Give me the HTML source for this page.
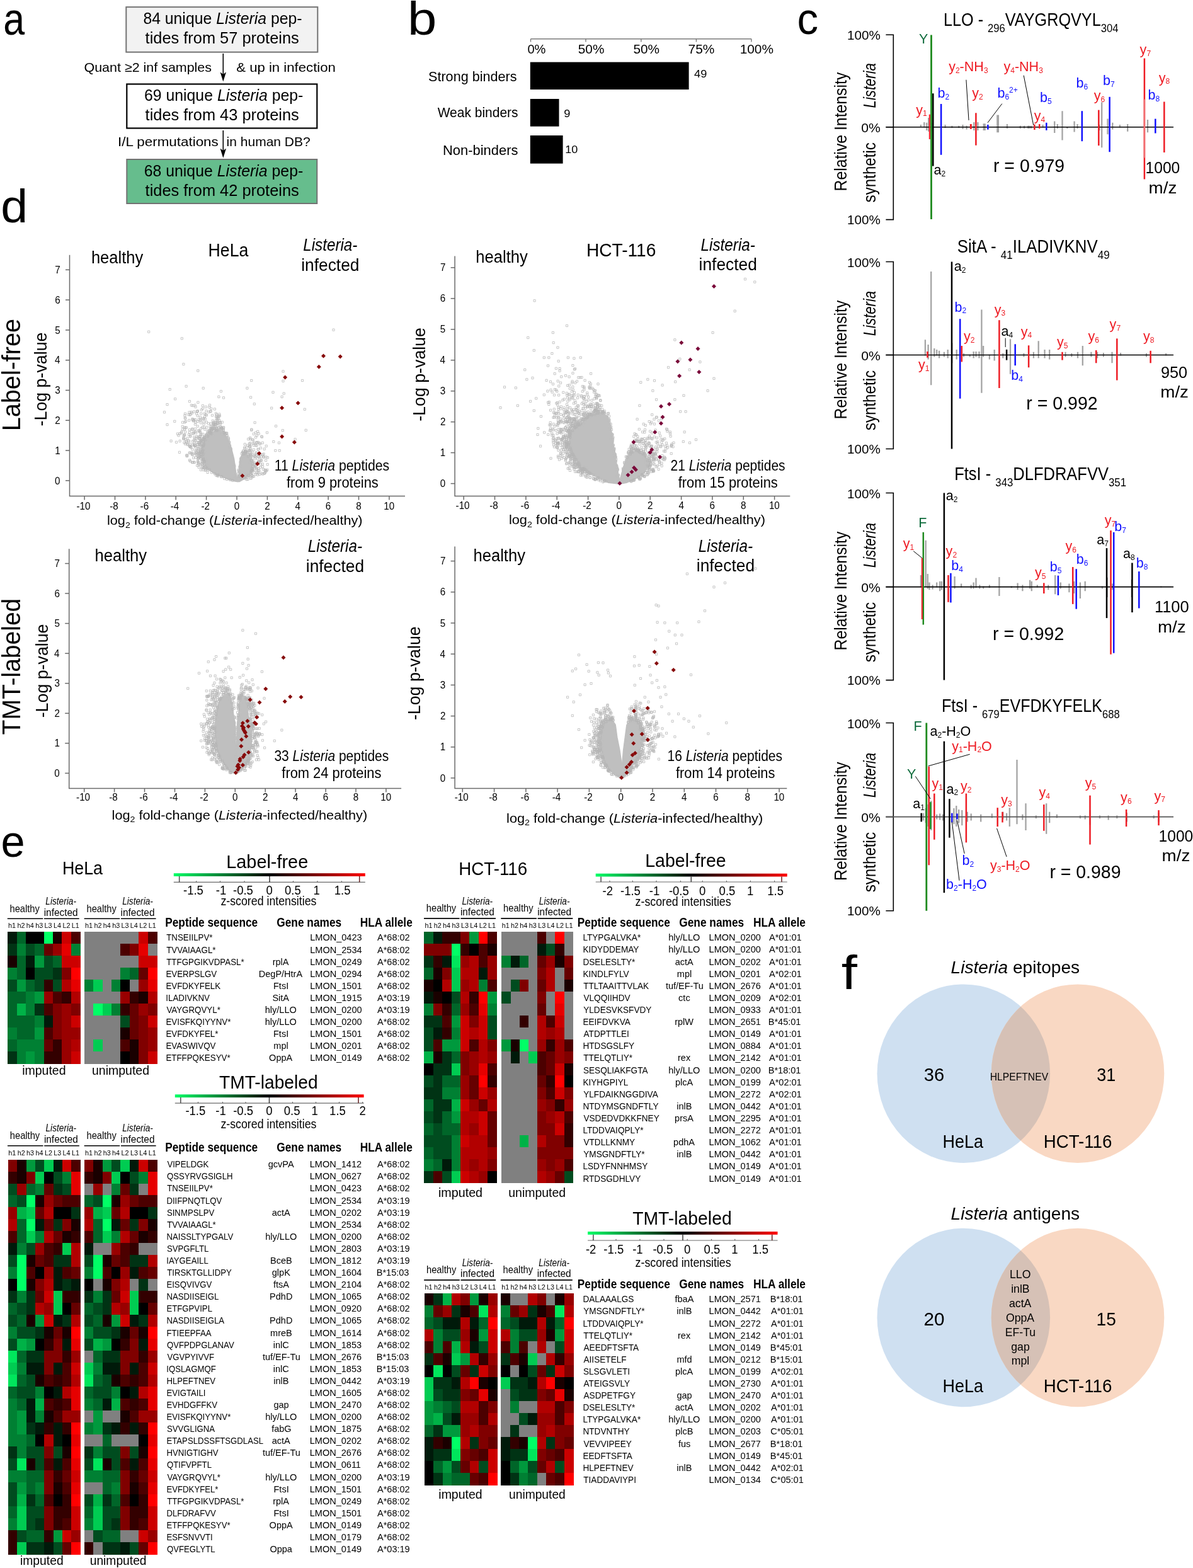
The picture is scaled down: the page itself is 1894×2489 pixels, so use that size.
<!DOCTYPE html>
<html><head><meta charset="utf-8"><title>Figure</title>
<style>
html,body{margin:0;padding:0;background:#fff;}
svg{display:block;}
text{font-family:"Liberation Sans",Arial,sans-serif;}
</style></head><body>
<svg width="1894" height="2489" viewBox="0 0 1894 2489">
<rect width="1894" height="2489" fill="#fff"/>
<text transform="translate(5.2,55) scale(0.847,1)" font-size="72">a</text>
<text transform="translate(647.1,54.6) scale(1.126,1)" font-size="74">b</text>
<text transform="translate(1265.6,54) scale(0.945,1)" font-size="71">c</text>
<text transform="translate(1.2,352.8) scale(1.028,1)" font-size="75">d</text>
<text transform="translate(1.5,1360.3) scale(0.980,1)" font-size="70">e</text>
<text transform="translate(1335.7,1569.8) scale(1.184,1)" font-size="76.5">f</text>
<rect x="200.3" y="11.2" width="304" height="71.5" fill="#f2f2f2" stroke="#727272" stroke-width="2"/>
<rect x="201.3" y="133.5" width="302" height="70" fill="#fff" stroke="#000" stroke-width="2.2"/>
<rect x="201.3" y="253" width="302" height="70" fill="#66bd8d" stroke="#727272" stroke-width="2"/>
<text transform="translate(227.4,38) scale(0.972,1)" font-size="25.5"><tspan x="0" y="0">84 unique </tspan><tspan x="119.1" y="0" font-style="italic">Listeria</tspan><tspan x="201.3" y="0"> pep-</tspan></text>
<text transform="translate(230.6,69.3) scale(0.996,1)" font-size="25.5">tides from 57 proteins</text>
<text transform="translate(229,160) scale(0.973,1)" font-size="25.5"><tspan x="0" y="0">69 unique </tspan><tspan x="119.1" y="0" font-style="italic">Listeria</tspan><tspan x="201.3" y="0"> pep-</tspan></text>
<text transform="translate(230.6,191.3) scale(0.996,1)" font-size="25.5">tides from 43 proteins</text>
<text transform="translate(228.8,280) scale(0.973,1)" font-size="25.5"><tspan x="0" y="0">68 unique </tspan><tspan x="119.1" y="0" font-style="italic">Listeria</tspan><tspan x="201.3" y="0"> pep-</tspan></text>
<text transform="translate(230.6,311.3) scale(0.996,1)" font-size="25.5">tides from 42 proteins</text>
<line x1="354.3" y1="85" x2="354.3" y2="120" stroke="#000" stroke-width="1.6"/><path d="M349.6 114.6 L354.3 129.6 L359 114.6 L354.3 118 Z"/>
<line x1="354.3" y1="207" x2="354.3" y2="242" stroke="#000" stroke-width="1.6"/><path d="M349.6 235.7 L354.3 250.7 L359 235.7 L354.3 239.1 Z"/>
<text transform="translate(133.5,114) scale(1.022,1)" font-size="21">Quant ≥2 inf samples</text>
<text transform="translate(375.2,114) scale(1.056,1)" font-size="21">&amp; up in infection</text>
<text transform="translate(187,232) scale(1.067,1)" font-size="21">I/L permutations</text>
<text transform="translate(359.6,232) scale(1.000,1)" font-size="21">in human DB?</text>
<g stroke="#7a7a7a" stroke-width="1.4"><line x1="842.5" y1="61.8" x2="1193" y2="61.8"/>
<line x1="842.5" y1="61.8" x2="842.5" y2="66.5"/>
<line x1="930" y1="61.8" x2="930" y2="66.5"/>
<line x1="1017.8" y1="61.8" x2="1017.8" y2="66.5"/>
<line x1="1105.4" y1="61.8" x2="1105.4" y2="66.5"/>
<line x1="1192.9" y1="61.8" x2="1192.9" y2="66.5"/>
</g>
<text transform="translate(837.4,84.6) scale(1.004,1)" font-size="20">0%</text>
<text transform="translate(917.8,84.6) scale(1.039,1)" font-size="20">50%</text>
<text transform="translate(1005.5,84.6) scale(1.039,1)" font-size="20">50%</text>
<text transform="translate(1092.6,84.6) scale(1.044,1)" font-size="20">75%</text>
<text transform="translate(1174.7,84.6) scale(1.041,1)" font-size="20">100%</text>
<rect x="841.8" y="98.6" width="251.8" height="43.5"/>
<rect x="841.8" y="157" width="45.7" height="43.7"/>
<rect x="841.8" y="215" width="51.8" height="44.6"/>
<text transform="translate(680,128.6) scale(1.006,1)" font-size="21.5">Strong binders</text>
<text transform="translate(694.7,185.7) scale(0.976,1)" font-size="21.5">Weak binders</text>
<text transform="translate(703,246.4) scale(1.020,1)" font-size="21.5">Non-binders</text>
<text transform="translate(1102.1,123) scale(1.095,1)" font-size="16.6">49</text>
<text transform="translate(895.2,185.7) scale(1.101,1)" font-size="16.6">9</text>
<text transform="translate(897.2,242.9) scale(1.084,1)" font-size="16.6">10</text>
<g stroke="#000" stroke-width="1.6" fill="none"><path d="M1406.4 55.3 H1418.3 V348.6 H1406.4"/><line x1="1406.4" y1="201.7" x2="1418.3" y2="201.7"/></g>
<text transform="translate(1345,63.3) scale(1.031,1)" font-size="20">100%</text>
<text transform="translate(1367.2,210.2) scale(1.058,1)" font-size="20">0%</text>
<text transform="translate(1345,355.6) scale(1.031,1)" font-size="20">100%</text>
<text transform="translate(1344,208) rotate(-90) translate(-95.5,0) scale(0.919,1)" font-size="27">Relative Intensity</text>
<text transform="translate(1390,135.7) rotate(-90) translate(-35.7,0) scale(0.820,1)" font-size="27"><tspan x="0" y="0" font-style="italic">Listeria</tspan></text>
<text transform="translate(1390,273.7) rotate(-90) translate(-47.7,0) scale(0.895,1)" font-size="27">synthetic</text>
<path d="M1461.9 197.9V201.7M1467.3 194V202.5M1471.2 194.8V207.1M1474.3 187V208.7M1478.9 194.8V208.7M1500.6 197.9V203.3M1511.4 199.4V203.3M1522.3 199.4V203.3M1528.5 197.9V204.8M1534.6 199.4V205.6M1546.3 194V207.1M1552.4 194V207.1M1561.7 196.3V207.1M1563.7 196.3V207.1M1583.4 182.4V210.2M1584.9 182.4V210.2M1598.9 197.1V204M1619.8 199.4V204M1626 199.4V204M1632.1 199.4V204M1636.8 199.4V204M1633.9 199.4V204M1655.6 197.9V202.5M1674.2 192.4V211M1678.8 197.1V204M1686.5 176.2V222.6M1694.3 201V204M1705.6 192.4V209.5M1710.5 197.1V204M1745.4 197.9V207.1M1749.2 162.3V234.2M1758.5 188.6V213.3M1766.3 194.8V205.6M1777.9 197.9V202.5M1790.2 197.1V208.7M1822 190.1V210.2" stroke="#a4a4a4" stroke-width="2.3" fill="none"/>
<line x1="1406.4" y1="201.7" x2="1863" y2="201.7" stroke="#000" stroke-width="1.6"/>
<line x1="1478.5" y1="55.5" x2="1478.5" y2="348" stroke="#1e8a1e" stroke-width="2.8"/>
<line x1="1481.3" y1="148.3" x2="1481.3" y2="263.6" stroke="#000" stroke-width="2.5"/>
<line x1="1475.8" y1="181.6" x2="1475.8" y2="221" stroke="#ee1c24" stroke-width="2"/>
<line x1="1494.1" y1="165" x2="1494.1" y2="245.8" stroke="#1010ff" stroke-width="2.5"/>
<line x1="1541.3" y1="197" x2="1541.3" y2="204.8" stroke="#ee1c24" stroke-width="3"/>
<line x1="1549.4" y1="179.3" x2="1549.4" y2="230.7" stroke="#ee1c24" stroke-width="2.5"/>
<line x1="1568.4" y1="197.9" x2="1568.4" y2="205.6" stroke="#1010ff" stroke-width="2.5"/>
<line x1="1642.4" y1="197.5" x2="1642.4" y2="206" stroke="#ee1c24" stroke-width="2.5"/>
<line x1="1650.2" y1="197" x2="1650.2" y2="204" stroke="#ee1c24" stroke-width="2.5"/>
<line x1="1661.3" y1="194.8" x2="1661.3" y2="206.8" stroke="#1010ff" stroke-width="2.5"/>
<line x1="1717.8" y1="176.2" x2="1717.8" y2="224.2" stroke="#1010ff" stroke-width="2.5"/>
<line x1="1744.3" y1="174.6" x2="1744.3" y2="231.1" stroke="#ee1c24" stroke-width="2.5"/>
<line x1="1761.6" y1="153.8" x2="1761.6" y2="241.2" stroke="#1010ff" stroke-width="2.5"/>
<line x1="1816.9" y1="92.6" x2="1816.9" y2="284.5" stroke="#ee1c24" stroke-width="2.5"/>
<line x1="1834.3" y1="188.6" x2="1834.3" y2="211.5" stroke="#1010ff" stroke-width="2.5"/>
<line x1="1848.3" y1="161.5" x2="1848.3" y2="242" stroke="#ee1c24" stroke-width="2.5"/>
<line x1="1533.9" y1="126.7" x2="1538" y2="190.9" stroke="#000" stroke-width="1"/>
<line x1="1568" y1="194.8" x2="1590.8" y2="164.6" stroke="#000" stroke-width="1"/>
<line x1="1625.2" y1="119.7" x2="1640.7" y2="198.6" stroke="#000" stroke-width="1"/>
<text transform="translate(1459.1,69.4) scale(1.000,1)" font-size="21.5" fill="#0d6b3b">Y</text>
<text transform="translate(1482.4,276.8) scale(1.000,1)" font-size="21.5" fill="#000"><tspan x="0" y="0">a</tspan><tspan x="12" y="2.8" font-size="12">2</tspan></text>
<text transform="translate(1454.2,181.6) scale(1.000,1)" font-size="21.5" fill="#ee1c24"><tspan x="0" y="0">y</tspan><tspan x="10.8" y="2.8" font-size="12">1</tspan></text>
<text transform="translate(1488.6,154.8) scale(1.000,1)" font-size="21.5" fill="#1010ff"><tspan x="0" y="0">b</tspan><tspan x="12" y="2.8" font-size="12">2</tspan></text>
<text transform="translate(1543.3,154.8) scale(1.000,1)" font-size="21.5" fill="#ee1c24"><tspan x="0" y="0">y</tspan><tspan x="10.8" y="2.8" font-size="12">2</tspan></text>
<text transform="translate(1506.2,112.9) scale(1.000,1)" font-size="21.5" fill="#ee1c24"><tspan x="0" y="0">y</tspan><tspan x="10.8" y="2.8" font-size="12">2</tspan><tspan x="17.4" y="0">-NH</tspan><tspan x="55.7" y="2.8" font-size="12">3</tspan></text>
<text transform="translate(1583.4,154.8) scale(1.000,1)" font-size="21.5" fill="#1010ff"><tspan x="0" y="0">b</tspan><tspan x="12" y="2.8" font-size="12">6</tspan><tspan x="18.7" y="-7.7" font-size="12">2+</tspan></text>
<text transform="translate(1593.5,112.9) scale(1.000,1)" font-size="21.5" fill="#ee1c24"><tspan x="0" y="0">y</tspan><tspan x="10.8" y="2.8" font-size="12">4</tspan><tspan x="17.4" y="0">-NH</tspan><tspan x="55.7" y="2.8" font-size="12">3</tspan></text>
<text transform="translate(1641.7,190.9) scale(1.000,1)" font-size="21.5" fill="#ee1c24"><tspan x="0" y="0">y</tspan><tspan x="10.8" y="2.8" font-size="12">4</tspan></text>
<text transform="translate(1651.1,162.3) scale(1.000,1)" font-size="21.5" fill="#1010ff"><tspan x="0" y="0">b</tspan><tspan x="12" y="2.8" font-size="12">5</tspan></text>
<text transform="translate(1708.4,139) scale(1.000,1)" font-size="21.5" fill="#1010ff"><tspan x="0" y="0">b</tspan><tspan x="12" y="2.8" font-size="12">6</tspan></text>
<text transform="translate(1736.8,159.2) scale(1.000,1)" font-size="21.5" fill="#ee1c24"><tspan x="0" y="0">y</tspan><tspan x="10.8" y="2.8" font-size="12">6</tspan></text>
<text transform="translate(1750.9,135.2) scale(1.000,1)" font-size="21.5" fill="#1010ff"><tspan x="0" y="0">b</tspan><tspan x="12" y="2.8" font-size="12">7</tspan></text>
<text transform="translate(1809.6,86.4) scale(1.000,1)" font-size="21.5" fill="#ee1c24"><tspan x="0" y="0">y</tspan><tspan x="10.8" y="2.8" font-size="12">7</tspan></text>
<text transform="translate(1822.6,158.4) scale(1.000,1)" font-size="21.5" fill="#1010ff"><tspan x="0" y="0">b</tspan><tspan x="12" y="2.8" font-size="12">8</tspan></text>
<text transform="translate(1839.8,130.5) scale(1.000,1)" font-size="21.5" fill="#ee1c24"><tspan x="0" y="0">y</tspan><tspan x="10.8" y="2.8" font-size="12">8</tspan></text>
<text transform="translate(1577,273) scale(0.981,1)" font-size="29">r = 0.979</text>
<text transform="translate(1818.6,275.2) scale(0.946,1)" font-size="26">1000</text>
<text transform="translate(1823.6,306.7) scale(1.068,1)" font-size="26">m/z</text>
<text transform="translate(1498,40.7) scale(0.870,1)" font-size="29"><tspan x="0" y="0">LLO - </tspan><tspan x="80.6" y="9.9" font-size="19.1">296</tspan><tspan x="112.5" y="0">VAYGRQVYL</tspan><tspan x="287.1" y="9.9" font-size="19.1">304</tspan></text>
<line x1="1816.9" y1="157.6" x2="1816.9" y2="250.5" stroke="#f26d70" stroke-width="2.5"/>
<g stroke="#000" stroke-width="1.6" fill="none"><path d="M1406.4 415.5 H1418.3 V712.5 H1406.4"/><line x1="1406.4" y1="563.5" x2="1418.3" y2="563.5"/></g>
<text transform="translate(1345,423.5) scale(1.031,1)" font-size="20">100%</text>
<text transform="translate(1367.2,572) scale(1.058,1)" font-size="20">0%</text>
<text transform="translate(1345,719.5) scale(1.031,1)" font-size="20">100%</text>
<text transform="translate(1344,570) rotate(-90) translate(-95.5,0) scale(0.919,1)" font-size="27">Relative Intensity</text>
<text transform="translate(1390,497.5) rotate(-90) translate(-35.7,0) scale(0.820,1)" font-size="27"><tspan x="0" y="0" font-style="italic">Listeria</tspan></text>
<text transform="translate(1390,635.5) rotate(-90) translate(-47.7,0) scale(0.895,1)" font-size="27">synthetic</text>
<path d="M1468.9 539.3V564.6M1473.6 547.1V570.5M1478.2 431.1V611.3M1483.3 553V566.6M1487.2 554.9V564.6M1491.1 556.8V568.5M1498.9 558.8V566.6M1504.7 554.9V568.5M1511.3 544.4V576.3M1518.7 554.9V570.5M1530 560.7V566.6M1539.7 562.7V566.6M1545.6 558V568.5M1549.5 558V566.6M1554.5 558V568.5M1558.4 491.4V623.8M1561.1 549.1V566.6M1570.9 562.7V570.5M1578.7 554.9V572.4M1592.3 560.7V568.5M1604 538.2V593.8M1625.4 560.7V566.6M1640.9 558.8V568.5M1648.7 541.3V568.5M1658.5 554.9V568.5M1666.2 554.9V570.5M1691.5 558.8V566.6M1701.3 560.7V566.6M1711 558.8V568.5M1718.8 549.1V580.2M1732.4 558.8V566.6M1742.1 558.8V568.5M1751.9 560V566.6M1765.5 558.8V576.3M1779.1 560V564.6M1820 560.7V566.6M1851.1 560.7V564.6" stroke="#a4a4a4" stroke-width="2.3" fill="none"/>
<line x1="1406.4" y1="563.5" x2="1863" y2="563.5" stroke="#000" stroke-width="1.6"/>
<line x1="1511" y1="415.5" x2="1511" y2="712.5" stroke="#000" stroke-width="2.5"/>
<line x1="1524.2" y1="506.2" x2="1524.2" y2="632.7" stroke="#1010ff" stroke-width="2.5"/>
<line x1="1526.8" y1="549" x2="1526.8" y2="574.4" stroke="#ee1c24" stroke-width="2.5"/>
<line x1="1472.4" y1="558" x2="1472.4" y2="567.7" stroke="#ee1c24" stroke-width="2.5"/>
<line x1="1586.4" y1="508.2" x2="1586.4" y2="616" stroke="#ee1c24" stroke-width="2.5"/>
<line x1="1598.1" y1="554.9" x2="1598.1" y2="571.6" stroke="#000" stroke-width="2.5"/>
<line x1="1611.7" y1="546.3" x2="1611.7" y2="580.2" stroke="#1010ff" stroke-width="2.5"/>
<line x1="1633.1" y1="548.3" x2="1633.1" y2="583.3" stroke="#ee1c24" stroke-width="2.5"/>
<line x1="1686.5" y1="558.8" x2="1686.5" y2="571.6" stroke="#ee1c24" stroke-width="2.5"/>
<line x1="1740.2" y1="556" x2="1740.2" y2="576.3" stroke="#ee1c24" stroke-width="2.5"/>
<line x1="1773.3" y1="537.4" x2="1773.3" y2="603.6" stroke="#ee1c24" stroke-width="2.5"/>
<line x1="1826.6" y1="556.8" x2="1826.6" y2="576.3" stroke="#ee1c24" stroke-width="2.5"/>
<line x1="1596.2" y1="536.6" x2="1596.2" y2="551" stroke="#000" stroke-width="1"/>
<text transform="translate(1514.7,430.3) scale(1.000,1)" font-size="21.5" fill="#000"><tspan x="0" y="0">a</tspan><tspan x="12" y="2.8" font-size="12">2</tspan></text>
<text transform="translate(1515.6,494.6) scale(1.000,1)" font-size="21.5" fill="#1010ff"><tspan x="0" y="0">b</tspan><tspan x="12" y="2.8" font-size="12">2</tspan></text>
<text transform="translate(1530,541.3) scale(1.000,1)" font-size="21.5" fill="#ee1c24"><tspan x="0" y="0">y</tspan><tspan x="10.8" y="2.8" font-size="12">2</tspan></text>
<text transform="translate(1458,586) scale(1.000,1)" font-size="21.5" fill="#ee1c24"><tspan x="0" y="0">y</tspan><tspan x="10.8" y="2.8" font-size="12">1</tspan></text>
<text transform="translate(1578.7,498.5) scale(1.000,1)" font-size="21.5" fill="#ee1c24"><tspan x="0" y="0">y</tspan><tspan x="10.8" y="2.8" font-size="12">3</tspan></text>
<text transform="translate(1589.4,532.7) scale(1.000,1)" font-size="21.5" fill="#000"><tspan x="0" y="0">a</tspan><tspan x="12" y="2.8" font-size="12">4</tspan></text>
<text transform="translate(1605.3,602.8) scale(1.000,1)" font-size="21.5" fill="#1010ff"><tspan x="0" y="0">b</tspan><tspan x="12" y="2.8" font-size="12">4</tspan></text>
<text transform="translate(1620.7,533.5) scale(1.000,1)" font-size="21.5" fill="#ee1c24"><tspan x="0" y="0">y</tspan><tspan x="10.8" y="2.8" font-size="12">4</tspan></text>
<text transform="translate(1677.9,549.8) scale(1.000,1)" font-size="21.5" fill="#ee1c24"><tspan x="0" y="0">y</tspan><tspan x="10.8" y="2.8" font-size="12">5</tspan></text>
<text transform="translate(1727.4,541.3) scale(1.000,1)" font-size="21.5" fill="#ee1c24"><tspan x="0" y="0">y</tspan><tspan x="10.8" y="2.8" font-size="12">6</tspan></text>
<text transform="translate(1761.6,521.8) scale(1.000,1)" font-size="21.5" fill="#ee1c24"><tspan x="0" y="0">y</tspan><tspan x="10.8" y="2.8" font-size="12">7</tspan></text>
<text transform="translate(1815,541.3) scale(1.000,1)" font-size="21.5" fill="#ee1c24"><tspan x="0" y="0">y</tspan><tspan x="10.8" y="2.8" font-size="12">8</tspan></text>
<text transform="translate(1629.3,650.3) scale(0.983,1)" font-size="29">r = 0.992</text>
<text transform="translate(1843,599.7) scale(0.971,1)" font-size="26">950</text>
<text transform="translate(1842.3,631.2) scale(1.068,1)" font-size="26">m/z</text>
<text transform="translate(1519.8,401.1) scale(0.891,1)" font-size="29"><tspan x="0" y="0">SitA - </tspan><tspan x="77.4" y="9.9" font-size="19.1">41</tspan><tspan x="98.7" y="0">ILADIVKNV</tspan><tspan x="250.2" y="9.9" font-size="19.1">49</tspan></text>
<g stroke="#000" stroke-width="1.6" fill="none"><path d="M1406.4 782.5 H1418.3 V1079.6 H1406.4"/><line x1="1406.4" y1="931.6" x2="1418.3" y2="931.6"/></g>
<text transform="translate(1345,790.5) scale(1.031,1)" font-size="20">100%</text>
<text transform="translate(1367.2,940.1) scale(1.058,1)" font-size="20">0%</text>
<text transform="translate(1345,1086.6) scale(1.031,1)" font-size="20">100%</text>
<text transform="translate(1344,937) rotate(-90) translate(-95.5,0) scale(0.919,1)" font-size="27">Relative Intensity</text>
<text transform="translate(1390,865.6) rotate(-90) translate(-35.7,0) scale(0.820,1)" font-size="27"><tspan x="0" y="0" font-style="italic">Listeria</tspan></text>
<text transform="translate(1390,1003.6) rotate(-90) translate(-47.7,0) scale(0.895,1)" font-size="27">synthetic</text>
<path d="M1461.9 913V932.4M1469.7 857.7V931.6M1472.8 911V934.4M1475.5 924.6V936.3M1480.6 928.5V935.5M1487.2 924.6V932.4M1492.2 922.7V938.3M1495 922.7V936.3M1515.6 914.9V934.4M1526.1 926.6V932.4M1541.7 928.5V934.4M1545.6 924.6V934.4M1549.5 917.6V933.2M1555.3 928.5V934.4M1561.1 930.5V934.4M1570.9 928.5V933.2M1586.4 916.1V946M1605.9 930.5V933.2M1615.6 925.4V936.3M1623.4 928.5V938.3M1635.1 920.7V934.4M1637.8 922.7V938.3M1646.8 928.5V932.4M1664.3 928.5V936.3M1675.2 913V943.3M1683.8 924.6V934.4M1697.4 926.6V940.2M1705.2 922.7V942.1M1714.9 924.6V949.9M1722.7 922.7V938.3M1749.9 930.5V934.4M1757.7 916.8V948M1766.3 926.6V936.3M1796.6 920V948M1843.3 930.5V932.4" stroke="#a4a4a4" stroke-width="2.3" fill="none"/>
<line x1="1406.4" y1="931.6" x2="1863" y2="931.6" stroke="#000" stroke-width="1.6"/>
<line x1="1498.9" y1="782.5" x2="1498.9" y2="1079.6" stroke="#000" stroke-width="2.5"/>
<line x1="1465.8" y1="844.8" x2="1465.8" y2="991.6" stroke="#1e8a1e" stroke-width="2.5"/>
<line x1="1463.8" y1="885.7" x2="1463.8" y2="983" stroke="#ee1c24" stroke-width="2"/>
<line x1="1505.5" y1="913" x2="1505.5" y2="955.8" stroke="#ee1c24" stroke-width="2.5"/>
<line x1="1509.4" y1="909.8" x2="1509.4" y2="956.5" stroke="#1010ff" stroke-width="2.5"/>
<line x1="1657.3" y1="925.4" x2="1657.3" y2="942.1" stroke="#ee1c24" stroke-width="2.5"/>
<line x1="1679.9" y1="913.7" x2="1679.9" y2="944.9" stroke="#1010ff" stroke-width="2.5"/>
<line x1="1703.2" y1="900.1" x2="1703.2" y2="958.9" stroke="#ee1c24" stroke-width="2.5"/>
<line x1="1708.7" y1="903.2" x2="1708.7" y2="966.7" stroke="#1010ff" stroke-width="2.5"/>
<line x1="1757" y1="870.1" x2="1757" y2="981.1" stroke="#000" stroke-width="2.5"/>
<line x1="1763.5" y1="842.1" x2="1763.5" y2="1038.7" stroke="#ee1c24" stroke-width="2.5"/>
<line x1="1768.2" y1="844.8" x2="1768.2" y2="1036.7" stroke="#1010ff" stroke-width="2.5"/>
<line x1="1797.4" y1="893.5" x2="1797.4" y2="972.1" stroke="#000" stroke-width="2.5"/>
<line x1="1808.3" y1="907.1" x2="1808.3" y2="965.5" stroke="#1010ff" stroke-width="2.5"/>
<line x1="1450.2" y1="874.8" x2="1463.8" y2="885.7" stroke="#000" stroke-width="1"/>
<text transform="translate(1501.8,794.2) scale(1.000,1)" font-size="21.5" fill="#000"><tspan x="0" y="0">a</tspan><tspan x="12" y="2.8" font-size="12">2</tspan></text>
<text transform="translate(1458.3,837) scale(1.000,1)" font-size="21.5" fill="#0d6b3b">F</text>
<text transform="translate(1433.8,870.1) scale(1.000,1)" font-size="21.5" fill="#ee1c24"><tspan x="0" y="0">y</tspan><tspan x="10.8" y="2.8" font-size="12">1</tspan></text>
<text transform="translate(1501.6,881.8) scale(1.000,1)" font-size="21.5" fill="#ee1c24"><tspan x="0" y="0">y</tspan><tspan x="10.8" y="2.8" font-size="12">2</tspan></text>
<text transform="translate(1510.3,905.2) scale(1.000,1)" font-size="21.5" fill="#1010ff"><tspan x="0" y="0">b</tspan><tspan x="12" y="2.8" font-size="12">4</tspan></text>
<text transform="translate(1642.9,916.1) scale(1.000,1)" font-size="21.5" fill="#ee1c24"><tspan x="0" y="0">y</tspan><tspan x="10.8" y="2.8" font-size="12">5</tspan></text>
<text transform="translate(1666.8,907.1) scale(1.000,1)" font-size="21.5" fill="#1010ff"><tspan x="0" y="0">b</tspan><tspan x="12" y="2.8" font-size="12">5</tspan></text>
<text transform="translate(1691.5,874) scale(1.000,1)" font-size="21.5" fill="#ee1c24"><tspan x="0" y="0">y</tspan><tspan x="10.8" y="2.8" font-size="12">6</tspan></text>
<text transform="translate(1708.8,895.4) scale(1.000,1)" font-size="21.5" fill="#1010ff"><tspan x="0" y="0">b</tspan><tspan x="12" y="2.8" font-size="12">6</tspan></text>
<text transform="translate(1741.2,864.3) scale(1.000,1)" font-size="21.5" fill="#000"><tspan x="0" y="0">a</tspan><tspan x="12" y="2.8" font-size="12">7</tspan></text>
<text transform="translate(1753.8,833.2) scale(1.000,1)" font-size="21.5" fill="#ee1c24"><tspan x="0" y="0">y</tspan><tspan x="10.8" y="2.8" font-size="12">7</tspan></text>
<text transform="translate(1769.2,842.9) scale(1.000,1)" font-size="21.5" fill="#1010ff"><tspan x="0" y="0">b</tspan><tspan x="12" y="2.8" font-size="12">7</tspan></text>
<text transform="translate(1782.9,885.7) scale(1.000,1)" font-size="21.5" fill="#000"><tspan x="0" y="0">a</tspan><tspan x="12" y="2.8" font-size="12">8</tspan></text>
<text transform="translate(1803.8,901.3) scale(1.000,1)" font-size="21.5" fill="#1010ff"><tspan x="0" y="0">b</tspan><tspan x="12" y="2.8" font-size="12">8</tspan></text>
<text transform="translate(1576,1016.1) scale(0.983,1)" font-size="29">r = 0.992</text>
<text transform="translate(1832.9,972.1) scale(0.980,1)" font-size="26">1100</text>
<text transform="translate(1838,1003.6) scale(1.068,1)" font-size="26">m/z</text>
<text transform="translate(1515.2,761.9) scale(0.879,1)" font-size="29"><tspan x="0" y="0">FtsI - </tspan><tspan x="74.1" y="9.9" font-size="19.1">343</tspan><tspan x="106" y="0">DLFDRAFVV</tspan><tspan x="278.5" y="9.9" font-size="19.1">351</tspan></text>
<g stroke="#000" stroke-width="1.6" fill="none"><path d="M1406.4 1147.5 H1418.3 V1445.7 H1406.4"/><line x1="1406.4" y1="1296.6" x2="1418.3" y2="1296.6"/></g>
<text transform="translate(1345,1155.5) scale(1.031,1)" font-size="20">100%</text>
<text transform="translate(1367.2,1305.1) scale(1.058,1)" font-size="20">0%</text>
<text transform="translate(1345,1452.7) scale(1.031,1)" font-size="20">100%</text>
<text transform="translate(1344,1302.6) rotate(-90) translate(-95.5,0) scale(0.919,1)" font-size="27">Relative Intensity</text>
<text transform="translate(1390,1230.6) rotate(-90) translate(-35.7,0) scale(0.820,1)" font-size="27"><tspan x="0" y="0" font-style="italic">Listeria</tspan></text>
<text transform="translate(1390,1368.6) rotate(-90) translate(-47.7,0) scale(0.895,1)" font-size="27">synthetic</text>
<path d="M1465.8 1290.7V1302.4M1469.7 1283V1306.3M1473.6 1277.1V1312.1M1478.2 1271.3V1318M1487.2 1292.7V1300.5M1492.2 1291.5V1301.6M1496.9 1292.7V1302.4M1514.4 1283V1308.3M1518.3 1279.1V1312.1M1522.2 1284.9V1306.3M1527.3 1286.1V1310.2M1535.8 1288.8V1304.4M1541.7 1291.5V1302.4M1557.2 1292.7V1304.4M1574.8 1291.5V1298.5M1592.3 1288.8V1300.5M1598.1 1290.7V1302.4M1602.8 1282.2V1312.1M1614.5 1205.9V1308.3M1623.4 1292.7V1301.6M1628.5 1275.2V1318M1644.8 1294.6V1299.3M1661.2 1275.2V1323.8M1666.2 1288.8V1306.3M1677.9 1292.7V1298.5M1714.9 1294.6V1299.3M1722.7 1294.6V1300.5M1730.5 1286.1V1309.4M1746 1294.6V1299.3M1759.7 1294.6V1301.6M1773.3 1294.6V1299.3M1788.9 1290V1304.4M1831.7 1294.6V1299.3M1839.5 1290V1304.4" stroke="#a4a4a4" stroke-width="2.3" fill="none"/>
<line x1="1406.4" y1="1296.6" x2="1863" y2="1296.6" stroke="#555" stroke-width="1.6"/>
<line x1="1470.8" y1="1147.5" x2="1470.8" y2="1445.7" stroke="#1e8a1e" stroke-width="2.8"/>
<line x1="1498.9" y1="1176.7" x2="1498.9" y2="1417.2" stroke="#000" stroke-width="2.5"/>
<line x1="1474.7" y1="1216.8" x2="1474.7" y2="1373.3" stroke="#ee1c24" stroke-width="2.5"/>
<line x1="1477.4" y1="1273.2" x2="1477.4" y2="1316" stroke="#1e8a1e" stroke-width="2.5"/>
<line x1="1483.3" y1="1259.6" x2="1483.3" y2="1332.8" stroke="#ee1c24" stroke-width="2.5"/>
<line x1="1462.7" y1="1290.7" x2="1462.7" y2="1304.4" stroke="#000" stroke-width="2.5"/>
<line x1="1507.4" y1="1268.2" x2="1507.4" y2="1329.7" stroke="#000" stroke-width="2.5"/>
<line x1="1533.9" y1="1259.6" x2="1533.9" y2="1337.4" stroke="#ee1c24" stroke-width="2.5"/>
<line x1="1511.3" y1="1290.7" x2="1511.3" y2="1305.5" stroke="#1010ff" stroke-width="2.5"/>
<line x1="1519.5" y1="1291.5" x2="1519.5" y2="1300.5" stroke="#1010ff" stroke-width="2.5"/>
<line x1="1583.7" y1="1282.2" x2="1583.7" y2="1312.1" stroke="#ee1c24" stroke-width="2.5"/>
<line x1="1591.5" y1="1288.8" x2="1591.5" y2="1305.5" stroke="#ee1c24" stroke-width="2.5"/>
<line x1="1657.3" y1="1277.1" x2="1657.3" y2="1318.8" stroke="#ee1c24" stroke-width="2.5"/>
<line x1="1730.5" y1="1262.7" x2="1730.5" y2="1340.6" stroke="#ee1c24" stroke-width="2.5"/>
<line x1="1788.1" y1="1284.9" x2="1788.1" y2="1312.1" stroke="#ee1c24" stroke-width="2.5"/>
<line x1="1839.5" y1="1286.1" x2="1839.5" y2="1310.2" stroke="#ee1c24" stroke-width="2.5"/>
<line x1="1473.6" y1="1216" x2="1539.7" y2="1197.3" stroke="#000" stroke-width="1"/>
<line x1="1453.3" y1="1232.3" x2="1477.4" y2="1268.2" stroke="#000" stroke-width="1"/>
<line x1="1519.5" y1="1302.4" x2="1531.2" y2="1355" stroke="#000" stroke-width="1"/>
<line x1="1511.3" y1="1304.4" x2="1523" y2="1397.8" stroke="#000" stroke-width="1"/>
<line x1="1582.5" y1="1314.9" x2="1598.1" y2="1360" stroke="#000" stroke-width="1"/>
<text transform="translate(1450.4,1160.3) scale(1.000,1)" font-size="21.5" fill="#0d6b3b">F</text>
<text transform="translate(1476.5,1168.1) scale(1.000,1)" font-size="21.5" fill="#000"><tspan x="0" y="0">a</tspan><tspan x="12" y="2.8" font-size="12">2</tspan><tspan x="18.7" y="0">-H</tspan><tspan x="41.3" y="2.8" font-size="12">2</tspan><tspan x="48" y="0">O</tspan></text>
<text transform="translate(1511.3,1191.5) scale(1.000,1)" font-size="21.5" fill="#ee1c24"><tspan x="0" y="0">y</tspan><tspan x="10.8" y="2.8" font-size="12">1</tspan><tspan x="17.4" y="0">-H</tspan><tspan x="40.1" y="2.8" font-size="12">2</tspan><tspan x="46.8" y="0">O</tspan></text>
<text transform="translate(1440,1236.2) scale(1.000,1)" font-size="21.5" fill="#0d6b3b">Y</text>
<text transform="translate(1479.4,1251) scale(1.000,1)" font-size="21.5" fill="#ee1c24"><tspan x="0" y="0">y</tspan><tspan x="10.8" y="2.8" font-size="12">1</tspan></text>
<text transform="translate(1449.3,1283) scale(1.000,1)" font-size="21.5" fill="#000"><tspan x="0" y="0">a</tspan><tspan x="12" y="2.8" font-size="12">1</tspan></text>
<text transform="translate(1502.6,1259.6) scale(1.000,1)" font-size="21.5" fill="#000"><tspan x="0" y="0">a</tspan><tspan x="12" y="2.8" font-size="12">2</tspan></text>
<text transform="translate(1525,1254.9) scale(1.000,1)" font-size="21.5" fill="#ee1c24"><tspan x="0" y="0">y</tspan><tspan x="10.8" y="2.8" font-size="12">2</tspan></text>
<text transform="translate(1527.4,1373.3) scale(1.000,1)" font-size="21.5" fill="#1010ff"><tspan x="0" y="0">b</tspan><tspan x="12" y="2.8" font-size="12">2</tspan></text>
<text transform="translate(1502.1,1411.4) scale(1.000,1)" font-size="21.5" fill="#1010ff"><tspan x="0" y="0">b</tspan><tspan x="12" y="2.8" font-size="12">2</tspan><tspan x="18.7" y="0">-H</tspan><tspan x="41.3" y="2.8" font-size="12">2</tspan><tspan x="48" y="0">O</tspan></text>
<text transform="translate(1572,1381) scale(1.000,1)" font-size="21.5" fill="#ee1c24"><tspan x="0" y="0">y</tspan><tspan x="10.8" y="2.8" font-size="12">3</tspan><tspan x="17.4" y="0">-H</tspan><tspan x="40.1" y="2.8" font-size="12">2</tspan><tspan x="46.8" y="0">O</tspan></text>
<text transform="translate(1589.2,1277.1) scale(1.000,1)" font-size="21.5" fill="#ee1c24"><tspan x="0" y="0">y</tspan><tspan x="10.8" y="2.8" font-size="12">3</tspan></text>
<text transform="translate(1649.5,1265.4) scale(1.000,1)" font-size="21.5" fill="#ee1c24"><tspan x="0" y="0">y</tspan><tspan x="10.8" y="2.8" font-size="12">4</tspan></text>
<text transform="translate(1722.7,1249.9) scale(1.000,1)" font-size="21.5" fill="#ee1c24"><tspan x="0" y="0">y</tspan><tspan x="10.8" y="2.8" font-size="12">5</tspan></text>
<text transform="translate(1779.1,1273.2) scale(1.000,1)" font-size="21.5" fill="#ee1c24"><tspan x="0" y="0">y</tspan><tspan x="10.8" y="2.8" font-size="12">6</tspan></text>
<text transform="translate(1832.4,1270.5) scale(1.000,1)" font-size="21.5" fill="#ee1c24"><tspan x="0" y="0">y</tspan><tspan x="10.8" y="2.8" font-size="12">7</tspan></text>
<text transform="translate(1666.4,1393.9) scale(0.981,1)" font-size="29">r = 0.989</text>
<text transform="translate(1839.6,1335.5) scale(0.946,1)" font-size="26">1000</text>
<text transform="translate(1844.6,1367) scale(1.068,1)" font-size="26">m/z</text>
<text transform="translate(1494.9,1130.4) scale(0.866,1)" font-size="29"><tspan x="0" y="0">FtsI - </tspan><tspan x="74.1" y="9.9" font-size="19.1">679</tspan><tspan x="106" y="0">EVFDKYFELK</tspan><tspan x="294.6" y="9.9" font-size="19.1">688</tspan></text>
<g stroke="#6a6a6a" stroke-width="1.5" fill="none"><path d="M110.5 404.8 V787.6 H643"/><line x1="104" y1="762.9" x2="110.5" y2="762.9"/><line x1="104" y1="715.1" x2="110.5" y2="715.1"/><line x1="104" y1="667.3" x2="110.5" y2="667.3"/><line x1="104" y1="619.5" x2="110.5" y2="619.5"/><line x1="104" y1="571.7" x2="110.5" y2="571.7"/><line x1="104" y1="523.9" x2="110.5" y2="523.9"/><line x1="104" y1="476.1" x2="110.5" y2="476.1"/><line x1="104" y1="428.3" x2="110.5" y2="428.3"/><line x1="134.1" y1="787.6" x2="134.1" y2="793.6"/><line x1="182.5" y1="787.6" x2="182.5" y2="793.6"/><line x1="230.9" y1="787.6" x2="230.9" y2="793.6"/><line x1="279.2" y1="787.6" x2="279.2" y2="793.6"/><line x1="327.6" y1="787.6" x2="327.6" y2="793.6"/><line x1="376" y1="787.6" x2="376" y2="793.6"/><line x1="424.4" y1="787.6" x2="424.4" y2="793.6"/><line x1="472.8" y1="787.6" x2="472.8" y2="793.6"/><line x1="521.1" y1="787.6" x2="521.1" y2="793.6"/><line x1="569.5" y1="787.6" x2="569.5" y2="793.6"/><line x1="617.9" y1="787.6" x2="617.9" y2="793.6"/></g>
<text transform="translate(87.1,768.5) scale(0.950,1)" font-size="16">0</text>
<text transform="translate(87.2,720.7) scale(0.950,1)" font-size="16">1</text>
<text transform="translate(87.3,672.9) scale(0.950,1)" font-size="16">2</text>
<text transform="translate(87.2,625.1) scale(0.950,1)" font-size="16">3</text>
<text transform="translate(86.9,577.3) scale(0.950,1)" font-size="16">4</text>
<text transform="translate(87.2,529.5) scale(0.950,1)" font-size="16">5</text>
<text transform="translate(87.2,481.7) scale(0.950,1)" font-size="16">6</text>
<text transform="translate(87.3,433.9) scale(0.950,1)" font-size="16">7</text>
<text transform="translate(121.5,808.6) scale(0.950,1)" font-size="16">-10</text>
<text transform="translate(174.2,808.6) scale(0.950,1)" font-size="16">-8</text>
<text transform="translate(222.6,808.6) scale(0.950,1)" font-size="16">-6</text>
<text transform="translate(270.8,808.6) scale(0.950,1)" font-size="16">-4</text>
<text transform="translate(319.4,808.6) scale(0.950,1)" font-size="16">-2</text>
<text transform="translate(371.7,808.6) scale(0.950,1)" font-size="16">0</text>
<text transform="translate(420.2,808.6) scale(0.950,1)" font-size="16">2</text>
<text transform="translate(468.6,808.6) scale(0.950,1)" font-size="16">4</text>
<text transform="translate(516.8,808.6) scale(0.950,1)" font-size="16">6</text>
<text transform="translate(565.3,808.6) scale(0.950,1)" font-size="16">8</text>
<text transform="translate(609.2,808.6) scale(0.950,1)" font-size="16">10</text>
<path d="M376.4 764.3 L374.3 750 L371.4 728.6 L367.1 711.4 L362.9 700 L357.1 691.4 L350 684.3 L345.7 682.9 L340 685.7 L331.4 691.4 L324.3 700 L322.9 714.3 L324.3 728.6 L328.6 742.9 L340 751.4 L354.3 757.1 L364.3 761.4 Z" fill="#bfbfbf" stroke="#bfbfbf" stroke-width="2" stroke-linejoin="round"/>
<path d="M376.4 764.3 L379.3 755.7 L381.4 728.6 L384.3 721.4 L390 721.4 L397.1 728.6 L400 740 L397.1 751.4 L390 758.6 L380 764.3 Z" fill="#bfbfbf" stroke="#bfbfbf" stroke-width="2" stroke-linejoin="round"/>
<path d="M319.7 697.1h3.2v3.2h-3.2zM378.3 754.2h3.2v3.2h-3.2zM345.1 677.5h3.2v3.2h-3.2zM322.7 691.5h3.2v3.2h-3.2zM336.4 688.3h3.2v3.2h-3.2zM377.2 745.9h3.2v3.2h-3.2zM351.3 687.5h3.2v3.2h-3.2zM325.8 688.4h3.2v3.2h-3.2zM350.8 684.9h3.2v3.2h-3.2zM364.7 710.2h3.2v3.2h-3.2zM384.5 722.3h3.2v3.2h-3.2zM324.2 696.6h3.2v3.2h-3.2zM379 746h3.2v3.2h-3.2zM388.7 721.6h3.2v3.2h-3.2zM397.2 741.6h3.2v3.2h-3.2zM320.4 725.4h3.2v3.2h-3.2zM397.9 749.9h3.2v3.2h-3.2zM365.3 713.9h3.2v3.2h-3.2zM402.3 739.7h3.2v3.2h-3.2zM338.8 678.5h3.2v3.2h-3.2zM362.5 700.8h3.2v3.2h-3.2zM317 715.9h3.2v3.2h-3.2zM393.4 753.6h3.2v3.2h-3.2zM358.8 689.4h3.2v3.2h-3.2zM319.2 722.9h3.2v3.2h-3.2zM367.1 758.7h3.2v3.2h-3.2zM381.3 734.5h3.2v3.2h-3.2zM393.5 753.9h3.2v3.2h-3.2zM322.8 730.6h3.2v3.2h-3.2zM325.2 729.2h3.2v3.2h-3.2zM383.9 716.5h3.2v3.2h-3.2zM399.9 734.5h3.2v3.2h-3.2zM316.7 712.8h3.2v3.2h-3.2zM397.4 747.8h3.2v3.2h-3.2zM323.7 739.6h3.2v3.2h-3.2zM361.4 694.7h3.2v3.2h-3.2zM353.8 685h3.2v3.2h-3.2zM378.7 754.4h3.2v3.2h-3.2zM381.9 725.7h3.2v3.2h-3.2zM342.3 684.6h3.2v3.2h-3.2zM381.4 729.6h3.2v3.2h-3.2zM372.2 758.5h3.2v3.2h-3.2zM382 718.4h3.2v3.2h-3.2zM324.2 702.5h3.2v3.2h-3.2zM348.5 679.6h3.2v3.2h-3.2zM348.8 682.5h3.2v3.2h-3.2zM335.8 686.7h3.2v3.2h-3.2zM320.5 705.3h3.2v3.2h-3.2zM395.8 733.3h3.2v3.2h-3.2zM321.5 693.3h3.2v3.2h-3.2zM362.6 704.4h3.2v3.2h-3.2zM380 731.6h3.2v3.2h-3.2zM334.8 744.7h3.2v3.2h-3.2zM379.1 739.5h3.2v3.2h-3.2zM342 682.9h3.2v3.2h-3.2zM362.7 708.8h3.2v3.2h-3.2zM320.3 711.2h3.2v3.2h-3.2zM389.1 716.4h3.2v3.2h-3.2zM337.3 687.1h3.2v3.2h-3.2zM357.1 686.2h3.2v3.2h-3.2zM323 715h3.2v3.2h-3.2zM320.4 708.8h3.2v3.2h-3.2zM322.4 726.3h3.2v3.2h-3.2zM318.2 697.4h3.2v3.2h-3.2zM384.3 716.5h3.2v3.2h-3.2zM324.3 693h3.2v3.2h-3.2zM325.4 729.1h3.2v3.2h-3.2zM371.4 751.7h3.2v3.2h-3.2zM396.8 724.7h3.2v3.2h-3.2zM385.1 720.6h3.2v3.2h-3.2zM323.9 693.6h3.2v3.2h-3.2zM323.2 696.2h3.2v3.2h-3.2zM389.7 716h3.2v3.2h-3.2zM384.5 719h3.2v3.2h-3.2zM319.9 731h3.2v3.2h-3.2zM399.6 743h3.2v3.2h-3.2zM316.6 714.6h3.2v3.2h-3.2zM397.5 723.1h3.2v3.2h-3.2zM321.5 715.7h3.2v3.2h-3.2zM319.2 724.2h3.2v3.2h-3.2zM397.5 743.5h3.2v3.2h-3.2zM341.8 681.1h3.2v3.2h-3.2zM366.2 720h3.2v3.2h-3.2zM397.8 733.1h3.2v3.2h-3.2zM391 722.9h3.2v3.2h-3.2zM347 680.3h3.2v3.2h-3.2zM346.7 680.1h3.2v3.2h-3.2zM401.8 732.4h3.2v3.2h-3.2zM328 742.7h3.2v3.2h-3.2zM319 703.3h3.2v3.2h-3.2zM392.9 722h3.2v3.2h-3.2zM357.9 686.2h3.2v3.2h-3.2zM326.9 697.1h3.2v3.2h-3.2zM331 685.4h3.2v3.2h-3.2zM380.2 732.9h3.2v3.2h-3.2zM353.2 681.2h3.2v3.2h-3.2zM330.4 690.1h3.2v3.2h-3.2zM326.7 735.6h3.2v3.2h-3.2zM321.8 706.6h3.2v3.2h-3.2zM361.1 696.4h3.2v3.2h-3.2zM332.8 685.1h3.2v3.2h-3.2zM394.6 729.6h3.2v3.2h-3.2zM352.8 686.6h3.2v3.2h-3.2zM320.7 717.8h3.2v3.2h-3.2zM332.2 690.2h3.2v3.2h-3.2zM323.8 716.5h3.2v3.2h-3.2zM365.2 711.7h3.2v3.2h-3.2zM395.5 726.3h3.2v3.2h-3.2zM391.1 716.8h3.2v3.2h-3.2zM320.3 726.4h3.2v3.2h-3.2zM370.8 738.4h3.2v3.2h-3.2zM396.5 748.7h3.2v3.2h-3.2zM376.5 750.1h3.2v3.2h-3.2zM388 714.8h3.2v3.2h-3.2zM334.2 685.5h3.2v3.2h-3.2zM377.8 758.2h3.2v3.2h-3.2zM346.2 682.2h3.2v3.2h-3.2zM321.9 722.6h3.2v3.2h-3.2zM395.2 752.5h3.2v3.2h-3.2zM330.4 741.8h3.2v3.2h-3.2zM388.4 717.2h3.2v3.2h-3.2zM323.8 720.8h3.2v3.2h-3.2zM398 728.8h3.2v3.2h-3.2zM330.3 690.3h3.2v3.2h-3.2zM378.8 747.4h3.2v3.2h-3.2zM319.1 711.4h3.2v3.2h-3.2zM394.5 724.5h3.2v3.2h-3.2zM321.2 716.4h3.2v3.2h-3.2zM365.9 721.5h3.2v3.2h-3.2zM392.2 719.7h3.2v3.2h-3.2zM380.5 726.7h3.2v3.2h-3.2zM360.8 697h3.2v3.2h-3.2zM398 730.2h3.2v3.2h-3.2zM379.5 751.9h3.2v3.2h-3.2zM360.6 693h3.2v3.2h-3.2zM355.2 685.5h3.2v3.2h-3.2zM395.5 736.3h3.2v3.2h-3.2zM319.1 717h3.2v3.2h-3.2zM319.5 696.1h3.2v3.2h-3.2zM322.1 732.4h3.2v3.2h-3.2zM326.9 734.2h3.2v3.2h-3.2zM357.7 692.7h3.2v3.2h-3.2zM394.4 730.9h3.2v3.2h-3.2zM385.9 720.4h3.2v3.2h-3.2zM383.6 722h3.2v3.2h-3.2zM395.3 720.4h3.2v3.2h-3.2zM324.4 697h3.2v3.2h-3.2zM371.9 760.9h3.2v3.2h-3.2zM325.6 733h3.2v3.2h-3.2zM317 723.7h3.2v3.2h-3.2zM327.7 739.6h3.2v3.2h-3.2zM316.9 715.9h3.2v3.2h-3.2zM380.2 735.8h3.2v3.2h-3.2zM399.5 732.7h3.2v3.2h-3.2zM364.3 711.1h3.2v3.2h-3.2zM323.8 725.4h3.2v3.2h-3.2zM379 739.7h3.2v3.2h-3.2zM372.9 756.4h3.2v3.2h-3.2zM332.7 686.6h3.2v3.2h-3.2zM323.6 735.1h3.2v3.2h-3.2zM351 681.7h3.2v3.2h-3.2zM363.5 706h3.2v3.2h-3.2zM321.7 711.7h3.2v3.2h-3.2zM370.5 750.1h3.2v3.2h-3.2zM321.1 721.1h3.2v3.2h-3.2zM369.8 736.1h3.2v3.2h-3.2zM394.8 724.8h3.2v3.2h-3.2zM342.3 749h3.2v3.2h-3.2zM399.1 730.3h3.2v3.2h-3.2zM318.9 728.8h3.2v3.2h-3.2zM372.6 757.9h3.2v3.2h-3.2zM322.8 734.9h3.2v3.2h-3.2zM358.3 693.2h3.2v3.2h-3.2zM324.7 695.5h3.2v3.2h-3.2zM381.7 725.9h3.2v3.2h-3.2zM383.5 716.5h3.2v3.2h-3.2zM385.4 721.7h3.2v3.2h-3.2zM358.6 686.1h3.2v3.2h-3.2zM400.2 733.8h3.2v3.2h-3.2zM334 680.5h3.2v3.2h-3.2zM324.9 724.4h3.2v3.2h-3.2zM394.9 729.8h3.2v3.2h-3.2zM377.1 744.3h3.2v3.2h-3.2zM362.4 700.2h3.2v3.2h-3.2zM318.9 731h3.2v3.2h-3.2zM380.1 736.8h3.2v3.2h-3.2zM373 759.3h3.2v3.2h-3.2zM376.8 756.9h3.2v3.2h-3.2zM318.7 722.6h3.2v3.2h-3.2zM376.8 755.9h3.2v3.2h-3.2zM321.1 733.3h3.2v3.2h-3.2zM318.4 698h3.2v3.2h-3.2zM334.2 688.9h3.2v3.2h-3.2zM376.1 754.2h3.2v3.2h-3.2zM323.7 701.6h3.2v3.2h-3.2zM325.6 729.1h3.2v3.2h-3.2zM326.3 688.5h3.2v3.2h-3.2zM397.3 737h3.2v3.2h-3.2zM378.9 748.9h3.2v3.2h-3.2zM362.8 708.7h3.2v3.2h-3.2zM388.1 718.5h3.2v3.2h-3.2zM400.8 744.4h3.2v3.2h-3.2zM396.3 725.6h3.2v3.2h-3.2zM380.2 742.1h3.2v3.2h-3.2zM352.5 684.1h3.2v3.2h-3.2zM392.9 753.5h3.2v3.2h-3.2zM386.1 718.4h3.2v3.2h-3.2zM396.7 721.3h3.2v3.2h-3.2zM391.8 723.7h3.2v3.2h-3.2zM317.4 726.3h3.2v3.2h-3.2zM351.4 678.4h3.2v3.2h-3.2zM321.5 705.5h3.2v3.2h-3.2zM376.5 761.4h3.2v3.2h-3.2zM358.6 690.4h3.2v3.2h-3.2zM355.9 691.7h3.2v3.2h-3.2zM321.8 709.3h3.2v3.2h-3.2zM380.5 741.3h3.2v3.2h-3.2zM400.5 739.2h3.2v3.2h-3.2zM320.5 724h3.2v3.2h-3.2zM322.5 736h3.2v3.2h-3.2z" fill="none" stroke="#bfbfbf" stroke-width="0.9"/>
<path d="M234.6 525.1h3.2v3.2h-3.2zM287.2 535.7h3.2v3.2h-3.2zM289.8 576.5h3.2v3.2h-3.2zM312.7 586.8h3.2v3.2h-3.2zM268.1 616.5h3.2v3.2h-3.2zM294 611.5h3.2v3.2h-3.2zM321.1 614.6h3.2v3.2h-3.2zM276.5 631.7h3.2v3.2h-3.2zM263.9 640.5h3.2v3.2h-3.2zM259.4 652.7h3.2v3.2h-3.2zM263.9 672.5h3.2v3.2h-3.2zM275.7 667.2h3.2v3.2h-3.2zM283.4 716.3h3.2v3.2h-3.2zM270 698.4h3.2v3.2h-3.2zM527.9 522h3.2v3.2h-3.2zM447.9 587.9h3.2v3.2h-3.2zM397.6 602.4h3.2v3.2h-3.2zM390.8 614.6h3.2v3.2h-3.2zM478.4 602.4h3.2v3.2h-3.2zM447.9 603.2h3.2v3.2h-3.2zM431.9 621.1h3.2v3.2h-3.2zM449.1 623h3.2v3.2h-3.2zM446 628.3h3.2v3.2h-3.2zM396.5 629.1h3.2v3.2h-3.2zM402.2 639.7h3.2v3.2h-3.2zM429.6 646.2h3.2v3.2h-3.2zM482.2 648.1h3.2v3.2h-3.2zM436.5 674.8h3.2v3.2h-3.2zM447.2 681.6h3.2v3.2h-3.2zM484.1 681.3h3.2v3.2h-3.2zM422.4 685.1h3.2v3.2h-3.2zM432.7 699.5h3.2v3.2h-3.2zM441.4 701.4h3.2v3.2h-3.2zM467 695.7h3.2v3.2h-3.2zM442.2 713.6h3.2v3.2h-3.2zM435.7 713.6h3.2v3.2h-3.2zM349.3 619.5h3.2v3.2h-3.2zM345.8 628.3h3.2v3.2h-3.2zM353.4 629.8h3.2v3.2h-3.2zM299.4 635.5h3.2v3.2h-3.2zM308.9 644.3h3.2v3.2h-3.2zM300.5 656.5h3.2v3.2h-3.2zM280.3 687h3.2v3.2h-3.2zM278.4 700.3h3.2v3.2h-3.2zM291.7 688.9h3.2v3.2h-3.2zM299.4 728.9h3.2v3.2h-3.2zM303.2 719.4h3.2v3.2h-3.2zM333.6 647h3.2v3.2h-3.2zM341.3 654.6h3.2v3.2h-3.2zM326 650.8h3.2v3.2h-3.2zM320.3 647h3.2v3.2h-3.2zM284 698.5h3.2v3.2h-3.2zM320.3 642.4h3.2v3.2h-3.2zM319.5 739.5h3.2v3.2h-3.2zM306.4 651.9h3.2v3.2h-3.2zM314.4 703.7h3.2v3.2h-3.2zM308.8 708.5h3.2v3.2h-3.2zM293.1 696.1h3.2v3.2h-3.2zM315.7 719.2h3.2v3.2h-3.2zM323 655h3.2v3.2h-3.2zM321.8 703.9h3.2v3.2h-3.2zM305.3 686.7h3.2v3.2h-3.2zM316.3 684.6h3.2v3.2h-3.2zM294.1 677h3.2v3.2h-3.2zM288.2 680.1h3.2v3.2h-3.2zM325.2 644.4h3.2v3.2h-3.2zM292.6 703.1h3.2v3.2h-3.2zM303.6 680.4h3.2v3.2h-3.2zM312.8 637.1h3.2v3.2h-3.2zM312.3 703.8h3.2v3.2h-3.2zM301.7 708.6h3.2v3.2h-3.2zM312.6 692.2h3.2v3.2h-3.2zM332.2 675.2h3.2v3.2h-3.2zM322.1 701.8h3.2v3.2h-3.2zM290.2 690.1h3.2v3.2h-3.2zM320.1 699.6h3.2v3.2h-3.2zM310.5 713.4h3.2v3.2h-3.2zM354.6 758.1h3.2v3.2h-3.2zM290.9 701h3.2v3.2h-3.2zM306.4 697.6h3.2v3.2h-3.2zM326.3 740.5h3.2v3.2h-3.2zM303.1 654.3h3.2v3.2h-3.2zM343.2 669.6h3.2v3.2h-3.2zM306.7 692.3h3.2v3.2h-3.2zM308.3 679.1h3.2v3.2h-3.2zM315.3 694.3h3.2v3.2h-3.2zM297.8 698.2h3.2v3.2h-3.2zM345.4 662.9h3.2v3.2h-3.2zM291.3 679.7h3.2v3.2h-3.2zM315.4 694.9h3.2v3.2h-3.2zM307.8 706.2h3.2v3.2h-3.2zM343.7 670.7h3.2v3.2h-3.2zM323.3 693.2h3.2v3.2h-3.2zM321.9 667.9h3.2v3.2h-3.2zM322 672.1h3.2v3.2h-3.2zM335.4 679.7h3.2v3.2h-3.2zM304.1 699h3.2v3.2h-3.2zM339.4 750.6h3.2v3.2h-3.2zM322 730h3.2v3.2h-3.2zM303.6 717.6h3.2v3.2h-3.2zM332.3 684h3.2v3.2h-3.2zM291.9 658.1h3.2v3.2h-3.2zM318.4 700.7h3.2v3.2h-3.2zM340.8 672.4h3.2v3.2h-3.2zM324.4 663.5h3.2v3.2h-3.2zM326.3 657.4h3.2v3.2h-3.2zM292.6 683.9h3.2v3.2h-3.2zM342.7 682h3.2v3.2h-3.2zM310.5 655.1h3.2v3.2h-3.2zM309 668.8h3.2v3.2h-3.2zM337.1 675.5h3.2v3.2h-3.2zM313.4 733.8h3.2v3.2h-3.2zM302.3 641.7h3.2v3.2h-3.2zM363.8 760.1h3.2v3.2h-3.2zM333.2 681.3h3.2v3.2h-3.2zM334.3 675.3h3.2v3.2h-3.2zM299.4 680.7h3.2v3.2h-3.2zM341.4 659.5h3.2v3.2h-3.2zM310 720.4h3.2v3.2h-3.2zM331.4 641.5h3.2v3.2h-3.2zM316.6 704h3.2v3.2h-3.2zM308.6 706.1h3.2v3.2h-3.2zM338.6 681h3.2v3.2h-3.2zM339 672.7h3.2v3.2h-3.2zM295.8 694.1h3.2v3.2h-3.2zM290.8 688.6h3.2v3.2h-3.2zM321.1 698.9h3.2v3.2h-3.2zM312.3 730.4h3.2v3.2h-3.2zM316.5 735.7h3.2v3.2h-3.2zM313.2 731.5h3.2v3.2h-3.2zM328 748.3h3.2v3.2h-3.2zM300.4 717.2h3.2v3.2h-3.2zM302 652.6h3.2v3.2h-3.2zM354 685h3.2v3.2h-3.2zM332.8 678.3h3.2v3.2h-3.2zM317.7 663.9h3.2v3.2h-3.2zM308.3 671.9h3.2v3.2h-3.2zM322.2 662.4h3.2v3.2h-3.2zM304.1 704.5h3.2v3.2h-3.2zM323.8 741.1h3.2v3.2h-3.2zM311.7 651.6h3.2v3.2h-3.2zM339.5 670.3h3.2v3.2h-3.2zM305.7 725.2h3.2v3.2h-3.2zM327.1 742.6h3.2v3.2h-3.2zM353.2 677.9h3.2v3.2h-3.2zM339.1 679h3.2v3.2h-3.2zM340.9 678.1h3.2v3.2h-3.2zM320 707h3.2v3.2h-3.2zM343.7 752.7h3.2v3.2h-3.2zM312.5 667.4h3.2v3.2h-3.2zM316.3 660.6h3.2v3.2h-3.2zM306.9 703.7h3.2v3.2h-3.2zM348.2 669.5h3.2v3.2h-3.2zM307.6 694.9h3.2v3.2h-3.2zM304 663.4h3.2v3.2h-3.2zM330.6 744.1h3.2v3.2h-3.2zM313.8 694.3h3.2v3.2h-3.2zM320.5 687.6h3.2v3.2h-3.2zM322.7 731.3h3.2v3.2h-3.2zM341.8 680.7h3.2v3.2h-3.2zM298.9 652.9h3.2v3.2h-3.2zM313.5 716.1h3.2v3.2h-3.2zM333.2 670.9h3.2v3.2h-3.2zM314.8 721.3h3.2v3.2h-3.2zM323.4 659.9h3.2v3.2h-3.2zM334.4 748.5h3.2v3.2h-3.2zM335.4 657.7h3.2v3.2h-3.2zM333 685h3.2v3.2h-3.2zM336.2 677.7h3.2v3.2h-3.2zM297.8 656.6h3.2v3.2h-3.2zM316.4 690.9h3.2v3.2h-3.2zM290.4 695.2h3.2v3.2h-3.2zM292.2 661.8h3.2v3.2h-3.2zM304.2 686.2h3.2v3.2h-3.2zM306.1 666.5h3.2v3.2h-3.2zM311.4 651.4h3.2v3.2h-3.2zM299.5 706.7h3.2v3.2h-3.2zM347.2 658.6h3.2v3.2h-3.2zM326.3 668.5h3.2v3.2h-3.2zM328.7 690.6h3.2v3.2h-3.2zM309.4 724.6h3.2v3.2h-3.2zM300 656.8h3.2v3.2h-3.2zM346 658.4h3.2v3.2h-3.2zM319.1 741.1h3.2v3.2h-3.2zM353.5 676.8h3.2v3.2h-3.2zM319.2 714.6h3.2v3.2h-3.2zM304.1 720.4h3.2v3.2h-3.2zM330 652.4h3.2v3.2h-3.2zM306.3 664.6h3.2v3.2h-3.2zM308.4 664.5h3.2v3.2h-3.2zM328 682.6h3.2v3.2h-3.2zM307 732.5h3.2v3.2h-3.2zM320.9 727.8h3.2v3.2h-3.2zM333.7 687h3.2v3.2h-3.2zM315.1 691.4h3.2v3.2h-3.2zM348.3 671h3.2v3.2h-3.2zM332.1 682.7h3.2v3.2h-3.2zM326.7 690.4h3.2v3.2h-3.2zM313 709.7h3.2v3.2h-3.2zM317.2 705.4h3.2v3.2h-3.2zM325.5 689.9h3.2v3.2h-3.2zM318.2 734.5h3.2v3.2h-3.2zM318.2 649h3.2v3.2h-3.2zM334.7 678.2h3.2v3.2h-3.2zM320.9 713h3.2v3.2h-3.2zM306.5 705.4h3.2v3.2h-3.2zM330 682.9h3.2v3.2h-3.2zM342.6 677.2h3.2v3.2h-3.2zM312.5 726.1h3.2v3.2h-3.2zM300.4 691.5h3.2v3.2h-3.2zM335.2 680.6h3.2v3.2h-3.2zM304.5 732.4h3.2v3.2h-3.2zM308.5 683.4h3.2v3.2h-3.2zM309.4 718.4h3.2v3.2h-3.2zM332.7 679.8h3.2v3.2h-3.2zM342.6 678.5h3.2v3.2h-3.2zM312.4 714.1h3.2v3.2h-3.2zM343.2 663.9h3.2v3.2h-3.2zM328.2 690.5h3.2v3.2h-3.2zM323 731.7h3.2v3.2h-3.2zM323.7 680h3.2v3.2h-3.2zM296.8 703.1h3.2v3.2h-3.2zM341.5 665.7h3.2v3.2h-3.2zM314.1 740.1h3.2v3.2h-3.2zM328.2 687.4h3.2v3.2h-3.2zM320.8 718.9h3.2v3.2h-3.2zM312.1 658.5h3.2v3.2h-3.2zM337.3 671.5h3.2v3.2h-3.2zM341 671.8h3.2v3.2h-3.2zM314.4 707.9h3.2v3.2h-3.2zM300.3 706.9h3.2v3.2h-3.2zM286.2 685.7h3.2v3.2h-3.2zM320.9 744.2h3.2v3.2h-3.2zM350.5 677.2h3.2v3.2h-3.2zM343.7 666.1h3.2v3.2h-3.2zM321.6 740.9h3.2v3.2h-3.2zM296.3 704.5h3.2v3.2h-3.2zM334.2 683.2h3.2v3.2h-3.2zM339.8 680h3.2v3.2h-3.2zM312.3 704.1h3.2v3.2h-3.2zM313.9 664.6h3.2v3.2h-3.2zM312.2 650.8h3.2v3.2h-3.2zM321.5 706.4h3.2v3.2h-3.2zM312.9 732.8h3.2v3.2h-3.2zM305.1 666.4h3.2v3.2h-3.2zM299.5 684.7h3.2v3.2h-3.2zM317.6 720.5h3.2v3.2h-3.2zM284 686.6h3.2v3.2h-3.2zM339 676.3h3.2v3.2h-3.2zM336.2 666.4h3.2v3.2h-3.2zM348.4 675.6h3.2v3.2h-3.2zM300.5 730.5h3.2v3.2h-3.2zM317.3 744.3h3.2v3.2h-3.2zM333 686h3.2v3.2h-3.2zM320.3 663.1h3.2v3.2h-3.2zM299.3 706.5h3.2v3.2h-3.2zM294.7 721h3.2v3.2h-3.2zM295.7 721.3h3.2v3.2h-3.2zM327.6 685.8h3.2v3.2h-3.2zM315.8 682.8h3.2v3.2h-3.2zM337.5 681.8h3.2v3.2h-3.2zM309.8 716.3h3.2v3.2h-3.2zM315 724.8h3.2v3.2h-3.2zM343.9 674.7h3.2v3.2h-3.2zM321.8 694.8h3.2v3.2h-3.2zM344.2 680.5h3.2v3.2h-3.2zM347.8 668.6h3.2v3.2h-3.2zM319.3 735.1h3.2v3.2h-3.2zM313.9 724.8h3.2v3.2h-3.2zM317.8 716.6h3.2v3.2h-3.2zM314.4 718.8h3.2v3.2h-3.2zM315.1 700.9h3.2v3.2h-3.2zM323.1 692.7h3.2v3.2h-3.2zM320.9 696.4h3.2v3.2h-3.2zM330.3 681.4h3.2v3.2h-3.2zM313.8 736.2h3.2v3.2h-3.2zM329.9 685.9h3.2v3.2h-3.2zM320.3 715.4h3.2v3.2h-3.2zM343.7 671.2h3.2v3.2h-3.2zM318.5 717.9h3.2v3.2h-3.2zM300.9 708.1h3.2v3.2h-3.2zM300 703.4h3.2v3.2h-3.2zM320 720.5h3.2v3.2h-3.2zM367.7 761.2h3.2v3.2h-3.2zM329.3 670.7h3.2v3.2h-3.2zM325.3 744.3h3.2v3.2h-3.2zM330.7 644.7h3.2v3.2h-3.2zM310.6 691.1h3.2v3.2h-3.2zM314.6 718.5h3.2v3.2h-3.2zM289.8 693.4h3.2v3.2h-3.2zM293.3 667.3h3.2v3.2h-3.2zM316.4 699.9h3.2v3.2h-3.2zM311.5 737.4h3.2v3.2h-3.2zM293 677.6h3.2v3.2h-3.2zM344.4 754.2h3.2v3.2h-3.2zM318.9 711h3.2v3.2h-3.2zM294.1 701h3.2v3.2h-3.2zM322.4 737.2h3.2v3.2h-3.2zM313.4 718.2h3.2v3.2h-3.2zM314.7 700.4h3.2v3.2h-3.2zM321.7 729.8h3.2v3.2h-3.2zM306.6 703.2h3.2v3.2h-3.2zM321.9 740.8h3.2v3.2h-3.2zM303.5 732.4h3.2v3.2h-3.2zM304.1 664.6h3.2v3.2h-3.2zM350.2 677.2h3.2v3.2h-3.2zM291.3 676.9h3.2v3.2h-3.2zM317.4 707h3.2v3.2h-3.2zM337.6 668.7h3.2v3.2h-3.2zM313.2 723.1h3.2v3.2h-3.2zM291.8 668.7h3.2v3.2h-3.2zM321.5 704.6h3.2v3.2h-3.2zM317.1 699.1h3.2v3.2h-3.2zM322.4 677.2h3.2v3.2h-3.2zM317.4 669.7h3.2v3.2h-3.2zM350.7 755.1h3.2v3.2h-3.2zM303.9 679h3.2v3.2h-3.2zM324.5 738.9h3.2v3.2h-3.2zM298.6 665.7h3.2v3.2h-3.2zM320.6 727.4h3.2v3.2h-3.2zM343.4 752.8h3.2v3.2h-3.2zM294.1 699.1h3.2v3.2h-3.2zM306.5 684.3h3.2v3.2h-3.2zM298.4 688.4h3.2v3.2h-3.2zM317.8 711.8h3.2v3.2h-3.2zM346.7 665.8h3.2v3.2h-3.2zM312.1 675h3.2v3.2h-3.2zM341.6 753h3.2v3.2h-3.2zM351.2 668.6h3.2v3.2h-3.2zM308.7 713.8h3.2v3.2h-3.2zM345.2 660.2h3.2v3.2h-3.2zM307.8 641.6h3.2v3.2h-3.2zM321.4 726.8h3.2v3.2h-3.2zM343.3 669h3.2v3.2h-3.2zM342.3 656.6h3.2v3.2h-3.2zM315.4 717.1h3.2v3.2h-3.2zM313.6 726.1h3.2v3.2h-3.2zM313.8 700.5h3.2v3.2h-3.2zM324 745h3.2v3.2h-3.2zM289.8 694.9h3.2v3.2h-3.2zM300.7 689.9h3.2v3.2h-3.2zM325 656.5h3.2v3.2h-3.2zM281.9 689.7h3.2v3.2h-3.2zM317.3 720.5h3.2v3.2h-3.2zM309.5 685.6h3.2v3.2h-3.2zM349.5 679.5h3.2v3.2h-3.2zM317.7 687.4h3.2v3.2h-3.2zM334.2 679h3.2v3.2h-3.2zM304.7 642.4h3.2v3.2h-3.2zM295.2 722.7h3.2v3.2h-3.2zM310.8 700.4h3.2v3.2h-3.2zM318.8 694.8h3.2v3.2h-3.2zM348.9 677.2h3.2v3.2h-3.2zM333 651.1h3.2v3.2h-3.2zM308.5 718.4h3.2v3.2h-3.2zM315.8 695.4h3.2v3.2h-3.2zM343 661.9h3.2v3.2h-3.2zM352.9 681.1h3.2v3.2h-3.2zM340 669.1h3.2v3.2h-3.2zM286.7 683.9h3.2v3.2h-3.2zM306.3 731.9h3.2v3.2h-3.2zM319.6 676.8h3.2v3.2h-3.2zM336.8 670.4h3.2v3.2h-3.2zM313.8 681.5h3.2v3.2h-3.2zM302.9 717.6h3.2v3.2h-3.2zM288.1 675.4h3.2v3.2h-3.2zM342.8 660.1h3.2v3.2h-3.2zM356.1 687.8h3.2v3.2h-3.2zM338.2 672.3h3.2v3.2h-3.2zM308.9 698.1h3.2v3.2h-3.2zM292.4 655.1h3.2v3.2h-3.2zM317.4 678.8h3.2v3.2h-3.2zM312.4 722h3.2v3.2h-3.2zM317.2 688.9h3.2v3.2h-3.2zM349.5 755.2h3.2v3.2h-3.2zM331.5 685h3.2v3.2h-3.2zM309.7 694.9h3.2v3.2h-3.2zM314.2 683.1h3.2v3.2h-3.2zM292.6 662.7h3.2v3.2h-3.2zM339.3 647.8h3.2v3.2h-3.2zM316.2 665.9h3.2v3.2h-3.2zM346.7 655.9h3.2v3.2h-3.2zM332.6 651.7h3.2v3.2h-3.2zM315.5 722h3.2v3.2h-3.2zM355.6 686.5h3.2v3.2h-3.2zM337.9 674h3.2v3.2h-3.2zM303.8 711.8h3.2v3.2h-3.2zM288.4 668.9h3.2v3.2h-3.2zM299.1 717.3h3.2v3.2h-3.2zM319.7 706.8h3.2v3.2h-3.2zM323.3 693.6h3.2v3.2h-3.2zM326.8 676.6h3.2v3.2h-3.2zM317.6 654.9h3.2v3.2h-3.2zM323.9 696.7h3.2v3.2h-3.2zM315.6 703.6h3.2v3.2h-3.2zM313.2 711h3.2v3.2h-3.2zM298.3 698.5h3.2v3.2h-3.2zM344.6 752.3h3.2v3.2h-3.2zM308.7 706.3h3.2v3.2h-3.2zM317.6 722.9h3.2v3.2h-3.2zM358.7 759.3h3.2v3.2h-3.2zM413.8 691.2h3.2v3.2h-3.2zM405.8 742.5h3.2v3.2h-3.2zM401.4 720.6h3.2v3.2h-3.2zM396.9 717.6h3.2v3.2h-3.2zM400.2 702.5h3.2v3.2h-3.2zM409.9 745.7h3.2v3.2h-3.2zM401.5 754.3h3.2v3.2h-3.2zM392.4 753h3.2v3.2h-3.2zM397.7 681.1h3.2v3.2h-3.2zM397.9 729h3.2v3.2h-3.2zM387.2 703.6h3.2v3.2h-3.2zM397.8 680.1h3.2v3.2h-3.2zM401.4 712.3h3.2v3.2h-3.2zM390.7 755.3h3.2v3.2h-3.2zM405.5 734.9h3.2v3.2h-3.2zM390 759.6h3.2v3.2h-3.2zM401.8 721.9h3.2v3.2h-3.2zM390 713.7h3.2v3.2h-3.2zM397.2 729.3h3.2v3.2h-3.2zM411.6 740.5h3.2v3.2h-3.2zM401.9 701.3h3.2v3.2h-3.2zM386.7 708.8h3.2v3.2h-3.2zM408.2 732.1h3.2v3.2h-3.2zM391.9 759.2h3.2v3.2h-3.2zM421.1 706.4h3.2v3.2h-3.2zM415.2 701.3h3.2v3.2h-3.2zM406.1 689.8h3.2v3.2h-3.2zM395.7 701.7h3.2v3.2h-3.2zM407.6 683.3h3.2v3.2h-3.2zM410.2 724.1h3.2v3.2h-3.2zM405.7 720.6h3.2v3.2h-3.2zM408.6 723.2h3.2v3.2h-3.2zM391.7 705.3h3.2v3.2h-3.2zM405.7 701.5h3.2v3.2h-3.2zM416.4 743.4h3.2v3.2h-3.2zM394.6 706.9h3.2v3.2h-3.2zM384.5 714.4h3.2v3.2h-3.2zM404.5 692.5h3.2v3.2h-3.2zM397.1 757.5h3.2v3.2h-3.2zM399.1 745.5h3.2v3.2h-3.2zM387.1 757.9h3.2v3.2h-3.2zM408.7 732.1h3.2v3.2h-3.2zM384.6 714.3h3.2v3.2h-3.2zM415.5 720.3h3.2v3.2h-3.2zM398.4 745.3h3.2v3.2h-3.2zM398.3 745.3h3.2v3.2h-3.2zM403 748.4h3.2v3.2h-3.2zM398.3 742h3.2v3.2h-3.2zM411.2 703.4h3.2v3.2h-3.2zM394.6 714.4h3.2v3.2h-3.2zM413.8 749.7h3.2v3.2h-3.2zM413.1 728.7h3.2v3.2h-3.2zM408.2 711.7h3.2v3.2h-3.2zM403.9 723.2h3.2v3.2h-3.2zM396.8 714.3h3.2v3.2h-3.2zM404.9 717.1h3.2v3.2h-3.2zM403.9 735.9h3.2v3.2h-3.2zM418.5 749.2h3.2v3.2h-3.2zM395.8 695.3h3.2v3.2h-3.2zM418.1 711.1h3.2v3.2h-3.2zM396.5 751.2h3.2v3.2h-3.2zM409.5 719.2h3.2v3.2h-3.2zM412.1 735.5h3.2v3.2h-3.2zM392.4 722.8h3.2v3.2h-3.2zM391.4 717.8h3.2v3.2h-3.2zM401.4 705.2h3.2v3.2h-3.2zM395.4 707.2h3.2v3.2h-3.2zM408.7 745.5h3.2v3.2h-3.2zM414.3 692h3.2v3.2h-3.2zM404.4 705.3h3.2v3.2h-3.2zM398.5 753.5h3.2v3.2h-3.2zM405.7 733.7h3.2v3.2h-3.2zM406.3 748.5h3.2v3.2h-3.2zM405.8 734.8h3.2v3.2h-3.2zM401.1 687.2h3.2v3.2h-3.2zM417.3 724.2h3.2v3.2h-3.2zM417 719h3.2v3.2h-3.2zM408.9 731.5h3.2v3.2h-3.2zM395.8 706.1h3.2v3.2h-3.2zM396.3 720.1h3.2v3.2h-3.2zM418.2 750h3.2v3.2h-3.2zM405 740.4h3.2v3.2h-3.2zM399.4 738.5h3.2v3.2h-3.2zM410.6 751.3h3.2v3.2h-3.2zM398.5 741.7h3.2v3.2h-3.2zM396.9 747.2h3.2v3.2h-3.2zM397.4 745.9h3.2v3.2h-3.2zM405.7 721.2h3.2v3.2h-3.2zM395 712.6h3.2v3.2h-3.2zM416.6 722.9h3.2v3.2h-3.2zM420.5 729.3h3.2v3.2h-3.2zM408.8 742.4h3.2v3.2h-3.2zM402.8 723.6h3.2v3.2h-3.2zM388.5 714.9h3.2v3.2h-3.2zM384.8 719.1h3.2v3.2h-3.2zM420 744.9h3.2v3.2h-3.2zM411.3 730.1h3.2v3.2h-3.2zM415.4 739.1h3.2v3.2h-3.2zM395.5 693.4h3.2v3.2h-3.2zM408.3 711.5h3.2v3.2h-3.2zM390.5 708.2h3.2v3.2h-3.2zM408.4 749.4h3.2v3.2h-3.2zM419 744.3h3.2v3.2h-3.2zM408.1 700.4h3.2v3.2h-3.2zM405.9 717.5h3.2v3.2h-3.2zM404.5 685.1h3.2v3.2h-3.2zM415.6 751h3.2v3.2h-3.2zM403 669.2h3.2v3.2h-3.2zM409.8 731.7h3.2v3.2h-3.2zM422.6 744.3h3.2v3.2h-3.2zM409.1 686.8h3.2v3.2h-3.2zM398.9 734.2h3.2v3.2h-3.2zM395.9 719.4h3.2v3.2h-3.2zM402.9 726.8h3.2v3.2h-3.2zM403.9 738.1h3.2v3.2h-3.2zM387 710.7h3.2v3.2h-3.2zM413.1 729.7h3.2v3.2h-3.2zM388.7 714.8h3.2v3.2h-3.2zM411.2 719.3h3.2v3.2h-3.2zM415.2 735h3.2v3.2h-3.2zM400.1 696.9h3.2v3.2h-3.2zM420.9 723.9h3.2v3.2h-3.2zM388 716.8h3.2v3.2h-3.2zM393.7 713.2h3.2v3.2h-3.2zM399.8 755.1h3.2v3.2h-3.2zM396.1 757.6h3.2v3.2h-3.2zM399.9 743.6h3.2v3.2h-3.2zM412.9 723.6h3.2v3.2h-3.2zM406.1 743.8h3.2v3.2h-3.2zM377.4 754.3h3.2v3.2h-3.2zM404.8 751.1h3.2v3.2h-3.2zM392.6 695.4h3.2v3.2h-3.2zM386.4 718.7h3.2v3.2h-3.2zM401 738.2h3.2v3.2h-3.2zM394.3 702.9h3.2v3.2h-3.2zM406 700.6h3.2v3.2h-3.2zM399.5 696.4h3.2v3.2h-3.2zM421.2 745.9h3.2v3.2h-3.2zM419.8 748h3.2v3.2h-3.2zM412.2 709.5h3.2v3.2h-3.2zM423.3 724.7h3.2v3.2h-3.2zM405.8 705.8h3.2v3.2h-3.2zM423.1 735.6h3.2v3.2h-3.2zM407.6 726.7h3.2v3.2h-3.2zM407.3 752.1h3.2v3.2h-3.2zM398.2 752.8h3.2v3.2h-3.2zM396.4 711h3.2v3.2h-3.2zM410.5 701.9h3.2v3.2h-3.2zM399.3 716h3.2v3.2h-3.2zM410.5 717.6h3.2v3.2h-3.2z" fill="none" stroke="#b5b5b5" stroke-width="0.75"/>
<path d="M381.3 755.2l3.5 -3.5l3.5 3.5l-3.5 3.5zM405.3 736.2l3.5 -3.5l3.5 3.5l-3.5 3.5zM407.9 719.8l3.5 -3.5l3.5 3.5l-3.5 3.5zM444.1 693.1l3.5 -3.5l3.5 3.5l-3.5 3.5zM463.9 701.9l3.5 -3.5l3.5 3.5l-3.5 3.5zM444.1 647.4l3.5 -3.5l3.5 3.5l-3.5 3.5zM469.6 639.8l3.5 -3.5l3.5 3.5l-3.5 3.5zM449.1 599l3.5 -3.5l3.5 3.5l-3.5 3.5zM502.8 582.3l3.5 -3.5l3.5 3.5l-3.5 3.5zM510 565.1l3.5 -3.5l3.5 3.5l-3.5 3.5zM536.7 565.9l3.5 -3.5l3.5 3.5l-3.5 3.5z" fill="#870a0a"/>
<g stroke="#6a6a6a" stroke-width="1.5" fill="none"><path d="M722.1 406.5 V787.4 H1254.3"/><line x1="715.6" y1="767.6" x2="722.1" y2="767.6"/><line x1="715.6" y1="718.6" x2="722.1" y2="718.6"/><line x1="715.6" y1="669.7" x2="722.1" y2="669.7"/><line x1="715.6" y1="620.7" x2="722.1" y2="620.7"/><line x1="715.6" y1="571.7" x2="722.1" y2="571.7"/><line x1="715.6" y1="522.8" x2="722.1" y2="522.8"/><line x1="715.6" y1="473.8" x2="722.1" y2="473.8"/><line x1="715.6" y1="424.8" x2="722.1" y2="424.8"/><line x1="736.2" y1="787.4" x2="736.2" y2="793.4"/><line x1="785.5" y1="787.4" x2="785.5" y2="793.4"/><line x1="834.9" y1="787.4" x2="834.9" y2="793.4"/><line x1="884.2" y1="787.4" x2="884.2" y2="793.4"/><line x1="933.6" y1="787.4" x2="933.6" y2="793.4"/><line x1="982.9" y1="787.4" x2="982.9" y2="793.4"/><line x1="1032.2" y1="787.4" x2="1032.2" y2="793.4"/><line x1="1081.6" y1="787.4" x2="1081.6" y2="793.4"/><line x1="1130.9" y1="787.4" x2="1130.9" y2="793.4"/><line x1="1180.3" y1="787.4" x2="1180.3" y2="793.4"/><line x1="1229.6" y1="787.4" x2="1229.6" y2="793.4"/></g>
<text transform="translate(698.7,773.2) scale(0.950,1)" font-size="16">0</text>
<text transform="translate(698.8,724.2) scale(0.950,1)" font-size="16">1</text>
<text transform="translate(698.9,675.3) scale(0.950,1)" font-size="16">2</text>
<text transform="translate(698.8,626.3) scale(0.950,1)" font-size="16">3</text>
<text transform="translate(698.5,577.3) scale(0.950,1)" font-size="16">4</text>
<text transform="translate(698.8,528.4) scale(0.950,1)" font-size="16">5</text>
<text transform="translate(698.8,479.4) scale(0.950,1)" font-size="16">6</text>
<text transform="translate(698.9,430.4) scale(0.950,1)" font-size="16">7</text>
<text transform="translate(723.6,807.6) scale(0.950,1)" font-size="16">-10</text>
<text transform="translate(777.2,807.6) scale(0.950,1)" font-size="16">-8</text>
<text transform="translate(826.6,807.6) scale(0.950,1)" font-size="16">-6</text>
<text transform="translate(875.8,807.6) scale(0.950,1)" font-size="16">-4</text>
<text transform="translate(925.3,807.6) scale(0.950,1)" font-size="16">-2</text>
<text transform="translate(978.6,807.6) scale(0.950,1)" font-size="16">0</text>
<text transform="translate(1028,807.6) scale(0.950,1)" font-size="16">2</text>
<text transform="translate(1077.4,807.6) scale(0.950,1)" font-size="16">4</text>
<text transform="translate(1126.6,807.6) scale(0.950,1)" font-size="16">6</text>
<text transform="translate(1176,807.6) scale(0.950,1)" font-size="16">8</text>
<text transform="translate(1220.9,807.6) scale(0.950,1)" font-size="16">10</text>
<path d="M983.9 767.9 L980.4 746.4 L975 714.3 L969.6 678.6 L964.3 660.7 L957.1 657.1 L946.4 657.1 L935.7 660.7 L925 671.4 L914.3 678.6 L907.1 687.5 L903.6 705.4 L910.7 723.2 L921.4 737.5 L935.7 750 L951.8 758.9 L966.1 766 Z" fill="#bfbfbf" stroke="#bfbfbf" stroke-width="2" stroke-linejoin="round"/>
<path d="M983.9 767.9 L985.7 757.1 L991.1 737.5 L996.4 725 L1003.6 717.9 L1014.3 717.9 L1025 725 L1028.6 737.5 L1023.2 750 L1010.7 758.9 L994.6 766 Z" fill="#bfbfbf" stroke="#bfbfbf" stroke-width="2" stroke-linejoin="round"/>
<path d="M1025.6 728.9h3.2v3.2h-3.2zM972.4 705h3.2v3.2h-3.2zM970 688.1h3.2v3.2h-3.2zM909.6 678.5h3.2v3.2h-3.2zM970.2 688.4h3.2v3.2h-3.2zM979.3 743.9h3.2v3.2h-3.2zM902.8 699.8h3.2v3.2h-3.2zM946.3 650.5h3.2v3.2h-3.2zM1017.9 721.5h3.2v3.2h-3.2zM936.5 660.5h3.2v3.2h-3.2zM947.4 650.7h3.2v3.2h-3.2zM944 658.2h3.2v3.2h-3.2zM925.7 740.7h3.2v3.2h-3.2zM986.3 764.2h3.2v3.2h-3.2zM965.5 664.7h3.2v3.2h-3.2zM985.9 758.7h3.2v3.2h-3.2zM1005.9 711.2h3.2v3.2h-3.2zM904.8 720.3h3.2v3.2h-3.2zM974.9 721.6h3.2v3.2h-3.2zM927.2 664.5h3.2v3.2h-3.2zM987.6 745h3.2v3.2h-3.2zM970.7 699.7h3.2v3.2h-3.2zM923.3 743.4h3.2v3.2h-3.2zM916.2 673.1h3.2v3.2h-3.2zM1006.6 711.3h3.2v3.2h-3.2zM1012.8 716.2h3.2v3.2h-3.2zM951.7 655.4h3.2v3.2h-3.2zM901.1 685.4h3.2v3.2h-3.2zM929.4 743.3h3.2v3.2h-3.2zM957.5 654.5h3.2v3.2h-3.2zM1029.6 742.5h3.2v3.2h-3.2zM978.2 747.4h3.2v3.2h-3.2zM928.3 658.8h3.2v3.2h-3.2zM1001.6 718.3h3.2v3.2h-3.2zM970.9 688.3h3.2v3.2h-3.2zM911.6 724.1h3.2v3.2h-3.2zM1021.2 724.3h3.2v3.2h-3.2zM905.7 679h3.2v3.2h-3.2zM902 705.7h3.2v3.2h-3.2zM976.1 723.9h3.2v3.2h-3.2zM913.9 726.7h3.2v3.2h-3.2zM911.5 726.3h3.2v3.2h-3.2zM954.7 652.2h3.2v3.2h-3.2zM905.5 706.9h3.2v3.2h-3.2zM899.2 711.3h3.2v3.2h-3.2zM1005.4 713.7h3.2v3.2h-3.2zM903.6 706.2h3.2v3.2h-3.2zM1020.4 717.3h3.2v3.2h-3.2zM907.1 683.9h3.2v3.2h-3.2zM1001.9 716.4h3.2v3.2h-3.2zM1028.8 736.8h3.2v3.2h-3.2zM1026.7 735.8h3.2v3.2h-3.2zM923.1 744h3.2v3.2h-3.2zM1025.8 737.8h3.2v3.2h-3.2zM943.8 652.1h3.2v3.2h-3.2zM1023.8 732.8h3.2v3.2h-3.2zM973.3 714.7h3.2v3.2h-3.2zM1000.7 717.4h3.2v3.2h-3.2zM903.5 718.5h3.2v3.2h-3.2zM968.4 694.9h3.2v3.2h-3.2zM926.8 668.5h3.2v3.2h-3.2zM909.3 682.7h3.2v3.2h-3.2zM902.2 691.1h3.2v3.2h-3.2zM981 765h3.2v3.2h-3.2zM996.1 716.1h3.2v3.2h-3.2zM903.2 702.5h3.2v3.2h-3.2zM901.8 708.3h3.2v3.2h-3.2zM969.3 680.4h3.2v3.2h-3.2zM964.3 654.4h3.2v3.2h-3.2zM1026.9 732.3h3.2v3.2h-3.2zM899.1 705.9h3.2v3.2h-3.2zM918.6 739.6h3.2v3.2h-3.2zM978.1 748h3.2v3.2h-3.2zM1009.5 712.3h3.2v3.2h-3.2zM968.5 687.1h3.2v3.2h-3.2zM1006.8 716.1h3.2v3.2h-3.2zM914.4 678.1h3.2v3.2h-3.2zM941.7 751.3h3.2v3.2h-3.2zM911.8 679.6h3.2v3.2h-3.2zM900.5 700.8h3.2v3.2h-3.2zM898.7 709.5h3.2v3.2h-3.2zM965.8 677.3h3.2v3.2h-3.2zM969.1 697.3h3.2v3.2h-3.2zM992.7 728.3h3.2v3.2h-3.2zM977 748.4h3.2v3.2h-3.2zM978.3 741.5h3.2v3.2h-3.2zM964.2 663.2h3.2v3.2h-3.2zM915 737.9h3.2v3.2h-3.2zM967 682.9h3.2v3.2h-3.2zM899.4 702.5h3.2v3.2h-3.2zM1022.3 718.9h3.2v3.2h-3.2zM940.3 655.7h3.2v3.2h-3.2zM982.9 759.6h3.2v3.2h-3.2zM965.5 659.1h3.2v3.2h-3.2zM973.7 710.5h3.2v3.2h-3.2zM977.7 740.8h3.2v3.2h-3.2zM997 719.1h3.2v3.2h-3.2zM975.1 720h3.2v3.2h-3.2zM957.5 655.3h3.2v3.2h-3.2zM977.4 748.4h3.2v3.2h-3.2zM956 651.6h3.2v3.2h-3.2zM997.8 723.3h3.2v3.2h-3.2zM934.3 656.8h3.2v3.2h-3.2zM903.4 707.1h3.2v3.2h-3.2zM1025.9 739.6h3.2v3.2h-3.2zM897.4 699.1h3.2v3.2h-3.2zM977.8 738.6h3.2v3.2h-3.2zM966.3 677.2h3.2v3.2h-3.2zM1031.1 737.5h3.2v3.2h-3.2zM995.3 723h3.2v3.2h-3.2zM981.2 762.1h3.2v3.2h-3.2zM966 668.7h3.2v3.2h-3.2zM931.8 662.8h3.2v3.2h-3.2zM901.5 682.4h3.2v3.2h-3.2zM914.7 728.4h3.2v3.2h-3.2zM974.7 725.3h3.2v3.2h-3.2zM1000.5 712.9h3.2v3.2h-3.2zM992.2 723.4h3.2v3.2h-3.2zM902.8 708.7h3.2v3.2h-3.2zM918.9 734h3.2v3.2h-3.2zM976.6 727.5h3.2v3.2h-3.2zM972.1 711.8h3.2v3.2h-3.2zM901.7 706.1h3.2v3.2h-3.2zM927.8 663.9h3.2v3.2h-3.2zM924.1 742.3h3.2v3.2h-3.2zM1027.4 735.2h3.2v3.2h-3.2zM1013.5 713.3h3.2v3.2h-3.2zM994 723.2h3.2v3.2h-3.2zM937.7 750.1h3.2v3.2h-3.2zM1025.9 745.8h3.2v3.2h-3.2zM928.1 665.4h3.2v3.2h-3.2zM966.9 680h3.2v3.2h-3.2zM1019.8 715.4h3.2v3.2h-3.2zM945.3 656.6h3.2v3.2h-3.2zM1019.5 748.5h3.2v3.2h-3.2zM978.9 753.8h3.2v3.2h-3.2zM919.7 739.4h3.2v3.2h-3.2zM1029.6 727.5h3.2v3.2h-3.2zM997.5 721.4h3.2v3.2h-3.2zM1031.3 731.7h3.2v3.2h-3.2zM926.6 738.8h3.2v3.2h-3.2zM1028.6 736.3h3.2v3.2h-3.2zM908.8 682.7h3.2v3.2h-3.2zM1015.8 750.5h3.2v3.2h-3.2zM910.2 727.1h3.2v3.2h-3.2zM911 671.9h3.2v3.2h-3.2zM972.1 718.1h3.2v3.2h-3.2zM914.5 726.4h3.2v3.2h-3.2zM939.2 658.9h3.2v3.2h-3.2zM976.3 730.3h3.2v3.2h-3.2zM905.7 717.1h3.2v3.2h-3.2zM994.3 727.6h3.2v3.2h-3.2zM918.3 735.3h3.2v3.2h-3.2zM905.2 717h3.2v3.2h-3.2zM973.3 713h3.2v3.2h-3.2zM900.7 692h3.2v3.2h-3.2zM906.4 722.5h3.2v3.2h-3.2zM992.9 731.6h3.2v3.2h-3.2zM909.4 726.7h3.2v3.2h-3.2zM939.4 658.7h3.2v3.2h-3.2zM1028.4 733.2h3.2v3.2h-3.2zM971.1 693.7h3.2v3.2h-3.2zM968.6 676.2h3.2v3.2h-3.2zM971.4 695.8h3.2v3.2h-3.2zM958.2 650.9h3.2v3.2h-3.2zM909.4 729.7h3.2v3.2h-3.2zM925.5 744.1h3.2v3.2h-3.2zM978.3 753.4h3.2v3.2h-3.2zM926.9 661h3.2v3.2h-3.2zM936.1 749.4h3.2v3.2h-3.2zM1024.6 745.3h3.2v3.2h-3.2zM989.7 733.3h3.2v3.2h-3.2zM947.1 654.6h3.2v3.2h-3.2zM1030 729.9h3.2v3.2h-3.2zM971.2 709.9h3.2v3.2h-3.2zM923.5 670.9h3.2v3.2h-3.2zM947.6 655h3.2v3.2h-3.2zM966.6 679.5h3.2v3.2h-3.2zM975.3 723.9h3.2v3.2h-3.2zM941.2 652h3.2v3.2h-3.2zM923.6 744.3h3.2v3.2h-3.2zM897.7 701.8h3.2v3.2h-3.2zM931.7 659h3.2v3.2h-3.2zM1026.7 740.6h3.2v3.2h-3.2zM925 739.7h3.2v3.2h-3.2zM1028.4 737.7h3.2v3.2h-3.2zM967.4 677.5h3.2v3.2h-3.2zM958.3 653.8h3.2v3.2h-3.2zM977.2 737.1h3.2v3.2h-3.2zM980.4 752.6h3.2v3.2h-3.2zM980 752.7h3.2v3.2h-3.2zM946.9 657.1h3.2v3.2h-3.2zM982.7 762h3.2v3.2h-3.2zM1025.3 740.6h3.2v3.2h-3.2zM917 732.2h3.2v3.2h-3.2zM925.6 737.9h3.2v3.2h-3.2zM906.6 676.3h3.2v3.2h-3.2zM909.2 682.8h3.2v3.2h-3.2zM916.3 734h3.2v3.2h-3.2zM988.4 747.9h3.2v3.2h-3.2zM970.9 698.9h3.2v3.2h-3.2zM1027.5 741.5h3.2v3.2h-3.2zM944.7 657h3.2v3.2h-3.2zM978.2 752h3.2v3.2h-3.2zM975.3 723.8h3.2v3.2h-3.2zM977.2 738.4h3.2v3.2h-3.2zM1016.3 713.1h3.2v3.2h-3.2zM911 676.3h3.2v3.2h-3.2zM901.6 702.4h3.2v3.2h-3.2zM911.4 726.6h3.2v3.2h-3.2zM928.3 660h3.2v3.2h-3.2zM915.4 674.9h3.2v3.2h-3.2zM1020.2 715.9h3.2v3.2h-3.2zM963.1 655.2h3.2v3.2h-3.2zM965 667h3.2v3.2h-3.2zM906.4 722.8h3.2v3.2h-3.2zM1000.1 714.2h3.2v3.2h-3.2zM906.8 714.5h3.2v3.2h-3.2zM978.6 742.6h3.2v3.2h-3.2zM957.6 654.2h3.2v3.2h-3.2zM902.3 703.5h3.2v3.2h-3.2zM975.4 722.3h3.2v3.2h-3.2zM926.8 746.5h3.2v3.2h-3.2zM919.7 668.9h3.2v3.2h-3.2zM969.9 693.1h3.2v3.2h-3.2zM930.4 742.1h3.2v3.2h-3.2zM913.3 675.1h3.2v3.2h-3.2zM902.6 712h3.2v3.2h-3.2zM956.3 656.6h3.2v3.2h-3.2zM923.6 672.6h3.2v3.2h-3.2zM917.4 671.3h3.2v3.2h-3.2zM897.2 704.7h3.2v3.2h-3.2zM987.2 750.3h3.2v3.2h-3.2zM924.9 744.4h3.2v3.2h-3.2zM917.5 670h3.2v3.2h-3.2zM905.9 718.8h3.2v3.2h-3.2zM904.4 687.7h3.2v3.2h-3.2zM921.3 744.4h3.2v3.2h-3.2zM987.4 742.2h3.2v3.2h-3.2zM938.2 660.3h3.2v3.2h-3.2zM899.7 706.8h3.2v3.2h-3.2zM903.7 708.3h3.2v3.2h-3.2zM933.5 657.6h3.2v3.2h-3.2zM954.2 652.2h3.2v3.2h-3.2zM1023.1 727.4h3.2v3.2h-3.2zM955.4 653.6h3.2v3.2h-3.2zM975 719.7h3.2v3.2h-3.2zM1000.1 715.2h3.2v3.2h-3.2zM968 671.6h3.2v3.2h-3.2zM902.9 701.1h3.2v3.2h-3.2zM908.5 684.6h3.2v3.2h-3.2zM907.7 722.8h3.2v3.2h-3.2zM924.3 663.6h3.2v3.2h-3.2zM909.6 731.3h3.2v3.2h-3.2zM966.4 672.7h3.2v3.2h-3.2zM947 651.2h3.2v3.2h-3.2zM1022.8 723.5h3.2v3.2h-3.2zM929.1 741.1h3.2v3.2h-3.2zM902.9 718.3h3.2v3.2h-3.2zM946.8 657.3h3.2v3.2h-3.2zM901.2 700.1h3.2v3.2h-3.2zM974.4 731.7h3.2v3.2h-3.2zM970.6 696h3.2v3.2h-3.2zM930.4 656.2h3.2v3.2h-3.2zM929.3 663.7h3.2v3.2h-3.2zM983.3 757.9h3.2v3.2h-3.2zM965.6 676.8h3.2v3.2h-3.2zM966.5 674.8h3.2v3.2h-3.2zM988.7 763.4h3.2v3.2h-3.2zM980.7 763.2h3.2v3.2h-3.2zM932.7 660.9h3.2v3.2h-3.2zM945.6 650.5h3.2v3.2h-3.2zM922.3 664h3.2v3.2h-3.2zM903.1 702.5h3.2v3.2h-3.2zM971.8 716.1h3.2v3.2h-3.2zM973.7 722.1h3.2v3.2h-3.2zM960.9 659.7h3.2v3.2h-3.2zM909.4 679.3h3.2v3.2h-3.2zM919.7 738.9h3.2v3.2h-3.2zM910.3 732h3.2v3.2h-3.2zM920.9 668.7h3.2v3.2h-3.2zM920.3 736.7h3.2v3.2h-3.2zM902.9 685.6h3.2v3.2h-3.2zM970.7 705.8h3.2v3.2h-3.2zM969.4 687.1h3.2v3.2h-3.2zM902.8 711.7h3.2v3.2h-3.2zM900 689.8h3.2v3.2h-3.2zM930.1 746.1h3.2v3.2h-3.2zM908.9 722.9h3.2v3.2h-3.2zM965.6 664.9h3.2v3.2h-3.2zM1027.3 734.4h3.2v3.2h-3.2zM904.4 691.3h3.2v3.2h-3.2zM989.7 740.5h3.2v3.2h-3.2zM929.1 744.8h3.2v3.2h-3.2zM902 682.4h3.2v3.2h-3.2zM978 743.8h3.2v3.2h-3.2zM1002 717.1h3.2v3.2h-3.2zM904.7 682.3h3.2v3.2h-3.2zM931.5 661.4h3.2v3.2h-3.2zM1023.4 720.3h3.2v3.2h-3.2zM912.2 730h3.2v3.2h-3.2zM1025.6 730.1h3.2v3.2h-3.2zM974.2 718.5h3.2v3.2h-3.2zM899.5 707.2h3.2v3.2h-3.2zM906.2 693.5h3.2v3.2h-3.2zM971.7 692.8h3.2v3.2h-3.2zM980.3 763.4h3.2v3.2h-3.2zM973.5 711.5h3.2v3.2h-3.2zM1000.1 720.9h3.2v3.2h-3.2zM941.4 751h3.2v3.2h-3.2zM908.7 721.1h3.2v3.2h-3.2zM989.9 732.2h3.2v3.2h-3.2zM1025.3 727.3h3.2v3.2h-3.2zM899.3 690.7h3.2v3.2h-3.2zM903 681.7h3.2v3.2h-3.2zM923.9 667.6h3.2v3.2h-3.2zM908.6 674.2h3.2v3.2h-3.2zM987.9 743.3h3.2v3.2h-3.2zM902.7 705.3h3.2v3.2h-3.2zM1028.7 732.6h3.2v3.2h-3.2z" fill="none" stroke="#bfbfbf" stroke-width="0.9"/>
<path d="M847 475.7h3.2v3.2h-3.2zM898.4 515.4h3.2v3.2h-3.2zM836.7 534.4h3.2v3.2h-3.2zM876.3 526.4h3.2v3.2h-3.2zM877.1 542.4h3.2v3.2h-3.2zM846.2 554.6h3.2v3.2h-3.2zM883.9 550h3.2v3.2h-3.2zM874.8 559.5h3.2v3.2h-3.2zM831.7 585.4h3.2v3.2h-3.2zM834.8 600.7h3.2v3.2h-3.2zM843.9 598.4h3.2v3.2h-3.2zM799.4 612.9h3.2v3.2h-3.2zM817.3 614h3.2v3.2h-3.2zM792.9 645.6h3.2v3.2h-3.2zM820.3 642.2h3.2v3.2h-3.2zM840.5 635.4h3.2v3.2h-3.2zM849.6 630.8h3.2v3.2h-3.2zM846.2 650.2h3.2v3.2h-3.2zM857.3 659.4h3.2v3.2h-3.2zM852.7 678.4h3.2v3.2h-3.2zM851.9 688.3h3.2v3.2h-3.2zM856.5 706.6h3.2v3.2h-3.2zM862.6 684.9h3.2v3.2h-3.2zM868.7 688.3h3.2v3.2h-3.2zM872.9 726h3.2v3.2h-3.2zM1181.4 441.4h3.2v3.2h-3.2zM1196.7 446h3.2v3.2h-3.2zM1165.1 492.1h3.2v3.2h-3.2zM1130 526.4h3.2v3.2h-3.2zM1069.8 537.8h3.2v3.2h-3.2zM1077.8 568.3h3.2v3.2h-3.2zM1109.8 572.9h3.2v3.2h-3.2zM1093.1 585.4h3.2v3.2h-3.2zM1131.9 599.2h3.2v3.2h-3.2zM1122 618.6h3.2v3.2h-3.2zM1059.5 581.6h3.2v3.2h-3.2zM1070.6 604.5h3.2v3.2h-3.2zM1083.9 626.2h3.2v3.2h-3.2zM1087 651.7h3.2v3.2h-3.2zM1078.6 651.7h3.2v3.2h-3.2zM1085.1 684.1h3.2v3.2h-3.2zM1083.2 699.4h3.2v3.2h-3.2zM1103.4 696.3h3.2v3.2h-3.2zM1093.4 701.3h3.2v3.2h-3.2zM1069.8 632.7h3.2v3.2h-3.2zM1050 609.8h3.2v3.2h-3.2zM1037.4 602.6h3.2v3.2h-3.2zM1026.8 600.7h3.2v3.2h-3.2zM1015.7 605.3h3.2v3.2h-3.2zM1013.8 642.2h3.2v3.2h-3.2zM1010 663.9h3.2v3.2h-3.2zM1034.8 618.6h3.2v3.2h-3.2zM1040.5 632.7h3.2v3.2h-3.2zM1033.6 656.7h3.2v3.2h-3.2zM1048.9 663.2h3.2v3.2h-3.2zM1056.5 679.2h3.2v3.2h-3.2zM1062.2 684.1h3.2v3.2h-3.2zM1064.1 718.4h3.2v3.2h-3.2zM1067.9 701.3h3.2v3.2h-3.2zM1058.4 708.9h3.2v3.2h-3.2zM1050.8 697.4h3.2v3.2h-3.2zM1041.3 693.6h3.2v3.2h-3.2zM862.2 566h3.2v3.2h-3.2zM869.8 566h3.2v3.2h-3.2zM885.1 571.7h3.2v3.2h-3.2zM900.3 566h3.2v3.2h-3.2zM909.8 567.2h3.2v3.2h-3.2zM920.1 566h3.2v3.2h-3.2zM881.3 583.2h3.2v3.2h-3.2zM887 587h3.2v3.2h-3.2zM889.6 596.5h3.2v3.2h-3.2zM896.5 594.6h3.2v3.2h-3.2zM907.9 590.8h3.2v3.2h-3.2zM919.4 597.6h3.2v3.2h-3.2zM927 602.2h3.2v3.2h-3.2zM936.5 591.5h3.2v3.2h-3.2zM866 602.2h3.2v3.2h-3.2zM872.9 617.4h3.2v3.2h-3.2zM881.3 617.4h3.2v3.2h-3.2zM892.7 621.3h3.2v3.2h-3.2zM902.2 609.8h3.2v3.2h-3.2zM911.7 606h3.2v3.2h-3.2zM923.2 611.7h3.2v3.2h-3.2zM930.8 625.1h3.2v3.2h-3.2zM942.2 618.6h3.2v3.2h-3.2zM947.9 607.9h3.2v3.2h-3.2zM887 636.5h3.2v3.2h-3.2zM898.4 640.3h3.2v3.2h-3.2zM907.9 630.8h3.2v3.2h-3.2zM915.5 642.2h3.2v3.2h-3.2zM927 632.7h3.2v3.2h-3.2zM862.2 625.1h3.2v3.2h-3.2zM869.8 640.3h3.2v3.2h-3.2zM885.1 647.9h3.2v3.2h-3.2zM900.3 655.5h3.2v3.2h-3.2zM885.1 670.8h3.2v3.2h-3.2zM877.4 693.6h3.2v3.2h-3.2zM885.1 701.3h3.2v3.2h-3.2zM892.7 712.7h3.2v3.2h-3.2zM925.5 612.1h3.2v3.2h-3.2zM882.3 654.9h3.2v3.2h-3.2zM907.8 612.5h3.2v3.2h-3.2zM945 648.8h3.2v3.2h-3.2zM950.2 647.7h3.2v3.2h-3.2zM951.8 651.4h3.2v3.2h-3.2zM876.3 694.7h3.2v3.2h-3.2zM879.2 657.1h3.2v3.2h-3.2zM919.5 665h3.2v3.2h-3.2zM897.2 652.4h3.2v3.2h-3.2zM911 673.5h3.2v3.2h-3.2zM917.5 746.9h3.2v3.2h-3.2zM882.7 619.7h3.2v3.2h-3.2zM909.7 722.9h3.2v3.2h-3.2zM933.3 643.4h3.2v3.2h-3.2zM904.1 676.6h3.2v3.2h-3.2zM908.7 674.4h3.2v3.2h-3.2zM930.3 746.4h3.2v3.2h-3.2zM893 706.7h3.2v3.2h-3.2zM889.5 712.8h3.2v3.2h-3.2zM905.1 726.8h3.2v3.2h-3.2zM912.2 734.8h3.2v3.2h-3.2zM914.3 662.4h3.2v3.2h-3.2zM933.5 655.4h3.2v3.2h-3.2zM892.3 684.3h3.2v3.2h-3.2zM911.5 583.9h3.2v3.2h-3.2zM913.2 728h3.2v3.2h-3.2zM926.2 627.8h3.2v3.2h-3.2zM902.1 741.2h3.2v3.2h-3.2zM877.1 680.7h3.2v3.2h-3.2zM923.1 619.7h3.2v3.2h-3.2zM916.8 747.6h3.2v3.2h-3.2zM908.7 720.6h3.2v3.2h-3.2zM896.3 729.4h3.2v3.2h-3.2zM911.3 656.1h3.2v3.2h-3.2zM915.4 739.2h3.2v3.2h-3.2zM902.4 688.6h3.2v3.2h-3.2zM945.8 639.9h3.2v3.2h-3.2zM905.8 626.8h3.2v3.2h-3.2zM930 749.7h3.2v3.2h-3.2zM890.6 696.2h3.2v3.2h-3.2zM893.3 657.9h3.2v3.2h-3.2zM906.6 670.7h3.2v3.2h-3.2zM888.6 684.3h3.2v3.2h-3.2zM914.6 652.8h3.2v3.2h-3.2zM929.7 635.4h3.2v3.2h-3.2zM912.8 649.4h3.2v3.2h-3.2zM899.6 610.3h3.2v3.2h-3.2zM904.4 679.7h3.2v3.2h-3.2zM898.8 683.7h3.2v3.2h-3.2zM931 747.4h3.2v3.2h-3.2zM930.6 622h3.2v3.2h-3.2zM906.3 671.2h3.2v3.2h-3.2zM924.9 664.8h3.2v3.2h-3.2zM952.8 652.5h3.2v3.2h-3.2zM906.7 606.1h3.2v3.2h-3.2zM872.4 604.4h3.2v3.2h-3.2zM932.6 641.8h3.2v3.2h-3.2zM943.5 648.9h3.2v3.2h-3.2zM913.3 648.5h3.2v3.2h-3.2zM885.7 611.2h3.2v3.2h-3.2zM946.8 651.2h3.2v3.2h-3.2zM910.2 741.1h3.2v3.2h-3.2zM925.9 614.2h3.2v3.2h-3.2zM930.7 750.4h3.2v3.2h-3.2zM899.5 679h3.2v3.2h-3.2zM908.1 663.8h3.2v3.2h-3.2zM944.5 650.4h3.2v3.2h-3.2zM942.1 651.5h3.2v3.2h-3.2zM925.5 630.9h3.2v3.2h-3.2zM898 711.4h3.2v3.2h-3.2zM940 752.5h3.2v3.2h-3.2zM908.2 617.2h3.2v3.2h-3.2zM921.6 743.4h3.2v3.2h-3.2zM892.2 697.8h3.2v3.2h-3.2zM903.2 692.8h3.2v3.2h-3.2zM909.4 638.8h3.2v3.2h-3.2zM887.5 701.1h3.2v3.2h-3.2zM948.6 653.9h3.2v3.2h-3.2zM925.2 662.1h3.2v3.2h-3.2zM945.5 638.4h3.2v3.2h-3.2zM929.9 654.1h3.2v3.2h-3.2zM883.3 704.1h3.2v3.2h-3.2zM946.8 639h3.2v3.2h-3.2zM903.4 745.3h3.2v3.2h-3.2zM922.1 650.3h3.2v3.2h-3.2zM902.1 678.6h3.2v3.2h-3.2zM916.8 672.4h3.2v3.2h-3.2zM900.9 682.2h3.2v3.2h-3.2zM899.4 651.7h3.2v3.2h-3.2zM911.3 664.2h3.2v3.2h-3.2zM948.6 647.9h3.2v3.2h-3.2zM891.9 700.5h3.2v3.2h-3.2zM923.7 665.4h3.2v3.2h-3.2zM926.3 744.6h3.2v3.2h-3.2zM904.1 662.5h3.2v3.2h-3.2zM904.8 663.4h3.2v3.2h-3.2zM950.1 626.7h3.2v3.2h-3.2zM916.2 746.7h3.2v3.2h-3.2zM882.8 694.4h3.2v3.2h-3.2zM885.4 645.1h3.2v3.2h-3.2zM912.2 637.6h3.2v3.2h-3.2zM915.3 733.2h3.2v3.2h-3.2zM941.8 631.6h3.2v3.2h-3.2zM895.9 667.5h3.2v3.2h-3.2zM887.9 721.8h3.2v3.2h-3.2zM902.5 688.1h3.2v3.2h-3.2zM904.5 682.8h3.2v3.2h-3.2zM888.8 695.6h3.2v3.2h-3.2zM925.8 627.6h3.2v3.2h-3.2zM889 667.4h3.2v3.2h-3.2zM920.9 662.7h3.2v3.2h-3.2zM955.8 763.5h3.2v3.2h-3.2zM923.9 741.9h3.2v3.2h-3.2zM916.7 666.6h3.2v3.2h-3.2zM904.1 687.8h3.2v3.2h-3.2zM931.1 660.5h3.2v3.2h-3.2zM926.1 653.8h3.2v3.2h-3.2zM910.9 724.2h3.2v3.2h-3.2zM911.1 735.8h3.2v3.2h-3.2zM903.2 664h3.2v3.2h-3.2zM919.9 744.8h3.2v3.2h-3.2zM926.8 655.8h3.2v3.2h-3.2zM907.9 652.3h3.2v3.2h-3.2zM941.6 621h3.2v3.2h-3.2zM890.8 695.5h3.2v3.2h-3.2zM894.2 645.8h3.2v3.2h-3.2zM868.4 578.9h3.2v3.2h-3.2zM919.7 741.5h3.2v3.2h-3.2zM874.6 685.9h3.2v3.2h-3.2zM955.7 651.6h3.2v3.2h-3.2zM906.3 619.7h3.2v3.2h-3.2zM923 747.2h3.2v3.2h-3.2zM945.1 650h3.2v3.2h-3.2zM890.1 726h3.2v3.2h-3.2zM895.8 677.5h3.2v3.2h-3.2zM904.5 728.1h3.2v3.2h-3.2zM915.8 733.8h3.2v3.2h-3.2zM906.9 629.6h3.2v3.2h-3.2zM884.7 694.6h3.2v3.2h-3.2zM920.3 671h3.2v3.2h-3.2zM870.9 673h3.2v3.2h-3.2zM944.3 758h3.2v3.2h-3.2zM931.5 644.1h3.2v3.2h-3.2zM944.4 650.3h3.2v3.2h-3.2zM896.8 653.2h3.2v3.2h-3.2zM917.5 654.1h3.2v3.2h-3.2zM920.6 748.9h3.2v3.2h-3.2zM882.3 661.5h3.2v3.2h-3.2zM888.6 647.4h3.2v3.2h-3.2zM900.1 742.1h3.2v3.2h-3.2zM944.6 624.5h3.2v3.2h-3.2zM903.1 712.2h3.2v3.2h-3.2zM896.2 654.2h3.2v3.2h-3.2zM918.1 651.7h3.2v3.2h-3.2zM924.3 630.6h3.2v3.2h-3.2zM904.3 710.2h3.2v3.2h-3.2zM909.8 668.2h3.2v3.2h-3.2zM958.4 761.4h3.2v3.2h-3.2zM894.1 703.8h3.2v3.2h-3.2zM903.6 692.7h3.2v3.2h-3.2zM944.8 623.7h3.2v3.2h-3.2zM884.8 668.5h3.2v3.2h-3.2zM898.4 696.7h3.2v3.2h-3.2zM927.5 639.8h3.2v3.2h-3.2zM919.3 743.1h3.2v3.2h-3.2zM938.7 654.1h3.2v3.2h-3.2zM898.1 667.7h3.2v3.2h-3.2zM930.2 756.3h3.2v3.2h-3.2zM901.1 658.8h3.2v3.2h-3.2zM913.2 676.5h3.2v3.2h-3.2zM906.9 673.5h3.2v3.2h-3.2zM915.7 650.3h3.2v3.2h-3.2zM922.4 663.9h3.2v3.2h-3.2zM951.3 759.5h3.2v3.2h-3.2zM947.5 654.5h3.2v3.2h-3.2zM871.5 682h3.2v3.2h-3.2zM883.7 641.2h3.2v3.2h-3.2zM947 758.2h3.2v3.2h-3.2zM910.1 665.2h3.2v3.2h-3.2zM933.7 748.9h3.2v3.2h-3.2zM936.2 750.5h3.2v3.2h-3.2zM907.9 719.8h3.2v3.2h-3.2zM897.5 695.9h3.2v3.2h-3.2zM872.1 669.3h3.2v3.2h-3.2zM942.9 655.7h3.2v3.2h-3.2zM943.3 642.1h3.2v3.2h-3.2zM905.1 716.6h3.2v3.2h-3.2zM935.3 611h3.2v3.2h-3.2zM874.8 689.2h3.2v3.2h-3.2zM927.4 747.4h3.2v3.2h-3.2zM879.1 591.6h3.2v3.2h-3.2zM894.3 708.2h3.2v3.2h-3.2zM917.9 673.2h3.2v3.2h-3.2zM887.5 679.6h3.2v3.2h-3.2zM922.1 746.7h3.2v3.2h-3.2zM898.3 622.5h3.2v3.2h-3.2zM906.5 720.1h3.2v3.2h-3.2zM912.1 727.8h3.2v3.2h-3.2zM889.4 696.6h3.2v3.2h-3.2zM904.6 724h3.2v3.2h-3.2zM941.1 755.5h3.2v3.2h-3.2zM916.7 671.1h3.2v3.2h-3.2zM956.3 652.7h3.2v3.2h-3.2zM942.1 650.3h3.2v3.2h-3.2zM943.8 627.4h3.2v3.2h-3.2zM938.7 614.7h3.2v3.2h-3.2zM878.4 625.5h3.2v3.2h-3.2zM897.6 734.7h3.2v3.2h-3.2zM930.3 754.6h3.2v3.2h-3.2zM892.5 679.6h3.2v3.2h-3.2zM912.4 672h3.2v3.2h-3.2zM910.6 667h3.2v3.2h-3.2zM919 740.1h3.2v3.2h-3.2zM899.3 630h3.2v3.2h-3.2zM900.5 723.8h3.2v3.2h-3.2zM902.7 722.4h3.2v3.2h-3.2zM932.9 747.6h3.2v3.2h-3.2zM899.2 703.5h3.2v3.2h-3.2zM921.7 741.8h3.2v3.2h-3.2zM914.6 670.7h3.2v3.2h-3.2zM886.4 684.8h3.2v3.2h-3.2zM930.9 644.2h3.2v3.2h-3.2zM892.4 692.9h3.2v3.2h-3.2zM900.4 697.1h3.2v3.2h-3.2zM883.5 701.6h3.2v3.2h-3.2zM879.1 653.7h3.2v3.2h-3.2zM888.9 656.3h3.2v3.2h-3.2zM948.7 760.1h3.2v3.2h-3.2zM911.2 634.5h3.2v3.2h-3.2zM893.4 657.3h3.2v3.2h-3.2zM911.1 664h3.2v3.2h-3.2zM901.9 732.9h3.2v3.2h-3.2zM881.8 638.5h3.2v3.2h-3.2zM902.5 624.2h3.2v3.2h-3.2zM900.5 667.1h3.2v3.2h-3.2zM906.8 735.9h3.2v3.2h-3.2zM877.4 653.2h3.2v3.2h-3.2zM937.1 643.2h3.2v3.2h-3.2zM947 645h3.2v3.2h-3.2zM927.6 752.7h3.2v3.2h-3.2zM907.4 718.5h3.2v3.2h-3.2zM908.9 738.2h3.2v3.2h-3.2zM903.5 685.3h3.2v3.2h-3.2zM918.6 738h3.2v3.2h-3.2zM950.7 641.6h3.2v3.2h-3.2zM893.7 662.4h3.2v3.2h-3.2zM903.5 645.7h3.2v3.2h-3.2zM872.5 649.6h3.2v3.2h-3.2zM887 583.4h3.2v3.2h-3.2zM902.2 722.9h3.2v3.2h-3.2zM885.1 654.4h3.2v3.2h-3.2zM934.9 749.7h3.2v3.2h-3.2zM935.2 756.7h3.2v3.2h-3.2zM953.6 642.3h3.2v3.2h-3.2zM955.3 654.3h3.2v3.2h-3.2zM898.7 625.8h3.2v3.2h-3.2zM934.4 655.4h3.2v3.2h-3.2zM898 661.8h3.2v3.2h-3.2zM879.6 696.8h3.2v3.2h-3.2zM894.3 680.8h3.2v3.2h-3.2zM935.8 656.3h3.2v3.2h-3.2zM879.2 616.5h3.2v3.2h-3.2zM911.1 732.1h3.2v3.2h-3.2zM901.4 653.1h3.2v3.2h-3.2zM900.2 682.4h3.2v3.2h-3.2zM880.5 702.5h3.2v3.2h-3.2zM936.6 647.3h3.2v3.2h-3.2zM903.9 730.3h3.2v3.2h-3.2zM933.9 613h3.2v3.2h-3.2zM902.4 630.6h3.2v3.2h-3.2zM882.2 708.7h3.2v3.2h-3.2zM927.1 651.9h3.2v3.2h-3.2zM912.5 668.9h3.2v3.2h-3.2zM884.5 680.3h3.2v3.2h-3.2zM908.2 674.2h3.2v3.2h-3.2zM935.3 756.3h3.2v3.2h-3.2zM917.8 673.1h3.2v3.2h-3.2zM889 717.3h3.2v3.2h-3.2zM890.5 722.8h3.2v3.2h-3.2zM906.3 682.1h3.2v3.2h-3.2zM951.6 761.7h3.2v3.2h-3.2zM903.2 615h3.2v3.2h-3.2zM937.5 644h3.2v3.2h-3.2zM901.8 722.8h3.2v3.2h-3.2zM928.6 744.7h3.2v3.2h-3.2zM897.9 650.4h3.2v3.2h-3.2zM891.8 633.5h3.2v3.2h-3.2zM932.6 659.1h3.2v3.2h-3.2zM925.2 660.5h3.2v3.2h-3.2zM934.5 614.7h3.2v3.2h-3.2zM876.4 608h3.2v3.2h-3.2zM942.2 649.5h3.2v3.2h-3.2zM897.8 674.9h3.2v3.2h-3.2zM886.4 728h3.2v3.2h-3.2zM905 712.6h3.2v3.2h-3.2zM903.3 682.7h3.2v3.2h-3.2zM901.1 694.6h3.2v3.2h-3.2zM912.2 673.8h3.2v3.2h-3.2zM884.3 659.9h3.2v3.2h-3.2zM895.8 690.4h3.2v3.2h-3.2zM906.2 668.5h3.2v3.2h-3.2zM916.7 642.7h3.2v3.2h-3.2zM936.9 640.9h3.2v3.2h-3.2zM901.1 703.9h3.2v3.2h-3.2zM936.1 607.7h3.2v3.2h-3.2zM927.8 754.7h3.2v3.2h-3.2zM884.4 722.4h3.2v3.2h-3.2zM925.6 657.7h3.2v3.2h-3.2zM915.5 671.9h3.2v3.2h-3.2zM916.3 654h3.2v3.2h-3.2zM902.4 678.2h3.2v3.2h-3.2zM895.7 711.4h3.2v3.2h-3.2zM894.4 693.7h3.2v3.2h-3.2zM904 727.3h3.2v3.2h-3.2zM876.9 700.9h3.2v3.2h-3.2zM922.9 741.8h3.2v3.2h-3.2zM912.1 735.6h3.2v3.2h-3.2zM907 603.7h3.2v3.2h-3.2zM922.5 748.3h3.2v3.2h-3.2zM924.6 743.5h3.2v3.2h-3.2zM940.4 616.5h3.2v3.2h-3.2zM943.1 759.3h3.2v3.2h-3.2zM899.7 644h3.2v3.2h-3.2zM916.7 671.7h3.2v3.2h-3.2zM882.7 699h3.2v3.2h-3.2zM898.3 706.8h3.2v3.2h-3.2zM913.9 739.8h3.2v3.2h-3.2zM889.6 680.4h3.2v3.2h-3.2zM896 664.4h3.2v3.2h-3.2zM931.8 657h3.2v3.2h-3.2zM899.1 647.9h3.2v3.2h-3.2zM925.3 640.3h3.2v3.2h-3.2zM945.6 629.4h3.2v3.2h-3.2zM897 700.2h3.2v3.2h-3.2zM921.4 655.9h3.2v3.2h-3.2zM893.5 648.5h3.2v3.2h-3.2zM946.7 654.1h3.2v3.2h-3.2zM911.8 661.9h3.2v3.2h-3.2zM876.7 698.4h3.2v3.2h-3.2zM902.9 736.6h3.2v3.2h-3.2zM929.9 661.2h3.2v3.2h-3.2zM916.8 732.1h3.2v3.2h-3.2zM923.8 656.3h3.2v3.2h-3.2zM885.5 625.6h3.2v3.2h-3.2zM906.8 726.3h3.2v3.2h-3.2zM902.5 673.9h3.2v3.2h-3.2zM882.8 704h3.2v3.2h-3.2zM877.2 671.7h3.2v3.2h-3.2zM927.6 646.5h3.2v3.2h-3.2zM898.6 733.6h3.2v3.2h-3.2zM937.9 633.9h3.2v3.2h-3.2zM895.2 692.1h3.2v3.2h-3.2zM903.6 733.4h3.2v3.2h-3.2zM900.8 692.6h3.2v3.2h-3.2zM915.3 668.2h3.2v3.2h-3.2zM911.3 677.2h3.2v3.2h-3.2zM897.8 682.3h3.2v3.2h-3.2zM893.1 668.2h3.2v3.2h-3.2zM908.2 734.1h3.2v3.2h-3.2zM912.2 676.1h3.2v3.2h-3.2zM927.3 643.1h3.2v3.2h-3.2zM889.3 643.9h3.2v3.2h-3.2zM905.9 648.8h3.2v3.2h-3.2zM884.9 702.3h3.2v3.2h-3.2zM904.2 675.7h3.2v3.2h-3.2zM893.6 669.6h3.2v3.2h-3.2zM901.7 713.6h3.2v3.2h-3.2zM901.6 660h3.2v3.2h-3.2zM900.6 703.2h3.2v3.2h-3.2zM917.8 742.7h3.2v3.2h-3.2zM917.6 658.4h3.2v3.2h-3.2zM897.1 702h3.2v3.2h-3.2zM896.7 708.6h3.2v3.2h-3.2zM917.1 735.2h3.2v3.2h-3.2zM932.7 633.4h3.2v3.2h-3.2zM893.3 690.4h3.2v3.2h-3.2zM946.4 757.1h3.2v3.2h-3.2zM938.4 656.3h3.2v3.2h-3.2zM885.4 661.2h3.2v3.2h-3.2zM944.5 653.3h3.2v3.2h-3.2zM902.6 666h3.2v3.2h-3.2zM888.2 718.1h3.2v3.2h-3.2zM934.3 605.4h3.2v3.2h-3.2zM908.5 662.7h3.2v3.2h-3.2zM902.4 664.3h3.2v3.2h-3.2zM913.6 667.4h3.2v3.2h-3.2zM889.3 666.3h3.2v3.2h-3.2zM899.1 660h3.2v3.2h-3.2zM902.8 662.1h3.2v3.2h-3.2zM926.2 747.7h3.2v3.2h-3.2zM954.7 648.1h3.2v3.2h-3.2zM943.1 650.9h3.2v3.2h-3.2zM892.7 712.3h3.2v3.2h-3.2zM901.7 690.6h3.2v3.2h-3.2zM875 620.8h3.2v3.2h-3.2zM914.2 660.7h3.2v3.2h-3.2zM884.1 603.3h3.2v3.2h-3.2zM904.8 669.7h3.2v3.2h-3.2zM897.2 707.5h3.2v3.2h-3.2zM944.2 646.1h3.2v3.2h-3.2zM884.5 724.4h3.2v3.2h-3.2zM867.8 619.2h3.2v3.2h-3.2zM894.5 700.2h3.2v3.2h-3.2zM898.4 661.4h3.2v3.2h-3.2zM910.3 728.1h3.2v3.2h-3.2zM933.4 751.8h3.2v3.2h-3.2zM937.2 652.5h3.2v3.2h-3.2zM920.2 671.2h3.2v3.2h-3.2zM897.6 708.4h3.2v3.2h-3.2zM880.4 697.7h3.2v3.2h-3.2zM905.4 667.2h3.2v3.2h-3.2zM887.2 684.4h3.2v3.2h-3.2zM924.7 655.5h3.2v3.2h-3.2zM947.7 639.8h3.2v3.2h-3.2zM948.2 625.7h3.2v3.2h-3.2zM916 647.1h3.2v3.2h-3.2zM898.8 718.1h3.2v3.2h-3.2zM909.4 677.2h3.2v3.2h-3.2zM924.1 646.5h3.2v3.2h-3.2zM897.9 724.6h3.2v3.2h-3.2zM894.3 652.7h3.2v3.2h-3.2zM924.1 636.8h3.2v3.2h-3.2zM899.1 668.5h3.2v3.2h-3.2zM910.4 621.6h3.2v3.2h-3.2zM914.4 603.6h3.2v3.2h-3.2zM898.7 720.1h3.2v3.2h-3.2zM883.2 702.3h3.2v3.2h-3.2zM916.9 735h3.2v3.2h-3.2zM889.3 686h3.2v3.2h-3.2zM898.3 720.7h3.2v3.2h-3.2zM946.9 644h3.2v3.2h-3.2zM940 644.3h3.2v3.2h-3.2zM922.1 639.2h3.2v3.2h-3.2zM948.4 756.4h3.2v3.2h-3.2zM883.1 637.7h3.2v3.2h-3.2zM884.7 670.1h3.2v3.2h-3.2zM891.6 694.6h3.2v3.2h-3.2zM901.1 680.6h3.2v3.2h-3.2zM911.1 672.4h3.2v3.2h-3.2zM948.8 642.1h3.2v3.2h-3.2zM888.2 669.4h3.2v3.2h-3.2zM894.9 702.3h3.2v3.2h-3.2zM947.5 643.7h3.2v3.2h-3.2zM927.3 663.9h3.2v3.2h-3.2zM889.9 681.7h3.2v3.2h-3.2zM921.9 597.4h3.2v3.2h-3.2zM935.9 639.7h3.2v3.2h-3.2zM945.3 647.4h3.2v3.2h-3.2zM925.9 742.1h3.2v3.2h-3.2zM924.3 742.9h3.2v3.2h-3.2zM911.3 656.4h3.2v3.2h-3.2zM951.8 634.5h3.2v3.2h-3.2zM888.6 663.5h3.2v3.2h-3.2zM943.4 618.4h3.2v3.2h-3.2zM910.3 728.7h3.2v3.2h-3.2zM902 596.6h3.2v3.2h-3.2zM892.3 691.3h3.2v3.2h-3.2zM898.9 665.2h3.2v3.2h-3.2zM898.7 702.8h3.2v3.2h-3.2zM931.1 747.8h3.2v3.2h-3.2zM896.4 677h3.2v3.2h-3.2zM925.7 617.2h3.2v3.2h-3.2zM878.4 660.5h3.2v3.2h-3.2zM884.4 666.1h3.2v3.2h-3.2zM911.5 747.1h3.2v3.2h-3.2zM883.6 709.2h3.2v3.2h-3.2zM911.1 677.9h3.2v3.2h-3.2zM907.2 674.5h3.2v3.2h-3.2zM908 655.6h3.2v3.2h-3.2zM878.2 647.9h3.2v3.2h-3.2zM929.6 662.1h3.2v3.2h-3.2zM897.1 681.3h3.2v3.2h-3.2zM930.8 657.1h3.2v3.2h-3.2zM908.8 667.9h3.2v3.2h-3.2zM945.9 628.6h3.2v3.2h-3.2zM934.5 643.7h3.2v3.2h-3.2zM897.6 716.3h3.2v3.2h-3.2zM922.1 744.8h3.2v3.2h-3.2zM931 660.3h3.2v3.2h-3.2zM898 668.8h3.2v3.2h-3.2zM878.4 707.8h3.2v3.2h-3.2zM909.7 739.4h3.2v3.2h-3.2zM922.7 668h3.2v3.2h-3.2zM917.5 738.2h3.2v3.2h-3.2zM932.1 652.1h3.2v3.2h-3.2zM876.9 689.4h3.2v3.2h-3.2zM903.9 733.4h3.2v3.2h-3.2zM877.5 704.7h3.2v3.2h-3.2zM940.5 758.2h3.2v3.2h-3.2zM907.8 578.5h3.2v3.2h-3.2zM909.3 648.6h3.2v3.2h-3.2zM951.6 633.6h3.2v3.2h-3.2zM949.1 650.6h3.2v3.2h-3.2zM884.5 652.1h3.2v3.2h-3.2zM922.6 752.5h3.2v3.2h-3.2zM883.3 707.8h3.2v3.2h-3.2zM921.3 626.4h3.2v3.2h-3.2zM942.9 759.8h3.2v3.2h-3.2zM894.2 632h3.2v3.2h-3.2zM894 724.4h3.2v3.2h-3.2zM898 705.4h3.2v3.2h-3.2zM903.2 708.9h3.2v3.2h-3.2zM885.3 693.7h3.2v3.2h-3.2zM910.3 734.1h3.2v3.2h-3.2zM944 759.6h3.2v3.2h-3.2zM896.2 688.7h3.2v3.2h-3.2zM891.6 703.3h3.2v3.2h-3.2zM915.5 629.9h3.2v3.2h-3.2zM896.1 698.7h3.2v3.2h-3.2zM912.4 740.7h3.2v3.2h-3.2zM903 632.9h3.2v3.2h-3.2zM904.5 670.8h3.2v3.2h-3.2zM906.9 650.6h3.2v3.2h-3.2zM897.9 699.5h3.2v3.2h-3.2zM903.1 721.1h3.2v3.2h-3.2zM916.1 625.3h3.2v3.2h-3.2zM942 655h3.2v3.2h-3.2zM948.4 626.1h3.2v3.2h-3.2zM902.8 686h3.2v3.2h-3.2zM960.7 762.6h3.2v3.2h-3.2zM903.3 692.3h3.2v3.2h-3.2zM942.9 645.9h3.2v3.2h-3.2zM932.7 750.7h3.2v3.2h-3.2zM927 743.7h3.2v3.2h-3.2zM889.3 680h3.2v3.2h-3.2zM882.7 672.3h3.2v3.2h-3.2zM907 738.8h3.2v3.2h-3.2zM902.7 654.3h3.2v3.2h-3.2zM951 645.4h3.2v3.2h-3.2zM922.4 747.7h3.2v3.2h-3.2zM872.8 681.2h3.2v3.2h-3.2zM910.2 625.8h3.2v3.2h-3.2zM908.1 625.5h3.2v3.2h-3.2zM914.2 667.9h3.2v3.2h-3.2zM948.6 652.1h3.2v3.2h-3.2zM883.8 674.2h3.2v3.2h-3.2zM884.9 713.1h3.2v3.2h-3.2zM924.3 646.3h3.2v3.2h-3.2zM876.9 661.1h3.2v3.2h-3.2zM911.1 735.7h3.2v3.2h-3.2zM940.2 639.3h3.2v3.2h-3.2zM916.7 597.6h3.2v3.2h-3.2zM937.8 657.6h3.2v3.2h-3.2zM914.1 747.1h3.2v3.2h-3.2zM916.7 736.8h3.2v3.2h-3.2zM932.6 628.6h3.2v3.2h-3.2zM895.9 715.8h3.2v3.2h-3.2zM902.5 722.1h3.2v3.2h-3.2zM909.8 664.7h3.2v3.2h-3.2zM900.8 703.4h3.2v3.2h-3.2zM902.4 701h3.2v3.2h-3.2zM957.4 762.2h3.2v3.2h-3.2zM899.8 635.2h3.2v3.2h-3.2zM901.1 671.1h3.2v3.2h-3.2zM872.5 673.4h3.2v3.2h-3.2zM887.3 667.5h3.2v3.2h-3.2zM935.7 614.7h3.2v3.2h-3.2zM891 708.7h3.2v3.2h-3.2zM912.8 740.4h3.2v3.2h-3.2zM944 649.8h3.2v3.2h-3.2zM870.2 636.6h3.2v3.2h-3.2zM872.3 678.7h3.2v3.2h-3.2zM941 758.2h3.2v3.2h-3.2zM875.6 679.2h3.2v3.2h-3.2zM901 624.9h3.2v3.2h-3.2zM918.1 735.6h3.2v3.2h-3.2zM901.6 684.2h3.2v3.2h-3.2zM898 667.7h3.2v3.2h-3.2zM892.5 718.3h3.2v3.2h-3.2zM914.3 675.3h3.2v3.2h-3.2zM900.4 715.7h3.2v3.2h-3.2zM900.4 668.3h3.2v3.2h-3.2zM880.8 654.9h3.2v3.2h-3.2zM909.8 743.3h3.2v3.2h-3.2zM914.7 735.1h3.2v3.2h-3.2zM903.1 686h3.2v3.2h-3.2zM888.4 606.1h3.2v3.2h-3.2zM907.4 681.7h3.2v3.2h-3.2zM868.6 637.2h3.2v3.2h-3.2zM879 675h3.2v3.2h-3.2zM895 692.8h3.2v3.2h-3.2zM921.3 628.1h3.2v3.2h-3.2zM897.2 703.9h3.2v3.2h-3.2zM916 735.3h3.2v3.2h-3.2zM936.1 656.2h3.2v3.2h-3.2zM905.6 715.2h3.2v3.2h-3.2zM918.5 666.8h3.2v3.2h-3.2zM883 686.7h3.2v3.2h-3.2zM909.3 662.9h3.2v3.2h-3.2zM920.4 752.9h3.2v3.2h-3.2zM897 726.5h3.2v3.2h-3.2zM910.3 584.7h3.2v3.2h-3.2zM881.2 681.6h3.2v3.2h-3.2zM945.4 631h3.2v3.2h-3.2zM896.9 693.4h3.2v3.2h-3.2zM923 749.8h3.2v3.2h-3.2zM888.2 705.2h3.2v3.2h-3.2zM913.1 644.9h3.2v3.2h-3.2zM896.3 727.5h3.2v3.2h-3.2zM1033.8 714.1h3.2v3.2h-3.2zM1022.4 680.6h3.2v3.2h-3.2zM1037.8 727.4h3.2v3.2h-3.2zM1047.5 706.1h3.2v3.2h-3.2zM1021.8 755h3.2v3.2h-3.2zM1008.6 698.6h3.2v3.2h-3.2zM1030.2 693.6h3.2v3.2h-3.2zM1026.3 729.8h3.2v3.2h-3.2zM1030.5 739.1h3.2v3.2h-3.2zM1053.7 694.9h3.2v3.2h-3.2zM1029.1 729.7h3.2v3.2h-3.2zM1008.9 712.6h3.2v3.2h-3.2zM1054.5 706.7h3.2v3.2h-3.2zM1012.6 757.2h3.2v3.2h-3.2zM1053.4 728.3h3.2v3.2h-3.2zM1008.2 688.2h3.2v3.2h-3.2zM1018.4 717.8h3.2v3.2h-3.2zM1002.4 716.2h3.2v3.2h-3.2zM1050.8 695.8h3.2v3.2h-3.2zM1057.4 705.8h3.2v3.2h-3.2zM1022.9 748.9h3.2v3.2h-3.2zM1047.9 695.7h3.2v3.2h-3.2zM1029.1 726.2h3.2v3.2h-3.2zM1011.3 713.1h3.2v3.2h-3.2zM1011.2 695.2h3.2v3.2h-3.2zM1049.9 725.9h3.2v3.2h-3.2zM1035.1 722.6h3.2v3.2h-3.2zM1027.7 748.1h3.2v3.2h-3.2zM1021.7 684.6h3.2v3.2h-3.2zM1014.8 716.6h3.2v3.2h-3.2zM1026.5 748.6h3.2v3.2h-3.2zM1013.4 714.3h3.2v3.2h-3.2zM1007.2 711.8h3.2v3.2h-3.2zM1028.3 717.6h3.2v3.2h-3.2zM1040.1 722.3h3.2v3.2h-3.2zM1014.2 699.4h3.2v3.2h-3.2zM1032.5 747h3.2v3.2h-3.2zM1008 698.8h3.2v3.2h-3.2zM1029.2 723.5h3.2v3.2h-3.2zM1049.1 738h3.2v3.2h-3.2zM1012.7 755.2h3.2v3.2h-3.2zM1010.8 699.3h3.2v3.2h-3.2zM1000.5 704.8h3.2v3.2h-3.2zM1034.8 745h3.2v3.2h-3.2zM1033.2 724h3.2v3.2h-3.2zM1022.1 699.7h3.2v3.2h-3.2zM1035.4 720h3.2v3.2h-3.2zM1038.5 718.8h3.2v3.2h-3.2zM1044.2 706.8h3.2v3.2h-3.2zM1014.9 758.6h3.2v3.2h-3.2zM1041 660.8h3.2v3.2h-3.2zM1017.7 752.7h3.2v3.2h-3.2zM1018.4 753.7h3.2v3.2h-3.2zM1017.5 716.8h3.2v3.2h-3.2zM999.8 707.6h3.2v3.2h-3.2zM1023.1 711.2h3.2v3.2h-3.2zM1065.1 703.2h3.2v3.2h-3.2zM1039 681h3.2v3.2h-3.2zM1028.2 701h3.2v3.2h-3.2zM1045.2 723.3h3.2v3.2h-3.2zM1029.1 667.5h3.2v3.2h-3.2zM1044.4 666.1h3.2v3.2h-3.2zM1015.7 713.3h3.2v3.2h-3.2zM1044.2 728.7h3.2v3.2h-3.2zM1045.1 735.5h3.2v3.2h-3.2zM1007 713.3h3.2v3.2h-3.2zM1064.3 705.2h3.2v3.2h-3.2zM1005.2 759.7h3.2v3.2h-3.2zM1017.5 751.5h3.2v3.2h-3.2zM1022.6 722.3h3.2v3.2h-3.2zM1046.6 690.3h3.2v3.2h-3.2zM1000.7 716.4h3.2v3.2h-3.2zM1045.1 685.6h3.2v3.2h-3.2zM1024.7 724.1h3.2v3.2h-3.2zM1051.5 727.7h3.2v3.2h-3.2zM997.1 711.4h3.2v3.2h-3.2zM1028.2 716.7h3.2v3.2h-3.2zM1025.1 752h3.2v3.2h-3.2zM1041.9 710.9h3.2v3.2h-3.2zM999.7 761.9h3.2v3.2h-3.2zM1062.3 686.9h3.2v3.2h-3.2zM1010.9 709.5h3.2v3.2h-3.2zM1017.8 695.9h3.2v3.2h-3.2zM1018 695.6h3.2v3.2h-3.2zM1036.3 726.5h3.2v3.2h-3.2zM1023 701.4h3.2v3.2h-3.2zM1006 686.8h3.2v3.2h-3.2zM1000.2 716.6h3.2v3.2h-3.2zM1026.3 752h3.2v3.2h-3.2zM1031.6 707.3h3.2v3.2h-3.2zM1064.2 705.8h3.2v3.2h-3.2zM1055.6 710.8h3.2v3.2h-3.2zM1019.1 719.4h3.2v3.2h-3.2zM995.7 717.6h3.2v3.2h-3.2zM1021.4 754.7h3.2v3.2h-3.2zM1042.5 699.8h3.2v3.2h-3.2zM1024.3 708.9h3.2v3.2h-3.2zM1033.9 719.5h3.2v3.2h-3.2zM1010.5 711.8h3.2v3.2h-3.2zM1045.3 732.1h3.2v3.2h-3.2zM1026.7 693.8h3.2v3.2h-3.2zM1009.9 698.2h3.2v3.2h-3.2zM1001.3 715.1h3.2v3.2h-3.2zM1000.2 711.4h3.2v3.2h-3.2zM1063 690.9h3.2v3.2h-3.2zM1054 725.3h3.2v3.2h-3.2zM1035.2 745h3.2v3.2h-3.2zM1048.9 733.7h3.2v3.2h-3.2zM1054.3 715h3.2v3.2h-3.2zM1033.5 706.6h3.2v3.2h-3.2zM1039.6 707.9h3.2v3.2h-3.2zM1049.5 725.4h3.2v3.2h-3.2zM1021.6 718.7h3.2v3.2h-3.2zM1016.9 708.2h3.2v3.2h-3.2zM1014.7 716.7h3.2v3.2h-3.2zM996.3 715.7h3.2v3.2h-3.2zM1037.7 735.8h3.2v3.2h-3.2zM1002 711h3.2v3.2h-3.2zM1025.7 704.6h3.2v3.2h-3.2zM1027.1 738h3.2v3.2h-3.2zM1019.1 702.5h3.2v3.2h-3.2zM1036.9 663.8h3.2v3.2h-3.2zM1048.7 700.6h3.2v3.2h-3.2zM1005.5 760.5h3.2v3.2h-3.2zM1023.3 714.1h3.2v3.2h-3.2zM1010.6 713.8h3.2v3.2h-3.2zM1036.7 730.3h3.2v3.2h-3.2zM1013 756.4h3.2v3.2h-3.2zM1013.2 716.1h3.2v3.2h-3.2zM1036.5 746h3.2v3.2h-3.2zM1001.4 710.8h3.2v3.2h-3.2zM1038.8 718.2h3.2v3.2h-3.2zM1031.5 671.1h3.2v3.2h-3.2zM1035.3 728.6h3.2v3.2h-3.2zM1034.5 743.4h3.2v3.2h-3.2zM1004.7 691.3h3.2v3.2h-3.2zM1032.8 694.2h3.2v3.2h-3.2zM1006.6 705.2h3.2v3.2h-3.2zM1031.7 734.1h3.2v3.2h-3.2zM1029.2 701.9h3.2v3.2h-3.2zM1052.5 714.4h3.2v3.2h-3.2zM1029.3 690.7h3.2v3.2h-3.2zM994.2 724.4h3.2v3.2h-3.2zM1013.2 679.8h3.2v3.2h-3.2zM1007.5 710.7h3.2v3.2h-3.2zM1047.5 707.6h3.2v3.2h-3.2zM1027.8 726.6h3.2v3.2h-3.2zM1018.5 684.1h3.2v3.2h-3.2zM1015.5 756.8h3.2v3.2h-3.2zM1038 715.7h3.2v3.2h-3.2zM1001.2 761.6h3.2v3.2h-3.2zM1039.3 719.7h3.2v3.2h-3.2zM999.1 719.2h3.2v3.2h-3.2zM998.7 719.2h3.2v3.2h-3.2zM1044 743.3h3.2v3.2h-3.2zM1021.7 694.5h3.2v3.2h-3.2zM1035.7 746.4h3.2v3.2h-3.2zM1028.4 702.3h3.2v3.2h-3.2zM1045.2 730.9h3.2v3.2h-3.2zM1049.8 721.6h3.2v3.2h-3.2zM1013.1 698.7h3.2v3.2h-3.2zM1050 704.6h3.2v3.2h-3.2zM1034.2 718.6h3.2v3.2h-3.2zM1057.8 683h3.2v3.2h-3.2zM1005.6 705.7h3.2v3.2h-3.2zM1001.7 706.3h3.2v3.2h-3.2zM1064.1 706.9h3.2v3.2h-3.2zM1020.1 718.4h3.2v3.2h-3.2zM1014.5 758.6h3.2v3.2h-3.2zM1003.4 760.9h3.2v3.2h-3.2zM1029.5 728.7h3.2v3.2h-3.2zM1020.7 753.8h3.2v3.2h-3.2zM1029.4 744.6h3.2v3.2h-3.2zM1016.8 695.2h3.2v3.2h-3.2zM1031.9 729.6h3.2v3.2h-3.2zM1040.3 700.3h3.2v3.2h-3.2zM1037.2 691.9h3.2v3.2h-3.2zM1054.4 726.1h3.2v3.2h-3.2zM1004.1 761.2h3.2v3.2h-3.2zM1023.3 697.5h3.2v3.2h-3.2zM1032.3 706.2h3.2v3.2h-3.2zM1008.3 688.8h3.2v3.2h-3.2zM1020.2 671.6h3.2v3.2h-3.2zM1019.2 753.2h3.2v3.2h-3.2zM1013.7 759.1h3.2v3.2h-3.2zM1004 710.6h3.2v3.2h-3.2zM1028.4 722.1h3.2v3.2h-3.2zM1029.2 739.9h3.2v3.2h-3.2zM1042.6 702.7h3.2v3.2h-3.2zM1032.8 668.8h3.2v3.2h-3.2zM1037.4 671.5h3.2v3.2h-3.2zM1022 705.7h3.2v3.2h-3.2zM1035 723.8h3.2v3.2h-3.2zM1030.2 732.5h3.2v3.2h-3.2zM1032.8 722.7h3.2v3.2h-3.2zM1015 698.1h3.2v3.2h-3.2zM1033.6 685.7h3.2v3.2h-3.2zM1009 706.4h3.2v3.2h-3.2zM1030.6 683h3.2v3.2h-3.2zM1053.2 723.9h3.2v3.2h-3.2zM1035.5 734.8h3.2v3.2h-3.2zM1035 746.8h3.2v3.2h-3.2zM1027.5 694.9h3.2v3.2h-3.2zM1012.3 711.8h3.2v3.2h-3.2zM1028.3 749.8h3.2v3.2h-3.2zM1000.5 762.8h3.2v3.2h-3.2zM1030.3 720.5h3.2v3.2h-3.2zM1033.8 695.2h3.2v3.2h-3.2zM1018 751.3h3.2v3.2h-3.2zM1006.1 697h3.2v3.2h-3.2zM1011.7 714.4h3.2v3.2h-3.2zM1040.4 727.7h3.2v3.2h-3.2zM1020.1 718.9h3.2v3.2h-3.2zM1019.4 701.9h3.2v3.2h-3.2zM1041.5 715.8h3.2v3.2h-3.2zM1031.9 716.7h3.2v3.2h-3.2zM1012.2 713.8h3.2v3.2h-3.2zM1037 724.8h3.2v3.2h-3.2zM1066.9 707.6h3.2v3.2h-3.2zM1040.2 739.5h3.2v3.2h-3.2zM1040.3 726.9h3.2v3.2h-3.2zM1024.8 705h3.2v3.2h-3.2zM1029.5 706.2h3.2v3.2h-3.2zM1023.5 707.1h3.2v3.2h-3.2zM1057.7 680.4h3.2v3.2h-3.2zM1003.5 709.8h3.2v3.2h-3.2zM1000.1 708.4h3.2v3.2h-3.2zM1036.3 719.6h3.2v3.2h-3.2zM1056.3 701.7h3.2v3.2h-3.2zM1035.4 745.4h3.2v3.2h-3.2zM1032.6 711h3.2v3.2h-3.2zM1030.1 743.7h3.2v3.2h-3.2zM1036.5 711h3.2v3.2h-3.2zM1035.6 743.2h3.2v3.2h-3.2zM1016.5 699h3.2v3.2h-3.2zM1029.9 737.3h3.2v3.2h-3.2zM1013.9 703.4h3.2v3.2h-3.2zM1023.2 673.6h3.2v3.2h-3.2zM1041.6 712h3.2v3.2h-3.2zM1032.2 735.2h3.2v3.2h-3.2zM1035.6 728h3.2v3.2h-3.2zM1009.1 713.4h3.2v3.2h-3.2zM1022.6 720.7h3.2v3.2h-3.2zM1037 718.5h3.2v3.2h-3.2zM1010.7 691.1h3.2v3.2h-3.2zM1004.3 701.8h3.2v3.2h-3.2zM1008.8 696.7h3.2v3.2h-3.2zM1042.1 738h3.2v3.2h-3.2zM1020 712h3.2v3.2h-3.2zM1040.5 660.7h3.2v3.2h-3.2z" fill="none" stroke="#b5b5b5" stroke-width="0.75"/>
<path d="M980.4 767.3l3.5 -3.5l3.5 3.5l-3.5 3.5zM993.5 754.1l3.5 -3.5l3.5 3.5l-3.5 3.5zM999.5 749.1l3.5 -3.5l3.5 3.5l-3.5 3.5zM1003.1 742.5l3.5 -3.5l3.5 3.5l-3.5 3.5zM1005.8 745.5l3.5 -3.5l3.5 3.5l-3.5 3.5zM1002.4 701.8l3.5 -3.5l3.5 3.5l-3.5 3.5zM1028.6 718.2l3.5 -3.5l3.5 3.5l-3.5 3.5zM1031.3 713.8l3.5 -3.5l3.5 3.5l-3.5 3.5zM1044.2 725.4l3.5 -3.5l3.5 3.5l-3.5 3.5zM1036.3 686.1l3.5 -3.5l3.5 3.5l-3.5 3.5zM1046 672l3.5 -3.5l3.5 3.5l-3.5 3.5zM1048.5 662.1l3.5 -3.5l3.5 3.5l-3.5 3.5zM1046 645l3.5 -3.5l3.5 3.5l-3.5 3.5zM1059 641.4l3.5 -3.5l3.5 3.5l-3.5 3.5zM1075.1 596.8l3.5 -3.5l3.5 3.5l-3.5 3.5zM1072.4 573.8l3.5 -3.5l3.5 3.5l-3.5 3.5zM1092.4 571.1l3.5 -3.5l3.5 3.5l-3.5 3.5zM1078.3 544.1l3.5 -3.5l3.5 3.5l-3.5 3.5zM1104.5 553.5l3.5 -3.5l3.5 3.5l-3.5 3.5zM1106.4 590.5l3.5 -3.5l3.5 3.5l-3.5 3.5zM1130 454.5l3.5 -3.5l3.5 3.5l-3.5 3.5z" fill="#7a0a3a"/>
<g stroke="#6a6a6a" stroke-width="1.5" fill="none"><path d="M109.7 871.2 V1251.4 H637.1"/><line x1="103.2" y1="1227.4" x2="109.7" y2="1227.4"/><line x1="103.2" y1="1179.8" x2="109.7" y2="1179.8"/><line x1="103.2" y1="1132.3" x2="109.7" y2="1132.3"/><line x1="103.2" y1="1084.7" x2="109.7" y2="1084.7"/><line x1="103.2" y1="1037.2" x2="109.7" y2="1037.2"/><line x1="103.2" y1="989.6" x2="109.7" y2="989.6"/><line x1="103.2" y1="942" x2="109.7" y2="942"/><line x1="103.2" y1="894.5" x2="109.7" y2="894.5"/><line x1="133.7" y1="1251.4" x2="133.7" y2="1257.4"/><line x1="181.6" y1="1251.4" x2="181.6" y2="1257.4"/><line x1="229.5" y1="1251.4" x2="229.5" y2="1257.4"/><line x1="277.5" y1="1251.4" x2="277.5" y2="1257.4"/><line x1="325.4" y1="1251.4" x2="325.4" y2="1257.4"/><line x1="373.3" y1="1251.4" x2="373.3" y2="1257.4"/><line x1="421.2" y1="1251.4" x2="421.2" y2="1257.4"/><line x1="469.1" y1="1251.4" x2="469.1" y2="1257.4"/><line x1="517.1" y1="1251.4" x2="517.1" y2="1257.4"/><line x1="565" y1="1251.4" x2="565" y2="1257.4"/><line x1="612.9" y1="1251.4" x2="612.9" y2="1257.4"/></g>
<text transform="translate(86.3,1233) scale(0.950,1)" font-size="16">0</text>
<text transform="translate(86.4,1185.4) scale(0.950,1)" font-size="16">1</text>
<text transform="translate(86.5,1137.9) scale(0.950,1)" font-size="16">2</text>
<text transform="translate(86.4,1090.3) scale(0.950,1)" font-size="16">3</text>
<text transform="translate(86.1,1042.8) scale(0.950,1)" font-size="16">4</text>
<text transform="translate(86.4,995.2) scale(0.950,1)" font-size="16">5</text>
<text transform="translate(86.4,947.6) scale(0.950,1)" font-size="16">6</text>
<text transform="translate(86.5,900.1) scale(0.950,1)" font-size="16">7</text>
<text transform="translate(121.1,1271.2) scale(0.950,1)" font-size="16">-10</text>
<text transform="translate(173.3,1271.2) scale(0.950,1)" font-size="16">-8</text>
<text transform="translate(221.2,1271.2) scale(0.950,1)" font-size="16">-6</text>
<text transform="translate(269,1271.2) scale(0.950,1)" font-size="16">-4</text>
<text transform="translate(317.2,1271.2) scale(0.950,1)" font-size="16">-2</text>
<text transform="translate(369,1271.2) scale(0.950,1)" font-size="16">0</text>
<text transform="translate(417,1271.2) scale(0.950,1)" font-size="16">2</text>
<text transform="translate(465,1271.2) scale(0.950,1)" font-size="16">4</text>
<text transform="translate(512.8,1271.2) scale(0.950,1)" font-size="16">6</text>
<text transform="translate(560.7,1271.2) scale(0.950,1)" font-size="16">8</text>
<text transform="translate(604.2,1271.2) scale(0.950,1)" font-size="16">10</text>
<path d="M374.3 1228.3 L374.3 1191.7 L373 1147.2 L370.4 1134 L366.4 1107.9 L362.5 1100 L358.6 1103.9 L350.7 1107.9 L345.5 1121 L342.9 1140.6 L341.6 1160.2 L342.9 1179.9 L348.1 1199.5 L356 1212.6 L365.1 1224.4 Z" fill="#bfbfbf" stroke="#bfbfbf" stroke-width="2" stroke-linejoin="round"/>
<path d="M374.3 1228.3 L375.6 1191.7 L376.9 1147.2 L379.5 1131.4 L380.8 1114.4 L384.8 1106.6 L390 1107.9 L392.6 1121 L393.9 1134 L397.9 1160.2 L399.2 1179.9 L395.2 1199.5 L388.7 1215.2 L379.5 1225.7 Z" fill="#bfbfbf" stroke="#bfbfbf" stroke-width="2" stroke-linejoin="round"/>
<path d="M342.4 1143.6h3.2v3.2h-3.2zM376.6 1133.3h3.2v3.2h-3.2zM374.1 1138.1h3.2v3.2h-3.2zM341.5 1160.8h3.2v3.2h-3.2zM370.7 1145.8h3.2v3.2h-3.2zM376 1181.8h3.2v3.2h-3.2zM377.5 1117.1h3.2v3.2h-3.2zM377.1 1164.7h3.2v3.2h-3.2zM374.8 1171.1h3.2v3.2h-3.2zM358.5 1104.1h3.2v3.2h-3.2zM338.2 1140.4h3.2v3.2h-3.2zM379.1 1136.4h3.2v3.2h-3.2zM373.5 1169.5h3.2v3.2h-3.2zM359.9 1093.7h3.2v3.2h-3.2zM385.1 1213h3.2v3.2h-3.2zM394.1 1140.3h3.2v3.2h-3.2zM401 1182.1h3.2v3.2h-3.2zM398.7 1198h3.2v3.2h-3.2zM345.3 1124.2h3.2v3.2h-3.2zM370.3 1122.9h3.2v3.2h-3.2zM375.4 1168.3h3.2v3.2h-3.2zM365.8 1127.9h3.2v3.2h-3.2zM399.1 1146.5h3.2v3.2h-3.2zM343.3 1171.3h3.2v3.2h-3.2zM342.3 1164.2h3.2v3.2h-3.2zM400 1148.5h3.2v3.2h-3.2zM341.8 1190.7h3.2v3.2h-3.2zM395.8 1186.6h3.2v3.2h-3.2zM339.7 1118.9h3.2v3.2h-3.2zM337.4 1181.5h3.2v3.2h-3.2zM342.7 1114h3.2v3.2h-3.2zM336.5 1136.8h3.2v3.2h-3.2zM364.8 1113.8h3.2v3.2h-3.2zM394.6 1115.7h3.2v3.2h-3.2zM397.6 1162.1h3.2v3.2h-3.2zM370.1 1176.7h3.2v3.2h-3.2zM339.5 1125.3h3.2v3.2h-3.2zM339.7 1127.5h3.2v3.2h-3.2zM396.5 1197.8h3.2v3.2h-3.2zM341.3 1188.6h3.2v3.2h-3.2zM400.5 1151.6h3.2v3.2h-3.2zM347.1 1107.8h3.2v3.2h-3.2zM369.6 1106.9h3.2v3.2h-3.2zM399.5 1170.4h3.2v3.2h-3.2zM343 1121.2h3.2v3.2h-3.2zM371 1220h3.2v3.2h-3.2zM375.4 1184.4h3.2v3.2h-3.2zM396.4 1132.2h3.2v3.2h-3.2zM396.8 1131.7h3.2v3.2h-3.2zM396.7 1155h3.2v3.2h-3.2zM339.3 1155.1h3.2v3.2h-3.2zM371 1137.3h3.2v3.2h-3.2zM373.9 1153.5h3.2v3.2h-3.2zM341 1113.2h3.2v3.2h-3.2zM378.7 1136.5h3.2v3.2h-3.2zM356.1 1096.3h3.2v3.2h-3.2zM336.3 1162.7h3.2v3.2h-3.2zM343.4 1109.3h3.2v3.2h-3.2zM339.7 1164.1h3.2v3.2h-3.2zM377.4 1142.8h3.2v3.2h-3.2zM375.8 1120.7h3.2v3.2h-3.2zM340.3 1169.4h3.2v3.2h-3.2zM338.6 1146.7h3.2v3.2h-3.2zM389.2 1203.2h3.2v3.2h-3.2zM397.4 1151h3.2v3.2h-3.2zM369.1 1143h3.2v3.2h-3.2zM379.4 1103.3h3.2v3.2h-3.2zM395.1 1147.4h3.2v3.2h-3.2zM347.1 1193.5h3.2v3.2h-3.2zM337 1170.6h3.2v3.2h-3.2zM364.6 1102.6h3.2v3.2h-3.2zM380.4 1109h3.2v3.2h-3.2zM374.1 1158.9h3.2v3.2h-3.2zM371.8 1199.4h3.2v3.2h-3.2zM396.1 1182.5h3.2v3.2h-3.2zM391.2 1131.5h3.2v3.2h-3.2zM397.5 1181.3h3.2v3.2h-3.2zM348.4 1199.7h3.2v3.2h-3.2zM396.6 1168.3h3.2v3.2h-3.2zM339.2 1156.7h3.2v3.2h-3.2zM376.6 1177h3.2v3.2h-3.2zM340.2 1117.8h3.2v3.2h-3.2zM374.3 1204.1h3.2v3.2h-3.2zM395.1 1180h3.2v3.2h-3.2zM372.1 1181h3.2v3.2h-3.2zM369.8 1114.2h3.2v3.2h-3.2zM376.3 1191.3h3.2v3.2h-3.2zM377.6 1147.3h3.2v3.2h-3.2zM367.8 1100.9h3.2v3.2h-3.2zM372.9 1211.5h3.2v3.2h-3.2zM394.2 1158.1h3.2v3.2h-3.2zM397.3 1174.8h3.2v3.2h-3.2zM338.7 1151.3h3.2v3.2h-3.2zM376.9 1114.4h3.2v3.2h-3.2zM376.9 1139.4h3.2v3.2h-3.2zM374.7 1155.8h3.2v3.2h-3.2zM336.1 1172.8h3.2v3.2h-3.2zM338.6 1144.4h3.2v3.2h-3.2zM350.4 1204h3.2v3.2h-3.2zM391.6 1112.4h3.2v3.2h-3.2zM376.3 1114.2h3.2v3.2h-3.2zM399.4 1158.6h3.2v3.2h-3.2zM390.2 1119.8h3.2v3.2h-3.2zM357.2 1101.3h3.2v3.2h-3.2zM338.2 1137.5h3.2v3.2h-3.2zM341.2 1127.3h3.2v3.2h-3.2zM340.6 1174.8h3.2v3.2h-3.2zM339.7 1183h3.2v3.2h-3.2zM336.2 1151.3h3.2v3.2h-3.2zM394.6 1184.6h3.2v3.2h-3.2zM380.1 1127.3h3.2v3.2h-3.2zM370.2 1136h3.2v3.2h-3.2zM391.3 1142.1h3.2v3.2h-3.2zM335.6 1161.7h3.2v3.2h-3.2zM395.2 1121.5h3.2v3.2h-3.2zM337.6 1151.6h3.2v3.2h-3.2zM373.6 1182.6h3.2v3.2h-3.2zM353.4 1100.5h3.2v3.2h-3.2zM395.1 1193.1h3.2v3.2h-3.2zM367.9 1121.4h3.2v3.2h-3.2zM375.5 1129.4h3.2v3.2h-3.2zM379.4 1132.9h3.2v3.2h-3.2zM373.3 1210.6h3.2v3.2h-3.2zM379.2 1123.8h3.2v3.2h-3.2zM373.9 1196.4h3.2v3.2h-3.2zM367.4 1128.1h3.2v3.2h-3.2zM343.7 1139.3h3.2v3.2h-3.2zM393.6 1106.3h3.2v3.2h-3.2zM366.5 1116.6h3.2v3.2h-3.2zM370.7 1208.7h3.2v3.2h-3.2zM390.1 1108.8h3.2v3.2h-3.2zM367.5 1132.7h3.2v3.2h-3.2zM343 1177h3.2v3.2h-3.2zM370.6 1164.6h3.2v3.2h-3.2zM363.1 1110h3.2v3.2h-3.2zM376.2 1116.6h3.2v3.2h-3.2zM377.6 1136.2h3.2v3.2h-3.2zM394.5 1202.1h3.2v3.2h-3.2zM397.3 1156.5h3.2v3.2h-3.2zM342 1172.2h3.2v3.2h-3.2zM337.5 1185.2h3.2v3.2h-3.2zM355 1101.3h3.2v3.2h-3.2zM386.2 1212.8h3.2v3.2h-3.2zM372.9 1186.1h3.2v3.2h-3.2zM400.9 1155h3.2v3.2h-3.2zM352.6 1101.2h3.2v3.2h-3.2zM386.6 1105h3.2v3.2h-3.2zM368.2 1106.8h3.2v3.2h-3.2zM394.1 1185.7h3.2v3.2h-3.2zM367.4 1111.6h3.2v3.2h-3.2zM378.1 1103h3.2v3.2h-3.2zM392.3 1204.5h3.2v3.2h-3.2zM385.5 1105.2h3.2v3.2h-3.2zM370.9 1168.3h3.2v3.2h-3.2zM374.9 1153.2h3.2v3.2h-3.2zM338.9 1181.4h3.2v3.2h-3.2zM395.5 1124h3.2v3.2h-3.2zM391.8 1117.1h3.2v3.2h-3.2zM380.5 1113.8h3.2v3.2h-3.2zM368.8 1138.5h3.2v3.2h-3.2zM370.5 1150.6h3.2v3.2h-3.2zM363.2 1094.8h3.2v3.2h-3.2zM385.3 1213.9h3.2v3.2h-3.2zM389.8 1208.1h3.2v3.2h-3.2zM349.7 1106.9h3.2v3.2h-3.2zM399.6 1195.6h3.2v3.2h-3.2zM370.1 1105.5h3.2v3.2h-3.2zM372.4 1184.3h3.2v3.2h-3.2zM349.2 1106.8h3.2v3.2h-3.2zM383.4 1103.8h3.2v3.2h-3.2zM367.5 1108.1h3.2v3.2h-3.2zM341.3 1167.6h3.2v3.2h-3.2zM341.2 1131.5h3.2v3.2h-3.2zM376.3 1175.8h3.2v3.2h-3.2zM340.7 1150.5h3.2v3.2h-3.2zM386.9 1104.8h3.2v3.2h-3.2zM396.8 1164.7h3.2v3.2h-3.2zM398 1136.8h3.2v3.2h-3.2zM395.4 1184.9h3.2v3.2h-3.2zM399.1 1151.8h3.2v3.2h-3.2zM357.4 1101.8h3.2v3.2h-3.2zM335.5 1145h3.2v3.2h-3.2zM377.9 1118.3h3.2v3.2h-3.2zM382.1 1104h3.2v3.2h-3.2zM394.2 1195.2h3.2v3.2h-3.2zM336.8 1168.6h3.2v3.2h-3.2zM375.6 1215.6h3.2v3.2h-3.2zM370.9 1164.8h3.2v3.2h-3.2zM342.2 1175.4h3.2v3.2h-3.2zM396 1142.2h3.2v3.2h-3.2zM372.1 1163h3.2v3.2h-3.2zM337.6 1148h3.2v3.2h-3.2zM389.8 1114.7h3.2v3.2h-3.2zM394.9 1191.1h3.2v3.2h-3.2zM341.5 1154.6h3.2v3.2h-3.2zM369.8 1119.5h3.2v3.2h-3.2zM376.9 1136.8h3.2v3.2h-3.2zM371.7 1200.4h3.2v3.2h-3.2zM372.1 1170.5h3.2v3.2h-3.2zM349.4 1107.1h3.2v3.2h-3.2z" fill="none" stroke="#bfbfbf" stroke-width="0.9"/>
<path d="M383.8 998.9h3.2v3.2h-3.2zM404.4 1004.1h3.2v3.2h-3.2zM391.3 1026.4h3.2v3.2h-3.2zM362.2 1034.9h3.2v3.2h-3.2zM341.5 1040.5h3.2v3.2h-3.2zM338.9 1045.6h3.2v3.2h-3.2zM329.2 1048.9h3.2v3.2h-3.2zM355.7 1043.1h3.2v3.2h-3.2zM357.6 1043.1h3.2v3.2h-3.2zM392.1 1044.7h3.2v3.2h-3.2zM383.8 1051.3h3.2v3.2h-3.2zM393 1054.5h3.2v3.2h-3.2zM390.4 1059.8h3.2v3.2h-3.2zM361.6 1057.2h3.2v3.2h-3.2zM356.7 1061.1h3.2v3.2h-3.2zM364.6 1061.1h3.2v3.2h-3.2zM353 1064.1h3.2v3.2h-3.2zM327.5 1063.7h3.2v3.2h-3.2zM314.4 1067h3.2v3.2h-3.2zM414.3 1064.6h3.2v3.2h-3.2zM332.4 1071.2h3.2v3.2h-3.2zM340 1071.2h3.2v3.2h-3.2zM296.7 1091.2h3.2v3.2h-3.2zM445.8 1157.3h3.2v3.2h-3.2zM434.2 1174.4h3.2v3.2h-3.2zM418.5 1185.5h3.2v3.2h-3.2zM408 1090.5h3.2v3.2h-3.2zM398.2 1095.1h3.2v3.2h-3.2zM417.9 1106.9h3.2v3.2h-3.2zM414.6 1133.1h3.2v3.2h-3.2zM409.4 1131.1h3.2v3.2h-3.2zM407.4 1130.5h3.2v3.2h-3.2zM420.5 1144.2h3.2v3.2h-3.2zM417.2 1147.5h3.2v3.2h-3.2zM414.6 1164.5h3.2v3.2h-3.2zM415.3 1173.7h3.2v3.2h-3.2zM326.2 1095.1h3.2v3.2h-3.2zM327.1 1104.3h3.2v3.2h-3.2zM323.2 1135.7h3.2v3.2h-3.2zM317.7 1147.5h3.2v3.2h-3.2zM318.3 1151.4h3.2v3.2h-3.2zM321 1159.3h3.2v3.2h-3.2zM317.7 1174.4h3.2v3.2h-3.2zM320.3 1184.4h3.2v3.2h-3.2zM326.9 1192.7h3.2v3.2h-3.2zM342.6 1209.1h3.2v3.2h-3.2zM355.7 1213.6h3.2v3.2h-3.2zM393.6 1215h3.2v3.2h-3.2zM409.4 1204.5h3.2v3.2h-3.2zM405.4 1204.5h3.2v3.2h-3.2zM408 1200.6h3.2v3.2h-3.2zM400.2 1085.3h3.2v3.2h-3.2zM398.9 1077.5h3.2v3.2h-3.2zM389.7 1078.8h3.2v3.2h-3.2zM384.5 1070.2h3.2v3.2h-3.2zM379.2 1073.5h3.2v3.2h-3.2zM366.1 1074.2h3.2v3.2h-3.2zM355.7 1074.2h3.2v3.2h-3.2zM347.8 1076.4h3.2v3.2h-3.2zM329.2 1149.5h3.2v3.2h-3.2zM338.8 1094h3.2v3.2h-3.2zM355.8 1091.4h3.2v3.2h-3.2zM355.7 1218.1h3.2v3.2h-3.2zM358.9 1096.6h3.2v3.2h-3.2zM351.4 1090.5h3.2v3.2h-3.2zM344.4 1194.4h3.2v3.2h-3.2zM358.1 1094.7h3.2v3.2h-3.2zM330.7 1132.8h3.2v3.2h-3.2zM352.2 1209.1h3.2v3.2h-3.2zM338.8 1196.3h3.2v3.2h-3.2zM359.6 1091.6h3.2v3.2h-3.2zM337.9 1163.8h3.2v3.2h-3.2zM324.1 1165.5h3.2v3.2h-3.2zM323.2 1151h3.2v3.2h-3.2zM330.5 1169.2h3.2v3.2h-3.2zM340.8 1180.6h3.2v3.2h-3.2zM322.4 1147.9h3.2v3.2h-3.2zM328.9 1190.5h3.2v3.2h-3.2zM339.3 1104.7h3.2v3.2h-3.2zM335.4 1204.5h3.2v3.2h-3.2zM334.2 1156.4h3.2v3.2h-3.2zM335.3 1105.4h3.2v3.2h-3.2zM321.8 1155.8h3.2v3.2h-3.2zM333.6 1130.8h3.2v3.2h-3.2zM332 1116.9h3.2v3.2h-3.2zM335.4 1201.5h3.2v3.2h-3.2zM328.9 1129.7h3.2v3.2h-3.2zM339.8 1115.9h3.2v3.2h-3.2zM332.1 1125.2h3.2v3.2h-3.2zM352.1 1215.8h3.2v3.2h-3.2zM347.2 1207.4h3.2v3.2h-3.2zM346.8 1109.4h3.2v3.2h-3.2zM358 1082.5h3.2v3.2h-3.2zM336.3 1176.5h3.2v3.2h-3.2zM329 1173.8h3.2v3.2h-3.2zM343.5 1105.8h3.2v3.2h-3.2zM334.9 1166.5h3.2v3.2h-3.2zM360.9 1091.2h3.2v3.2h-3.2zM351.7 1218.3h3.2v3.2h-3.2zM328.7 1178.4h3.2v3.2h-3.2zM322.3 1132.3h3.2v3.2h-3.2zM335.9 1136.8h3.2v3.2h-3.2zM333.8 1139.5h3.2v3.2h-3.2zM330.1 1196.4h3.2v3.2h-3.2zM334.5 1173.8h3.2v3.2h-3.2zM335.7 1098.7h3.2v3.2h-3.2zM336.1 1097.5h3.2v3.2h-3.2zM335.7 1191.1h3.2v3.2h-3.2zM340.9 1134.1h3.2v3.2h-3.2zM349.5 1079.9h3.2v3.2h-3.2zM337.4 1180.5h3.2v3.2h-3.2zM350.4 1098.1h3.2v3.2h-3.2zM331.6 1160h3.2v3.2h-3.2zM341.4 1132.1h3.2v3.2h-3.2zM327.9 1144.5h3.2v3.2h-3.2zM335.9 1176.3h3.2v3.2h-3.2zM341.8 1191.3h3.2v3.2h-3.2zM363.8 1101.2h3.2v3.2h-3.2zM328.7 1103h3.2v3.2h-3.2zM326.2 1125.1h3.2v3.2h-3.2zM339.8 1200.9h3.2v3.2h-3.2zM333.7 1204.4h3.2v3.2h-3.2zM335.9 1108.1h3.2v3.2h-3.2zM335.5 1151.9h3.2v3.2h-3.2zM334 1153.2h3.2v3.2h-3.2zM338.8 1106.1h3.2v3.2h-3.2zM332.6 1166.8h3.2v3.2h-3.2zM339.6 1153.4h3.2v3.2h-3.2zM330.1 1178.5h3.2v3.2h-3.2zM335.8 1103.8h3.2v3.2h-3.2zM336 1131.1h3.2v3.2h-3.2zM337.8 1154.7h3.2v3.2h-3.2zM341.4 1186.7h3.2v3.2h-3.2zM360.5 1088.2h3.2v3.2h-3.2zM344.4 1103h3.2v3.2h-3.2zM343 1208.5h3.2v3.2h-3.2zM326.4 1179.6h3.2v3.2h-3.2zM345.7 1197.8h3.2v3.2h-3.2zM334.4 1179.6h3.2v3.2h-3.2zM328.8 1143.6h3.2v3.2h-3.2zM339.7 1168.1h3.2v3.2h-3.2zM345.6 1098.6h3.2v3.2h-3.2zM351.5 1217.2h3.2v3.2h-3.2zM344.5 1196.8h3.2v3.2h-3.2zM341.4 1098.6h3.2v3.2h-3.2zM337.1 1107.9h3.2v3.2h-3.2zM337.5 1184.4h3.2v3.2h-3.2zM357.9 1220.5h3.2v3.2h-3.2zM348.7 1206.9h3.2v3.2h-3.2zM332.2 1095h3.2v3.2h-3.2zM323.7 1170.6h3.2v3.2h-3.2zM357.9 1091.7h3.2v3.2h-3.2zM329.6 1166.5h3.2v3.2h-3.2zM330.3 1171.6h3.2v3.2h-3.2zM367 1114.1h3.2v3.2h-3.2zM339.4 1187.9h3.2v3.2h-3.2zM321.3 1165.5h3.2v3.2h-3.2zM339.8 1112.4h3.2v3.2h-3.2zM351.5 1206.7h3.2v3.2h-3.2zM340.5 1094.3h3.2v3.2h-3.2zM329.7 1103.4h3.2v3.2h-3.2zM341.1 1177.6h3.2v3.2h-3.2zM334.8 1154.1h3.2v3.2h-3.2zM325.5 1173.7h3.2v3.2h-3.2zM335.7 1180.7h3.2v3.2h-3.2zM338.9 1082.5h3.2v3.2h-3.2zM334.1 1187.5h3.2v3.2h-3.2zM330.8 1194.2h3.2v3.2h-3.2zM328.9 1168.8h3.2v3.2h-3.2zM339.8 1139.5h3.2v3.2h-3.2zM337.4 1194.1h3.2v3.2h-3.2zM346.5 1212.1h3.2v3.2h-3.2zM338.4 1203.2h3.2v3.2h-3.2zM338.6 1129.6h3.2v3.2h-3.2zM331.5 1139.3h3.2v3.2h-3.2zM357.9 1216.7h3.2v3.2h-3.2zM355.7 1093.7h3.2v3.2h-3.2zM340.4 1110.1h3.2v3.2h-3.2zM353.4 1211.1h3.2v3.2h-3.2zM363.3 1093.1h3.2v3.2h-3.2zM351 1217.9h3.2v3.2h-3.2zM343.5 1121.7h3.2v3.2h-3.2zM336.7 1100.5h3.2v3.2h-3.2zM334.6 1182.1h3.2v3.2h-3.2zM338.3 1155.3h3.2v3.2h-3.2zM336.1 1116.9h3.2v3.2h-3.2zM338.7 1177.7h3.2v3.2h-3.2zM359.2 1218.5h3.2v3.2h-3.2zM332.1 1141.3h3.2v3.2h-3.2zM345 1200.6h3.2v3.2h-3.2zM332.6 1175.7h3.2v3.2h-3.2zM353.1 1218.9h3.2v3.2h-3.2zM334.5 1184.1h3.2v3.2h-3.2zM336 1139h3.2v3.2h-3.2zM333 1191.2h3.2v3.2h-3.2zM353.3 1080.4h3.2v3.2h-3.2zM341.9 1103.1h3.2v3.2h-3.2zM339.7 1161h3.2v3.2h-3.2zM335.6 1188.9h3.2v3.2h-3.2zM341.2 1186.6h3.2v3.2h-3.2zM337 1172h3.2v3.2h-3.2zM342.1 1126.9h3.2v3.2h-3.2zM340.9 1179.8h3.2v3.2h-3.2zM363.3 1224.8h3.2v3.2h-3.2zM343.2 1190.4h3.2v3.2h-3.2zM331.8 1116.8h3.2v3.2h-3.2zM334.4 1116.5h3.2v3.2h-3.2zM337.4 1121.8h3.2v3.2h-3.2zM343.3 1095.4h3.2v3.2h-3.2zM363 1222.3h3.2v3.2h-3.2zM364.8 1224.9h3.2v3.2h-3.2zM341.8 1100.3h3.2v3.2h-3.2zM337 1086.3h3.2v3.2h-3.2zM327.4 1139.9h3.2v3.2h-3.2zM330.8 1157.9h3.2v3.2h-3.2zM330.8 1174.3h3.2v3.2h-3.2zM347.5 1088.2h3.2v3.2h-3.2zM348 1082.5h3.2v3.2h-3.2zM326.3 1174.3h3.2v3.2h-3.2zM345.9 1090.3h3.2v3.2h-3.2zM337 1094.4h3.2v3.2h-3.2zM326.2 1161.1h3.2v3.2h-3.2zM328.2 1186.4h3.2v3.2h-3.2zM330.1 1161.9h3.2v3.2h-3.2zM345.3 1111.6h3.2v3.2h-3.2zM329.4 1117.5h3.2v3.2h-3.2zM348.3 1107.8h3.2v3.2h-3.2zM342 1182.1h3.2v3.2h-3.2zM347.9 1204.3h3.2v3.2h-3.2zM344.3 1092.4h3.2v3.2h-3.2zM339.2 1157.5h3.2v3.2h-3.2zM329.5 1152.8h3.2v3.2h-3.2zM336.2 1187.7h3.2v3.2h-3.2zM338.6 1196.4h3.2v3.2h-3.2zM333.7 1109.2h3.2v3.2h-3.2zM326.2 1147.6h3.2v3.2h-3.2zM332.1 1154.4h3.2v3.2h-3.2zM347.3 1201.8h3.2v3.2h-3.2zM332.2 1129.8h3.2v3.2h-3.2zM329.3 1115.4h3.2v3.2h-3.2zM341.2 1206.3h3.2v3.2h-3.2zM334.3 1193.2h3.2v3.2h-3.2zM343.4 1097.2h3.2v3.2h-3.2zM365 1224.3h3.2v3.2h-3.2zM353.9 1089h3.2v3.2h-3.2zM332.2 1102.8h3.2v3.2h-3.2zM353 1084.9h3.2v3.2h-3.2zM353.4 1098h3.2v3.2h-3.2zM353.3 1219.1h3.2v3.2h-3.2zM334.6 1155.8h3.2v3.2h-3.2zM342.4 1076.3h3.2v3.2h-3.2zM326.6 1103.6h3.2v3.2h-3.2zM347.6 1204.8h3.2v3.2h-3.2zM339.3 1183.2h3.2v3.2h-3.2zM330.9 1162.6h3.2v3.2h-3.2zM325.9 1125.9h3.2v3.2h-3.2zM346.6 1198.7h3.2v3.2h-3.2zM349 1077.3h3.2v3.2h-3.2zM326.7 1167.1h3.2v3.2h-3.2zM349.7 1088.5h3.2v3.2h-3.2zM343 1203.3h3.2v3.2h-3.2zM357.3 1098h3.2v3.2h-3.2zM350.4 1104.7h3.2v3.2h-3.2zM362.4 1100.1h3.2v3.2h-3.2zM358.4 1218.5h3.2v3.2h-3.2zM335.1 1118.5h3.2v3.2h-3.2zM351.1 1094.3h3.2v3.2h-3.2zM326.8 1109.8h3.2v3.2h-3.2zM341.4 1132.3h3.2v3.2h-3.2zM343 1088.4h3.2v3.2h-3.2zM341.1 1185.1h3.2v3.2h-3.2zM328.9 1177.6h3.2v3.2h-3.2zM353.5 1097.5h3.2v3.2h-3.2zM335.1 1193h3.2v3.2h-3.2zM326.9 1178.1h3.2v3.2h-3.2zM336.5 1170.5h3.2v3.2h-3.2zM326.2 1170.2h3.2v3.2h-3.2zM323.4 1173.8h3.2v3.2h-3.2zM328.5 1104.3h3.2v3.2h-3.2zM328.9 1167.9h3.2v3.2h-3.2zM330 1175.4h3.2v3.2h-3.2zM326.8 1146.4h3.2v3.2h-3.2zM364.4 1099.3h3.2v3.2h-3.2zM338.7 1134.1h3.2v3.2h-3.2zM325.9 1185.2h3.2v3.2h-3.2zM340.1 1101.4h3.2v3.2h-3.2zM326.8 1118.8h3.2v3.2h-3.2zM345.2 1200.8h3.2v3.2h-3.2zM330.3 1146.3h3.2v3.2h-3.2zM351.8 1078.8h3.2v3.2h-3.2zM338 1112.9h3.2v3.2h-3.2zM342.4 1207.1h3.2v3.2h-3.2zM331.9 1100.5h3.2v3.2h-3.2zM354.3 1213.5h3.2v3.2h-3.2zM341.4 1196.9h3.2v3.2h-3.2zM342.6 1119h3.2v3.2h-3.2zM345.1 1100.4h3.2v3.2h-3.2zM350 1093.3h3.2v3.2h-3.2zM321 1152.9h3.2v3.2h-3.2zM331.3 1145.7h3.2v3.2h-3.2zM356.5 1089.9h3.2v3.2h-3.2zM329.9 1194.1h3.2v3.2h-3.2zM339.1 1195.7h3.2v3.2h-3.2zM365.1 1224.8h3.2v3.2h-3.2zM336.4 1176.9h3.2v3.2h-3.2zM339 1193.8h3.2v3.2h-3.2zM348.1 1107.5h3.2v3.2h-3.2zM333.7 1159.5h3.2v3.2h-3.2zM367.8 1124.5h3.2v3.2h-3.2zM395.1 1210.9h3.2v3.2h-3.2zM389.3 1106.8h3.2v3.2h-3.2zM391.8 1107.7h3.2v3.2h-3.2zM410.4 1163h3.2v3.2h-3.2zM380.1 1105.6h3.2v3.2h-3.2zM394.2 1201.6h3.2v3.2h-3.2zM404.7 1134.4h3.2v3.2h-3.2zM393.3 1120.2h3.2v3.2h-3.2zM398.4 1148h3.2v3.2h-3.2zM388 1212.1h3.2v3.2h-3.2zM381.6 1090h3.2v3.2h-3.2zM377.2 1118.2h3.2v3.2h-3.2zM405.1 1155.1h3.2v3.2h-3.2zM401.8 1169.3h3.2v3.2h-3.2zM401.5 1154.6h3.2v3.2h-3.2zM400.3 1181.3h3.2v3.2h-3.2zM395.6 1116.7h3.2v3.2h-3.2zM388.2 1221.1h3.2v3.2h-3.2zM396.9 1114.8h3.2v3.2h-3.2zM403 1177.4h3.2v3.2h-3.2zM402.6 1136.5h3.2v3.2h-3.2zM377.7 1102h3.2v3.2h-3.2zM385.8 1092.4h3.2v3.2h-3.2zM407.4 1163.4h3.2v3.2h-3.2zM404.5 1185.6h3.2v3.2h-3.2zM403 1125.7h3.2v3.2h-3.2zM402.7 1190.1h3.2v3.2h-3.2zM398 1109.2h3.2v3.2h-3.2zM377.5 1104.8h3.2v3.2h-3.2zM399.1 1207.8h3.2v3.2h-3.2zM407.1 1197.4h3.2v3.2h-3.2zM404.8 1174.7h3.2v3.2h-3.2zM391.7 1210.6h3.2v3.2h-3.2zM396.2 1151.9h3.2v3.2h-3.2zM403.3 1180.6h3.2v3.2h-3.2zM399.9 1140.8h3.2v3.2h-3.2zM404 1179.9h3.2v3.2h-3.2zM397.2 1209.6h3.2v3.2h-3.2zM385.6 1099h3.2v3.2h-3.2zM387.8 1092.4h3.2v3.2h-3.2zM381.8 1086h3.2v3.2h-3.2zM394.5 1123.7h3.2v3.2h-3.2zM395.1 1144.3h3.2v3.2h-3.2zM386.7 1221.5h3.2v3.2h-3.2zM411.1 1164.2h3.2v3.2h-3.2zM404.6 1131.3h3.2v3.2h-3.2zM401.2 1187.8h3.2v3.2h-3.2zM389 1209.2h3.2v3.2h-3.2zM392.5 1205.9h3.2v3.2h-3.2zM379.5 1106.8h3.2v3.2h-3.2zM381.5 1102.1h3.2v3.2h-3.2zM396 1092.7h3.2v3.2h-3.2zM399 1117.9h3.2v3.2h-3.2zM377.5 1107.7h3.2v3.2h-3.2zM400.2 1114.6h3.2v3.2h-3.2zM397.9 1112.6h3.2v3.2h-3.2zM394 1199.7h3.2v3.2h-3.2zM403.5 1163h3.2v3.2h-3.2zM380.8 1101.7h3.2v3.2h-3.2zM393.3 1118.4h3.2v3.2h-3.2zM376.2 1123h3.2v3.2h-3.2zM389.1 1087.8h3.2v3.2h-3.2zM395.9 1139.6h3.2v3.2h-3.2zM408.6 1165.6h3.2v3.2h-3.2zM406 1161.7h3.2v3.2h-3.2zM379.3 1105.5h3.2v3.2h-3.2zM405.5 1177h3.2v3.2h-3.2zM400.7 1116.1h3.2v3.2h-3.2zM401.5 1149h3.2v3.2h-3.2zM402.8 1132.3h3.2v3.2h-3.2zM393.2 1120.7h3.2v3.2h-3.2zM400.8 1119.9h3.2v3.2h-3.2zM381.2 1091.7h3.2v3.2h-3.2zM396.2 1090.3h3.2v3.2h-3.2zM399.6 1167.6h3.2v3.2h-3.2zM394.6 1203.7h3.2v3.2h-3.2zM395.2 1141.2h3.2v3.2h-3.2zM380.6 1099.6h3.2v3.2h-3.2zM397.2 1196.6h3.2v3.2h-3.2zM400.1 1149.8h3.2v3.2h-3.2zM394 1106.4h3.2v3.2h-3.2zM378.2 1107.4h3.2v3.2h-3.2zM396.8 1150.8h3.2v3.2h-3.2zM383.4 1097.9h3.2v3.2h-3.2zM398.1 1121.4h3.2v3.2h-3.2zM403.7 1167.9h3.2v3.2h-3.2zM398.5 1116.9h3.2v3.2h-3.2zM376.9 1109.6h3.2v3.2h-3.2zM402.6 1168.8h3.2v3.2h-3.2zM382.6 1100.6h3.2v3.2h-3.2zM389.4 1211h3.2v3.2h-3.2zM377.3 1119.5h3.2v3.2h-3.2zM392.5 1091.7h3.2v3.2h-3.2zM383.2 1084.5h3.2v3.2h-3.2zM399.3 1185.4h3.2v3.2h-3.2zM406.7 1177.2h3.2v3.2h-3.2zM377.3 1107h3.2v3.2h-3.2zM410.3 1162.8h3.2v3.2h-3.2zM377 1124.5h3.2v3.2h-3.2zM392.1 1102.1h3.2v3.2h-3.2zM381.2 1102.7h3.2v3.2h-3.2zM407 1155h3.2v3.2h-3.2zM402.3 1165.9h3.2v3.2h-3.2zM398.4 1184.8h3.2v3.2h-3.2zM385.8 1096.6h3.2v3.2h-3.2zM392.4 1209.6h3.2v3.2h-3.2zM392.1 1209.6h3.2v3.2h-3.2zM395.1 1126h3.2v3.2h-3.2zM397.1 1134h3.2v3.2h-3.2zM391.3 1205.3h3.2v3.2h-3.2zM399.3 1182.4h3.2v3.2h-3.2zM395.4 1138.1h3.2v3.2h-3.2zM407.4 1136.7h3.2v3.2h-3.2zM382.5 1219.7h3.2v3.2h-3.2zM399.6 1126h3.2v3.2h-3.2zM407.2 1181.1h3.2v3.2h-3.2zM391 1092.7h3.2v3.2h-3.2zM396.9 1165.8h3.2v3.2h-3.2zM380.1 1221.8h3.2v3.2h-3.2zM393.4 1111.6h3.2v3.2h-3.2zM396.4 1192.1h3.2v3.2h-3.2zM388.4 1105.9h3.2v3.2h-3.2zM381.2 1096.5h3.2v3.2h-3.2zM397 1147.8h3.2v3.2h-3.2zM392.2 1116h3.2v3.2h-3.2zM386.4 1217.1h3.2v3.2h-3.2zM402.9 1118.1h3.2v3.2h-3.2zM388.1 1213.9h3.2v3.2h-3.2zM393.8 1208h3.2v3.2h-3.2zM388 1215.4h3.2v3.2h-3.2zM399.3 1160.8h3.2v3.2h-3.2zM399.7 1146.1h3.2v3.2h-3.2zM394.6 1107.7h3.2v3.2h-3.2zM404.2 1130.5h3.2v3.2h-3.2zM394.4 1092.3h3.2v3.2h-3.2zM400.5 1198.5h3.2v3.2h-3.2zM399.9 1122.9h3.2v3.2h-3.2zM396 1090.3h3.2v3.2h-3.2zM408.4 1167.1h3.2v3.2h-3.2zM404.8 1128.6h3.2v3.2h-3.2zM399.3 1129h3.2v3.2h-3.2zM380 1107.4h3.2v3.2h-3.2zM404.2 1176.7h3.2v3.2h-3.2zM397.9 1150h3.2v3.2h-3.2zM402.6 1192.1h3.2v3.2h-3.2zM405.5 1190.9h3.2v3.2h-3.2zM377.2 1106.9h3.2v3.2h-3.2zM399.4 1150.6h3.2v3.2h-3.2zM395 1122.7h3.2v3.2h-3.2zM388.3 1089.6h3.2v3.2h-3.2zM378.4 1105.6h3.2v3.2h-3.2zM382.6 1102.1h3.2v3.2h-3.2zM404.1 1172.6h3.2v3.2h-3.2zM397.4 1120.2h3.2v3.2h-3.2zM393.6 1082.1h3.2v3.2h-3.2zM382.6 1219h3.2v3.2h-3.2zM395.5 1096h3.2v3.2h-3.2zM404.5 1131.2h3.2v3.2h-3.2zM406.9 1191.6h3.2v3.2h-3.2zM389.9 1107.8h3.2v3.2h-3.2zM410.2 1154.6h3.2v3.2h-3.2zM396 1216.1h3.2v3.2h-3.2zM392.3 1206.3h3.2v3.2h-3.2zM398.2 1146.3h3.2v3.2h-3.2zM396.7 1194.8h3.2v3.2h-3.2zM388.8 1090h3.2v3.2h-3.2zM399.3 1156.3h3.2v3.2h-3.2zM396.4 1202h3.2v3.2h-3.2zM396.6 1213.1h3.2v3.2h-3.2zM408 1182.8h3.2v3.2h-3.2zM393.4 1203h3.2v3.2h-3.2zM405.1 1161.8h3.2v3.2h-3.2zM396.6 1129.1h3.2v3.2h-3.2zM394.2 1089.6h3.2v3.2h-3.2zM401.4 1127.1h3.2v3.2h-3.2zM406.6 1164.4h3.2v3.2h-3.2zM376.5 1134.2h3.2v3.2h-3.2zM390.1 1108.7h3.2v3.2h-3.2zM398.9 1147.1h3.2v3.2h-3.2zM400.7 1185.7h3.2v3.2h-3.2zM388.8 1107.5h3.2v3.2h-3.2zM388.7 1210.5h3.2v3.2h-3.2zM393.4 1205.6h3.2v3.2h-3.2zM402.2 1164.3h3.2v3.2h-3.2zM393.3 1113.4h3.2v3.2h-3.2zM394 1115.1h3.2v3.2h-3.2zM398.6 1170.3h3.2v3.2h-3.2zM407.5 1180.3h3.2v3.2h-3.2zM387.5 1214.8h3.2v3.2h-3.2zM403.5 1164h3.2v3.2h-3.2zM391.7 1210.5h3.2v3.2h-3.2zM393.8 1118.1h3.2v3.2h-3.2zM405.6 1177.5h3.2v3.2h-3.2zM401.7 1114.5h3.2v3.2h-3.2zM395.4 1105.9h3.2v3.2h-3.2zM378.9 1109.6h3.2v3.2h-3.2zM399.7 1132.2h3.2v3.2h-3.2zM391.9 1108h3.2v3.2h-3.2zM399.8 1151.3h3.2v3.2h-3.2zM402.1 1126.9h3.2v3.2h-3.2z" fill="none" stroke="#b5b5b5" stroke-width="0.75"/>
<path d="M370.8 1226.4l3.5 -3.5l3.5 3.5l-3.5 3.5zM374.1 1221.8l3.5 -3.5l3.5 3.5l-3.5 3.5zM376 1218.5l3.5 -3.5l3.5 3.5l-3.5 3.5zM374.7 1213.9l3.5 -3.5l3.5 3.5l-3.5 3.5zM381.9 1214.6l3.5 -3.5l3.5 3.5l-3.5 3.5zM377.6 1204.8l3.5 -3.5l3.5 3.5l-3.5 3.5zM382.6 1201.5l3.5 -3.5l3.5 3.5l-3.5 3.5zM384.5 1198.2l3.5 -3.5l3.5 3.5l-3.5 3.5zM391.1 1194.3l3.5 -3.5l3.5 3.5l-3.5 3.5zM379.4 1184.5l3.5 -3.5l3.5 3.5l-3.5 3.5zM380 1174l3.5 -3.5l3.5 3.5l-3.5 3.5zM387.3 1168.8l3.5 -3.5l3.5 3.5l-3.5 3.5zM385.9 1162.9l3.5 -3.5l3.5 3.5l-3.5 3.5zM383.9 1159.6l3.5 -3.5l3.5 3.5l-3.5 3.5zM382.6 1157l3.5 -3.5l3.5 3.5l-3.5 3.5zM380.9 1152.4l3.5 -3.5l3.5 3.5l-3.5 3.5zM381.9 1147.8l3.5 -3.5l3.5 3.5l-3.5 3.5zM390.8 1153l3.5 -3.5l3.5 3.5l-3.5 3.5zM389.4 1144.5l3.5 -3.5l3.5 3.5l-3.5 3.5zM400.9 1147.2l3.5 -3.5l3.5 3.5l-3.5 3.5zM402.9 1149.1l3.5 -3.5l3.5 3.5l-3.5 3.5zM404.2 1138.6l3.5 -3.5l3.5 3.5l-3.5 3.5zM393.6 1110.7l3.5 -3.5l3.5 3.5l-3.5 3.5zM408.5 1115.1l3.5 -3.5l3.5 3.5l-3.5 3.5zM418.3 1093.5l3.5 -3.5l3.5 3.5l-3.5 3.5zM446.5 1043.7l3.5 -3.5l3.5 3.5l-3.5 3.5zM457.2 1105.9l3.5 -3.5l3.5 3.5l-3.5 3.5zM448.7 1113.4l3.5 -3.5l3.5 3.5l-3.5 3.5zM474.5 1106.6l3.5 -3.5l3.5 3.5l-3.5 3.5zM373.4 1216.6l3.5 -3.5l3.5 3.5l-3.5 3.5zM385.2 1161.6l3.5 -3.5l3.5 3.5l-3.5 3.5zM383.2 1155l3.5 -3.5l3.5 3.5l-3.5 3.5zM377.3 1207.4l3.5 -3.5l3.5 3.5l-3.5 3.5z" fill="#870a0a"/>
<g stroke="#6a6a6a" stroke-width="1.5" fill="none"><path d="M722.1 867.4 V1251.4 H1249.3"/><line x1="715.6" y1="1235" x2="722.1" y2="1235"/><line x1="715.6" y1="1185.8" x2="722.1" y2="1185.8"/><line x1="715.6" y1="1136.6" x2="722.1" y2="1136.6"/><line x1="715.6" y1="1087.4" x2="722.1" y2="1087.4"/><line x1="715.6" y1="1038.2" x2="722.1" y2="1038.2"/><line x1="715.6" y1="989" x2="722.1" y2="989"/><line x1="715.6" y1="939.8" x2="722.1" y2="939.8"/><line x1="715.6" y1="890.6" x2="722.1" y2="890.6"/><line x1="734.3" y1="1251.4" x2="734.3" y2="1257.4"/><line x1="784.6" y1="1251.4" x2="784.6" y2="1257.4"/><line x1="834.9" y1="1251.4" x2="834.9" y2="1257.4"/><line x1="885.1" y1="1251.4" x2="885.1" y2="1257.4"/><line x1="935.4" y1="1251.4" x2="935.4" y2="1257.4"/><line x1="985.7" y1="1251.4" x2="985.7" y2="1257.4"/><line x1="1036" y1="1251.4" x2="1036" y2="1257.4"/><line x1="1086.3" y1="1251.4" x2="1086.3" y2="1257.4"/><line x1="1136.5" y1="1251.4" x2="1136.5" y2="1257.4"/><line x1="1186.8" y1="1251.4" x2="1186.8" y2="1257.4"/><line x1="1237.1" y1="1251.4" x2="1237.1" y2="1257.4"/></g>
<text transform="translate(698.7,1240.6) scale(0.950,1)" font-size="16">0</text>
<text transform="translate(698.8,1191.4) scale(0.950,1)" font-size="16">1</text>
<text transform="translate(698.9,1142.2) scale(0.950,1)" font-size="16">2</text>
<text transform="translate(698.8,1093) scale(0.950,1)" font-size="16">3</text>
<text transform="translate(698.5,1043.8) scale(0.950,1)" font-size="16">4</text>
<text transform="translate(698.8,994.6) scale(0.950,1)" font-size="16">5</text>
<text transform="translate(698.8,945.4) scale(0.950,1)" font-size="16">6</text>
<text transform="translate(698.9,896.2) scale(0.950,1)" font-size="16">7</text>
<text transform="translate(721.7,1271.2) scale(0.950,1)" font-size="16">-10</text>
<text transform="translate(776.3,1271.2) scale(0.950,1)" font-size="16">-8</text>
<text transform="translate(826.6,1271.2) scale(0.950,1)" font-size="16">-6</text>
<text transform="translate(876.7,1271.2) scale(0.950,1)" font-size="16">-4</text>
<text transform="translate(927.2,1271.2) scale(0.950,1)" font-size="16">-2</text>
<text transform="translate(981.4,1271.2) scale(0.950,1)" font-size="16">0</text>
<text transform="translate(1031.8,1271.2) scale(0.950,1)" font-size="16">2</text>
<text transform="translate(1082.1,1271.2) scale(0.950,1)" font-size="16">4</text>
<text transform="translate(1132.2,1271.2) scale(0.950,1)" font-size="16">6</text>
<text transform="translate(1182.6,1271.2) scale(0.950,1)" font-size="16">8</text>
<text transform="translate(1228.4,1271.2) scale(0.950,1)" font-size="16">10</text>
<path d="M986.7 1234.4 L986.7 1212.2 L983.5 1189.9 L979.5 1170.2 L976.9 1150.6 L971.7 1142.7 L965.1 1144 L959.9 1148 L956 1157.2 L953.3 1170.2 L954.6 1189.9 L958.6 1206.9 L966.4 1220 L976.9 1230.5 Z" fill="#bfbfbf" stroke="#bfbfbf" stroke-width="2" stroke-linejoin="round"/>
<path d="M986.7 1234.4 L988 1212.2 L990 1189.9 L992.6 1170.2 L995.2 1150.6 L1001.8 1144 L1008.3 1142.7 L1014.9 1150.6 L1017.5 1163.7 L1018.8 1176.8 L1016.2 1189.9 L1011 1203 L1003.1 1216.1 L995.2 1226.6 Z" fill="#bfbfbf" stroke="#bfbfbf" stroke-width="2" stroke-linejoin="round"/>
<path d="M967.5 1142h3.2v3.2h-3.2zM950.7 1171.3h3.2v3.2h-3.2zM1001.8 1143.5h3.2v3.2h-3.2zM1011.5 1149.3h3.2v3.2h-3.2zM950.9 1163.6h3.2v3.2h-3.2zM951.9 1199.8h3.2v3.2h-3.2zM1020.4 1163.2h3.2v3.2h-3.2zM1006.9 1213h3.2v3.2h-3.2zM949.7 1162.6h3.2v3.2h-3.2zM1007.2 1144.9h3.2v3.2h-3.2zM985.5 1225.4h3.2v3.2h-3.2zM1007.7 1139h3.2v3.2h-3.2zM954.2 1144.1h3.2v3.2h-3.2zM953 1198.4h3.2v3.2h-3.2zM1009.1 1141.2h3.2v3.2h-3.2zM1012.7 1195.8h3.2v3.2h-3.2zM1020.7 1164h3.2v3.2h-3.2zM952 1183.1h3.2v3.2h-3.2zM955.7 1143h3.2v3.2h-3.2zM1006.3 1210.2h3.2v3.2h-3.2zM1014.9 1178.3h3.2v3.2h-3.2zM959.7 1210.6h3.2v3.2h-3.2zM1000.3 1139.3h3.2v3.2h-3.2zM1019.6 1174.2h3.2v3.2h-3.2zM1002.4 1217.4h3.2v3.2h-3.2zM996.1 1145.2h3.2v3.2h-3.2zM999.3 1146h3.2v3.2h-3.2zM1001.8 1213.5h3.2v3.2h-3.2zM984.2 1228.7h3.2v3.2h-3.2zM1016.5 1190.9h3.2v3.2h-3.2zM952.3 1174.1h3.2v3.2h-3.2zM981.5 1228.9h3.2v3.2h-3.2zM986.5 1214.9h3.2v3.2h-3.2zM1015.3 1143.6h3.2v3.2h-3.2zM1015.9 1169.1h3.2v3.2h-3.2zM1011.8 1198.1h3.2v3.2h-3.2zM993.9 1161.8h3.2v3.2h-3.2zM962.1 1214.6h3.2v3.2h-3.2zM987.8 1210.1h3.2v3.2h-3.2zM954.8 1158.1h3.2v3.2h-3.2zM999.8 1215.2h3.2v3.2h-3.2zM952.9 1198.1h3.2v3.2h-3.2zM1014.4 1155.2h3.2v3.2h-3.2zM993.9 1224.8h3.2v3.2h-3.2zM954.8 1177.7h3.2v3.2h-3.2zM1013.7 1151.9h3.2v3.2h-3.2zM951.6 1154.4h3.2v3.2h-3.2zM953.6 1162.3h3.2v3.2h-3.2zM962.7 1143.6h3.2v3.2h-3.2zM950.5 1190h3.2v3.2h-3.2zM989.7 1228.7h3.2v3.2h-3.2zM988.6 1204h3.2v3.2h-3.2zM991.9 1173.8h3.2v3.2h-3.2zM958.8 1141.5h3.2v3.2h-3.2zM965.8 1142.6h3.2v3.2h-3.2zM1020.9 1167.9h3.2v3.2h-3.2zM1018 1182.2h3.2v3.2h-3.2zM972.9 1223.6h3.2v3.2h-3.2zM963.2 1144.1h3.2v3.2h-3.2zM1012.9 1201.5h3.2v3.2h-3.2zM1007.3 1141.8h3.2v3.2h-3.2zM951.8 1180.8h3.2v3.2h-3.2zM1017.5 1173.9h3.2v3.2h-3.2zM1011.2 1150.4h3.2v3.2h-3.2zM971.7 1136.9h3.2v3.2h-3.2zM954.1 1159h3.2v3.2h-3.2zM954 1183.2h3.2v3.2h-3.2zM1006.8 1204.5h3.2v3.2h-3.2zM956.1 1197.6h3.2v3.2h-3.2zM1020.3 1186.7h3.2v3.2h-3.2zM1005.9 1142.8h3.2v3.2h-3.2zM1009.9 1204.4h3.2v3.2h-3.2zM969.5 1138.8h3.2v3.2h-3.2zM953.3 1173.4h3.2v3.2h-3.2zM954.7 1194.6h3.2v3.2h-3.2zM978.6 1227.9h3.2v3.2h-3.2zM1016.2 1188.2h3.2v3.2h-3.2zM1010.8 1199.4h3.2v3.2h-3.2zM990.8 1181.2h3.2v3.2h-3.2zM1020.5 1173.4h3.2v3.2h-3.2zM1013.8 1148.5h3.2v3.2h-3.2zM973.1 1151h3.2v3.2h-3.2zM966.3 1219.2h3.2v3.2h-3.2zM947.7 1166.1h3.2v3.2h-3.2zM951.1 1171.3h3.2v3.2h-3.2zM996 1145.8h3.2v3.2h-3.2zM1004.3 1217.4h3.2v3.2h-3.2zM1021.2 1174.7h3.2v3.2h-3.2zM986.3 1224.5h3.2v3.2h-3.2zM971.2 1221.5h3.2v3.2h-3.2zM1013.4 1185h3.2v3.2h-3.2zM986.1 1224.4h3.2v3.2h-3.2zM1015.1 1144.6h3.2v3.2h-3.2zM1009.5 1195.2h3.2v3.2h-3.2zM1016.9 1179.8h3.2v3.2h-3.2zM947.4 1175.7h3.2v3.2h-3.2zM997 1138.3h3.2v3.2h-3.2zM1015.2 1196.3h3.2v3.2h-3.2zM954.4 1182.1h3.2v3.2h-3.2zM990.3 1226h3.2v3.2h-3.2zM997.9 1140.3h3.2v3.2h-3.2zM956.2 1208.3h3.2v3.2h-3.2zM949.9 1187.8h3.2v3.2h-3.2zM1006.6 1205.6h3.2v3.2h-3.2zM1016.7 1165.3h3.2v3.2h-3.2zM979.9 1228.5h3.2v3.2h-3.2zM953.6 1144.2h3.2v3.2h-3.2zM994.8 1222h3.2v3.2h-3.2zM955.8 1207.1h3.2v3.2h-3.2zM959.9 1139.9h3.2v3.2h-3.2zM1017.2 1146.3h3.2v3.2h-3.2zM953.1 1150.6h3.2v3.2h-3.2zM954.7 1200.6h3.2v3.2h-3.2zM971.1 1146.4h3.2v3.2h-3.2zM973.1 1150.6h3.2v3.2h-3.2zM1016.2 1163.7h3.2v3.2h-3.2zM992.5 1169.5h3.2v3.2h-3.2zM971.1 1139.5h3.2v3.2h-3.2zM1001.5 1139.4h3.2v3.2h-3.2zM1012.5 1194.9h3.2v3.2h-3.2zM1007.6 1207.7h3.2v3.2h-3.2zM1012.8 1185.1h3.2v3.2h-3.2zM1008.2 1137.6h3.2v3.2h-3.2zM997.7 1220.6h3.2v3.2h-3.2zM987.1 1230.5h3.2v3.2h-3.2zM949.1 1176.8h3.2v3.2h-3.2zM1021.1 1180.6h3.2v3.2h-3.2zM955.5 1144.7h3.2v3.2h-3.2zM1003.5 1143.7h3.2v3.2h-3.2zM998.7 1221.8h3.2v3.2h-3.2zM955.9 1155.6h3.2v3.2h-3.2zM955.1 1203.9h3.2v3.2h-3.2zM950.4 1194.3h3.2v3.2h-3.2zM953.4 1145.3h3.2v3.2h-3.2zM957.9 1209.8h3.2v3.2h-3.2zM948.1 1175.3h3.2v3.2h-3.2zM1006.7 1201.7h3.2v3.2h-3.2zM950.6 1177.6h3.2v3.2h-3.2zM976.6 1174.4h3.2v3.2h-3.2zM1018.6 1175.7h3.2v3.2h-3.2zM948.7 1166.1h3.2v3.2h-3.2zM952 1149.8h3.2v3.2h-3.2zM1013.9 1184.5h3.2v3.2h-3.2zM974.4 1156.1h3.2v3.2h-3.2zM951 1190.3h3.2v3.2h-3.2zM953.5 1174.5h3.2v3.2h-3.2zM956.3 1148.1h3.2v3.2h-3.2zM1022.2 1173.5h3.2v3.2h-3.2zM950.6 1165.4h3.2v3.2h-3.2zM1013.8 1164.3h3.2v3.2h-3.2zM966.8 1138.1h3.2v3.2h-3.2zM1016.4 1148h3.2v3.2h-3.2zM1016.7 1162.1h3.2v3.2h-3.2zM995 1222h3.2v3.2h-3.2zM956.1 1204.1h3.2v3.2h-3.2zM962.6 1215.8h3.2v3.2h-3.2zM992.4 1174.1h3.2v3.2h-3.2zM1004 1137.7h3.2v3.2h-3.2zM1015.3 1196.5h3.2v3.2h-3.2zM954 1200h3.2v3.2h-3.2zM1016.7 1152.8h3.2v3.2h-3.2zM1002.6 1143h3.2v3.2h-3.2zM952.5 1159.7h3.2v3.2h-3.2zM948.2 1170.6h3.2v3.2h-3.2zM988.5 1214.4h3.2v3.2h-3.2zM1017.7 1185.1h3.2v3.2h-3.2zM956.5 1149.8h3.2v3.2h-3.2zM950.4 1168.5h3.2v3.2h-3.2zM963.3 1145.3h3.2v3.2h-3.2zM957 1152.2h3.2v3.2h-3.2zM951.5 1177.9h3.2v3.2h-3.2zM953.5 1184.8h3.2v3.2h-3.2zM953.7 1184.2h3.2v3.2h-3.2zM1007.7 1139.4h3.2v3.2h-3.2zM1012.4 1200h3.2v3.2h-3.2zM1012.7 1155.6h3.2v3.2h-3.2zM995.3 1223.7h3.2v3.2h-3.2zM953.9 1172h3.2v3.2h-3.2zM949.8 1192.8h3.2v3.2h-3.2zM957.9 1145.3h3.2v3.2h-3.2zM957.5 1148.2h3.2v3.2h-3.2zM948.6 1183.6h3.2v3.2h-3.2zM996 1221.2h3.2v3.2h-3.2zM947.7 1161h3.2v3.2h-3.2zM1009.2 1202.9h3.2v3.2h-3.2zM954.1 1200.7h3.2v3.2h-3.2zM1014.7 1162.9h3.2v3.2h-3.2zM955 1164.2h3.2v3.2h-3.2zM994.2 1220.6h3.2v3.2h-3.2zM1002.8 1141.1h3.2v3.2h-3.2zM1019.1 1158.4h3.2v3.2h-3.2zM1003.3 1141.9h3.2v3.2h-3.2zM1018.7 1155.7h3.2v3.2h-3.2zM1018.5 1168.7h3.2v3.2h-3.2zM1005.6 1139.9h3.2v3.2h-3.2zM956.6 1207.3h3.2v3.2h-3.2zM957.4 1142.3h3.2v3.2h-3.2zM1020.5 1172.2h3.2v3.2h-3.2zM1019 1162.8h3.2v3.2h-3.2zM968.5 1143.4h3.2v3.2h-3.2z" fill="none" stroke="#bfbfbf" stroke-width="0.9"/>
<path d="M917.4 1038h3.2v3.2h-3.2zM930 1053.3h3.2v3.2h-3.2zM948.3 1050.2h3.2v3.2h-3.2zM955.9 1050.6h3.2v3.2h-3.2zM907.2 1063.5h3.2v3.2h-3.2zM912.5 1060.1h3.2v3.2h-3.2zM933.1 1063.9h3.2v3.2h-3.2zM946.8 1065.8h3.2v3.2h-3.2zM949.1 1070h3.2v3.2h-3.2zM963.5 1062h3.2v3.2h-3.2zM964.3 1066.6h3.2v3.2h-3.2zM967.4 1071.5h3.2v3.2h-3.2zM899.5 1105.1h3.2v3.2h-3.2zM909.1 1112.7h3.2v3.2h-3.2zM919.4 1101.3h3.2v3.2h-3.2zM927 1085.3h3.2v3.2h-3.2zM936.9 1083.4h3.2v3.2h-3.2zM1005.8 1040.7h3.2v3.2h-3.2zM1040.1 958.8h3.2v3.2h-3.2zM1043.9 960.3h3.2v3.2h-3.2zM1042 986.2h3.2v3.2h-3.2zM1053.8 987h3.2v3.2h-3.2zM1073.6 987h3.2v3.2h-3.2zM1039.4 1014h3.2v3.2h-3.2zM1060.7 1000.3h3.2v3.2h-3.2zM1070.2 1006.4h3.2v3.2h-3.2zM1080.9 1006.4h3.2v3.2h-3.2zM1072.5 1020.1h3.2v3.2h-3.2zM1058.4 1027h3.2v3.2h-3.2zM1089.3 909.3h3.2v3.2h-3.2zM1131.9 930.2h3.2v3.2h-3.2zM1149.4 923.7h3.2v3.2h-3.2zM1117.4 967.9h3.2v3.2h-3.2zM1107.9 985.4h3.2v3.2h-3.2zM1197.8 900.9h3.2v3.2h-3.2zM1095.4 1069.6h3.2v3.2h-3.2zM1122.8 1163h3.2v3.2h-3.2zM1151.7 1145.8h3.2v3.2h-3.2zM1109.4 1134.8h3.2v3.2h-3.2zM1091.9 1143.2h3.2v3.2h-3.2zM1084.3 1139.4h3.2v3.2h-3.2zM1099.2 1152.7h3.2v3.2h-3.2zM1075.5 1131.7h3.2v3.2h-3.2zM1069.8 1167.9h3.2v3.2h-3.2zM1056.5 1162.2h3.2v3.2h-3.2zM1044.3 1203.4h3.2v3.2h-3.2zM1031 1070h3.2v3.2h-3.2zM1029.8 1056.3h3.2v3.2h-3.2zM1015.4 1075.4h3.2v3.2h-3.2zM1006.2 1086h3.2v3.2h-3.2zM1005.4 1055.5h3.2v3.2h-3.2zM1013.1 1054.4h3.2v3.2h-3.2zM1040.5 1036.9h3.2v3.2h-3.2zM1055.7 1100.9h3.2v3.2h-3.2zM1053.8 1088.7h3.2v3.2h-3.2zM1043.9 1089.8h3.2v3.2h-3.2zM1033.6 1082.2h3.2v3.2h-3.2zM1041.3 1078.4h3.2v3.2h-3.2zM907.2 1134.4h3.2v3.2h-3.2zM917.4 1156.5h3.2v3.2h-3.2zM921.6 1185.1h3.2v3.2h-3.2zM940.3 1207.9h3.2v3.2h-3.2zM934.6 1196.5h3.2v3.2h-3.2zM927 1173.6h3.2v3.2h-3.2zM1048.9 1120.3h3.2v3.2h-3.2zM1060.3 1131.7h3.2v3.2h-3.2zM1066 1143.2h3.2v3.2h-3.2zM1047 1105.1h3.2v3.2h-3.2zM1022.2 1105.1h3.2v3.2h-3.2zM1027.9 1112.7h3.2v3.2h-3.2zM1037.4 1127.9h3.2v3.2h-3.2zM950.8 1171.2h3.2v3.2h-3.2zM935.9 1176.8h3.2v3.2h-3.2zM955.3 1153h3.2v3.2h-3.2zM952.4 1212.5h3.2v3.2h-3.2zM958.6 1129h3.2v3.2h-3.2zM945.2 1145.7h3.2v3.2h-3.2zM948.2 1155.2h3.2v3.2h-3.2zM959.6 1137.9h3.2v3.2h-3.2zM941.3 1144.9h3.2v3.2h-3.2zM950.9 1152.9h3.2v3.2h-3.2zM955 1142.1h3.2v3.2h-3.2zM947.4 1192.2h3.2v3.2h-3.2zM964.8 1221.6h3.2v3.2h-3.2zM957.6 1207.2h3.2v3.2h-3.2zM942.8 1191h3.2v3.2h-3.2zM964.2 1136.2h3.2v3.2h-3.2zM969 1227.3h3.2v3.2h-3.2zM938.4 1180h3.2v3.2h-3.2zM942.7 1188.4h3.2v3.2h-3.2zM950.2 1155.3h3.2v3.2h-3.2zM937.5 1174.4h3.2v3.2h-3.2zM940.3 1133.2h3.2v3.2h-3.2zM948.6 1179.9h3.2v3.2h-3.2zM950.1 1190.9h3.2v3.2h-3.2zM945.3 1190h3.2v3.2h-3.2zM940.6 1169.2h3.2v3.2h-3.2zM946.6 1200.5h3.2v3.2h-3.2zM952.1 1186h3.2v3.2h-3.2zM949.8 1197h3.2v3.2h-3.2zM946.9 1193.6h3.2v3.2h-3.2zM937.4 1143.6h3.2v3.2h-3.2zM959.2 1141.1h3.2v3.2h-3.2zM951 1151.7h3.2v3.2h-3.2zM940.9 1184h3.2v3.2h-3.2zM950.9 1202.8h3.2v3.2h-3.2zM952.2 1213.2h3.2v3.2h-3.2zM954.2 1199.4h3.2v3.2h-3.2zM967.8 1139.8h3.2v3.2h-3.2zM945.3 1159.2h3.2v3.2h-3.2zM948.3 1154.5h3.2v3.2h-3.2zM933.8 1164.3h3.2v3.2h-3.2zM961.1 1214.7h3.2v3.2h-3.2zM946 1165h3.2v3.2h-3.2zM962 1127.2h3.2v3.2h-3.2zM946.5 1187.4h3.2v3.2h-3.2zM966.6 1222.4h3.2v3.2h-3.2zM949.1 1184.7h3.2v3.2h-3.2zM950.1 1130.6h3.2v3.2h-3.2zM963.4 1221.1h3.2v3.2h-3.2zM946.5 1184.5h3.2v3.2h-3.2zM982.3 1231.8h3.2v3.2h-3.2zM952.2 1132h3.2v3.2h-3.2zM953.2 1160.1h3.2v3.2h-3.2zM934.9 1172.6h3.2v3.2h-3.2zM949.2 1190.6h3.2v3.2h-3.2zM969.6 1227.6h3.2v3.2h-3.2zM958.8 1212.3h3.2v3.2h-3.2zM940 1194.6h3.2v3.2h-3.2zM958.5 1131.5h3.2v3.2h-3.2zM951.3 1196.8h3.2v3.2h-3.2zM940.1 1169.4h3.2v3.2h-3.2zM963.5 1122.7h3.2v3.2h-3.2zM942.9 1161.6h3.2v3.2h-3.2zM948.9 1143.1h3.2v3.2h-3.2zM941.9 1172.3h3.2v3.2h-3.2zM952.5 1162.5h3.2v3.2h-3.2zM949 1204.1h3.2v3.2h-3.2zM960.7 1144h3.2v3.2h-3.2zM966.4 1223.1h3.2v3.2h-3.2zM956.5 1145.7h3.2v3.2h-3.2zM941.7 1138.9h3.2v3.2h-3.2zM940.8 1159.2h3.2v3.2h-3.2zM968.9 1139.6h3.2v3.2h-3.2zM969.4 1139.9h3.2v3.2h-3.2zM951.6 1158.5h3.2v3.2h-3.2zM970.1 1138.4h3.2v3.2h-3.2zM977.7 1230.5h3.2v3.2h-3.2zM942 1177.1h3.2v3.2h-3.2zM955.5 1200.7h3.2v3.2h-3.2zM952 1180.3h3.2v3.2h-3.2zM956.6 1122.6h3.2v3.2h-3.2zM957.3 1128.9h3.2v3.2h-3.2zM965.1 1140.9h3.2v3.2h-3.2zM964.6 1222h3.2v3.2h-3.2zM953.7 1192.2h3.2v3.2h-3.2zM960.8 1213.9h3.2v3.2h-3.2zM943.5 1157h3.2v3.2h-3.2zM960.6 1134h3.2v3.2h-3.2zM946.8 1174.7h3.2v3.2h-3.2zM945.2 1140h3.2v3.2h-3.2zM945.8 1187.8h3.2v3.2h-3.2zM951.7 1168.3h3.2v3.2h-3.2zM941.9 1162.4h3.2v3.2h-3.2zM955.8 1149.5h3.2v3.2h-3.2zM951.2 1160.9h3.2v3.2h-3.2zM948.7 1164.9h3.2v3.2h-3.2zM969.8 1137.2h3.2v3.2h-3.2zM940.1 1184.8h3.2v3.2h-3.2zM946.5 1178.7h3.2v3.2h-3.2zM964.3 1140.8h3.2v3.2h-3.2zM948.1 1175.5h3.2v3.2h-3.2zM967 1126.9h3.2v3.2h-3.2zM951.1 1177.3h3.2v3.2h-3.2zM965.2 1124.8h3.2v3.2h-3.2zM963.5 1220.3h3.2v3.2h-3.2zM959.9 1124.9h3.2v3.2h-3.2zM948.1 1199.6h3.2v3.2h-3.2zM959.4 1138h3.2v3.2h-3.2zM942.7 1166.4h3.2v3.2h-3.2zM952.4 1208.2h3.2v3.2h-3.2zM967.8 1141.3h3.2v3.2h-3.2zM948 1191.6h3.2v3.2h-3.2zM946.4 1187.9h3.2v3.2h-3.2zM969 1130.5h3.2v3.2h-3.2zM964.1 1222.4h3.2v3.2h-3.2zM942.9 1188.3h3.2v3.2h-3.2zM968.4 1136.1h3.2v3.2h-3.2zM943.8 1203h3.2v3.2h-3.2zM956 1146h3.2v3.2h-3.2zM967.5 1129.5h3.2v3.2h-3.2zM948.4 1151.4h3.2v3.2h-3.2zM960.6 1140.4h3.2v3.2h-3.2zM945.9 1180.8h3.2v3.2h-3.2zM949.8 1139.3h3.2v3.2h-3.2zM936 1182.3h3.2v3.2h-3.2zM952.4 1155.1h3.2v3.2h-3.2zM942.1 1153.8h3.2v3.2h-3.2zM947.3 1187.8h3.2v3.2h-3.2zM948.1 1168.9h3.2v3.2h-3.2zM951.3 1143.3h3.2v3.2h-3.2zM949.2 1148.3h3.2v3.2h-3.2zM934 1181.4h3.2v3.2h-3.2zM944.5 1196.8h3.2v3.2h-3.2zM945 1124.5h3.2v3.2h-3.2zM949.9 1175.4h3.2v3.2h-3.2zM955.3 1198.9h3.2v3.2h-3.2zM953.8 1208.6h3.2v3.2h-3.2zM955.7 1216.7h3.2v3.2h-3.2zM962.8 1216.3h3.2v3.2h-3.2zM944.3 1192.7h3.2v3.2h-3.2zM956.3 1202.3h3.2v3.2h-3.2zM950.9 1181.8h3.2v3.2h-3.2zM958.8 1216.6h3.2v3.2h-3.2zM948.1 1129.2h3.2v3.2h-3.2zM946.4 1201.4h3.2v3.2h-3.2zM943.1 1167.9h3.2v3.2h-3.2zM967.3 1140.4h3.2v3.2h-3.2zM959.5 1212.7h3.2v3.2h-3.2zM966.8 1131.6h3.2v3.2h-3.2zM942.9 1187.6h3.2v3.2h-3.2zM949.1 1189.5h3.2v3.2h-3.2zM939.5 1196h3.2v3.2h-3.2zM939.1 1193.6h3.2v3.2h-3.2zM935.7 1137.9h3.2v3.2h-3.2zM960.2 1144h3.2v3.2h-3.2zM954.3 1152.1h3.2v3.2h-3.2zM971.7 1141.1h3.2v3.2h-3.2zM952.6 1157.9h3.2v3.2h-3.2zM959.1 1140h3.2v3.2h-3.2zM953.1 1147.2h3.2v3.2h-3.2zM945.3 1127.9h3.2v3.2h-3.2zM950.7 1153h3.2v3.2h-3.2zM950.8 1162.2h3.2v3.2h-3.2zM960.7 1212h3.2v3.2h-3.2zM941.2 1170.3h3.2v3.2h-3.2zM952.8 1151.2h3.2v3.2h-3.2zM963 1117.4h3.2v3.2h-3.2zM943.5 1192.7h3.2v3.2h-3.2zM956 1201.4h3.2v3.2h-3.2zM948.2 1183.1h3.2v3.2h-3.2zM945.9 1153.2h3.2v3.2h-3.2zM959 1122.2h3.2v3.2h-3.2zM952.2 1138.1h3.2v3.2h-3.2zM940.4 1149.4h3.2v3.2h-3.2zM951.9 1188.6h3.2v3.2h-3.2zM953.4 1147.7h3.2v3.2h-3.2zM953.5 1131.7h3.2v3.2h-3.2zM972 1141.9h3.2v3.2h-3.2zM952.6 1126.9h3.2v3.2h-3.2zM939.3 1192h3.2v3.2h-3.2zM948.4 1200.8h3.2v3.2h-3.2zM951.8 1130.1h3.2v3.2h-3.2zM963 1134.2h3.2v3.2h-3.2zM965.2 1124.1h3.2v3.2h-3.2zM949.3 1161.5h3.2v3.2h-3.2zM959.1 1216.8h3.2v3.2h-3.2zM947.2 1191h3.2v3.2h-3.2zM949.7 1155.2h3.2v3.2h-3.2zM958.1 1126.3h3.2v3.2h-3.2zM950.3 1189h3.2v3.2h-3.2zM948 1164.2h3.2v3.2h-3.2zM954.5 1152.7h3.2v3.2h-3.2zM951.2 1177.1h3.2v3.2h-3.2zM949.9 1170.9h3.2v3.2h-3.2zM971.6 1227.8h3.2v3.2h-3.2zM951.3 1136.2h3.2v3.2h-3.2zM967.7 1140.5h3.2v3.2h-3.2zM946.4 1124.7h3.2v3.2h-3.2zM946.1 1200h3.2v3.2h-3.2zM962.8 1118.6h3.2v3.2h-3.2zM953.9 1151h3.2v3.2h-3.2zM961.2 1213.3h3.2v3.2h-3.2zM938.7 1190.6h3.2v3.2h-3.2zM948 1200.3h3.2v3.2h-3.2zM942.8 1185.3h3.2v3.2h-3.2zM941.6 1187.4h3.2v3.2h-3.2zM951.7 1188.3h3.2v3.2h-3.2zM942.6 1176.5h3.2v3.2h-3.2zM963.6 1139.2h3.2v3.2h-3.2zM945.3 1173h3.2v3.2h-3.2zM946.2 1149.1h3.2v3.2h-3.2zM959.4 1134.4h3.2v3.2h-3.2zM958.3 1210.8h3.2v3.2h-3.2zM937.6 1176.2h3.2v3.2h-3.2zM965.2 1220.2h3.2v3.2h-3.2zM948 1180.3h3.2v3.2h-3.2zM947.3 1195.7h3.2v3.2h-3.2zM943.4 1165h3.2v3.2h-3.2zM949.5 1180.4h3.2v3.2h-3.2zM964.2 1135.4h3.2v3.2h-3.2zM1019.5 1155.3h3.2v3.2h-3.2zM1026.7 1181.9h3.2v3.2h-3.2zM1021 1169.7h3.2v3.2h-3.2zM1034.7 1184.5h3.2v3.2h-3.2zM1027 1151.3h3.2v3.2h-3.2zM1044.5 1166.1h3.2v3.2h-3.2zM1038 1185h3.2v3.2h-3.2zM1014.7 1147.8h3.2v3.2h-3.2zM1036.7 1191.5h3.2v3.2h-3.2zM1019.2 1180.7h3.2v3.2h-3.2zM1040.2 1147.2h3.2v3.2h-3.2zM1024.9 1144.7h3.2v3.2h-3.2zM1007.6 1135.2h3.2v3.2h-3.2zM1009.1 1216h3.2v3.2h-3.2zM1018.6 1151.2h3.2v3.2h-3.2zM1014.1 1139.6h3.2v3.2h-3.2zM1011.8 1142.3h3.2v3.2h-3.2zM996.4 1224.3h3.2v3.2h-3.2zM1028.6 1127.8h3.2v3.2h-3.2zM1035.1 1176.7h3.2v3.2h-3.2zM1015.8 1154.7h3.2v3.2h-3.2zM1019.8 1166.5h3.2v3.2h-3.2zM1028.8 1197.4h3.2v3.2h-3.2zM1026.4 1181.5h3.2v3.2h-3.2zM1050.8 1167.1h3.2v3.2h-3.2zM1009.6 1213.4h3.2v3.2h-3.2zM1012.7 1144.8h3.2v3.2h-3.2zM1013.2 1123.2h3.2v3.2h-3.2zM1009 1141.9h3.2v3.2h-3.2zM998.2 1123.8h3.2v3.2h-3.2zM1017 1206.7h3.2v3.2h-3.2zM1019.5 1170.9h3.2v3.2h-3.2zM1019.9 1138h3.2v3.2h-3.2zM1037.8 1165.3h3.2v3.2h-3.2zM1024.3 1129.9h3.2v3.2h-3.2zM1040.1 1157.5h3.2v3.2h-3.2zM1012.1 1211.6h3.2v3.2h-3.2zM1000.8 1135.2h3.2v3.2h-3.2zM1000.1 1129.1h3.2v3.2h-3.2zM1002.5 1137.5h3.2v3.2h-3.2zM1033.3 1170.5h3.2v3.2h-3.2zM1015.6 1152.4h3.2v3.2h-3.2zM1013.1 1194.3h3.2v3.2h-3.2zM1019.9 1131.4h3.2v3.2h-3.2zM1013.4 1138h3.2v3.2h-3.2zM1031 1148.9h3.2v3.2h-3.2zM996.7 1141.2h3.2v3.2h-3.2zM1018.8 1181.7h3.2v3.2h-3.2zM1008.3 1111.9h3.2v3.2h-3.2zM1024.1 1200.3h3.2v3.2h-3.2zM1023.5 1129.6h3.2v3.2h-3.2zM999.3 1225.3h3.2v3.2h-3.2zM1005.6 1208.5h3.2v3.2h-3.2zM1008.7 1214.2h3.2v3.2h-3.2zM1003.5 1220h3.2v3.2h-3.2zM1031.8 1148.4h3.2v3.2h-3.2zM986 1232h3.2v3.2h-3.2zM1012 1202.1h3.2v3.2h-3.2zM1028 1155.2h3.2v3.2h-3.2zM1019.4 1140.3h3.2v3.2h-3.2zM1000.6 1224.3h3.2v3.2h-3.2zM1014.4 1205.2h3.2v3.2h-3.2zM1033.2 1170.7h3.2v3.2h-3.2zM1025.2 1167.8h3.2v3.2h-3.2zM1034.6 1171.1h3.2v3.2h-3.2zM1019.1 1189.5h3.2v3.2h-3.2zM995.6 1144.7h3.2v3.2h-3.2zM1019.6 1158.3h3.2v3.2h-3.2zM1018.4 1159.3h3.2v3.2h-3.2zM1021.7 1195h3.2v3.2h-3.2zM1044.4 1163.7h3.2v3.2h-3.2zM1033 1177.7h3.2v3.2h-3.2zM1024.7 1144.9h3.2v3.2h-3.2zM996.5 1137.2h3.2v3.2h-3.2zM1043 1153.9h3.2v3.2h-3.2zM1017.1 1185.3h3.2v3.2h-3.2zM1022.6 1156.1h3.2v3.2h-3.2zM1028 1123.7h3.2v3.2h-3.2zM1034.9 1137.7h3.2v3.2h-3.2zM1016.5 1163.5h3.2v3.2h-3.2zM997.5 1134.2h3.2v3.2h-3.2zM1009.1 1208.3h3.2v3.2h-3.2zM1036 1136.9h3.2v3.2h-3.2zM1026 1172h3.2v3.2h-3.2zM1011.2 1142.9h3.2v3.2h-3.2zM1015.1 1124.5h3.2v3.2h-3.2zM1019 1132.3h3.2v3.2h-3.2zM1038.6 1169.9h3.2v3.2h-3.2zM1043.5 1164.2h3.2v3.2h-3.2zM1026 1147.3h3.2v3.2h-3.2zM1011.8 1144.5h3.2v3.2h-3.2zM1049.9 1154.9h3.2v3.2h-3.2zM998.2 1222.3h3.2v3.2h-3.2zM1025.2 1202.3h3.2v3.2h-3.2zM1026.7 1192.4h3.2v3.2h-3.2zM1035.8 1189.2h3.2v3.2h-3.2zM1017.4 1157.1h3.2v3.2h-3.2zM1042.3 1168h3.2v3.2h-3.2zM1005.7 1208.8h3.2v3.2h-3.2zM1030.2 1147.2h3.2v3.2h-3.2zM1011.5 1131.7h3.2v3.2h-3.2zM1017.3 1171.4h3.2v3.2h-3.2zM1028.5 1130h3.2v3.2h-3.2zM1008.7 1142.4h3.2v3.2h-3.2zM1008.2 1120.8h3.2v3.2h-3.2zM1031.8 1160.4h3.2v3.2h-3.2zM1008.5 1129.2h3.2v3.2h-3.2zM1008.4 1214.8h3.2v3.2h-3.2zM1022.8 1164.3h3.2v3.2h-3.2zM1006.9 1205.8h3.2v3.2h-3.2zM1001.2 1216.3h3.2v3.2h-3.2zM1017.6 1202.3h3.2v3.2h-3.2zM1013.3 1120.1h3.2v3.2h-3.2zM1033.6 1189.2h3.2v3.2h-3.2zM1032.8 1129.1h3.2v3.2h-3.2zM1019.5 1191.1h3.2v3.2h-3.2zM1006.2 1116.7h3.2v3.2h-3.2zM998.9 1222.5h3.2v3.2h-3.2zM1010.5 1213.3h3.2v3.2h-3.2zM1008.6 1122.6h3.2v3.2h-3.2zM1010.7 1207h3.2v3.2h-3.2zM1018.5 1170.8h3.2v3.2h-3.2zM1009.9 1200.8h3.2v3.2h-3.2zM1030.4 1152.6h3.2v3.2h-3.2zM988.2 1230.8h3.2v3.2h-3.2zM1026 1125.8h3.2v3.2h-3.2zM1023.4 1169.9h3.2v3.2h-3.2zM1020.1 1172.2h3.2v3.2h-3.2zM1023.7 1164.2h3.2v3.2h-3.2zM1018.9 1126.1h3.2v3.2h-3.2zM1014.2 1198.7h3.2v3.2h-3.2zM1007.8 1121.9h3.2v3.2h-3.2zM1008.3 1206.5h3.2v3.2h-3.2zM1001.4 1122.7h3.2v3.2h-3.2zM1037 1149.5h3.2v3.2h-3.2zM1018.1 1155.6h3.2v3.2h-3.2zM1014.1 1197.2h3.2v3.2h-3.2zM1038.8 1151.6h3.2v3.2h-3.2zM1022.9 1170.7h3.2v3.2h-3.2zM1007.2 1208.3h3.2v3.2h-3.2zM1000.2 1137.8h3.2v3.2h-3.2zM1018.9 1157.2h3.2v3.2h-3.2zM999.3 1142.6h3.2v3.2h-3.2zM1003.5 1217.1h3.2v3.2h-3.2zM1026.1 1148.5h3.2v3.2h-3.2zM1015.9 1192.7h3.2v3.2h-3.2zM1014.9 1156.7h3.2v3.2h-3.2zM1015.8 1133.4h3.2v3.2h-3.2zM1001.2 1216.2h3.2v3.2h-3.2zM1020.8 1197.9h3.2v3.2h-3.2zM1008.1 1135.2h3.2v3.2h-3.2zM1034.5 1138.3h3.2v3.2h-3.2zM1032.7 1129h3.2v3.2h-3.2zM1007.2 1119.1h3.2v3.2h-3.2zM1031.2 1179.2h3.2v3.2h-3.2zM1017.4 1158.9h3.2v3.2h-3.2zM993.1 1228.4h3.2v3.2h-3.2zM1000.4 1140.1h3.2v3.2h-3.2zM1043.4 1167.1h3.2v3.2h-3.2zM1011.9 1146.2h3.2v3.2h-3.2zM1029.3 1166.3h3.2v3.2h-3.2zM1035.9 1190.4h3.2v3.2h-3.2zM1009.9 1117.2h3.2v3.2h-3.2zM1007.5 1132.8h3.2v3.2h-3.2zM1001.3 1217.7h3.2v3.2h-3.2zM1031.5 1155.7h3.2v3.2h-3.2zM1014.1 1201.9h3.2v3.2h-3.2zM1029.5 1194.1h3.2v3.2h-3.2zM1040.5 1144.1h3.2v3.2h-3.2zM1002.2 1137.9h3.2v3.2h-3.2zM1014.1 1114.3h3.2v3.2h-3.2zM1031.3 1189.8h3.2v3.2h-3.2zM1030.8 1172.3h3.2v3.2h-3.2zM1017.9 1172.1h3.2v3.2h-3.2zM1013.1 1193.1h3.2v3.2h-3.2zM1008.2 1126.7h3.2v3.2h-3.2zM1033.2 1144.5h3.2v3.2h-3.2zM1008.2 1132.6h3.2v3.2h-3.2zM1017.8 1133.2h3.2v3.2h-3.2zM1020.9 1153.8h3.2v3.2h-3.2zM1019 1162h3.2v3.2h-3.2zM1037.4 1152h3.2v3.2h-3.2zM1047.7 1163.4h3.2v3.2h-3.2zM1007.6 1136.6h3.2v3.2h-3.2zM1017.4 1127.1h3.2v3.2h-3.2zM1018.7 1193.9h3.2v3.2h-3.2zM1024.8 1151.2h3.2v3.2h-3.2zM1020.7 1161.1h3.2v3.2h-3.2zM1006.9 1133.2h3.2v3.2h-3.2zM997.9 1136.1h3.2v3.2h-3.2zM993.4 1228.4h3.2v3.2h-3.2zM1020.6 1207.6h3.2v3.2h-3.2zM1018.1 1181.3h3.2v3.2h-3.2zM1017.7 1196.3h3.2v3.2h-3.2zM1008 1125h3.2v3.2h-3.2zM1037.7 1156.9h3.2v3.2h-3.2zM1015.1 1150.8h3.2v3.2h-3.2zM1032.3 1184.5h3.2v3.2h-3.2zM1009.7 1204.3h3.2v3.2h-3.2zM1017.1 1177.9h3.2v3.2h-3.2zM1015.8 1200.8h3.2v3.2h-3.2zM998.1 1223.2h3.2v3.2h-3.2zM1015.7 1114.8h3.2v3.2h-3.2zM1006.5 1123.3h3.2v3.2h-3.2zM1016.6 1195.5h3.2v3.2h-3.2zM1021.7 1200.8h3.2v3.2h-3.2zM1029 1180.5h3.2v3.2h-3.2zM1010.7 1141.7h3.2v3.2h-3.2zM1005.4 1141.1h3.2v3.2h-3.2zM1020.5 1166.9h3.2v3.2h-3.2zM1014.9 1144.3h3.2v3.2h-3.2zM1001.5 1120.2h3.2v3.2h-3.2zM1036.4 1183.2h3.2v3.2h-3.2zM1008.8 1136.9h3.2v3.2h-3.2zM1010.6 1203.1h3.2v3.2h-3.2zM1021.6 1130.6h3.2v3.2h-3.2zM1028.2 1201.6h3.2v3.2h-3.2zM1010.5 1202.3h3.2v3.2h-3.2zM1020.7 1123.4h3.2v3.2h-3.2zM1015.4 1208.7h3.2v3.2h-3.2zM998.8 1221.9h3.2v3.2h-3.2zM1031.8 1178.3h3.2v3.2h-3.2zM1020.8 1202.2h3.2v3.2h-3.2zM1028.9 1187h3.2v3.2h-3.2zM1029.8 1182.2h3.2v3.2h-3.2zM1030 1149.9h3.2v3.2h-3.2zM1026.7 1160.8h3.2v3.2h-3.2zM1001.9 1140.2h3.2v3.2h-3.2zM1006.5 1131.4h3.2v3.2h-3.2zM1039.4 1180.2h3.2v3.2h-3.2zM1035.6 1169h3.2v3.2h-3.2zM1041.2 1146.6h3.2v3.2h-3.2zM1016.2 1149.3h3.2v3.2h-3.2zM996.3 1226.9h3.2v3.2h-3.2zM1044.4 1166.8h3.2v3.2h-3.2zM1014.2 1190h3.2v3.2h-3.2zM1036.3 1135.1h3.2v3.2h-3.2zM1026.4 1173.5h3.2v3.2h-3.2zM1017.9 1190.8h3.2v3.2h-3.2zM1015.4 1146.4h3.2v3.2h-3.2zM1027 1174.3h3.2v3.2h-3.2zM1028.8 1192.2h3.2v3.2h-3.2zM998.1 1139.8h3.2v3.2h-3.2zM1000.3 1123.9h3.2v3.2h-3.2zM999.9 1220.7h3.2v3.2h-3.2zM1013.4 1198.8h3.2v3.2h-3.2zM989.7 1230.4h3.2v3.2h-3.2zM1015.3 1153h3.2v3.2h-3.2zM1007.6 1209.5h3.2v3.2h-3.2zM999.9 1218.5h3.2v3.2h-3.2z" fill="none" stroke="#b5b5b5" stroke-width="0.75"/>
<path d="M983.2 1234.4l3.5 -3.5l3.5 3.5l-3.5 3.5zM991.5 1226.6l3.5 -3.5l3.5 3.5l-3.5 3.5zM991.5 1217.7l3.5 -3.5l3.5 3.5l-3.5 3.5zM995.7 1213.5l3.5 -3.5l3.5 3.5l-3.5 3.5zM998.9 1209.5l3.5 -3.5l3.5 3.5l-3.5 3.5zM1000.6 1198.4l3.5 -3.5l3.5 3.5l-3.5 3.5zM1004.8 1195.4l3.5 -3.5l3.5 3.5l-3.5 3.5zM1002.2 1180.1l3.5 -3.5l3.5 3.5l-3.5 3.5zM999.6 1166.1l3.5 -3.5l3.5 3.5l-3.5 3.5zM1015.7 1165.3l3.5 -3.5l3.5 3.5l-3.5 3.5zM1024.9 1174.2l3.5 -3.5l3.5 3.5l-3.5 3.5zM1003 1128.6l3.5 -3.5l3.5 3.5l-3.5 3.5zM1024.7 1124.1l3.5 -3.5l3.5 3.5l-3.5 3.5zM1035.6 1034.7l3.5 -3.5l3.5 3.5l-3.5 3.5zM1038.9 1053l3.5 -3.5l3.5 3.5l-3.5 3.5zM1065.7 1063.5l3.5 -3.5l3.5 3.5l-3.5 3.5z" fill="#870a0a"/>
<text transform="translate(170,833.3) scale(1.112,1)" font-size="19.5"><tspan x="0" y="0">log</tspan><tspan x="26" y="4.3" font-size="12.7">2</tspan><tspan x="33.1" y="0"> fold-change (</tspan><tspan x="152.3" y="0" font-style="italic">Listeria</tspan><tspan x="215.2" y="0">-infected/healthy)</tspan></text>
<text transform="translate(807.9,832.4) scale(1.116,1)" font-size="19.5"><tspan x="0" y="0">log</tspan><tspan x="26" y="4.3" font-size="12.7">2</tspan><tspan x="33.1" y="0"> fold-change (</tspan><tspan x="152.3" y="0" font-style="italic">Listeria</tspan><tspan x="215.2" y="0">-infected/healthy)</tspan></text>
<text transform="translate(177.6,1301) scale(1.112,1)" font-size="19.5"><tspan x="0" y="0">log</tspan><tspan x="26" y="4.3" font-size="12.7">2</tspan><tspan x="33.1" y="0"> fold-change (</tspan><tspan x="152.3" y="0" font-style="italic">Listeria</tspan><tspan x="215.2" y="0">-infected/healthy)</tspan></text>
<text transform="translate(804.1,1305.5) scale(1.116,1)" font-size="19.5"><tspan x="0" y="0">log</tspan><tspan x="26" y="4.3" font-size="12.7">2</tspan><tspan x="33.1" y="0"> fold-change (</tspan><tspan x="152.3" y="0" font-style="italic">Listeria</tspan><tspan x="215.2" y="0">-infected/healthy)</tspan></text>
<text transform="translate(73.6,601.9) rotate(-90) translate(-74.5,0) scale(0.992,1)" font-size="27">-Log p-value</text>
<text transform="translate(674.5,594.3) rotate(-90) translate(-74.5,0) scale(0.992,1)" font-size="27">-Log p-value</text>
<text transform="translate(75.5,1064.8) rotate(-90) translate(-74.5,0) scale(0.992,1)" font-size="27">-Log p-value</text>
<text transform="translate(666.9,1068.6) rotate(-90) translate(-74.5,0) scale(0.992,1)" font-size="27">-Log p-value</text>
<text transform="translate(32.4,594.3) rotate(-90) translate(-89.9,0) scale(0.966,1)" font-size="41">Label-free</text>
<text transform="translate(32,1059) rotate(-90) translate(-107.4,0) scale(0.951,1)" font-size="41">TMT-labeled</text>
<text transform="translate(330.5,406.7) scale(0.931,1)" font-size="28.7">HeLa</text>
<text transform="translate(930.9,406.5) scale(0.980,1)" font-size="28.7">HCT-116</text>
<text transform="translate(144.9,417.9) scale(0.954,1)" font-size="26.8">healthy</text>
<text transform="translate(481.2,398.3) scale(0.905,1)" font-size="26.8"><tspan x="0" y="0" font-style="italic">Listeria-</tspan></text>
<text transform="translate(478.2,429.6) scale(0.983,1)" font-size="26.8">infected</text>
<text transform="translate(755.3,417.1) scale(0.954,1)" font-size="26.8">healthy</text>
<text transform="translate(1112.6,398) scale(0.905,1)" font-size="26.8"><tspan x="0" y="0" font-style="italic">Listeria-</tspan></text>
<text transform="translate(1109.6,429.3) scale(0.983,1)" font-size="26.8">infected</text>
<text transform="translate(150.6,891.4) scale(0.954,1)" font-size="26.8">healthy</text>
<text transform="translate(488.8,876.2) scale(0.905,1)" font-size="26.8"><tspan x="0" y="0" font-style="italic">Listeria-</tspan></text>
<text transform="translate(485.8,907.5) scale(0.983,1)" font-size="26.8">infected</text>
<text transform="translate(751.5,891.4) scale(0.954,1)" font-size="26.8">healthy</text>
<text transform="translate(1108.8,876) scale(0.905,1)" font-size="26.8"><tspan x="0" y="0" font-style="italic">Listeria-</tspan></text>
<text transform="translate(1105.8,907.3) scale(0.983,1)" font-size="26.8">infected</text>
<text transform="translate(435.7,746.5) scale(0.867,1)" font-size="24.5"><tspan x="0" y="0">11 </tspan><tspan x="32.2" y="0" font-style="italic">Listeria</tspan><tspan x="111.2" y="0"> peptides</tspan></text>
<text transform="translate(454.9,774.1) scale(0.893,1)" font-size="24.5">from 9 proteins</text>
<text transform="translate(1064.6,746.7) scale(0.857,1)" font-size="24.5"><tspan x="0" y="0">21 </tspan><tspan x="34.1" y="0" font-style="italic">Listeria</tspan><tspan x="113" y="0"> peptides</tspan></text>
<text transform="translate(1076.7,774.3) scale(0.893,1)" font-size="24.5">from 15 proteins</text>
<text transform="translate(435.4,1207.6) scale(0.856,1)" font-size="24.5"><tspan x="0" y="0">33 </tspan><tspan x="34.1" y="0" font-style="italic">Listeria</tspan><tspan x="113" y="0"> peptides</tspan></text>
<text transform="translate(447.3,1235.2) scale(0.893,1)" font-size="24.5">from 24 proteins</text>
<text transform="translate(1059.5,1207.6) scale(0.860,1)" font-size="24.5"><tspan x="0" y="0">16 </tspan><tspan x="34.1" y="0" font-style="italic">Listeria</tspan><tspan x="113" y="0"> peptides</tspan></text>
<text transform="translate(1073,1235.2) scale(0.889,1)" font-size="24.5">from 14 proteins</text>
<text transform="translate(98.9,1387.6) scale(0.935,1)" font-size="28.7">HeLa</text>
<text transform="translate(728.3,1389.3) scale(0.966,1)" font-size="28.7">HCT-116</text>
<g shape-rendering="crispEdges"><rect x="12.1" y="1479.3" width="15" height="19.6" fill="#001a0a"/><rect x="26.5" y="1479.3" width="15" height="19.6" fill="#006629"/><rect x="40.9" y="1479.3" width="15" height="19.6" fill="#000000"/><rect x="55.2" y="1479.3" width="15" height="19.6" fill="#000000"/><rect x="69.6" y="1479.3" width="15" height="19.6" fill="#00ff66"/><rect x="84" y="1479.3" width="15" height="19.6" fill="#1a0000"/><rect x="98.4" y="1479.3" width="15" height="19.6" fill="#cc0000"/><rect x="112.8" y="1479.3" width="15" height="19.6" fill="#4c0000"/><rect x="12.1" y="1498.3" width="15" height="19.6" fill="#003314"/><rect x="26.5" y="1498.3" width="15" height="19.6" fill="#008033"/><rect x="40.9" y="1498.3" width="15" height="19.6" fill="#004c1f"/><rect x="55.2" y="1498.3" width="15" height="19.6" fill="#006629"/><rect x="69.6" y="1498.3" width="15" height="19.6" fill="#660000"/><rect x="84" y="1498.3" width="15" height="19.6" fill="#990000"/><rect x="98.4" y="1498.3" width="15" height="19.6" fill="#e60000"/><rect x="112.8" y="1498.3" width="15" height="19.6" fill="#008033"/><rect x="12.1" y="1517.3" width="15" height="19.6" fill="#1a0000"/><rect x="26.5" y="1517.3" width="15" height="19.6" fill="#006629"/><rect x="40.9" y="1517.3" width="15" height="19.6" fill="#001a0a"/><rect x="55.2" y="1517.3" width="15" height="19.6" fill="#00993d"/><rect x="69.6" y="1517.3" width="15" height="19.6" fill="#004c1f"/><rect x="84" y="1517.3" width="15" height="19.6" fill="#006629"/><rect x="98.4" y="1517.3" width="15" height="19.6" fill="#cc0000"/><rect x="112.8" y="1517.3" width="15" height="19.6" fill="#cc0000"/><rect x="12.1" y="1536.3" width="15" height="19.6" fill="#008033"/><rect x="26.5" y="1536.3" width="15" height="19.6" fill="#006629"/><rect x="40.9" y="1536.3" width="15" height="19.6" fill="#000000"/><rect x="55.2" y="1536.3" width="15" height="19.6" fill="#004c1f"/><rect x="69.6" y="1536.3" width="15" height="19.6" fill="#004c1f"/><rect x="84" y="1536.3" width="15" height="19.6" fill="#003314"/><rect x="98.4" y="1536.3" width="15" height="19.6" fill="#800000"/><rect x="112.8" y="1536.3" width="15" height="19.6" fill="#ff0000"/><rect x="12.1" y="1555.3" width="15" height="19.6" fill="#004c1f"/><rect x="26.5" y="1555.3" width="15" height="19.6" fill="#00993d"/><rect x="40.9" y="1555.3" width="15" height="19.6" fill="#006629"/><rect x="55.2" y="1555.3" width="15" height="19.6" fill="#004c1f"/><rect x="69.6" y="1555.3" width="15" height="19.6" fill="#330000"/><rect x="84" y="1555.3" width="15" height="19.6" fill="#004c1f"/><rect x="98.4" y="1555.3" width="15" height="19.6" fill="#b20000"/><rect x="112.8" y="1555.3" width="15" height="19.6" fill="#e60000"/><rect x="12.1" y="1574.2" width="15" height="19.6" fill="#006629"/><rect x="26.5" y="1574.2" width="15" height="19.6" fill="#006629"/><rect x="40.9" y="1574.2" width="15" height="19.6" fill="#008033"/><rect x="55.2" y="1574.2" width="15" height="19.6" fill="#00993d"/><rect x="69.6" y="1574.2" width="15" height="19.6" fill="#990000"/><rect x="84" y="1574.2" width="15" height="19.6" fill="#4c0000"/><rect x="98.4" y="1574.2" width="15" height="19.6" fill="#330000"/><rect x="112.8" y="1574.2" width="15" height="19.6" fill="#b20000"/><rect x="12.1" y="1593.2" width="15" height="19.6" fill="#006629"/><rect x="26.5" y="1593.2" width="15" height="19.6" fill="#00b247"/><rect x="40.9" y="1593.2" width="15" height="19.6" fill="#008033"/><rect x="55.2" y="1593.2" width="15" height="19.6" fill="#003314"/><rect x="69.6" y="1593.2" width="15" height="19.6" fill="#4c0000"/><rect x="84" y="1593.2" width="15" height="19.6" fill="#800000"/><rect x="98.4" y="1593.2" width="15" height="19.6" fill="#990000"/><rect x="112.8" y="1593.2" width="15" height="19.6" fill="#800000"/><rect x="12.1" y="1612.2" width="15" height="19.6" fill="#006629"/><rect x="26.5" y="1612.2" width="15" height="19.6" fill="#006629"/><rect x="40.9" y="1612.2" width="15" height="19.6" fill="#006629"/><rect x="55.2" y="1612.2" width="15" height="19.6" fill="#008033"/><rect x="69.6" y="1612.2" width="15" height="19.6" fill="#001a0a"/><rect x="84" y="1612.2" width="15" height="19.6" fill="#800000"/><rect x="98.4" y="1612.2" width="15" height="19.6" fill="#990000"/><rect x="112.8" y="1612.2" width="15" height="19.6" fill="#cc0000"/><rect x="12.1" y="1631.2" width="15" height="19.6" fill="#008033"/><rect x="26.5" y="1631.2" width="15" height="19.6" fill="#006629"/><rect x="40.9" y="1631.2" width="15" height="19.6" fill="#006629"/><rect x="55.2" y="1631.2" width="15" height="19.6" fill="#00993d"/><rect x="69.6" y="1631.2" width="15" height="19.6" fill="#4c0000"/><rect x="84" y="1631.2" width="15" height="19.6" fill="#800000"/><rect x="98.4" y="1631.2" width="15" height="19.6" fill="#990000"/><rect x="112.8" y="1631.2" width="15" height="19.6" fill="#990000"/><rect x="12.1" y="1650.2" width="15" height="19.6" fill="#006629"/><rect x="26.5" y="1650.2" width="15" height="19.6" fill="#008033"/><rect x="40.9" y="1650.2" width="15" height="19.6" fill="#008033"/><rect x="55.2" y="1650.2" width="15" height="19.6" fill="#008033"/><rect x="69.6" y="1650.2" width="15" height="19.6" fill="#660000"/><rect x="84" y="1650.2" width="15" height="19.6" fill="#330000"/><rect x="98.4" y="1650.2" width="15" height="19.6" fill="#990000"/><rect x="112.8" y="1650.2" width="15" height="19.6" fill="#b20000"/><rect x="12.1" y="1669.2" width="15" height="19.6" fill="#003314"/><rect x="26.5" y="1669.2" width="15" height="19.6" fill="#008033"/><rect x="40.9" y="1669.2" width="15" height="19.6" fill="#00993d"/><rect x="55.2" y="1669.2" width="15" height="19.6" fill="#008033"/><rect x="69.6" y="1669.2" width="15" height="19.6" fill="#330000"/><rect x="84" y="1669.2" width="15" height="19.6" fill="#330000"/><rect x="98.4" y="1669.2" width="15" height="19.6" fill="#990000"/><rect x="112.8" y="1669.2" width="15" height="19.6" fill="#cc0000"/></g>
<g shape-rendering="crispEdges"><rect x="134" y="1479.3" width="15" height="19.6" fill="#808080"/><rect x="148.4" y="1479.3" width="15" height="19.6" fill="#808080"/><rect x="162.7" y="1479.3" width="15" height="19.6" fill="#808080"/><rect x="177.1" y="1479.3" width="15" height="19.6" fill="#808080"/><rect x="191.4" y="1479.3" width="15" height="19.6" fill="#808080"/><rect x="205.8" y="1479.3" width="15" height="19.6" fill="#808080"/><rect x="220.2" y="1479.3" width="15" height="19.6" fill="#cc0000"/><rect x="234.5" y="1479.3" width="15" height="19.6" fill="#4c0000"/><rect x="134" y="1498.3" width="15" height="19.6" fill="#808080"/><rect x="148.4" y="1498.3" width="15" height="19.6" fill="#808080"/><rect x="162.7" y="1498.3" width="15" height="19.6" fill="#808080"/><rect x="177.1" y="1498.3" width="15" height="19.6" fill="#808080"/><rect x="191.4" y="1498.3" width="15" height="19.6" fill="#4c0000"/><rect x="205.8" y="1498.3" width="15" height="19.6" fill="#800000"/><rect x="220.2" y="1498.3" width="15" height="19.6" fill="#e60000"/><rect x="234.5" y="1498.3" width="15" height="19.6" fill="#808080"/><rect x="134" y="1517.3" width="15" height="19.6" fill="#808080"/><rect x="148.4" y="1517.3" width="15" height="19.6" fill="#808080"/><rect x="162.7" y="1517.3" width="15" height="19.6" fill="#808080"/><rect x="177.1" y="1517.3" width="15" height="19.6" fill="#808080"/><rect x="191.4" y="1517.3" width="15" height="19.6" fill="#808080"/><rect x="205.8" y="1517.3" width="15" height="19.6" fill="#808080"/><rect x="220.2" y="1517.3" width="15" height="19.6" fill="#cc0000"/><rect x="234.5" y="1517.3" width="15" height="19.6" fill="#cc0000"/><rect x="134" y="1536.3" width="15" height="19.6" fill="#808080"/><rect x="148.4" y="1536.3" width="15" height="19.6" fill="#808080"/><rect x="162.7" y="1536.3" width="15" height="19.6" fill="#808080"/><rect x="177.1" y="1536.3" width="15" height="19.6" fill="#808080"/><rect x="191.4" y="1536.3" width="15" height="19.6" fill="#008033"/><rect x="205.8" y="1536.3" width="15" height="19.6" fill="#006629"/><rect x="220.2" y="1536.3" width="15" height="19.6" fill="#660000"/><rect x="234.5" y="1536.3" width="15" height="19.6" fill="#ff0000"/><rect x="134" y="1555.3" width="15" height="19.6" fill="#008033"/><rect x="148.4" y="1555.3" width="15" height="19.6" fill="#00cc52"/><rect x="162.7" y="1555.3" width="15" height="19.6" fill="#808080"/><rect x="177.1" y="1555.3" width="15" height="19.6" fill="#008033"/><rect x="191.4" y="1555.3" width="15" height="19.6" fill="#000000"/><rect x="205.8" y="1555.3" width="15" height="19.6" fill="#808080"/><rect x="220.2" y="1555.3" width="15" height="19.6" fill="#990000"/><rect x="234.5" y="1555.3" width="15" height="19.6" fill="#e60000"/><rect x="134" y="1574.2" width="15" height="19.6" fill="#808080"/><rect x="148.4" y="1574.2" width="15" height="19.6" fill="#808080"/><rect x="162.7" y="1574.2" width="15" height="19.6" fill="#808080"/><rect x="177.1" y="1574.2" width="15" height="19.6" fill="#808080"/><rect x="191.4" y="1574.2" width="15" height="19.6" fill="#990000"/><rect x="205.8" y="1574.2" width="15" height="19.6" fill="#330000"/><rect x="220.2" y="1574.2" width="15" height="19.6" fill="#1a0000"/><rect x="234.5" y="1574.2" width="15" height="19.6" fill="#b20000"/><rect x="134" y="1593.2" width="15" height="19.6" fill="#808080"/><rect x="148.4" y="1593.2" width="15" height="19.6" fill="#00ff66"/><rect x="162.7" y="1593.2" width="15" height="19.6" fill="#00cc52"/><rect x="177.1" y="1593.2" width="15" height="19.6" fill="#008033"/><rect x="191.4" y="1593.2" width="15" height="19.6" fill="#330000"/><rect x="205.8" y="1593.2" width="15" height="19.6" fill="#660000"/><rect x="220.2" y="1593.2" width="15" height="19.6" fill="#990000"/><rect x="234.5" y="1593.2" width="15" height="19.6" fill="#800000"/><rect x="134" y="1612.2" width="15" height="19.6" fill="#808080"/><rect x="148.4" y="1612.2" width="15" height="19.6" fill="#808080"/><rect x="162.7" y="1612.2" width="15" height="19.6" fill="#808080"/><rect x="177.1" y="1612.2" width="15" height="19.6" fill="#808080"/><rect x="191.4" y="1612.2" width="15" height="19.6" fill="#004c1f"/><rect x="205.8" y="1612.2" width="15" height="19.6" fill="#660000"/><rect x="220.2" y="1612.2" width="15" height="19.6" fill="#800000"/><rect x="234.5" y="1612.2" width="15" height="19.6" fill="#cc0000"/><rect x="134" y="1631.2" width="15" height="19.6" fill="#808080"/><rect x="148.4" y="1631.2" width="15" height="19.6" fill="#808080"/><rect x="162.7" y="1631.2" width="15" height="19.6" fill="#808080"/><rect x="177.1" y="1631.2" width="15" height="19.6" fill="#808080"/><rect x="191.4" y="1631.2" width="15" height="19.6" fill="#1a0000"/><rect x="205.8" y="1631.2" width="15" height="19.6" fill="#660000"/><rect x="220.2" y="1631.2" width="15" height="19.6" fill="#800000"/><rect x="234.5" y="1631.2" width="15" height="19.6" fill="#990000"/><rect x="134" y="1650.2" width="15" height="19.6" fill="#808080"/><rect x="148.4" y="1650.2" width="15" height="19.6" fill="#00cc52"/><rect x="162.7" y="1650.2" width="15" height="19.6" fill="#808080"/><rect x="177.1" y="1650.2" width="15" height="19.6" fill="#808080"/><rect x="191.4" y="1650.2" width="15" height="19.6" fill="#4c0000"/><rect x="205.8" y="1650.2" width="15" height="19.6" fill="#1a0000"/><rect x="220.2" y="1650.2" width="15" height="19.6" fill="#800000"/><rect x="234.5" y="1650.2" width="15" height="19.6" fill="#990000"/><rect x="134" y="1669.2" width="15" height="19.6" fill="#808080"/><rect x="148.4" y="1669.2" width="15" height="19.6" fill="#808080"/><rect x="162.7" y="1669.2" width="15" height="19.6" fill="#808080"/><rect x="177.1" y="1669.2" width="15" height="19.6" fill="#808080"/><rect x="191.4" y="1669.2" width="15" height="19.6" fill="#000000"/><rect x="205.8" y="1669.2" width="15" height="19.6" fill="#1a0000"/><rect x="220.2" y="1669.2" width="15" height="19.6" fill="#800000"/><rect x="234.5" y="1669.2" width="15" height="19.6" fill="#cc0000"/></g>
<g stroke="#000" stroke-width="1.6"><line x1="11.8" y1="1458.3" x2="68.3" y2="1458.3"/><line x1="70" y1="1458.3" x2="125.7" y2="1458.3"/></g>
<text transform="translate(15.5,1447.7) scale(0.897,1)" font-size="16.4">healthy</text>
<text transform="translate(72.3,1435.9) scale(0.835,1)" font-size="16.4"><tspan x="0" y="0" font-style="italic">Listeria-</tspan></text>
<text transform="translate(69.7,1453.7) scale(0.939,1)" font-size="16.4">infected</text>
<text transform="translate(13.1,1473.3) scale(0.950,1)" font-size="11.4">h1</text>
<text transform="translate(27.5,1473.3) scale(0.950,1)" font-size="11.4">h2</text>
<text transform="translate(41.8,1473.3) scale(0.950,1)" font-size="11.4">h4</text>
<text transform="translate(56.3,1473.3) scale(0.950,1)" font-size="11.4">h3</text>
<text transform="translate(70.6,1473.3) scale(0.950,1)" font-size="11.4">L3</text>
<text transform="translate(84.9,1473.3) scale(0.950,1)" font-size="11.4">L4</text>
<text transform="translate(99.4,1473.3) scale(0.950,1)" font-size="11.4">L2</text>
<text transform="translate(113.8,1473.3) scale(0.950,1)" font-size="11.4">L1</text>
<g stroke="#000" stroke-width="1.6"><line x1="133.7" y1="1458.3" x2="190.2" y2="1458.3"/><line x1="192" y1="1458.3" x2="247.6" y2="1458.3"/></g>
<text transform="translate(137.5,1447.7) scale(0.897,1)" font-size="16.4">healthy</text>
<text transform="translate(194.2,1435.9) scale(0.835,1)" font-size="16.4"><tspan x="0" y="0" font-style="italic">Listeria-</tspan></text>
<text transform="translate(191.6,1453.7) scale(0.939,1)" font-size="16.4">infected</text>
<text transform="translate(135,1473.3) scale(0.950,1)" font-size="11.4">h1</text>
<text transform="translate(149.5,1473.3) scale(0.950,1)" font-size="11.4">h2</text>
<text transform="translate(163.7,1473.3) scale(0.950,1)" font-size="11.4">h4</text>
<text transform="translate(178.2,1473.3) scale(0.950,1)" font-size="11.4">h3</text>
<text transform="translate(192.5,1473.3) scale(0.950,1)" font-size="11.4">L3</text>
<text transform="translate(206.8,1473.3) scale(0.950,1)" font-size="11.4">L4</text>
<text transform="translate(221.3,1473.3) scale(0.950,1)" font-size="11.4">L2</text>
<text transform="translate(235.7,1473.3) scale(0.950,1)" font-size="11.4">L1</text>
<text transform="translate(35.2,1705.9) scale(0.929,1)" font-size="21">imputed</text>
<text transform="translate(146,1705.9) scale(0.928,1)" font-size="21">unimputed</text>
<defs><linearGradient id="g1" x1="0" x2="1" y1="0" y2="0"><stop offset="0" stop-color="#00ff66"/><stop offset="0.501" stop-color="#000"/><stop offset="1" stop-color="#ff0000"/></linearGradient></defs>
<rect x="275.8" y="1386.2" width="304" height="4.8" fill="url(#g1)"/>
<g stroke="#6a6a6a" stroke-width="1.2"><line x1="275.8" y1="1400.4" x2="579.8" y2="1400.4"/><line x1="311.6" y1="1398.2" x2="311.6" y2="1400.4"/><line x1="349.5" y1="1398.2" x2="349.5" y2="1400.4"/><line x1="388" y1="1398.2" x2="388" y2="1400.4"/><line x1="428" y1="1398.2" x2="428" y2="1400.4"/><line x1="465.5" y1="1398.2" x2="465.5" y2="1400.4"/><line x1="503.9" y1="1398.2" x2="503.9" y2="1400.4"/><line x1="542.4" y1="1398.2" x2="542.4" y2="1400.4"/></g>
<g stroke-width="1.6"><line x1="284.7" y1="1391" x2="284.7" y2="1400.4" stroke="#555"/><line x1="428" y1="1391" x2="428" y2="1400.4" stroke="#444"/><line x1="570.7" y1="1391" x2="570.7" y2="1400.4" stroke="#6b2a2a"/></g>
<text transform="translate(291,1419.6) scale(0.950,1)" font-size="19.5">-1.5</text>
<text transform="translate(342.8,1419.6) scale(0.950,1)" font-size="19.5">-1</text>
<text transform="translate(370,1419.6) scale(0.950,1)" font-size="19.5">-0.5</text>
<text transform="translate(422.4,1419.6) scale(0.950,1)" font-size="19.5">0</text>
<text transform="translate(452,1419.6) scale(0.950,1)" font-size="19.5">0.5</text>
<text transform="translate(497.6,1419.6) scale(0.950,1)" font-size="19.5">1</text>
<text transform="translate(530.8,1419.6) scale(0.950,1)" font-size="19.5">1.5</text>
<text transform="translate(359.2,1378.2) scale(0.963,1)" font-size="30">Label-free</text>
<text transform="translate(350.4,1436.8) scale(0.867,1)" font-size="20.5">z-scored intensities</text>
<text transform="translate(262.2,1470.5) scale(0.887,1)" font-size="19.5"><tspan x="0" y="0" font-weight="bold">Peptide sequence</tspan></text>
<text transform="translate(439.3,1470.5) scale(0.887,1)" font-size="19.5"><tspan x="0" y="0" font-weight="bold">Gene names</tspan></text>
<text transform="translate(571.8,1470.5) scale(0.887,1)" font-size="19.5"><tspan x="0" y="0" font-weight="bold">HLA allele</tspan></text>
<text transform="translate(264.2,1493.4) scale(0.920,1)" font-size="14.5">TNSEIILPV*</text>
<text transform="translate(492.3,1493.4) scale(1.000,1)" font-size="14.5">LMON_0423</text>
<text transform="translate(599,1493.4) scale(1.000,1)" font-size="14.5">A*68:02</text>
<text transform="translate(264.2,1512.5) scale(0.920,1)" font-size="14.5">TVVAIAAGL*</text>
<text transform="translate(492.3,1512.5) scale(1.000,1)" font-size="14.5">LMON_2534</text>
<text transform="translate(599,1512.5) scale(1.000,1)" font-size="14.5">A*68:02</text>
<text transform="translate(264.2,1531.6) scale(0.920,1)" font-size="14.5">TTFGPGIKVDPASL*</text>
<text transform="translate(432.7,1531.6) scale(1.000,1)" font-size="14.5">rplA</text>
<text transform="translate(492.3,1531.6) scale(1.000,1)" font-size="14.5">LMON_0249</text>
<text transform="translate(599,1531.6) scale(1.000,1)" font-size="14.5">A*68:02</text>
<text transform="translate(263.4,1550.7) scale(0.920,1)" font-size="14.5">EVERPSLGV</text>
<text transform="translate(410.8,1550.7) scale(1.000,1)" font-size="14.5">DegP/HtrA</text>
<text transform="translate(492.3,1550.7) scale(1.000,1)" font-size="14.5">LMON_0294</text>
<text transform="translate(599,1550.7) scale(1.000,1)" font-size="14.5">A*68:02</text>
<text transform="translate(263.4,1569.8) scale(0.920,1)" font-size="14.5">EVFDKYFELK</text>
<text transform="translate(434,1569.8) scale(1.000,1)" font-size="14.5">FtsI</text>
<text transform="translate(492.3,1569.8) scale(1.000,1)" font-size="14.5">LMON_1501</text>
<text transform="translate(599,1569.8) scale(1.000,1)" font-size="14.5">A*68:02</text>
<text transform="translate(263.3,1588.9) scale(0.920,1)" font-size="14.5">ILADIVKNV</text>
<text transform="translate(432.4,1588.9) scale(1.000,1)" font-size="14.5">SitA</text>
<text transform="translate(492.3,1588.9) scale(1.000,1)" font-size="14.5">LMON_1915</text>
<text transform="translate(599,1588.9) scale(1.000,1)" font-size="14.5">A*03:19</text>
<text transform="translate(264.4,1608) scale(0.920,1)" font-size="14.5">VAYGRQVYL*</text>
<text transform="translate(420.8,1608) scale(1.000,1)" font-size="14.5">hly/LLO</text>
<text transform="translate(492.3,1608) scale(1.000,1)" font-size="14.5">LMON_0200</text>
<text transform="translate(599,1608) scale(1.000,1)" font-size="14.5">A*03:19</text>
<text transform="translate(263.4,1627.1) scale(0.920,1)" font-size="14.5">EVISFKQIYYNV*</text>
<text transform="translate(420.8,1627.1) scale(1.000,1)" font-size="14.5">hly/LLO</text>
<text transform="translate(492.3,1627.1) scale(1.000,1)" font-size="14.5">LMON_0200</text>
<text transform="translate(599,1627.1) scale(1.000,1)" font-size="14.5">A*68:02</text>
<text transform="translate(263.4,1646.2) scale(0.920,1)" font-size="14.5">EVFDKYFEL*</text>
<text transform="translate(434,1646.2) scale(1.000,1)" font-size="14.5">FtsI</text>
<text transform="translate(492.3,1646.2) scale(1.000,1)" font-size="14.5">LMON_1501</text>
<text transform="translate(599,1646.2) scale(1.000,1)" font-size="14.5">A*68:02</text>
<text transform="translate(263.4,1665.3) scale(0.920,1)" font-size="14.5">EVASWIVQV</text>
<text transform="translate(434.3,1665.3) scale(1.000,1)" font-size="14.5">mpl</text>
<text transform="translate(492.3,1665.3) scale(1.000,1)" font-size="14.5">LMON_0201</text>
<text transform="translate(599,1665.3) scale(1.000,1)" font-size="14.5">A*68:02</text>
<text transform="translate(263.4,1684.4) scale(0.920,1)" font-size="14.5">ETFFPQKESYV*</text>
<text transform="translate(427.1,1684.4) scale(1.000,1)" font-size="14.5">OppA</text>
<text transform="translate(492.3,1684.4) scale(1.000,1)" font-size="14.5">LMON_0149</text>
<text transform="translate(599,1684.4) scale(1.000,1)" font-size="14.5">A*68:02</text>
<g shape-rendering="crispEdges"><rect x="12.7" y="1840.5" width="15" height="19.6" fill="#800000"/><rect x="27.1" y="1840.5" width="15" height="19.6" fill="#1a0000"/><rect x="41.5" y="1840.5" width="15" height="19.6" fill="#00993d"/><rect x="55.9" y="1840.5" width="15" height="19.6" fill="#004c1f"/><rect x="70.2" y="1840.5" width="15" height="19.6" fill="#00cc52"/><rect x="84.6" y="1840.5" width="15" height="19.6" fill="#001a0a"/><rect x="99" y="1840.5" width="15" height="19.6" fill="#cc0000"/><rect x="113.4" y="1840.5" width="15" height="19.6" fill="#4c0000"/><rect x="12.7" y="1859.5" width="15" height="19.6" fill="#330000"/><rect x="27.1" y="1859.5" width="15" height="19.6" fill="#1a0000"/><rect x="41.5" y="1859.5" width="15" height="19.6" fill="#800000"/><rect x="55.9" y="1859.5" width="15" height="19.6" fill="#00cc52"/><rect x="70.2" y="1859.5" width="15" height="19.6" fill="#000000"/><rect x="84.6" y="1859.5" width="15" height="19.6" fill="#004c1f"/><rect x="99" y="1859.5" width="15" height="19.6" fill="#008033"/><rect x="113.4" y="1859.5" width="15" height="19.6" fill="#e60000"/><rect x="12.7" y="1878.5" width="15" height="19.6" fill="#004c1f"/><rect x="27.1" y="1878.5" width="15" height="19.6" fill="#990000"/><rect x="41.5" y="1878.5" width="15" height="19.6" fill="#006629"/><rect x="55.9" y="1878.5" width="15" height="19.6" fill="#008033"/><rect x="70.2" y="1878.5" width="15" height="19.6" fill="#660000"/><rect x="84.6" y="1878.5" width="15" height="19.6" fill="#003314"/><rect x="99" y="1878.5" width="15" height="19.6" fill="#004c1f"/><rect x="113.4" y="1878.5" width="15" height="19.6" fill="#e60000"/><rect x="12.7" y="1897.4" width="15" height="19.6" fill="#006629"/><rect x="27.1" y="1897.4" width="15" height="19.6" fill="#004c1f"/><rect x="41.5" y="1897.4" width="15" height="19.6" fill="#00ff66"/><rect x="55.9" y="1897.4" width="15" height="19.6" fill="#1a0000"/><rect x="70.2" y="1897.4" width="15" height="19.6" fill="#990000"/><rect x="84.6" y="1897.4" width="15" height="19.6" fill="#660000"/><rect x="99" y="1897.4" width="15" height="19.6" fill="#4c0000"/><rect x="113.4" y="1897.4" width="15" height="19.6" fill="#4c0000"/><rect x="12.7" y="1916.4" width="15" height="19.6" fill="#990000"/><rect x="27.1" y="1916.4" width="15" height="19.6" fill="#00b247"/><rect x="41.5" y="1916.4" width="15" height="19.6" fill="#00cc52"/><rect x="55.9" y="1916.4" width="15" height="19.6" fill="#660000"/><rect x="70.2" y="1916.4" width="15" height="19.6" fill="#b20000"/><rect x="84.6" y="1916.4" width="15" height="19.6" fill="#000000"/><rect x="99" y="1916.4" width="15" height="19.6" fill="#000000"/><rect x="113.4" y="1916.4" width="15" height="19.6" fill="#003314"/><rect x="12.7" y="1935.4" width="15" height="19.6" fill="#b20000"/><rect x="27.1" y="1935.4" width="15" height="19.6" fill="#006629"/><rect x="41.5" y="1935.4" width="15" height="19.6" fill="#00ff66"/><rect x="55.9" y="1935.4" width="15" height="19.6" fill="#001a0a"/><rect x="70.2" y="1935.4" width="15" height="19.6" fill="#660000"/><rect x="84.6" y="1935.4" width="15" height="19.6" fill="#003314"/><rect x="99" y="1935.4" width="15" height="19.6" fill="#800000"/><rect x="113.4" y="1935.4" width="15" height="19.6" fill="#1a0000"/><rect x="12.7" y="1954.4" width="15" height="19.6" fill="#4c0000"/><rect x="27.1" y="1954.4" width="15" height="19.6" fill="#006629"/><rect x="41.5" y="1954.4" width="15" height="19.6" fill="#00cc52"/><rect x="55.9" y="1954.4" width="15" height="19.6" fill="#008033"/><rect x="70.2" y="1954.4" width="15" height="19.6" fill="#b20000"/><rect x="84.6" y="1954.4" width="15" height="19.6" fill="#660000"/><rect x="99" y="1954.4" width="15" height="19.6" fill="#1a0000"/><rect x="113.4" y="1954.4" width="15" height="19.6" fill="#330000"/><rect x="12.7" y="1973.4" width="15" height="19.6" fill="#001a0a"/><rect x="27.1" y="1973.4" width="15" height="19.6" fill="#008033"/><rect x="41.5" y="1973.4" width="15" height="19.6" fill="#004c1f"/><rect x="55.9" y="1973.4" width="15" height="19.6" fill="#990000"/><rect x="70.2" y="1973.4" width="15" height="19.6" fill="#4c0000"/><rect x="84.6" y="1973.4" width="15" height="19.6" fill="#330000"/><rect x="99" y="1973.4" width="15" height="19.6" fill="#00cc52"/><rect x="113.4" y="1973.4" width="15" height="19.6" fill="#b20000"/><rect x="12.7" y="1992.3" width="15" height="19.6" fill="#004c1f"/><rect x="27.1" y="1992.3" width="15" height="19.6" fill="#00ff66"/><rect x="41.5" y="1992.3" width="15" height="19.6" fill="#1a0000"/><rect x="55.9" y="1992.3" width="15" height="19.6" fill="#660000"/><rect x="70.2" y="1992.3" width="15" height="19.6" fill="#4c0000"/><rect x="84.6" y="1992.3" width="15" height="19.6" fill="#003314"/><rect x="99" y="1992.3" width="15" height="19.6" fill="#003314"/><rect x="113.4" y="1992.3" width="15" height="19.6" fill="#b20000"/><rect x="12.7" y="2011.3" width="15" height="19.6" fill="#008033"/><rect x="27.1" y="2011.3" width="15" height="19.6" fill="#00ff66"/><rect x="41.5" y="2011.3" width="15" height="19.6" fill="#4c0000"/><rect x="55.9" y="2011.3" width="15" height="19.6" fill="#000000"/><rect x="70.2" y="2011.3" width="15" height="19.6" fill="#990000"/><rect x="84.6" y="2011.3" width="15" height="19.6" fill="#001a0a"/><rect x="99" y="2011.3" width="15" height="19.6" fill="#4c0000"/><rect x="113.4" y="2011.3" width="15" height="19.6" fill="#660000"/><rect x="12.7" y="2030.3" width="15" height="19.6" fill="#000000"/><rect x="27.1" y="2030.3" width="15" height="19.6" fill="#00ff66"/><rect x="41.5" y="2030.3" width="15" height="19.6" fill="#1a0000"/><rect x="55.9" y="2030.3" width="15" height="19.6" fill="#800000"/><rect x="70.2" y="2030.3" width="15" height="19.6" fill="#b20000"/><rect x="84.6" y="2030.3" width="15" height="19.6" fill="#001a0a"/><rect x="99" y="2030.3" width="15" height="19.6" fill="#003314"/><rect x="113.4" y="2030.3" width="15" height="19.6" fill="#001a0a"/><rect x="12.7" y="2049.3" width="15" height="19.6" fill="#003314"/><rect x="27.1" y="2049.3" width="15" height="19.6" fill="#008033"/><rect x="41.5" y="2049.3" width="15" height="19.6" fill="#003314"/><rect x="55.9" y="2049.3" width="15" height="19.6" fill="#660000"/><rect x="70.2" y="2049.3" width="15" height="19.6" fill="#cc0000"/><rect x="84.6" y="2049.3" width="15" height="19.6" fill="#00cc52"/><rect x="99" y="2049.3" width="15" height="19.6" fill="#330000"/><rect x="113.4" y="2049.3" width="15" height="19.6" fill="#330000"/><rect x="12.7" y="2068.3" width="15" height="19.6" fill="#006629"/><rect x="27.1" y="2068.3" width="15" height="19.6" fill="#004c1f"/><rect x="41.5" y="2068.3" width="15" height="19.6" fill="#003314"/><rect x="55.9" y="2068.3" width="15" height="19.6" fill="#b20000"/><rect x="70.2" y="2068.3" width="15" height="19.6" fill="#990000"/><rect x="84.6" y="2068.3" width="15" height="19.6" fill="#00cc52"/><rect x="99" y="2068.3" width="15" height="19.6" fill="#000000"/><rect x="113.4" y="2068.3" width="15" height="19.6" fill="#660000"/><rect x="12.7" y="2087.2" width="15" height="19.6" fill="#004c1f"/><rect x="27.1" y="2087.2" width="15" height="19.6" fill="#006629"/><rect x="41.5" y="2087.2" width="15" height="19.6" fill="#1a0000"/><rect x="55.9" y="2087.2" width="15" height="19.6" fill="#00993d"/><rect x="70.2" y="2087.2" width="15" height="19.6" fill="#cc0000"/><rect x="84.6" y="2087.2" width="15" height="19.6" fill="#001a0a"/><rect x="99" y="2087.2" width="15" height="19.6" fill="#003314"/><rect x="113.4" y="2087.2" width="15" height="19.6" fill="#b20000"/><rect x="12.7" y="2106.2" width="15" height="19.6" fill="#008033"/><rect x="27.1" y="2106.2" width="15" height="19.6" fill="#004c1f"/><rect x="41.5" y="2106.2" width="15" height="19.6" fill="#004c1f"/><rect x="55.9" y="2106.2" width="15" height="19.6" fill="#003314"/><rect x="70.2" y="2106.2" width="15" height="19.6" fill="#1a0000"/><rect x="84.6" y="2106.2" width="15" height="19.6" fill="#660000"/><rect x="99" y="2106.2" width="15" height="19.6" fill="#1a0000"/><rect x="113.4" y="2106.2" width="15" height="19.6" fill="#ff0000"/><rect x="12.7" y="2125.2" width="15" height="19.6" fill="#004c1f"/><rect x="27.1" y="2125.2" width="15" height="19.6" fill="#00b247"/><rect x="41.5" y="2125.2" width="15" height="19.6" fill="#00993d"/><rect x="55.9" y="2125.2" width="15" height="19.6" fill="#000000"/><rect x="70.2" y="2125.2" width="15" height="19.6" fill="#330000"/><rect x="84.6" y="2125.2" width="15" height="19.6" fill="#800000"/><rect x="99" y="2125.2" width="15" height="19.6" fill="#001a0a"/><rect x="113.4" y="2125.2" width="15" height="19.6" fill="#e60000"/><rect x="12.7" y="2144.2" width="15" height="19.6" fill="#00e65c"/><rect x="27.1" y="2144.2" width="15" height="19.6" fill="#006629"/><rect x="41.5" y="2144.2" width="15" height="19.6" fill="#003314"/><rect x="55.9" y="2144.2" width="15" height="19.6" fill="#003314"/><rect x="70.2" y="2144.2" width="15" height="19.6" fill="#800000"/><rect x="84.6" y="2144.2" width="15" height="19.6" fill="#800000"/><rect x="99" y="2144.2" width="15" height="19.6" fill="#330000"/><rect x="113.4" y="2144.2" width="15" height="19.6" fill="#990000"/><rect x="12.7" y="2163.2" width="15" height="19.6" fill="#00cc52"/><rect x="27.1" y="2163.2" width="15" height="19.6" fill="#008033"/><rect x="41.5" y="2163.2" width="15" height="19.6" fill="#001a0a"/><rect x="55.9" y="2163.2" width="15" height="19.6" fill="#001a0a"/><rect x="70.2" y="2163.2" width="15" height="19.6" fill="#800000"/><rect x="84.6" y="2163.2" width="15" height="19.6" fill="#001a0a"/><rect x="99" y="2163.2" width="15" height="19.6" fill="#4c0000"/><rect x="113.4" y="2163.2" width="15" height="19.6" fill="#cc0000"/><rect x="12.7" y="2182.1" width="15" height="19.6" fill="#00e65c"/><rect x="27.1" y="2182.1" width="15" height="19.6" fill="#006629"/><rect x="41.5" y="2182.1" width="15" height="19.6" fill="#004c1f"/><rect x="55.9" y="2182.1" width="15" height="19.6" fill="#1a0000"/><rect x="70.2" y="2182.1" width="15" height="19.6" fill="#4c0000"/><rect x="84.6" y="2182.1" width="15" height="19.6" fill="#330000"/><rect x="99" y="2182.1" width="15" height="19.6" fill="#4c0000"/><rect x="113.4" y="2182.1" width="15" height="19.6" fill="#b20000"/><rect x="12.7" y="2201.1" width="15" height="19.6" fill="#006629"/><rect x="27.1" y="2201.1" width="15" height="19.6" fill="#004c1f"/><rect x="41.5" y="2201.1" width="15" height="19.6" fill="#004c1f"/><rect x="55.9" y="2201.1" width="15" height="19.6" fill="#008033"/><rect x="70.2" y="2201.1" width="15" height="19.6" fill="#000000"/><rect x="84.6" y="2201.1" width="15" height="19.6" fill="#001a0a"/><rect x="99" y="2201.1" width="15" height="19.6" fill="#b20000"/><rect x="113.4" y="2201.1" width="15" height="19.6" fill="#e60000"/><rect x="12.7" y="2220.1" width="15" height="19.6" fill="#008033"/><rect x="27.1" y="2220.1" width="15" height="19.6" fill="#006629"/><rect x="41.5" y="2220.1" width="15" height="19.6" fill="#001a0a"/><rect x="55.9" y="2220.1" width="15" height="19.6" fill="#00b247"/><rect x="70.2" y="2220.1" width="15" height="19.6" fill="#4c0000"/><rect x="84.6" y="2220.1" width="15" height="19.6" fill="#330000"/><rect x="99" y="2220.1" width="15" height="19.6" fill="#4c0000"/><rect x="113.4" y="2220.1" width="15" height="19.6" fill="#e60000"/><rect x="12.7" y="2239.1" width="15" height="19.6" fill="#008033"/><rect x="27.1" y="2239.1" width="15" height="19.6" fill="#00993d"/><rect x="41.5" y="2239.1" width="15" height="19.6" fill="#001a0a"/><rect x="55.9" y="2239.1" width="15" height="19.6" fill="#008033"/><rect x="70.2" y="2239.1" width="15" height="19.6" fill="#1a0000"/><rect x="84.6" y="2239.1" width="15" height="19.6" fill="#4c0000"/><rect x="99" y="2239.1" width="15" height="19.6" fill="#990000"/><rect x="113.4" y="2239.1" width="15" height="19.6" fill="#990000"/><rect x="12.7" y="2258.1" width="15" height="19.6" fill="#008033"/><rect x="27.1" y="2258.1" width="15" height="19.6" fill="#00993d"/><rect x="41.5" y="2258.1" width="15" height="19.6" fill="#003314"/><rect x="55.9" y="2258.1" width="15" height="19.6" fill="#001a0a"/><rect x="70.2" y="2258.1" width="15" height="19.6" fill="#330000"/><rect x="84.6" y="2258.1" width="15" height="19.6" fill="#001a0a"/><rect x="99" y="2258.1" width="15" height="19.6" fill="#330000"/><rect x="113.4" y="2258.1" width="15" height="19.6" fill="#ff0000"/><rect x="12.7" y="2277" width="15" height="19.6" fill="#008033"/><rect x="27.1" y="2277" width="15" height="19.6" fill="#008033"/><rect x="41.5" y="2277" width="15" height="19.6" fill="#006629"/><rect x="55.9" y="2277" width="15" height="19.6" fill="#000000"/><rect x="70.2" y="2277" width="15" height="19.6" fill="#b20000"/><rect x="84.6" y="2277" width="15" height="19.6" fill="#001a0a"/><rect x="99" y="2277" width="15" height="19.6" fill="#000000"/><rect x="113.4" y="2277" width="15" height="19.6" fill="#e60000"/><rect x="12.7" y="2296" width="15" height="19.6" fill="#003314"/><rect x="27.1" y="2296" width="15" height="19.6" fill="#008033"/><rect x="41.5" y="2296" width="15" height="19.6" fill="#004c1f"/><rect x="55.9" y="2296" width="15" height="19.6" fill="#004c1f"/><rect x="70.2" y="2296" width="15" height="19.6" fill="#800000"/><rect x="84.6" y="2296" width="15" height="19.6" fill="#004c1f"/><rect x="99" y="2296" width="15" height="19.6" fill="#1a0000"/><rect x="113.4" y="2296" width="15" height="19.6" fill="#ff0000"/><rect x="12.7" y="2315" width="15" height="19.6" fill="#004c1f"/><rect x="27.1" y="2315" width="15" height="19.6" fill="#00e65c"/><rect x="41.5" y="2315" width="15" height="19.6" fill="#1a0000"/><rect x="55.9" y="2315" width="15" height="19.6" fill="#004c1f"/><rect x="70.2" y="2315" width="15" height="19.6" fill="#4c0000"/><rect x="84.6" y="2315" width="15" height="19.6" fill="#001a0a"/><rect x="99" y="2315" width="15" height="19.6" fill="#4c0000"/><rect x="113.4" y="2315" width="15" height="19.6" fill="#e60000"/><rect x="12.7" y="2334" width="15" height="19.6" fill="#008033"/><rect x="27.1" y="2334" width="15" height="19.6" fill="#008033"/><rect x="41.5" y="2334" width="15" height="19.6" fill="#006629"/><rect x="55.9" y="2334" width="15" height="19.6" fill="#006629"/><rect x="70.2" y="2334" width="15" height="19.6" fill="#800000"/><rect x="84.6" y="2334" width="15" height="19.6" fill="#330000"/><rect x="99" y="2334" width="15" height="19.6" fill="#660000"/><rect x="113.4" y="2334" width="15" height="19.6" fill="#cc0000"/><rect x="12.7" y="2353" width="15" height="19.6" fill="#004c1f"/><rect x="27.1" y="2353" width="15" height="19.6" fill="#00993d"/><rect x="41.5" y="2353" width="15" height="19.6" fill="#006629"/><rect x="55.9" y="2353" width="15" height="19.6" fill="#008033"/><rect x="70.2" y="2353" width="15" height="19.6" fill="#800000"/><rect x="84.6" y="2353" width="15" height="19.6" fill="#1a0000"/><rect x="99" y="2353" width="15" height="19.6" fill="#4c0000"/><rect x="113.4" y="2353" width="15" height="19.6" fill="#e60000"/><rect x="12.7" y="2371.9" width="15" height="19.6" fill="#004c1f"/><rect x="27.1" y="2371.9" width="15" height="19.6" fill="#00b247"/><rect x="41.5" y="2371.9" width="15" height="19.6" fill="#003314"/><rect x="55.9" y="2371.9" width="15" height="19.6" fill="#006629"/><rect x="70.2" y="2371.9" width="15" height="19.6" fill="#4c0000"/><rect x="84.6" y="2371.9" width="15" height="19.6" fill="#000000"/><rect x="99" y="2371.9" width="15" height="19.6" fill="#330000"/><rect x="113.4" y="2371.9" width="15" height="19.6" fill="#ff0000"/><rect x="12.7" y="2390.9" width="15" height="19.6" fill="#006629"/><rect x="27.1" y="2390.9" width="15" height="19.6" fill="#00cc52"/><rect x="41.5" y="2390.9" width="15" height="19.6" fill="#004c1f"/><rect x="55.9" y="2390.9" width="15" height="19.6" fill="#004c1f"/><rect x="70.2" y="2390.9" width="15" height="19.6" fill="#800000"/><rect x="84.6" y="2390.9" width="15" height="19.6" fill="#330000"/><rect x="99" y="2390.9" width="15" height="19.6" fill="#330000"/><rect x="113.4" y="2390.9" width="15" height="19.6" fill="#cc0000"/><rect x="12.7" y="2409.9" width="15" height="19.6" fill="#008033"/><rect x="27.1" y="2409.9" width="15" height="19.6" fill="#00cc52"/><rect x="41.5" y="2409.9" width="15" height="19.6" fill="#004c1f"/><rect x="55.9" y="2409.9" width="15" height="19.6" fill="#003314"/><rect x="70.2" y="2409.9" width="15" height="19.6" fill="#800000"/><rect x="84.6" y="2409.9" width="15" height="19.6" fill="#330000"/><rect x="99" y="2409.9" width="15" height="19.6" fill="#4c0000"/><rect x="113.4" y="2409.9" width="15" height="19.6" fill="#cc0000"/><rect x="12.7" y="2428.9" width="15" height="19.6" fill="#330000"/><rect x="27.1" y="2428.9" width="15" height="19.6" fill="#004c1f"/><rect x="41.5" y="2428.9" width="15" height="19.6" fill="#006629"/><rect x="55.9" y="2428.9" width="15" height="19.6" fill="#006629"/><rect x="70.2" y="2428.9" width="15" height="19.6" fill="#330000"/><rect x="84.6" y="2428.9" width="15" height="19.6" fill="#00993d"/><rect x="99" y="2428.9" width="15" height="19.6" fill="#cc0000"/><rect x="113.4" y="2428.9" width="15" height="19.6" fill="#990000"/><rect x="12.7" y="2447.9" width="15" height="19.6" fill="#330000"/><rect x="27.1" y="2447.9" width="15" height="19.6" fill="#00cc52"/><rect x="41.5" y="2447.9" width="15" height="19.6" fill="#003314"/><rect x="55.9" y="2447.9" width="15" height="19.6" fill="#003314"/><rect x="70.2" y="2447.9" width="15" height="19.6" fill="#001a0a"/><rect x="84.6" y="2447.9" width="15" height="19.6" fill="#004c1f"/><rect x="99" y="2447.9" width="15" height="19.6" fill="#660000"/><rect x="113.4" y="2447.9" width="15" height="19.6" fill="#ff0000"/></g>
<g shape-rendering="crispEdges"><rect x="134" y="1840.5" width="15" height="19.6" fill="#800000"/><rect x="148.4" y="1840.5" width="15" height="19.6" fill="#1a0000"/><rect x="162.7" y="1840.5" width="15" height="19.6" fill="#00993d"/><rect x="177.1" y="1840.5" width="15" height="19.6" fill="#004c1f"/><rect x="191.4" y="1840.5" width="15" height="19.6" fill="#00cc52"/><rect x="205.8" y="1840.5" width="15" height="19.6" fill="#001a0a"/><rect x="220.2" y="1840.5" width="15" height="19.6" fill="#cc0000"/><rect x="234.5" y="1840.5" width="15" height="19.6" fill="#4c0000"/><rect x="134" y="1859.5" width="15" height="19.6" fill="#330000"/><rect x="148.4" y="1859.5" width="15" height="19.6" fill="#1a0000"/><rect x="162.7" y="1859.5" width="15" height="19.6" fill="#800000"/><rect x="177.1" y="1859.5" width="15" height="19.6" fill="#00cc52"/><rect x="191.4" y="1859.5" width="15" height="19.6" fill="#000000"/><rect x="205.8" y="1859.5" width="15" height="19.6" fill="#004c1f"/><rect x="220.2" y="1859.5" width="15" height="19.6" fill="#008033"/><rect x="234.5" y="1859.5" width="15" height="19.6" fill="#e60000"/><rect x="134" y="1878.5" width="15" height="19.6" fill="#808080"/><rect x="148.4" y="1878.5" width="15" height="19.6" fill="#990000"/><rect x="162.7" y="1878.5" width="15" height="19.6" fill="#808080"/><rect x="177.1" y="1878.5" width="15" height="19.6" fill="#008033"/><rect x="191.4" y="1878.5" width="15" height="19.6" fill="#660000"/><rect x="205.8" y="1878.5" width="15" height="19.6" fill="#003314"/><rect x="220.2" y="1878.5" width="15" height="19.6" fill="#808080"/><rect x="234.5" y="1878.5" width="15" height="19.6" fill="#e60000"/><rect x="134" y="1897.4" width="15" height="19.6" fill="#006629"/><rect x="148.4" y="1897.4" width="15" height="19.6" fill="#004c1f"/><rect x="162.7" y="1897.4" width="15" height="19.6" fill="#00ff66"/><rect x="177.1" y="1897.4" width="15" height="19.6" fill="#1a0000"/><rect x="191.4" y="1897.4" width="15" height="19.6" fill="#990000"/><rect x="205.8" y="1897.4" width="15" height="19.6" fill="#660000"/><rect x="220.2" y="1897.4" width="15" height="19.6" fill="#4c0000"/><rect x="234.5" y="1897.4" width="15" height="19.6" fill="#4c0000"/><rect x="134" y="1916.4" width="15" height="19.6" fill="#990000"/><rect x="148.4" y="1916.4" width="15" height="19.6" fill="#00b247"/><rect x="162.7" y="1916.4" width="15" height="19.6" fill="#00cc52"/><rect x="177.1" y="1916.4" width="15" height="19.6" fill="#660000"/><rect x="191.4" y="1916.4" width="15" height="19.6" fill="#b20000"/><rect x="205.8" y="1916.4" width="15" height="19.6" fill="#000000"/><rect x="220.2" y="1916.4" width="15" height="19.6" fill="#000000"/><rect x="234.5" y="1916.4" width="15" height="19.6" fill="#003314"/><rect x="134" y="1935.4" width="15" height="19.6" fill="#b20000"/><rect x="148.4" y="1935.4" width="15" height="19.6" fill="#006629"/><rect x="162.7" y="1935.4" width="15" height="19.6" fill="#00ff66"/><rect x="177.1" y="1935.4" width="15" height="19.6" fill="#001a0a"/><rect x="191.4" y="1935.4" width="15" height="19.6" fill="#660000"/><rect x="205.8" y="1935.4" width="15" height="19.6" fill="#003314"/><rect x="220.2" y="1935.4" width="15" height="19.6" fill="#800000"/><rect x="234.5" y="1935.4" width="15" height="19.6" fill="#1a0000"/><rect x="134" y="1954.4" width="15" height="19.6" fill="#4c0000"/><rect x="148.4" y="1954.4" width="15" height="19.6" fill="#006629"/><rect x="162.7" y="1954.4" width="15" height="19.6" fill="#00cc52"/><rect x="177.1" y="1954.4" width="15" height="19.6" fill="#008033"/><rect x="191.4" y="1954.4" width="15" height="19.6" fill="#b20000"/><rect x="205.8" y="1954.4" width="15" height="19.6" fill="#660000"/><rect x="220.2" y="1954.4" width="15" height="19.6" fill="#1a0000"/><rect x="234.5" y="1954.4" width="15" height="19.6" fill="#330000"/><rect x="134" y="1973.4" width="15" height="19.6" fill="#001a0a"/><rect x="148.4" y="1973.4" width="15" height="19.6" fill="#808080"/><rect x="162.7" y="1973.4" width="15" height="19.6" fill="#808080"/><rect x="177.1" y="1973.4" width="15" height="19.6" fill="#990000"/><rect x="191.4" y="1973.4" width="15" height="19.6" fill="#4c0000"/><rect x="205.8" y="1973.4" width="15" height="19.6" fill="#330000"/><rect x="220.2" y="1973.4" width="15" height="19.6" fill="#808080"/><rect x="234.5" y="1973.4" width="15" height="19.6" fill="#808080"/><rect x="134" y="1992.3" width="15" height="19.6" fill="#004c1f"/><rect x="148.4" y="1992.3" width="15" height="19.6" fill="#00ff66"/><rect x="162.7" y="1992.3" width="15" height="19.6" fill="#1a0000"/><rect x="177.1" y="1992.3" width="15" height="19.6" fill="#660000"/><rect x="191.4" y="1992.3" width="15" height="19.6" fill="#4c0000"/><rect x="205.8" y="1992.3" width="15" height="19.6" fill="#003314"/><rect x="220.2" y="1992.3" width="15" height="19.6" fill="#003314"/><rect x="234.5" y="1992.3" width="15" height="19.6" fill="#b20000"/><rect x="134" y="2011.3" width="15" height="19.6" fill="#008033"/><rect x="148.4" y="2011.3" width="15" height="19.6" fill="#00ff66"/><rect x="162.7" y="2011.3" width="15" height="19.6" fill="#4c0000"/><rect x="177.1" y="2011.3" width="15" height="19.6" fill="#000000"/><rect x="191.4" y="2011.3" width="15" height="19.6" fill="#990000"/><rect x="205.8" y="2011.3" width="15" height="19.6" fill="#001a0a"/><rect x="220.2" y="2011.3" width="15" height="19.6" fill="#4c0000"/><rect x="234.5" y="2011.3" width="15" height="19.6" fill="#660000"/><rect x="134" y="2030.3" width="15" height="19.6" fill="#000000"/><rect x="148.4" y="2030.3" width="15" height="19.6" fill="#808080"/><rect x="162.7" y="2030.3" width="15" height="19.6" fill="#1a0000"/><rect x="177.1" y="2030.3" width="15" height="19.6" fill="#800000"/><rect x="191.4" y="2030.3" width="15" height="19.6" fill="#b20000"/><rect x="205.8" y="2030.3" width="15" height="19.6" fill="#808080"/><rect x="220.2" y="2030.3" width="15" height="19.6" fill="#003314"/><rect x="234.5" y="2030.3" width="15" height="19.6" fill="#808080"/><rect x="134" y="2049.3" width="15" height="19.6" fill="#003314"/><rect x="148.4" y="2049.3" width="15" height="19.6" fill="#008033"/><rect x="162.7" y="2049.3" width="15" height="19.6" fill="#003314"/><rect x="177.1" y="2049.3" width="15" height="19.6" fill="#660000"/><rect x="191.4" y="2049.3" width="15" height="19.6" fill="#cc0000"/><rect x="205.8" y="2049.3" width="15" height="19.6" fill="#00cc52"/><rect x="220.2" y="2049.3" width="15" height="19.6" fill="#330000"/><rect x="234.5" y="2049.3" width="15" height="19.6" fill="#330000"/><rect x="134" y="2068.3" width="15" height="19.6" fill="#006629"/><rect x="148.4" y="2068.3" width="15" height="19.6" fill="#004c1f"/><rect x="162.7" y="2068.3" width="15" height="19.6" fill="#003314"/><rect x="177.1" y="2068.3" width="15" height="19.6" fill="#b20000"/><rect x="191.4" y="2068.3" width="15" height="19.6" fill="#990000"/><rect x="205.8" y="2068.3" width="15" height="19.6" fill="#00cc52"/><rect x="220.2" y="2068.3" width="15" height="19.6" fill="#000000"/><rect x="234.5" y="2068.3" width="15" height="19.6" fill="#660000"/><rect x="134" y="2087.2" width="15" height="19.6" fill="#004c1f"/><rect x="148.4" y="2087.2" width="15" height="19.6" fill="#006629"/><rect x="162.7" y="2087.2" width="15" height="19.6" fill="#1a0000"/><rect x="177.1" y="2087.2" width="15" height="19.6" fill="#00993d"/><rect x="191.4" y="2087.2" width="15" height="19.6" fill="#cc0000"/><rect x="205.8" y="2087.2" width="15" height="19.6" fill="#001a0a"/><rect x="220.2" y="2087.2" width="15" height="19.6" fill="#003314"/><rect x="234.5" y="2087.2" width="15" height="19.6" fill="#b20000"/><rect x="134" y="2106.2" width="15" height="19.6" fill="#008033"/><rect x="148.4" y="2106.2" width="15" height="19.6" fill="#004c1f"/><rect x="162.7" y="2106.2" width="15" height="19.6" fill="#004c1f"/><rect x="177.1" y="2106.2" width="15" height="19.6" fill="#003314"/><rect x="191.4" y="2106.2" width="15" height="19.6" fill="#1a0000"/><rect x="205.8" y="2106.2" width="15" height="19.6" fill="#660000"/><rect x="220.2" y="2106.2" width="15" height="19.6" fill="#1a0000"/><rect x="234.5" y="2106.2" width="15" height="19.6" fill="#ff0000"/><rect x="134" y="2125.2" width="15" height="19.6" fill="#004c1f"/><rect x="148.4" y="2125.2" width="15" height="19.6" fill="#00b247"/><rect x="162.7" y="2125.2" width="15" height="19.6" fill="#00993d"/><rect x="177.1" y="2125.2" width="15" height="19.6" fill="#000000"/><rect x="191.4" y="2125.2" width="15" height="19.6" fill="#330000"/><rect x="205.8" y="2125.2" width="15" height="19.6" fill="#800000"/><rect x="220.2" y="2125.2" width="15" height="19.6" fill="#001a0a"/><rect x="234.5" y="2125.2" width="15" height="19.6" fill="#e60000"/><rect x="134" y="2144.2" width="15" height="19.6" fill="#808080"/><rect x="148.4" y="2144.2" width="15" height="19.6" fill="#006629"/><rect x="162.7" y="2144.2" width="15" height="19.6" fill="#003314"/><rect x="177.1" y="2144.2" width="15" height="19.6" fill="#003314"/><rect x="191.4" y="2144.2" width="15" height="19.6" fill="#800000"/><rect x="205.8" y="2144.2" width="15" height="19.6" fill="#800000"/><rect x="220.2" y="2144.2" width="15" height="19.6" fill="#330000"/><rect x="234.5" y="2144.2" width="15" height="19.6" fill="#990000"/><rect x="134" y="2163.2" width="15" height="19.6" fill="#00cc52"/><rect x="148.4" y="2163.2" width="15" height="19.6" fill="#008033"/><rect x="162.7" y="2163.2" width="15" height="19.6" fill="#001a0a"/><rect x="177.1" y="2163.2" width="15" height="19.6" fill="#001a0a"/><rect x="191.4" y="2163.2" width="15" height="19.6" fill="#800000"/><rect x="205.8" y="2163.2" width="15" height="19.6" fill="#001a0a"/><rect x="220.2" y="2163.2" width="15" height="19.6" fill="#4c0000"/><rect x="234.5" y="2163.2" width="15" height="19.6" fill="#cc0000"/><rect x="134" y="2182.1" width="15" height="19.6" fill="#00e65c"/><rect x="148.4" y="2182.1" width="15" height="19.6" fill="#006629"/><rect x="162.7" y="2182.1" width="15" height="19.6" fill="#004c1f"/><rect x="177.1" y="2182.1" width="15" height="19.6" fill="#1a0000"/><rect x="191.4" y="2182.1" width="15" height="19.6" fill="#4c0000"/><rect x="205.8" y="2182.1" width="15" height="19.6" fill="#330000"/><rect x="220.2" y="2182.1" width="15" height="19.6" fill="#4c0000"/><rect x="234.5" y="2182.1" width="15" height="19.6" fill="#b20000"/><rect x="134" y="2201.1" width="15" height="19.6" fill="#006629"/><rect x="148.4" y="2201.1" width="15" height="19.6" fill="#004c1f"/><rect x="162.7" y="2201.1" width="15" height="19.6" fill="#004c1f"/><rect x="177.1" y="2201.1" width="15" height="19.6" fill="#008033"/><rect x="191.4" y="2201.1" width="15" height="19.6" fill="#000000"/><rect x="205.8" y="2201.1" width="15" height="19.6" fill="#001a0a"/><rect x="220.2" y="2201.1" width="15" height="19.6" fill="#b20000"/><rect x="234.5" y="2201.1" width="15" height="19.6" fill="#e60000"/><rect x="134" y="2220.1" width="15" height="19.6" fill="#008033"/><rect x="148.4" y="2220.1" width="15" height="19.6" fill="#006629"/><rect x="162.7" y="2220.1" width="15" height="19.6" fill="#001a0a"/><rect x="177.1" y="2220.1" width="15" height="19.6" fill="#00b247"/><rect x="191.4" y="2220.1" width="15" height="19.6" fill="#4c0000"/><rect x="205.8" y="2220.1" width="15" height="19.6" fill="#330000"/><rect x="220.2" y="2220.1" width="15" height="19.6" fill="#4c0000"/><rect x="234.5" y="2220.1" width="15" height="19.6" fill="#e60000"/><rect x="134" y="2239.1" width="15" height="19.6" fill="#808080"/><rect x="148.4" y="2239.1" width="15" height="19.6" fill="#00993d"/><rect x="162.7" y="2239.1" width="15" height="19.6" fill="#808080"/><rect x="177.1" y="2239.1" width="15" height="19.6" fill="#808080"/><rect x="191.4" y="2239.1" width="15" height="19.6" fill="#1a0000"/><rect x="205.8" y="2239.1" width="15" height="19.6" fill="#4c0000"/><rect x="220.2" y="2239.1" width="15" height="19.6" fill="#990000"/><rect x="234.5" y="2239.1" width="15" height="19.6" fill="#990000"/><rect x="134" y="2258.1" width="15" height="19.6" fill="#008033"/><rect x="148.4" y="2258.1" width="15" height="19.6" fill="#00993d"/><rect x="162.7" y="2258.1" width="15" height="19.6" fill="#003314"/><rect x="177.1" y="2258.1" width="15" height="19.6" fill="#001a0a"/><rect x="191.4" y="2258.1" width="15" height="19.6" fill="#330000"/><rect x="205.8" y="2258.1" width="15" height="19.6" fill="#001a0a"/><rect x="220.2" y="2258.1" width="15" height="19.6" fill="#330000"/><rect x="234.5" y="2258.1" width="15" height="19.6" fill="#ff0000"/><rect x="134" y="2277" width="15" height="19.6" fill="#808080"/><rect x="148.4" y="2277" width="15" height="19.6" fill="#808080"/><rect x="162.7" y="2277" width="15" height="19.6" fill="#006629"/><rect x="177.1" y="2277" width="15" height="19.6" fill="#808080"/><rect x="191.4" y="2277" width="15" height="19.6" fill="#808080"/><rect x="205.8" y="2277" width="15" height="19.6" fill="#808080"/><rect x="220.2" y="2277" width="15" height="19.6" fill="#000000"/><rect x="234.5" y="2277" width="15" height="19.6" fill="#e60000"/><rect x="134" y="2296" width="15" height="19.6" fill="#003314"/><rect x="148.4" y="2296" width="15" height="19.6" fill="#008033"/><rect x="162.7" y="2296" width="15" height="19.6" fill="#004c1f"/><rect x="177.1" y="2296" width="15" height="19.6" fill="#004c1f"/><rect x="191.4" y="2296" width="15" height="19.6" fill="#800000"/><rect x="205.8" y="2296" width="15" height="19.6" fill="#004c1f"/><rect x="220.2" y="2296" width="15" height="19.6" fill="#1a0000"/><rect x="234.5" y="2296" width="15" height="19.6" fill="#ff0000"/><rect x="134" y="2315" width="15" height="19.6" fill="#004c1f"/><rect x="148.4" y="2315" width="15" height="19.6" fill="#00e65c"/><rect x="162.7" y="2315" width="15" height="19.6" fill="#1a0000"/><rect x="177.1" y="2315" width="15" height="19.6" fill="#004c1f"/><rect x="191.4" y="2315" width="15" height="19.6" fill="#4c0000"/><rect x="205.8" y="2315" width="15" height="19.6" fill="#001a0a"/><rect x="220.2" y="2315" width="15" height="19.6" fill="#4c0000"/><rect x="234.5" y="2315" width="15" height="19.6" fill="#e60000"/><rect x="134" y="2334" width="15" height="19.6" fill="#008033"/><rect x="148.4" y="2334" width="15" height="19.6" fill="#008033"/><rect x="162.7" y="2334" width="15" height="19.6" fill="#006629"/><rect x="177.1" y="2334" width="15" height="19.6" fill="#006629"/><rect x="191.4" y="2334" width="15" height="19.6" fill="#800000"/><rect x="205.8" y="2334" width="15" height="19.6" fill="#330000"/><rect x="220.2" y="2334" width="15" height="19.6" fill="#660000"/><rect x="234.5" y="2334" width="15" height="19.6" fill="#cc0000"/><rect x="134" y="2353" width="15" height="19.6" fill="#808080"/><rect x="148.4" y="2353" width="15" height="19.6" fill="#808080"/><rect x="162.7" y="2353" width="15" height="19.6" fill="#006629"/><rect x="177.1" y="2353" width="15" height="19.6" fill="#008033"/><rect x="191.4" y="2353" width="15" height="19.6" fill="#800000"/><rect x="205.8" y="2353" width="15" height="19.6" fill="#1a0000"/><rect x="220.2" y="2353" width="15" height="19.6" fill="#4c0000"/><rect x="234.5" y="2353" width="15" height="19.6" fill="#e60000"/><rect x="134" y="2371.9" width="15" height="19.6" fill="#004c1f"/><rect x="148.4" y="2371.9" width="15" height="19.6" fill="#00b247"/><rect x="162.7" y="2371.9" width="15" height="19.6" fill="#003314"/><rect x="177.1" y="2371.9" width="15" height="19.6" fill="#006629"/><rect x="191.4" y="2371.9" width="15" height="19.6" fill="#4c0000"/><rect x="205.8" y="2371.9" width="15" height="19.6" fill="#000000"/><rect x="220.2" y="2371.9" width="15" height="19.6" fill="#330000"/><rect x="234.5" y="2371.9" width="15" height="19.6" fill="#ff0000"/><rect x="134" y="2390.9" width="15" height="19.6" fill="#006629"/><rect x="148.4" y="2390.9" width="15" height="19.6" fill="#00cc52"/><rect x="162.7" y="2390.9" width="15" height="19.6" fill="#004c1f"/><rect x="177.1" y="2390.9" width="15" height="19.6" fill="#004c1f"/><rect x="191.4" y="2390.9" width="15" height="19.6" fill="#800000"/><rect x="205.8" y="2390.9" width="15" height="19.6" fill="#330000"/><rect x="220.2" y="2390.9" width="15" height="19.6" fill="#330000"/><rect x="234.5" y="2390.9" width="15" height="19.6" fill="#cc0000"/><rect x="134" y="2409.9" width="15" height="19.6" fill="#008033"/><rect x="148.4" y="2409.9" width="15" height="19.6" fill="#00cc52"/><rect x="162.7" y="2409.9" width="15" height="19.6" fill="#004c1f"/><rect x="177.1" y="2409.9" width="15" height="19.6" fill="#003314"/><rect x="191.4" y="2409.9" width="15" height="19.6" fill="#800000"/><rect x="205.8" y="2409.9" width="15" height="19.6" fill="#330000"/><rect x="220.2" y="2409.9" width="15" height="19.6" fill="#4c0000"/><rect x="234.5" y="2409.9" width="15" height="19.6" fill="#cc0000"/><rect x="134" y="2428.9" width="15" height="19.6" fill="#808080"/><rect x="148.4" y="2428.9" width="15" height="19.6" fill="#004c1f"/><rect x="162.7" y="2428.9" width="15" height="19.6" fill="#006629"/><rect x="177.1" y="2428.9" width="15" height="19.6" fill="#006629"/><rect x="191.4" y="2428.9" width="15" height="19.6" fill="#808080"/><rect x="205.8" y="2428.9" width="15" height="19.6" fill="#808080"/><rect x="220.2" y="2428.9" width="15" height="19.6" fill="#cc0000"/><rect x="234.5" y="2428.9" width="15" height="19.6" fill="#990000"/><rect x="134" y="2447.9" width="15" height="19.6" fill="#330000"/><rect x="148.4" y="2447.9" width="15" height="19.6" fill="#808080"/><rect x="162.7" y="2447.9" width="15" height="19.6" fill="#003314"/><rect x="177.1" y="2447.9" width="15" height="19.6" fill="#003314"/><rect x="191.4" y="2447.9" width="15" height="19.6" fill="#001a0a"/><rect x="205.8" y="2447.9" width="15" height="19.6" fill="#004c1f"/><rect x="220.2" y="2447.9" width="15" height="19.6" fill="#660000"/><rect x="234.5" y="2447.9" width="15" height="19.6" fill="#ff0000"/></g>
<g stroke="#000" stroke-width="1.6"><line x1="12" y1="1818.7" x2="68.5" y2="1818.7"/><line x1="70.2" y1="1818.7" x2="125.9" y2="1818.7"/></g>
<text transform="translate(15.8,1808.1) scale(0.897,1)" font-size="16.4">healthy</text>
<text transform="translate(72.5,1796.3) scale(0.835,1)" font-size="16.4"><tspan x="0" y="0" font-style="italic">Listeria-</tspan></text>
<text transform="translate(69.9,1814.1) scale(0.939,1)" font-size="16.4">infected</text>
<text transform="translate(13.3,1833.7) scale(0.950,1)" font-size="11.4">h1</text>
<text transform="translate(27.8,1833.7) scale(0.950,1)" font-size="11.4">h2</text>
<text transform="translate(42.1,1833.7) scale(0.950,1)" font-size="11.4">h3</text>
<text transform="translate(56.4,1833.7) scale(0.950,1)" font-size="11.4">h4</text>
<text transform="translate(70.9,1833.7) scale(0.950,1)" font-size="11.4">L2</text>
<text transform="translate(85.2,1833.7) scale(0.950,1)" font-size="11.4">L3</text>
<text transform="translate(99.5,1833.7) scale(0.950,1)" font-size="11.4">L4</text>
<text transform="translate(114,1833.7) scale(0.950,1)" font-size="11.4">L1</text>
<g stroke="#000" stroke-width="1.6"><line x1="133.7" y1="1818.7" x2="190.2" y2="1818.7"/><line x1="192" y1="1818.7" x2="247.6" y2="1818.7"/></g>
<text transform="translate(137.5,1808.1) scale(0.897,1)" font-size="16.4">healthy</text>
<text transform="translate(194.2,1796.3) scale(0.835,1)" font-size="16.4"><tspan x="0" y="0" font-style="italic">Listeria-</tspan></text>
<text transform="translate(191.6,1814.1) scale(0.939,1)" font-size="16.4">infected</text>
<text transform="translate(135,1833.7) scale(0.950,1)" font-size="11.4">h1</text>
<text transform="translate(149.5,1833.7) scale(0.950,1)" font-size="11.4">h2</text>
<text transform="translate(163.8,1833.7) scale(0.950,1)" font-size="11.4">h3</text>
<text transform="translate(178.1,1833.7) scale(0.950,1)" font-size="11.4">h4</text>
<text transform="translate(192.6,1833.7) scale(0.950,1)" font-size="11.4">L2</text>
<text transform="translate(206.9,1833.7) scale(0.950,1)" font-size="11.4">L3</text>
<text transform="translate(221.2,1833.7) scale(0.950,1)" font-size="11.4">L4</text>
<text transform="translate(235.7,1833.7) scale(0.950,1)" font-size="11.4">L1</text>
<text transform="translate(32,2483.7) scale(0.920,1)" font-size="21">imputed</text>
<text transform="translate(142.7,2483.7) scale(0.917,1)" font-size="21">unimputed</text>
<defs><linearGradient id="g2" x1="0" x2="1" y1="0" y2="0"><stop offset="0" stop-color="#00ff66"/><stop offset="0.499" stop-color="#000"/><stop offset="1" stop-color="#ff0000"/></linearGradient></defs>
<rect x="277.8" y="1737.3" width="299.8" height="4.8" fill="url(#g2)"/>
<g stroke="#6a6a6a" stroke-width="1.2"><line x1="277.8" y1="1751.1" x2="577.6" y2="1751.1"/><line x1="314.5" y1="1748.9" x2="314.5" y2="1751.1"/><line x1="353.5" y1="1748.9" x2="353.5" y2="1751.1"/><line x1="390" y1="1748.9" x2="390" y2="1751.1"/><line x1="427.5" y1="1748.9" x2="427.5" y2="1751.1"/><line x1="464.5" y1="1748.9" x2="464.5" y2="1751.1"/><line x1="501.5" y1="1748.9" x2="501.5" y2="1751.1"/><line x1="538.5" y1="1748.9" x2="538.5" y2="1751.1"/><line x1="575.6" y1="1748.9" x2="575.6" y2="1751.1"/></g>
<g stroke-width="1.6"><line x1="286.8" y1="1742.1" x2="286.8" y2="1751.1" stroke="#555"/><line x1="427.5" y1="1742.1" x2="427.5" y2="1751.1" stroke="#444"/><line x1="569" y1="1742.1" x2="569" y2="1751.1" stroke="#6b2a2a"/></g>
<text transform="translate(294.4,1770) scale(0.950,1)" font-size="19.5">-1.5</text>
<text transform="translate(342.3,1770) scale(0.950,1)" font-size="19.5">-1</text>
<text transform="translate(370.2,1770) scale(0.950,1)" font-size="19.5">-0.5</text>
<text transform="translate(422.3,1770) scale(0.950,1)" font-size="19.5">0</text>
<text transform="translate(450.8,1770) scale(0.950,1)" font-size="19.5">0.5</text>
<text transform="translate(494.4,1770) scale(0.950,1)" font-size="19.5">1</text>
<text transform="translate(523.1,1770) scale(0.950,1)" font-size="19.5">1.5</text>
<text transform="translate(570.5,1770) scale(0.950,1)" font-size="19.5">2</text>
<text transform="translate(347.9,1728.3) scale(0.941,1)" font-size="30">TMT-labeled</text>
<text transform="translate(350.4,1791.2) scale(0.867,1)" font-size="20.5">z-scored intensities</text>
<text transform="translate(262.2,1827.7) scale(0.887,1)" font-size="19.5"><tspan x="0" y="0" font-weight="bold">Peptide sequence</tspan></text>
<text transform="translate(439.3,1827.7) scale(0.887,1)" font-size="19.5"><tspan x="0" y="0" font-weight="bold">Gene names</tspan></text>
<text transform="translate(571.8,1827.7) scale(0.887,1)" font-size="19.5"><tspan x="0" y="0" font-weight="bold">HLA allele</tspan></text>
<text transform="translate(265.4,1853.2) scale(0.910,1)" font-size="14.5">VIPELDGK</text>
<text transform="translate(425.8,1853.2) scale(1.000,1)" font-size="14.5">gcvPA</text>
<text transform="translate(491.8,1853.2) scale(1.000,1)" font-size="14.5">LMON_1412</text>
<text transform="translate(599,1853.2) scale(1.000,1)" font-size="14.5">A*68:02</text>
<text transform="translate(264.9,1872.3) scale(0.910,1)" font-size="14.5">QSSYRVGSIGLH</text>
<text transform="translate(491.8,1872.3) scale(1.000,1)" font-size="14.5">LMON_0627</text>
<text transform="translate(599,1872.3) scale(1.000,1)" font-size="14.5">A*68:02</text>
<text transform="translate(265.2,1891.4) scale(0.910,1)" font-size="14.5">TNSEIILPV*</text>
<text transform="translate(491.8,1891.4) scale(1.000,1)" font-size="14.5">LMON_0423</text>
<text transform="translate(599,1891.4) scale(1.000,1)" font-size="14.5">A*68:02</text>
<text transform="translate(264.4,1910.5) scale(0.910,1)" font-size="14.5">DIIFPNQTLQV</text>
<text transform="translate(491.8,1910.5) scale(1.000,1)" font-size="14.5">LMON_2534</text>
<text transform="translate(599,1910.5) scale(1.000,1)" font-size="14.5">A*03:19</text>
<text transform="translate(264.9,1929.6) scale(0.910,1)" font-size="14.5">SINMPSLPV</text>
<text transform="translate(431.7,1929.6) scale(1.000,1)" font-size="14.5">actA</text>
<text transform="translate(491.8,1929.6) scale(1.000,1)" font-size="14.5">LMON_0202</text>
<text transform="translate(599,1929.6) scale(1.000,1)" font-size="14.5">A*03:19</text>
<text transform="translate(265.2,1948.7) scale(0.910,1)" font-size="14.5">TVVAIAAGL*</text>
<text transform="translate(491.8,1948.7) scale(1.000,1)" font-size="14.5">LMON_2534</text>
<text transform="translate(599,1948.7) scale(1.000,1)" font-size="14.5">A*68:02</text>
<text transform="translate(264.4,1967.7) scale(0.910,1)" font-size="14.5">NAISSLTYPGALV</text>
<text transform="translate(421.3,1967.7) scale(1.000,1)" font-size="14.5">hly/LLO</text>
<text transform="translate(491.8,1967.7) scale(1.000,1)" font-size="14.5">LMON_0200</text>
<text transform="translate(599,1967.7) scale(1.000,1)" font-size="14.5">A*68:02</text>
<text transform="translate(264.9,1986.8) scale(0.910,1)" font-size="14.5">SVPGFLTL</text>
<text transform="translate(491.8,1986.8) scale(1.000,1)" font-size="14.5">LMON_2803</text>
<text transform="translate(599,1986.8) scale(1.000,1)" font-size="14.5">A*03:19</text>
<text transform="translate(264.3,2005.9) scale(0.910,1)" font-size="14.5">IAYGEAILL</text>
<text transform="translate(429,2005.9) scale(1.000,1)" font-size="14.5">BceB</text>
<text transform="translate(491.8,2005.9) scale(1.000,1)" font-size="14.5">LMON_1812</text>
<text transform="translate(599,2005.9) scale(1.000,1)" font-size="14.5">A*03:19</text>
<text transform="translate(265.2,2025) scale(0.910,1)" font-size="14.5">TIRSKTGLLIDPY</text>
<text transform="translate(431.8,2025) scale(1.000,1)" font-size="14.5">glpK</text>
<text transform="translate(491.8,2025) scale(1.000,1)" font-size="14.5">LMON_1604</text>
<text transform="translate(597.8,2025) scale(1.000,1)" font-size="14.5">B*15:03</text>
<text transform="translate(264.4,2044.1) scale(0.910,1)" font-size="14.5">EISQVIVGV</text>
<text transform="translate(433.9,2044.1) scale(1.000,1)" font-size="14.5">ftsA</text>
<text transform="translate(491.8,2044.1) scale(1.000,1)" font-size="14.5">LMON_2104</text>
<text transform="translate(599,2044.1) scale(1.000,1)" font-size="14.5">A*68:02</text>
<text transform="translate(264.4,2063.2) scale(0.910,1)" font-size="14.5">NASDIISEIGL</text>
<text transform="translate(428.1,2063.2) scale(1.000,1)" font-size="14.5">PdhD</text>
<text transform="translate(491.8,2063.2) scale(1.000,1)" font-size="14.5">LMON_1065</text>
<text transform="translate(599,2063.2) scale(1.000,1)" font-size="14.5">A*68:02</text>
<text transform="translate(264.4,2082.3) scale(0.910,1)" font-size="14.5">ETFGPVIPL</text>
<text transform="translate(491.8,2082.3) scale(1.000,1)" font-size="14.5">LMON_0920</text>
<text transform="translate(599,2082.3) scale(1.000,1)" font-size="14.5">A*68:02</text>
<text transform="translate(264.4,2101.4) scale(0.910,1)" font-size="14.5">NASDIISEIGLA</text>
<text transform="translate(428.1,2101.4) scale(1.000,1)" font-size="14.5">PdhD</text>
<text transform="translate(491.8,2101.4) scale(1.000,1)" font-size="14.5">LMON_1065</text>
<text transform="translate(599,2101.4) scale(1.000,1)" font-size="14.5">A*68:02</text>
<text transform="translate(264.4,2120.5) scale(0.910,1)" font-size="14.5">FTIEEPFAA</text>
<text transform="translate(429.1,2120.5) scale(1.000,1)" font-size="14.5">mreB</text>
<text transform="translate(491.8,2120.5) scale(1.000,1)" font-size="14.5">LMON_1614</text>
<text transform="translate(599,2120.5) scale(1.000,1)" font-size="14.5">A*68:02</text>
<text transform="translate(264.9,2139.6) scale(0.910,1)" font-size="14.5">QVFPDPGLANAV</text>
<text transform="translate(433.8,2139.6) scale(1.000,1)" font-size="14.5">inlC</text>
<text transform="translate(491.8,2139.6) scale(1.000,1)" font-size="14.5">LMON_1853</text>
<text transform="translate(599,2139.6) scale(1.000,1)" font-size="14.5">A*68:02</text>
<text transform="translate(265.4,2158.6) scale(0.910,1)" font-size="14.5">VGVPYIVVF</text>
<text transform="translate(416.9,2158.6) scale(1.000,1)" font-size="14.5">tuf/EF-Tu</text>
<text transform="translate(491.8,2158.6) scale(1.000,1)" font-size="14.5">LMON_2676</text>
<text transform="translate(597.8,2158.6) scale(1.000,1)" font-size="14.5">B*15:03</text>
<text transform="translate(264.3,2177.7) scale(0.910,1)" font-size="14.5">IQSLAGMQF</text>
<text transform="translate(433.8,2177.7) scale(1.000,1)" font-size="14.5">inlC</text>
<text transform="translate(491.8,2177.7) scale(1.000,1)" font-size="14.5">LMON_1853</text>
<text transform="translate(597.8,2177.7) scale(1.000,1)" font-size="14.5">B*15:03</text>
<text transform="translate(264.4,2196.8) scale(0.910,1)" font-size="14.5">HLPEFTNEV</text>
<text transform="translate(434.3,2196.8) scale(1.000,1)" font-size="14.5">inlB</text>
<text transform="translate(491.8,2196.8) scale(1.000,1)" font-size="14.5">LMON_0442</text>
<text transform="translate(599,2196.8) scale(1.000,1)" font-size="14.5">A*03:19</text>
<text transform="translate(264.4,2215.9) scale(0.910,1)" font-size="14.5">EVIGTAILI</text>
<text transform="translate(491.8,2215.9) scale(1.000,1)" font-size="14.5">LMON_1605</text>
<text transform="translate(599,2215.9) scale(1.000,1)" font-size="14.5">A*68:02</text>
<text transform="translate(264.4,2235) scale(0.910,1)" font-size="14.5">EVHDGFFKV</text>
<text transform="translate(434.4,2235) scale(1.000,1)" font-size="14.5">gap</text>
<text transform="translate(491.8,2235) scale(1.000,1)" font-size="14.5">LMON_2470</text>
<text transform="translate(599,2235) scale(1.000,1)" font-size="14.5">A*68:02</text>
<text transform="translate(264.4,2254.1) scale(0.910,1)" font-size="14.5">EVISFKQIYYNV*</text>
<text transform="translate(421.3,2254.1) scale(1.000,1)" font-size="14.5">hly/LLO</text>
<text transform="translate(491.8,2254.1) scale(1.000,1)" font-size="14.5">LMON_0200</text>
<text transform="translate(599,2254.1) scale(1.000,1)" font-size="14.5">A*68:02</text>
<text transform="translate(264.9,2273.2) scale(0.910,1)" font-size="14.5">SVVGLIGNA</text>
<text transform="translate(431.2,2273.2) scale(1.000,1)" font-size="14.5">fabG</text>
<text transform="translate(491.8,2273.2) scale(1.000,1)" font-size="14.5">LMON_1875</text>
<text transform="translate(599,2273.2) scale(1.000,1)" font-size="14.5">A*68:02</text>
<text transform="translate(264.4,2292.3) scale(0.910,1)" font-size="14.5">ETAPSLDSSFTSGDLASL</text>
<text transform="translate(431.7,2292.3) scale(1.000,1)" font-size="14.5">actA</text>
<text transform="translate(491.8,2292.3) scale(1.000,1)" font-size="14.5">LMON_0202</text>
<text transform="translate(599,2292.3) scale(1.000,1)" font-size="14.5">A*68:02</text>
<text transform="translate(264.4,2311.4) scale(0.910,1)" font-size="14.5">HVNIGTIGHV</text>
<text transform="translate(416.9,2311.4) scale(1.000,1)" font-size="14.5">tuf/EF-Tu</text>
<text transform="translate(491.8,2311.4) scale(1.000,1)" font-size="14.5">LMON_2676</text>
<text transform="translate(599,2311.4) scale(1.000,1)" font-size="14.5">A*68:02</text>
<text transform="translate(264.9,2330.4) scale(0.910,1)" font-size="14.5">QTIFVPFTL</text>
<text transform="translate(491.8,2330.4) scale(1.000,1)" font-size="14.5">LMON_0611</text>
<text transform="translate(599,2330.4) scale(1.000,1)" font-size="14.5">A*68:02</text>
<text transform="translate(265.4,2349.5) scale(0.910,1)" font-size="14.5">VAYGRQVYL*</text>
<text transform="translate(421.3,2349.5) scale(1.000,1)" font-size="14.5">hly/LLO</text>
<text transform="translate(491.8,2349.5) scale(1.000,1)" font-size="14.5">LMON_0200</text>
<text transform="translate(599,2349.5) scale(1.000,1)" font-size="14.5">A*03:19</text>
<text transform="translate(264.4,2368.6) scale(0.910,1)" font-size="14.5">EVFDKYFEL*</text>
<text transform="translate(434.5,2368.6) scale(1.000,1)" font-size="14.5">FtsI</text>
<text transform="translate(491.8,2368.6) scale(1.000,1)" font-size="14.5">LMON_1501</text>
<text transform="translate(599,2368.6) scale(1.000,1)" font-size="14.5">A*68:02</text>
<text transform="translate(265.2,2387.7) scale(0.910,1)" font-size="14.5">TTFGPGIKVDPASL*</text>
<text transform="translate(433.2,2387.7) scale(1.000,1)" font-size="14.5">rplA</text>
<text transform="translate(491.8,2387.7) scale(1.000,1)" font-size="14.5">LMON_0249</text>
<text transform="translate(599,2387.7) scale(1.000,1)" font-size="14.5">A*68:02</text>
<text transform="translate(264.4,2406.8) scale(0.910,1)" font-size="14.5">DLFDRAFVV</text>
<text transform="translate(434.5,2406.8) scale(1.000,1)" font-size="14.5">FtsI</text>
<text transform="translate(491.8,2406.8) scale(1.000,1)" font-size="14.5">LMON_1501</text>
<text transform="translate(599,2406.8) scale(1.000,1)" font-size="14.5">A*68:02</text>
<text transform="translate(264.4,2425.9) scale(0.910,1)" font-size="14.5">ETFFPQKESYV*</text>
<text transform="translate(427.6,2425.9) scale(1.000,1)" font-size="14.5">OppA</text>
<text transform="translate(491.8,2425.9) scale(1.000,1)" font-size="14.5">LMON_0149</text>
<text transform="translate(599,2425.9) scale(1.000,1)" font-size="14.5">A*68:02</text>
<text transform="translate(264.4,2445) scale(0.910,1)" font-size="14.5">ESFSNVVTI</text>
<text transform="translate(491.8,2445) scale(1.000,1)" font-size="14.5">LMON_0179</text>
<text transform="translate(599,2445) scale(1.000,1)" font-size="14.5">A*68:02</text>
<text transform="translate(264.9,2464.1) scale(0.910,1)" font-size="14.5">QVFEGLYTL</text>
<text transform="translate(428.4,2464.1) scale(1.000,1)" font-size="14.5">Oppa</text>
<text transform="translate(491.8,2464.1) scale(1.000,1)" font-size="14.5">LMON_0149</text>
<text transform="translate(599,2464.1) scale(1.000,1)" font-size="14.5">A*03:19</text>
<g shape-rendering="crispEdges"><rect x="673.3" y="1479.4" width="15" height="19.6" fill="#006629"/><rect x="687.7" y="1479.4" width="15" height="19.6" fill="#001a0a"/><rect x="702.1" y="1479.4" width="15" height="19.6" fill="#330000"/><rect x="716.6" y="1479.4" width="15" height="19.6" fill="#330000"/><rect x="731" y="1479.4" width="15" height="19.6" fill="#800000"/><rect x="745.4" y="1479.4" width="15" height="19.6" fill="#00993d"/><rect x="759.9" y="1479.4" width="15" height="19.6" fill="#ff0000"/><rect x="774.3" y="1479.4" width="15" height="19.6" fill="#4c0000"/><rect x="673.3" y="1498.4" width="15" height="19.6" fill="#800000"/><rect x="687.7" y="1498.4" width="15" height="19.6" fill="#800000"/><rect x="702.1" y="1498.4" width="15" height="19.6" fill="#800000"/><rect x="716.6" y="1498.4" width="15" height="19.6" fill="#00ff66"/><rect x="731" y="1498.4" width="15" height="19.6" fill="#330000"/><rect x="745.4" y="1498.4" width="15" height="19.6" fill="#000000"/><rect x="759.9" y="1498.4" width="15" height="19.6" fill="#4c0000"/><rect x="774.3" y="1498.4" width="15" height="19.6" fill="#1a0000"/><rect x="673.3" y="1517.3" width="15" height="19.6" fill="#003314"/><rect x="687.7" y="1517.3" width="15" height="19.6" fill="#330000"/><rect x="702.1" y="1517.3" width="15" height="19.6" fill="#001a0a"/><rect x="716.6" y="1517.3" width="15" height="19.6" fill="#00e65c"/><rect x="731" y="1517.3" width="15" height="19.6" fill="#990000"/><rect x="745.4" y="1517.3" width="15" height="19.6" fill="#b20000"/><rect x="759.9" y="1517.3" width="15" height="19.6" fill="#4c0000"/><rect x="774.3" y="1517.3" width="15" height="19.6" fill="#990000"/><rect x="673.3" y="1536.3" width="15" height="19.6" fill="#006629"/><rect x="687.7" y="1536.3" width="15" height="19.6" fill="#1a0000"/><rect x="702.1" y="1536.3" width="15" height="19.6" fill="#800000"/><rect x="716.6" y="1536.3" width="15" height="19.6" fill="#00cc52"/><rect x="731" y="1536.3" width="15" height="19.6" fill="#b20000"/><rect x="745.4" y="1536.3" width="15" height="19.6" fill="#b20000"/><rect x="759.9" y="1536.3" width="15" height="19.6" fill="#001a0a"/><rect x="774.3" y="1536.3" width="15" height="19.6" fill="#990000"/><rect x="673.3" y="1555.2" width="15" height="19.6" fill="#1a0000"/><rect x="687.7" y="1555.2" width="15" height="19.6" fill="#000000"/><rect x="702.1" y="1555.2" width="15" height="19.6" fill="#b20000"/><rect x="716.6" y="1555.2" width="15" height="19.6" fill="#00cc52"/><rect x="731" y="1555.2" width="15" height="19.6" fill="#990000"/><rect x="745.4" y="1555.2" width="15" height="19.6" fill="#b20000"/><rect x="759.9" y="1555.2" width="15" height="19.6" fill="#008033"/><rect x="774.3" y="1555.2" width="15" height="19.6" fill="#4c0000"/><rect x="673.3" y="1574.2" width="15" height="19.6" fill="#001a0a"/><rect x="687.7" y="1574.2" width="15" height="19.6" fill="#1a0000"/><rect x="702.1" y="1574.2" width="15" height="19.6" fill="#000000"/><rect x="716.6" y="1574.2" width="15" height="19.6" fill="#004c1f"/><rect x="731" y="1574.2" width="15" height="19.6" fill="#b20000"/><rect x="745.4" y="1574.2" width="15" height="19.6" fill="#330000"/><rect x="759.9" y="1574.2" width="15" height="19.6" fill="#ff0000"/><rect x="774.3" y="1574.2" width="15" height="19.6" fill="#00993d"/><rect x="673.3" y="1593.2" width="15" height="19.6" fill="#008033"/><rect x="687.7" y="1593.2" width="15" height="19.6" fill="#800000"/><rect x="702.1" y="1593.2" width="15" height="19.6" fill="#330000"/><rect x="716.6" y="1593.2" width="15" height="19.6" fill="#006629"/><rect x="731" y="1593.2" width="15" height="19.6" fill="#990000"/><rect x="745.4" y="1593.2" width="15" height="19.6" fill="#4c0000"/><rect x="759.9" y="1593.2" width="15" height="19.6" fill="#e60000"/><rect x="774.3" y="1593.2" width="15" height="19.6" fill="#008033"/><rect x="673.3" y="1612.1" width="15" height="19.6" fill="#003314"/><rect x="687.7" y="1612.1" width="15" height="19.6" fill="#003314"/><rect x="702.1" y="1612.1" width="15" height="19.6" fill="#4c0000"/><rect x="716.6" y="1612.1" width="15" height="19.6" fill="#00993d"/><rect x="731" y="1612.1" width="15" height="19.6" fill="#cc0000"/><rect x="745.4" y="1612.1" width="15" height="19.6" fill="#800000"/><rect x="759.9" y="1612.1" width="15" height="19.6" fill="#cc0000"/><rect x="774.3" y="1612.1" width="15" height="19.6" fill="#004c1f"/><rect x="673.3" y="1631.1" width="15" height="19.6" fill="#004c1f"/><rect x="687.7" y="1631.1" width="15" height="19.6" fill="#001a0a"/><rect x="702.1" y="1631.1" width="15" height="19.6" fill="#330000"/><rect x="716.6" y="1631.1" width="15" height="19.6" fill="#008033"/><rect x="731" y="1631.1" width="15" height="19.6" fill="#cc0000"/><rect x="745.4" y="1631.1" width="15" height="19.6" fill="#b20000"/><rect x="759.9" y="1631.1" width="15" height="19.6" fill="#cc0000"/><rect x="774.3" y="1631.1" width="15" height="19.6" fill="#004c1f"/><rect x="673.3" y="1650" width="15" height="19.6" fill="#004c1f"/><rect x="687.7" y="1650" width="15" height="19.6" fill="#4c0000"/><rect x="702.1" y="1650" width="15" height="19.6" fill="#00993d"/><rect x="716.6" y="1650" width="15" height="19.6" fill="#00993d"/><rect x="731" y="1650" width="15" height="19.6" fill="#cc0000"/><rect x="745.4" y="1650" width="15" height="19.6" fill="#4c0000"/><rect x="759.9" y="1650" width="15" height="19.6" fill="#b20000"/><rect x="774.3" y="1650" width="15" height="19.6" fill="#800000"/><rect x="673.3" y="1669" width="15" height="19.6" fill="#00b247"/><rect x="687.7" y="1669" width="15" height="19.6" fill="#1a0000"/><rect x="702.1" y="1669" width="15" height="19.6" fill="#003314"/><rect x="716.6" y="1669" width="15" height="19.6" fill="#006629"/><rect x="731" y="1669" width="15" height="19.6" fill="#800000"/><rect x="745.4" y="1669" width="15" height="19.6" fill="#990000"/><rect x="759.9" y="1669" width="15" height="19.6" fill="#b20000"/><rect x="774.3" y="1669" width="15" height="19.6" fill="#990000"/><rect x="673.3" y="1688" width="15" height="19.6" fill="#000000"/><rect x="687.7" y="1688" width="15" height="19.6" fill="#003314"/><rect x="702.1" y="1688" width="15" height="19.6" fill="#003314"/><rect x="716.6" y="1688" width="15" height="19.6" fill="#00cc52"/><rect x="731" y="1688" width="15" height="19.6" fill="#800000"/><rect x="745.4" y="1688" width="15" height="19.6" fill="#990000"/><rect x="759.9" y="1688" width="15" height="19.6" fill="#e60000"/><rect x="774.3" y="1688" width="15" height="19.6" fill="#4c0000"/><rect x="673.3" y="1706.9" width="15" height="19.6" fill="#004c1f"/><rect x="687.7" y="1706.9" width="15" height="19.6" fill="#003314"/><rect x="702.1" y="1706.9" width="15" height="19.6" fill="#006629"/><rect x="716.6" y="1706.9" width="15" height="19.6" fill="#006629"/><rect x="731" y="1706.9" width="15" height="19.6" fill="#990000"/><rect x="745.4" y="1706.9" width="15" height="19.6" fill="#660000"/><rect x="759.9" y="1706.9" width="15" height="19.6" fill="#ff0000"/><rect x="774.3" y="1706.9" width="15" height="19.6" fill="#330000"/><rect x="673.3" y="1725.9" width="15" height="19.6" fill="#003314"/><rect x="687.7" y="1725.9" width="15" height="19.6" fill="#003314"/><rect x="702.1" y="1725.9" width="15" height="19.6" fill="#008033"/><rect x="716.6" y="1725.9" width="15" height="19.6" fill="#008033"/><rect x="731" y="1725.9" width="15" height="19.6" fill="#990000"/><rect x="745.4" y="1725.9" width="15" height="19.6" fill="#660000"/><rect x="759.9" y="1725.9" width="15" height="19.6" fill="#cc0000"/><rect x="774.3" y="1725.9" width="15" height="19.6" fill="#990000"/><rect x="673.3" y="1744.8" width="15" height="19.6" fill="#006629"/><rect x="687.7" y="1744.8" width="15" height="19.6" fill="#003314"/><rect x="702.1" y="1744.8" width="15" height="19.6" fill="#003314"/><rect x="716.6" y="1744.8" width="15" height="19.6" fill="#00b247"/><rect x="731" y="1744.8" width="15" height="19.6" fill="#cc0000"/><rect x="745.4" y="1744.8" width="15" height="19.6" fill="#990000"/><rect x="759.9" y="1744.8" width="15" height="19.6" fill="#660000"/><rect x="774.3" y="1744.8" width="15" height="19.6" fill="#b20000"/><rect x="673.3" y="1763.8" width="15" height="19.6" fill="#004c1f"/><rect x="687.7" y="1763.8" width="15" height="19.6" fill="#003314"/><rect x="702.1" y="1763.8" width="15" height="19.6" fill="#006629"/><rect x="716.6" y="1763.8" width="15" height="19.6" fill="#00993d"/><rect x="731" y="1763.8" width="15" height="19.6" fill="#b20000"/><rect x="745.4" y="1763.8" width="15" height="19.6" fill="#b20000"/><rect x="759.9" y="1763.8" width="15" height="19.6" fill="#cc0000"/><rect x="774.3" y="1763.8" width="15" height="19.6" fill="#660000"/><rect x="673.3" y="1782.8" width="15" height="19.6" fill="#006629"/><rect x="687.7" y="1782.8" width="15" height="19.6" fill="#004c1f"/><rect x="702.1" y="1782.8" width="15" height="19.6" fill="#006629"/><rect x="716.6" y="1782.8" width="15" height="19.6" fill="#006629"/><rect x="731" y="1782.8" width="15" height="19.6" fill="#b20000"/><rect x="745.4" y="1782.8" width="15" height="19.6" fill="#990000"/><rect x="759.9" y="1782.8" width="15" height="19.6" fill="#cc0000"/><rect x="774.3" y="1782.8" width="15" height="19.6" fill="#660000"/><rect x="673.3" y="1801.7" width="15" height="19.6" fill="#004c1f"/><rect x="687.7" y="1801.7" width="15" height="19.6" fill="#004c1f"/><rect x="702.1" y="1801.7" width="15" height="19.6" fill="#004c1f"/><rect x="716.6" y="1801.7" width="15" height="19.6" fill="#008033"/><rect x="731" y="1801.7" width="15" height="19.6" fill="#cc0000"/><rect x="745.4" y="1801.7" width="15" height="19.6" fill="#b20000"/><rect x="759.9" y="1801.7" width="15" height="19.6" fill="#b20000"/><rect x="774.3" y="1801.7" width="15" height="19.6" fill="#660000"/><rect x="673.3" y="1820.7" width="15" height="19.6" fill="#006629"/><rect x="687.7" y="1820.7" width="15" height="19.6" fill="#004c1f"/><rect x="702.1" y="1820.7" width="15" height="19.6" fill="#004c1f"/><rect x="716.6" y="1820.7" width="15" height="19.6" fill="#008033"/><rect x="731" y="1820.7" width="15" height="19.6" fill="#b20000"/><rect x="745.4" y="1820.7" width="15" height="19.6" fill="#b20000"/><rect x="759.9" y="1820.7" width="15" height="19.6" fill="#b20000"/><rect x="774.3" y="1820.7" width="15" height="19.6" fill="#990000"/><rect x="673.3" y="1839.6" width="15" height="19.6" fill="#008033"/><rect x="687.7" y="1839.6" width="15" height="19.6" fill="#006629"/><rect x="702.1" y="1839.6" width="15" height="19.6" fill="#001a0a"/><rect x="716.6" y="1839.6" width="15" height="19.6" fill="#008033"/><rect x="731" y="1839.6" width="15" height="19.6" fill="#b20000"/><rect x="745.4" y="1839.6" width="15" height="19.6" fill="#990000"/><rect x="759.9" y="1839.6" width="15" height="19.6" fill="#b20000"/><rect x="774.3" y="1839.6" width="15" height="19.6" fill="#800000"/><rect x="673.3" y="1858.6" width="15" height="19.6" fill="#003314"/><rect x="687.7" y="1858.6" width="15" height="19.6" fill="#4c0000"/><rect x="702.1" y="1858.6" width="15" height="19.6" fill="#004c1f"/><rect x="716.6" y="1858.6" width="15" height="19.6" fill="#00cc52"/><rect x="731" y="1858.6" width="15" height="19.6" fill="#cc0000"/><rect x="745.4" y="1858.6" width="15" height="19.6" fill="#b20000"/><rect x="759.9" y="1858.6" width="15" height="19.6" fill="#990000"/><rect x="774.3" y="1858.6" width="15" height="19.6" fill="#000000"/></g>
<g shape-rendering="crispEdges"><rect x="796.3" y="1479.4" width="14.8" height="19.6" fill="#808080"/><rect x="810.5" y="1479.4" width="14.8" height="19.6" fill="#808080"/><rect x="824.7" y="1479.4" width="14.8" height="19.6" fill="#808080"/><rect x="838.9" y="1479.4" width="14.8" height="19.6" fill="#808080"/><rect x="853" y="1479.4" width="14.8" height="19.6" fill="#4c0000"/><rect x="867.2" y="1479.4" width="14.8" height="19.6" fill="#808080"/><rect x="881.4" y="1479.4" width="14.8" height="19.6" fill="#ff0000"/><rect x="895.6" y="1479.4" width="14.8" height="19.6" fill="#808080"/><rect x="796.3" y="1498.4" width="14.8" height="19.6" fill="#808080"/><rect x="810.5" y="1498.4" width="14.8" height="19.6" fill="#808080"/><rect x="824.7" y="1498.4" width="14.8" height="19.6" fill="#808080"/><rect x="838.9" y="1498.4" width="14.8" height="19.6" fill="#808080"/><rect x="853" y="1498.4" width="14.8" height="19.6" fill="#001a0a"/><rect x="867.2" y="1498.4" width="14.8" height="19.6" fill="#004c1f"/><rect x="881.4" y="1498.4" width="14.8" height="19.6" fill="#330000"/><rect x="895.6" y="1498.4" width="14.8" height="19.6" fill="#808080"/><rect x="796.3" y="1517.3" width="14.8" height="19.6" fill="#008033"/><rect x="810.5" y="1517.3" width="14.8" height="19.6" fill="#001a0a"/><rect x="824.7" y="1517.3" width="14.8" height="19.6" fill="#006629"/><rect x="838.9" y="1517.3" width="14.8" height="19.6" fill="#808080"/><rect x="853" y="1517.3" width="14.8" height="19.6" fill="#660000"/><rect x="867.2" y="1517.3" width="14.8" height="19.6" fill="#990000"/><rect x="881.4" y="1517.3" width="14.8" height="19.6" fill="#1a0000"/><rect x="895.6" y="1517.3" width="14.8" height="19.6" fill="#800000"/><rect x="796.3" y="1536.3" width="14.8" height="19.6" fill="#808080"/><rect x="810.5" y="1536.3" width="14.8" height="19.6" fill="#808080"/><rect x="824.7" y="1536.3" width="14.8" height="19.6" fill="#808080"/><rect x="838.9" y="1536.3" width="14.8" height="19.6" fill="#808080"/><rect x="853" y="1536.3" width="14.8" height="19.6" fill="#800000"/><rect x="867.2" y="1536.3" width="14.8" height="19.6" fill="#b20000"/><rect x="881.4" y="1536.3" width="14.8" height="19.6" fill="#808080"/><rect x="895.6" y="1536.3" width="14.8" height="19.6" fill="#660000"/><rect x="796.3" y="1555.2" width="14.8" height="19.6" fill="#808080"/><rect x="810.5" y="1555.2" width="14.8" height="19.6" fill="#004c1f"/><rect x="824.7" y="1555.2" width="14.8" height="19.6" fill="#800000"/><rect x="838.9" y="1555.2" width="14.8" height="19.6" fill="#808080"/><rect x="853" y="1555.2" width="14.8" height="19.6" fill="#660000"/><rect x="867.2" y="1555.2" width="14.8" height="19.6" fill="#b20000"/><rect x="881.4" y="1555.2" width="14.8" height="19.6" fill="#808080"/><rect x="895.6" y="1555.2" width="14.8" height="19.6" fill="#1a0000"/><rect x="796.3" y="1574.2" width="14.8" height="19.6" fill="#004c1f"/><rect x="810.5" y="1574.2" width="14.8" height="19.6" fill="#808080"/><rect x="824.7" y="1574.2" width="14.8" height="19.6" fill="#808080"/><rect x="838.9" y="1574.2" width="14.8" height="19.6" fill="#808080"/><rect x="853" y="1574.2" width="14.8" height="19.6" fill="#800000"/><rect x="867.2" y="1574.2" width="14.8" height="19.6" fill="#808080"/><rect x="881.4" y="1574.2" width="14.8" height="19.6" fill="#ff0000"/><rect x="895.6" y="1574.2" width="14.8" height="19.6" fill="#808080"/><rect x="796.3" y="1593.2" width="14.8" height="19.6" fill="#808080"/><rect x="810.5" y="1593.2" width="14.8" height="19.6" fill="#808080"/><rect x="824.7" y="1593.2" width="14.8" height="19.6" fill="#808080"/><rect x="838.9" y="1593.2" width="14.8" height="19.6" fill="#808080"/><rect x="853" y="1593.2" width="14.8" height="19.6" fill="#660000"/><rect x="867.2" y="1593.2" width="14.8" height="19.6" fill="#808080"/><rect x="881.4" y="1593.2" width="14.8" height="19.6" fill="#e60000"/><rect x="895.6" y="1593.2" width="14.8" height="19.6" fill="#808080"/><rect x="796.3" y="1612.1" width="14.8" height="19.6" fill="#808080"/><rect x="810.5" y="1612.1" width="14.8" height="19.6" fill="#808080"/><rect x="824.7" y="1612.1" width="14.8" height="19.6" fill="#330000"/><rect x="838.9" y="1612.1" width="14.8" height="19.6" fill="#808080"/><rect x="853" y="1612.1" width="14.8" height="19.6" fill="#b20000"/><rect x="867.2" y="1612.1" width="14.8" height="19.6" fill="#4c0000"/><rect x="881.4" y="1612.1" width="14.8" height="19.6" fill="#cc0000"/><rect x="895.6" y="1612.1" width="14.8" height="19.6" fill="#808080"/><rect x="796.3" y="1631.1" width="14.8" height="19.6" fill="#808080"/><rect x="810.5" y="1631.1" width="14.8" height="19.6" fill="#808080"/><rect x="824.7" y="1631.1" width="14.8" height="19.6" fill="#808080"/><rect x="838.9" y="1631.1" width="14.8" height="19.6" fill="#808080"/><rect x="853" y="1631.1" width="14.8" height="19.6" fill="#b20000"/><rect x="867.2" y="1631.1" width="14.8" height="19.6" fill="#990000"/><rect x="881.4" y="1631.1" width="14.8" height="19.6" fill="#b20000"/><rect x="895.6" y="1631.1" width="14.8" height="19.6" fill="#808080"/><rect x="796.3" y="1650" width="14.8" height="19.6" fill="#00993d"/><rect x="810.5" y="1650" width="14.8" height="19.6" fill="#1a0000"/><rect x="824.7" y="1650" width="14.8" height="19.6" fill="#00ff66"/><rect x="838.9" y="1650" width="14.8" height="19.6" fill="#808080"/><rect x="853" y="1650" width="14.8" height="19.6" fill="#990000"/><rect x="867.2" y="1650" width="14.8" height="19.6" fill="#330000"/><rect x="881.4" y="1650" width="14.8" height="19.6" fill="#990000"/><rect x="895.6" y="1650" width="14.8" height="19.6" fill="#4c0000"/><rect x="796.3" y="1669" width="14.8" height="19.6" fill="#808080"/><rect x="810.5" y="1669" width="14.8" height="19.6" fill="#001a0a"/><rect x="824.7" y="1669" width="14.8" height="19.6" fill="#808080"/><rect x="838.9" y="1669" width="14.8" height="19.6" fill="#00cc52"/><rect x="853" y="1669" width="14.8" height="19.6" fill="#4c0000"/><rect x="867.2" y="1669" width="14.8" height="19.6" fill="#660000"/><rect x="881.4" y="1669" width="14.8" height="19.6" fill="#990000"/><rect x="895.6" y="1669" width="14.8" height="19.6" fill="#800000"/><rect x="796.3" y="1688" width="14.8" height="19.6" fill="#808080"/><rect x="810.5" y="1688" width="14.8" height="19.6" fill="#808080"/><rect x="824.7" y="1688" width="14.8" height="19.6" fill="#808080"/><rect x="838.9" y="1688" width="14.8" height="19.6" fill="#808080"/><rect x="853" y="1688" width="14.8" height="19.6" fill="#4c0000"/><rect x="867.2" y="1688" width="14.8" height="19.6" fill="#660000"/><rect x="881.4" y="1688" width="14.8" height="19.6" fill="#cc0000"/><rect x="895.6" y="1688" width="14.8" height="19.6" fill="#1a0000"/><rect x="796.3" y="1706.9" width="14.8" height="19.6" fill="#808080"/><rect x="810.5" y="1706.9" width="14.8" height="19.6" fill="#808080"/><rect x="824.7" y="1706.9" width="14.8" height="19.6" fill="#808080"/><rect x="838.9" y="1706.9" width="14.8" height="19.6" fill="#808080"/><rect x="853" y="1706.9" width="14.8" height="19.6" fill="#660000"/><rect x="867.2" y="1706.9" width="14.8" height="19.6" fill="#330000"/><rect x="881.4" y="1706.9" width="14.8" height="19.6" fill="#ff0000"/><rect x="895.6" y="1706.9" width="14.8" height="19.6" fill="#000000"/><rect x="796.3" y="1725.9" width="14.8" height="19.6" fill="#808080"/><rect x="810.5" y="1725.9" width="14.8" height="19.6" fill="#808080"/><rect x="824.7" y="1725.9" width="14.8" height="19.6" fill="#808080"/><rect x="838.9" y="1725.9" width="14.8" height="19.6" fill="#808080"/><rect x="853" y="1725.9" width="14.8" height="19.6" fill="#800000"/><rect x="867.2" y="1725.9" width="14.8" height="19.6" fill="#4c0000"/><rect x="881.4" y="1725.9" width="14.8" height="19.6" fill="#cc0000"/><rect x="895.6" y="1725.9" width="14.8" height="19.6" fill="#800000"/><rect x="796.3" y="1744.8" width="14.8" height="19.6" fill="#808080"/><rect x="810.5" y="1744.8" width="14.8" height="19.6" fill="#808080"/><rect x="824.7" y="1744.8" width="14.8" height="19.6" fill="#808080"/><rect x="838.9" y="1744.8" width="14.8" height="19.6" fill="#808080"/><rect x="853" y="1744.8" width="14.8" height="19.6" fill="#990000"/><rect x="867.2" y="1744.8" width="14.8" height="19.6" fill="#800000"/><rect x="881.4" y="1744.8" width="14.8" height="19.6" fill="#330000"/><rect x="895.6" y="1744.8" width="14.8" height="19.6" fill="#990000"/><rect x="796.3" y="1763.8" width="14.8" height="19.6" fill="#808080"/><rect x="810.5" y="1763.8" width="14.8" height="19.6" fill="#808080"/><rect x="824.7" y="1763.8" width="14.8" height="19.6" fill="#808080"/><rect x="838.9" y="1763.8" width="14.8" height="19.6" fill="#808080"/><rect x="853" y="1763.8" width="14.8" height="19.6" fill="#800000"/><rect x="867.2" y="1763.8" width="14.8" height="19.6" fill="#990000"/><rect x="881.4" y="1763.8" width="14.8" height="19.6" fill="#b20000"/><rect x="895.6" y="1763.8" width="14.8" height="19.6" fill="#4c0000"/><rect x="796.3" y="1782.8" width="14.8" height="19.6" fill="#808080"/><rect x="810.5" y="1782.8" width="14.8" height="19.6" fill="#808080"/><rect x="824.7" y="1782.8" width="14.8" height="19.6" fill="#808080"/><rect x="838.9" y="1782.8" width="14.8" height="19.6" fill="#808080"/><rect x="853" y="1782.8" width="14.8" height="19.6" fill="#800000"/><rect x="867.2" y="1782.8" width="14.8" height="19.6" fill="#800000"/><rect x="881.4" y="1782.8" width="14.8" height="19.6" fill="#cc0000"/><rect x="895.6" y="1782.8" width="14.8" height="19.6" fill="#330000"/><rect x="796.3" y="1801.7" width="14.8" height="19.6" fill="#808080"/><rect x="810.5" y="1801.7" width="14.8" height="19.6" fill="#808080"/><rect x="824.7" y="1801.7" width="14.8" height="19.6" fill="#00b247"/><rect x="838.9" y="1801.7" width="14.8" height="19.6" fill="#808080"/><rect x="853" y="1801.7" width="14.8" height="19.6" fill="#b20000"/><rect x="867.2" y="1801.7" width="14.8" height="19.6" fill="#800000"/><rect x="881.4" y="1801.7" width="14.8" height="19.6" fill="#800000"/><rect x="895.6" y="1801.7" width="14.8" height="19.6" fill="#330000"/><rect x="796.3" y="1820.7" width="14.8" height="19.6" fill="#808080"/><rect x="810.5" y="1820.7" width="14.8" height="19.6" fill="#808080"/><rect x="824.7" y="1820.7" width="14.8" height="19.6" fill="#808080"/><rect x="838.9" y="1820.7" width="14.8" height="19.6" fill="#808080"/><rect x="853" y="1820.7" width="14.8" height="19.6" fill="#800000"/><rect x="867.2" y="1820.7" width="14.8" height="19.6" fill="#800000"/><rect x="881.4" y="1820.7" width="14.8" height="19.6" fill="#800000"/><rect x="895.6" y="1820.7" width="14.8" height="19.6" fill="#800000"/><rect x="796.3" y="1839.6" width="14.8" height="19.6" fill="#808080"/><rect x="810.5" y="1839.6" width="14.8" height="19.6" fill="#808080"/><rect x="824.7" y="1839.6" width="14.8" height="19.6" fill="#808080"/><rect x="838.9" y="1839.6" width="14.8" height="19.6" fill="#808080"/><rect x="853" y="1839.6" width="14.8" height="19.6" fill="#990000"/><rect x="867.2" y="1839.6" width="14.8" height="19.6" fill="#800000"/><rect x="881.4" y="1839.6" width="14.8" height="19.6" fill="#990000"/><rect x="895.6" y="1839.6" width="14.8" height="19.6" fill="#4c0000"/><rect x="796.3" y="1858.6" width="14.8" height="19.6" fill="#808080"/><rect x="810.5" y="1858.6" width="14.8" height="19.6" fill="#808080"/><rect x="824.7" y="1858.6" width="14.8" height="19.6" fill="#808080"/><rect x="838.9" y="1858.6" width="14.8" height="19.6" fill="#808080"/><rect x="853" y="1858.6" width="14.8" height="19.6" fill="#b20000"/><rect x="867.2" y="1858.6" width="14.8" height="19.6" fill="#990000"/><rect x="881.4" y="1858.6" width="14.8" height="19.6" fill="#660000"/><rect x="895.6" y="1858.6" width="14.8" height="19.6" fill="#004c1f"/></g>
<g stroke="#000" stroke-width="1.6"><line x1="673" y1="1457.9" x2="729.6" y2="1457.9"/><line x1="731.3" y1="1457.9" x2="787" y2="1457.9"/></g>
<text transform="translate(676.8,1447.3) scale(0.897,1)" font-size="16.4">healthy</text>
<text transform="translate(733.5,1435.5) scale(0.835,1)" font-size="16.4"><tspan x="0" y="0" font-style="italic">Listeria-</tspan></text>
<text transform="translate(730.9,1453.3) scale(0.939,1)" font-size="16.4">infected</text>
<text transform="translate(674.4,1472.9) scale(0.950,1)" font-size="11.4">h1</text>
<text transform="translate(688.8,1472.9) scale(0.950,1)" font-size="11.4">h2</text>
<text transform="translate(703,1472.9) scale(0.950,1)" font-size="11.4">h4</text>
<text transform="translate(717.5,1472.9) scale(0.950,1)" font-size="11.4">h3</text>
<text transform="translate(731.9,1472.9) scale(0.950,1)" font-size="11.4">L3</text>
<text transform="translate(746.2,1472.9) scale(0.950,1)" font-size="11.4">L4</text>
<text transform="translate(760.7,1472.9) scale(0.950,1)" font-size="11.4">L2</text>
<text transform="translate(775.1,1472.9) scale(0.950,1)" font-size="11.4">L1</text>
<g stroke="#000" stroke-width="1.6"><line x1="795.3" y1="1457.9" x2="851.9" y2="1457.9"/><line x1="853.6" y1="1457.9" x2="909.3" y2="1457.9"/></g>
<text transform="translate(799.1,1447.3) scale(0.897,1)" font-size="16.4">healthy</text>
<text transform="translate(855.8,1435.5) scale(0.835,1)" font-size="16.4"><tspan x="0" y="0" font-style="italic">Listeria-</tspan></text>
<text transform="translate(853.2,1453.3) scale(0.939,1)" font-size="16.4">infected</text>
<text transform="translate(796.7,1472.9) scale(0.950,1)" font-size="11.4">h1</text>
<text transform="translate(811.1,1472.9) scale(0.950,1)" font-size="11.4">h2</text>
<text transform="translate(825.3,1472.9) scale(0.950,1)" font-size="11.4">h4</text>
<text transform="translate(839.8,1472.9) scale(0.950,1)" font-size="11.4">h3</text>
<text transform="translate(854.2,1472.9) scale(0.950,1)" font-size="11.4">L3</text>
<text transform="translate(868.5,1472.9) scale(0.950,1)" font-size="11.4">L4</text>
<text transform="translate(883,1472.9) scale(0.950,1)" font-size="11.4">L2</text>
<text transform="translate(897.4,1472.9) scale(0.950,1)" font-size="11.4">L1</text>
<text transform="translate(696,1899.7) scale(0.938,1)" font-size="21">imputed</text>
<text transform="translate(807.3,1899.7) scale(0.927,1)" font-size="21">unimputed</text>
<defs><linearGradient id="g3" x1="0" x2="1" y1="0" y2="0"><stop offset="0" stop-color="#00ff66"/><stop offset="0.499" stop-color="#000"/><stop offset="1" stop-color="#ff0000"/></linearGradient></defs>
<rect x="945.7" y="1386.7" width="304" height="4.8" fill="url(#g3)"/>
<g stroke="#6a6a6a" stroke-width="1.2"><line x1="945.7" y1="1400" x2="1249.7" y2="1400"/><line x1="968" y1="1397.8" x2="968" y2="1400"/><line x1="1004.4" y1="1397.8" x2="1004.4" y2="1400"/><line x1="1042" y1="1397.8" x2="1042" y2="1400"/><line x1="1080.5" y1="1397.8" x2="1080.5" y2="1400"/><line x1="1115.2" y1="1397.8" x2="1115.2" y2="1400"/><line x1="1153.5" y1="1397.8" x2="1153.5" y2="1400"/><line x1="1191.4" y1="1397.8" x2="1191.4" y2="1400"/><line x1="1229.6" y1="1397.8" x2="1229.6" y2="1400"/></g>
<g stroke-width="1.6"><line x1="954.1" y1="1391.5" x2="954.1" y2="1400" stroke="#555"/><line x1="1097.3" y1="1391.5" x2="1097.3" y2="1400" stroke="#444"/><line x1="1241" y1="1391.5" x2="1241" y2="1400" stroke="#6b2a2a"/></g>
<text transform="translate(956.6,1421) scale(0.950,1)" font-size="19.5">-2</text>
<text transform="translate(985,1421) scale(0.950,1)" font-size="19.5">-1.5</text>
<text transform="translate(1030.8,1421) scale(0.950,1)" font-size="19.5">-1</text>
<text transform="translate(1061.9,1421) scale(0.950,1)" font-size="19.5">-0.5</text>
<text transform="translate(1110,1421) scale(0.950,1)" font-size="19.5">0</text>
<text transform="translate(1141.6,1421) scale(0.950,1)" font-size="19.5">0.5</text>
<text transform="translate(1186,1421) scale(0.950,1)" font-size="19.5">1</text>
<text transform="translate(1218.2,1421) scale(0.950,1)" font-size="19.5">1.5</text>
<text transform="translate(1024.2,1376.4) scale(0.951,1)" font-size="30">Label-free</text>
<text transform="translate(1008.6,1438.1) scale(0.867,1)" font-size="20.5">z-scored intensities</text>
<text transform="translate(916.8,1470.5) scale(0.887,1)" font-size="19.5"><tspan x="0" y="0" font-weight="bold">Peptide sequence</tspan></text>
<text transform="translate(1078.3,1470.5) scale(0.887,1)" font-size="19.5"><tspan x="0" y="0" font-weight="bold">Gene names</tspan></text>
<text transform="translate(1196,1470.5) scale(0.887,1)" font-size="19.5"><tspan x="0" y="0" font-weight="bold">HLA allele</tspan></text>
<text transform="translate(925.4,1493.3) scale(0.940,1)" font-size="14.5">LTYPGALVKA*</text>
<text transform="translate(1061.3,1493.3) scale(1.000,1)" font-size="14.5">hly/LLO</text>
<text transform="translate(1125.6,1493.3) scale(1.000,1)" font-size="14.5">LMON_0200</text>
<text transform="translate(1221,1493.3) scale(1.000,1)" font-size="14.5">A*01:01</text>
<text transform="translate(925.4,1512.4) scale(0.940,1)" font-size="14.5">KIDYDDEMAY</text>
<text transform="translate(1061.3,1512.4) scale(1.000,1)" font-size="14.5">hly/LLO</text>
<text transform="translate(1125.6,1512.4) scale(1.000,1)" font-size="14.5">LMON_0200</text>
<text transform="translate(1221,1512.4) scale(1.000,1)" font-size="14.5">A*01:01</text>
<text transform="translate(925.4,1531.5) scale(0.940,1)" font-size="14.5">DSELESLTY*</text>
<text transform="translate(1071.7,1531.5) scale(1.000,1)" font-size="14.5">actA</text>
<text transform="translate(1125.6,1531.5) scale(1.000,1)" font-size="14.5">LMON_0202</text>
<text transform="translate(1221,1531.5) scale(1.000,1)" font-size="14.5">A*01:01</text>
<text transform="translate(925.4,1550.6) scale(0.940,1)" font-size="14.5">KINDLFYLV</text>
<text transform="translate(1074.8,1550.6) scale(1.000,1)" font-size="14.5">mpl</text>
<text transform="translate(1125.6,1550.6) scale(1.000,1)" font-size="14.5">LMON_0201</text>
<text transform="translate(1221,1550.6) scale(1.000,1)" font-size="14.5">A*02:01</text>
<text transform="translate(926.2,1569.7) scale(0.940,1)" font-size="14.5">TTLTAAITTVLAK</text>
<text transform="translate(1056.9,1569.7) scale(1.000,1)" font-size="14.5">tuf/EF-Tu</text>
<text transform="translate(1125.6,1569.7) scale(1.000,1)" font-size="14.5">LMON_2676</text>
<text transform="translate(1221,1569.7) scale(1.000,1)" font-size="14.5">A*01:01</text>
<text transform="translate(926.4,1588.8) scale(0.940,1)" font-size="14.5">VLQQIIHDV</text>
<text transform="translate(1077.1,1588.8) scale(1.000,1)" font-size="14.5">ctc</text>
<text transform="translate(1125.6,1588.8) scale(1.000,1)" font-size="14.5">LMON_0209</text>
<text transform="translate(1221,1588.8) scale(1.000,1)" font-size="14.5">A*02:01</text>
<text transform="translate(926.2,1608) scale(0.940,1)" font-size="14.5">YLDESVKSFVDY</text>
<text transform="translate(1125.6,1608) scale(1.000,1)" font-size="14.5">LMON_0933</text>
<text transform="translate(1221,1608) scale(1.000,1)" font-size="14.5">A*01:01</text>
<text transform="translate(925.4,1627.1) scale(0.940,1)" font-size="14.5">EEIFDVKVA</text>
<text transform="translate(1071.2,1627.1) scale(1.000,1)" font-size="14.5">rplW</text>
<text transform="translate(1125.6,1627.1) scale(1.000,1)" font-size="14.5">LMON_2651</text>
<text transform="translate(1219.8,1627.1) scale(1.000,1)" font-size="14.5">B*45:01</text>
<text transform="translate(926.5,1646.2) scale(0.940,1)" font-size="14.5">ATDPTTLEI</text>
<text transform="translate(1125.6,1646.2) scale(1.000,1)" font-size="14.5">LMON_0149</text>
<text transform="translate(1221,1646.2) scale(1.000,1)" font-size="14.5">A*01:01</text>
<text transform="translate(925.4,1665.3) scale(0.940,1)" font-size="14.5">HTDSGSLFY</text>
<text transform="translate(1125.6,1665.3) scale(1.000,1)" font-size="14.5">LMON_0884</text>
<text transform="translate(1221,1665.3) scale(1.000,1)" font-size="14.5">A*01:01</text>
<text transform="translate(926.2,1684.4) scale(0.940,1)" font-size="14.5">TTELQTLIY*</text>
<text transform="translate(1076,1684.4) scale(1.000,1)" font-size="14.5">rex</text>
<text transform="translate(1125.6,1684.4) scale(1.000,1)" font-size="14.5">LMON_2142</text>
<text transform="translate(1221,1684.4) scale(1.000,1)" font-size="14.5">A*01:01</text>
<text transform="translate(925.9,1703.5) scale(0.940,1)" font-size="14.5">SESQLIAKFGTA</text>
<text transform="translate(1061.3,1703.5) scale(1.000,1)" font-size="14.5">hly/LLO</text>
<text transform="translate(1125.6,1703.5) scale(1.000,1)" font-size="14.5">LMON_0200</text>
<text transform="translate(1219.8,1703.5) scale(1.000,1)" font-size="14.5">B*18:01</text>
<text transform="translate(925.4,1722.6) scale(0.940,1)" font-size="14.5">KIYHGPIYL</text>
<text transform="translate(1071.9,1722.6) scale(1.000,1)" font-size="14.5">plcA</text>
<text transform="translate(1125.6,1722.6) scale(1.000,1)" font-size="14.5">LMON_0199</text>
<text transform="translate(1221,1722.6) scale(1.000,1)" font-size="14.5">A*02:01</text>
<text transform="translate(926.2,1741.7) scale(0.940,1)" font-size="14.5">YLFDAIKNGGDIVA</text>
<text transform="translate(1125.6,1741.7) scale(1.000,1)" font-size="14.5">LMON_2272</text>
<text transform="translate(1221,1741.7) scale(1.000,1)" font-size="14.5">A*02:01</text>
<text transform="translate(925.4,1760.8) scale(0.940,1)" font-size="14.5">NTDYMSGNDFTLY</text>
<text transform="translate(1074.3,1760.8) scale(1.000,1)" font-size="14.5">inlB</text>
<text transform="translate(1125.6,1760.8) scale(1.000,1)" font-size="14.5">LMON_0442</text>
<text transform="translate(1221,1760.8) scale(1.000,1)" font-size="14.5">A*01:01</text>
<text transform="translate(926.4,1779.9) scale(0.940,1)" font-size="14.5">VSDEDVDKKFNEY</text>
<text transform="translate(1071.1,1779.9) scale(1.000,1)" font-size="14.5">prsA</text>
<text transform="translate(1125.6,1779.9) scale(1.000,1)" font-size="14.5">LMON_2295</text>
<text transform="translate(1221,1779.9) scale(1.000,1)" font-size="14.5">A*01:01</text>
<text transform="translate(925.4,1799.1) scale(0.940,1)" font-size="14.5">LTDDVAIQPLY*</text>
<text transform="translate(1125.6,1799.1) scale(1.000,1)" font-size="14.5">LMON_2272</text>
<text transform="translate(1221,1799.1) scale(1.000,1)" font-size="14.5">A*01:01</text>
<text transform="translate(926.4,1818.2) scale(0.940,1)" font-size="14.5">VTDLLKNMY</text>
<text transform="translate(1069.1,1818.2) scale(1.000,1)" font-size="14.5">pdhA</text>
<text transform="translate(1125.6,1818.2) scale(1.000,1)" font-size="14.5">LMON_1062</text>
<text transform="translate(1221,1818.2) scale(1.000,1)" font-size="14.5">A*01:01</text>
<text transform="translate(926.2,1837.3) scale(0.940,1)" font-size="14.5">YMSGNDFTLY*</text>
<text transform="translate(1074.3,1837.3) scale(1.000,1)" font-size="14.5">inlB</text>
<text transform="translate(1125.6,1837.3) scale(1.000,1)" font-size="14.5">LMON_0442</text>
<text transform="translate(1221,1837.3) scale(1.000,1)" font-size="14.5">A*01:01</text>
<text transform="translate(925.4,1856.4) scale(0.940,1)" font-size="14.5">LSDYFNNHMSY</text>
<text transform="translate(1125.6,1856.4) scale(1.000,1)" font-size="14.5">LMON_0149</text>
<text transform="translate(1221,1856.4) scale(1.000,1)" font-size="14.5">A*01:01</text>
<text transform="translate(925.4,1875.5) scale(0.940,1)" font-size="14.5">RTDSGDHLVY</text>
<text transform="translate(1125.6,1875.5) scale(1.000,1)" font-size="14.5">LMON_0149</text>
<text transform="translate(1221,1875.5) scale(1.000,1)" font-size="14.5">A*01:01</text>
<g shape-rendering="crispEdges"><rect x="673.8" y="2053.3" width="15" height="19.6" fill="#1a0000"/><rect x="688.2" y="2053.3" width="15" height="19.6" fill="#003314"/><rect x="702.6" y="2053.3" width="15" height="19.6" fill="#00b247"/><rect x="717" y="2053.3" width="15" height="19.6" fill="#b20000"/><rect x="731.4" y="2053.3" width="15" height="19.6" fill="#800000"/><rect x="745.8" y="2053.3" width="15" height="19.6" fill="#00993d"/><rect x="760.2" y="2053.3" width="15" height="19.6" fill="#1a0000"/><rect x="774.6" y="2053.3" width="15" height="19.6" fill="#990000"/><rect x="673.8" y="2072.3" width="15" height="19.6" fill="#008033"/><rect x="688.2" y="2072.3" width="15" height="19.6" fill="#660000"/><rect x="702.6" y="2072.3" width="15" height="19.6" fill="#990000"/><rect x="717" y="2072.3" width="15" height="19.6" fill="#003314"/><rect x="731.4" y="2072.3" width="15" height="19.6" fill="#1a0000"/><rect x="745.8" y="2072.3" width="15" height="19.6" fill="#4c0000"/><rect x="760.2" y="2072.3" width="15" height="19.6" fill="#00e65c"/><rect x="774.6" y="2072.3" width="15" height="19.6" fill="#b20000"/><rect x="673.8" y="2091.3" width="15" height="19.6" fill="#006629"/><rect x="688.2" y="2091.3" width="15" height="19.6" fill="#004c1f"/><rect x="702.6" y="2091.3" width="15" height="19.6" fill="#001a0a"/><rect x="717" y="2091.3" width="15" height="19.6" fill="#001a0a"/><rect x="731.4" y="2091.3" width="15" height="19.6" fill="#b20000"/><rect x="745.8" y="2091.3" width="15" height="19.6" fill="#001a0a"/><rect x="760.2" y="2091.3" width="15" height="19.6" fill="#006629"/><rect x="774.6" y="2091.3" width="15" height="19.6" fill="#ff0000"/><rect x="673.8" y="2110.3" width="15" height="19.6" fill="#b20000"/><rect x="688.2" y="2110.3" width="15" height="19.6" fill="#008033"/><rect x="702.6" y="2110.3" width="15" height="19.6" fill="#004c1f"/><rect x="717" y="2110.3" width="15" height="19.6" fill="#004c1f"/><rect x="731.4" y="2110.3" width="15" height="19.6" fill="#990000"/><rect x="745.8" y="2110.3" width="15" height="19.6" fill="#1a0000"/><rect x="760.2" y="2110.3" width="15" height="19.6" fill="#00993d"/><rect x="774.6" y="2110.3" width="15" height="19.6" fill="#cc0000"/><rect x="673.8" y="2129.3" width="15" height="19.6" fill="#4c0000"/><rect x="688.2" y="2129.3" width="15" height="19.6" fill="#008033"/><rect x="702.6" y="2129.3" width="15" height="19.6" fill="#4c0000"/><rect x="717" y="2129.3" width="15" height="19.6" fill="#00b247"/><rect x="731.4" y="2129.3" width="15" height="19.6" fill="#b20000"/><rect x="745.8" y="2129.3" width="15" height="19.6" fill="#001a0a"/><rect x="760.2" y="2129.3" width="15" height="19.6" fill="#004c1f"/><rect x="774.6" y="2129.3" width="15" height="19.6" fill="#cc0000"/><rect x="673.8" y="2148.3" width="15" height="19.6" fill="#003314"/><rect x="688.2" y="2148.3" width="15" height="19.6" fill="#4c0000"/><rect x="702.6" y="2148.3" width="15" height="19.6" fill="#1a0000"/><rect x="717" y="2148.3" width="15" height="19.6" fill="#00cc52"/><rect x="731.4" y="2148.3" width="15" height="19.6" fill="#00993d"/><rect x="745.8" y="2148.3" width="15" height="19.6" fill="#b20000"/><rect x="760.2" y="2148.3" width="15" height="19.6" fill="#330000"/><rect x="774.6" y="2148.3" width="15" height="19.6" fill="#990000"/><rect x="673.8" y="2167.3" width="15" height="19.6" fill="#000000"/><rect x="688.2" y="2167.3" width="15" height="19.6" fill="#00e65c"/><rect x="702.6" y="2167.3" width="15" height="19.6" fill="#000000"/><rect x="717" y="2167.3" width="15" height="19.6" fill="#004c1f"/><rect x="731.4" y="2167.3" width="15" height="19.6" fill="#660000"/><rect x="745.8" y="2167.3" width="15" height="19.6" fill="#003314"/><rect x="760.2" y="2167.3" width="15" height="19.6" fill="#cc0000"/><rect x="774.6" y="2167.3" width="15" height="19.6" fill="#800000"/><rect x="673.8" y="2186.3" width="15" height="19.6" fill="#00cc52"/><rect x="688.2" y="2186.3" width="15" height="19.6" fill="#003314"/><rect x="702.6" y="2186.3" width="15" height="19.6" fill="#003314"/><rect x="717" y="2186.3" width="15" height="19.6" fill="#001a0a"/><rect x="731.4" y="2186.3" width="15" height="19.6" fill="#b20000"/><rect x="745.8" y="2186.3" width="15" height="19.6" fill="#ff0000"/><rect x="760.2" y="2186.3" width="15" height="19.6" fill="#1a0000"/><rect x="774.6" y="2186.3" width="15" height="19.6" fill="#000000"/><rect x="673.8" y="2205.3" width="15" height="19.6" fill="#00cc52"/><rect x="688.2" y="2205.3" width="15" height="19.6" fill="#004c1f"/><rect x="702.6" y="2205.3" width="15" height="19.6" fill="#003314"/><rect x="717" y="2205.3" width="15" height="19.6" fill="#003314"/><rect x="731.4" y="2205.3" width="15" height="19.6" fill="#800000"/><rect x="745.8" y="2205.3" width="15" height="19.6" fill="#660000"/><rect x="760.2" y="2205.3" width="15" height="19.6" fill="#e60000"/><rect x="774.6" y="2205.3" width="15" height="19.6" fill="#1a0000"/><rect x="673.8" y="2224.3" width="15" height="19.6" fill="#00993d"/><rect x="688.2" y="2224.3" width="15" height="19.6" fill="#008033"/><rect x="702.6" y="2224.3" width="15" height="19.6" fill="#006629"/><rect x="717" y="2224.3" width="15" height="19.6" fill="#004c1f"/><rect x="731.4" y="2224.3" width="15" height="19.6" fill="#b20000"/><rect x="745.8" y="2224.3" width="15" height="19.6" fill="#b20000"/><rect x="760.2" y="2224.3" width="15" height="19.6" fill="#4c0000"/><rect x="774.6" y="2224.3" width="15" height="19.6" fill="#800000"/><rect x="673.8" y="2243.3" width="15" height="19.6" fill="#00993d"/><rect x="688.2" y="2243.3" width="15" height="19.6" fill="#00b247"/><rect x="702.6" y="2243.3" width="15" height="19.6" fill="#004c1f"/><rect x="717" y="2243.3" width="15" height="19.6" fill="#001a0a"/><rect x="731.4" y="2243.3" width="15" height="19.6" fill="#990000"/><rect x="745.8" y="2243.3" width="15" height="19.6" fill="#990000"/><rect x="760.2" y="2243.3" width="15" height="19.6" fill="#4c0000"/><rect x="774.6" y="2243.3" width="15" height="19.6" fill="#b20000"/><rect x="673.8" y="2262.3" width="15" height="19.6" fill="#006629"/><rect x="688.2" y="2262.3" width="15" height="19.6" fill="#003314"/><rect x="702.6" y="2262.3" width="15" height="19.6" fill="#00993d"/><rect x="717" y="2262.3" width="15" height="19.6" fill="#00993d"/><rect x="731.4" y="2262.3" width="15" height="19.6" fill="#990000"/><rect x="745.8" y="2262.3" width="15" height="19.6" fill="#b20000"/><rect x="760.2" y="2262.3" width="15" height="19.6" fill="#800000"/><rect x="774.6" y="2262.3" width="15" height="19.6" fill="#800000"/><rect x="673.8" y="2281.3" width="15" height="19.6" fill="#001a0a"/><rect x="688.2" y="2281.3" width="15" height="19.6" fill="#330000"/><rect x="702.6" y="2281.3" width="15" height="19.6" fill="#1a0000"/><rect x="717" y="2281.3" width="15" height="19.6" fill="#00ff66"/><rect x="731.4" y="2281.3" width="15" height="19.6" fill="#b20000"/><rect x="745.8" y="2281.3" width="15" height="19.6" fill="#003314"/><rect x="760.2" y="2281.3" width="15" height="19.6" fill="#800000"/><rect x="774.6" y="2281.3" width="15" height="19.6" fill="#660000"/><rect x="673.8" y="2300.3" width="15" height="19.6" fill="#001a0a"/><rect x="688.2" y="2300.3" width="15" height="19.6" fill="#003314"/><rect x="702.6" y="2300.3" width="15" height="19.6" fill="#003314"/><rect x="717" y="2300.3" width="15" height="19.6" fill="#00e65c"/><rect x="731.4" y="2300.3" width="15" height="19.6" fill="#800000"/><rect x="745.8" y="2300.3" width="15" height="19.6" fill="#660000"/><rect x="760.2" y="2300.3" width="15" height="19.6" fill="#4c0000"/><rect x="774.6" y="2300.3" width="15" height="19.6" fill="#cc0000"/><rect x="673.8" y="2319.3" width="15" height="19.6" fill="#000000"/><rect x="688.2" y="2319.3" width="15" height="19.6" fill="#006629"/><rect x="702.6" y="2319.3" width="15" height="19.6" fill="#00993d"/><rect x="717" y="2319.3" width="15" height="19.6" fill="#004c1f"/><rect x="731.4" y="2319.3" width="15" height="19.6" fill="#660000"/><rect x="745.8" y="2319.3" width="15" height="19.6" fill="#b20000"/><rect x="760.2" y="2319.3" width="15" height="19.6" fill="#004c1f"/><rect x="774.6" y="2319.3" width="15" height="19.6" fill="#cc0000"/><rect x="673.8" y="2338.3" width="15" height="19.6" fill="#000000"/><rect x="688.2" y="2338.3" width="15" height="19.6" fill="#003314"/><rect x="702.6" y="2338.3" width="15" height="19.6" fill="#008033"/><rect x="717" y="2338.3" width="15" height="19.6" fill="#006629"/><rect x="731.4" y="2338.3" width="15" height="19.6" fill="#006629"/><rect x="745.8" y="2338.3" width="15" height="19.6" fill="#660000"/><rect x="760.2" y="2338.3" width="15" height="19.6" fill="#4c0000"/><rect x="774.6" y="2338.3" width="15" height="19.6" fill="#ff0000"/></g>
<g shape-rendering="crispEdges"><rect x="795.1" y="2053.3" width="15" height="19.6" fill="#1a0000"/><rect x="809.5" y="2053.3" width="15" height="19.6" fill="#808080"/><rect x="823.9" y="2053.3" width="15" height="19.6" fill="#808080"/><rect x="838.2" y="2053.3" width="15" height="19.6" fill="#b20000"/><rect x="852.6" y="2053.3" width="15" height="19.6" fill="#800000"/><rect x="867" y="2053.3" width="15" height="19.6" fill="#808080"/><rect x="881.4" y="2053.3" width="15" height="19.6" fill="#1a0000"/><rect x="895.7" y="2053.3" width="15" height="19.6" fill="#990000"/><rect x="795.1" y="2072.3" width="15" height="19.6" fill="#008033"/><rect x="809.5" y="2072.3" width="15" height="19.6" fill="#660000"/><rect x="823.9" y="2072.3" width="15" height="19.6" fill="#990000"/><rect x="838.2" y="2072.3" width="15" height="19.6" fill="#003314"/><rect x="852.6" y="2072.3" width="15" height="19.6" fill="#1a0000"/><rect x="867" y="2072.3" width="15" height="19.6" fill="#4c0000"/><rect x="881.4" y="2072.3" width="15" height="19.6" fill="#00e65c"/><rect x="895.7" y="2072.3" width="15" height="19.6" fill="#b20000"/><rect x="795.1" y="2091.3" width="15" height="19.6" fill="#006629"/><rect x="809.5" y="2091.3" width="15" height="19.6" fill="#004c1f"/><rect x="823.9" y="2091.3" width="15" height="19.6" fill="#001a0a"/><rect x="838.2" y="2091.3" width="15" height="19.6" fill="#001a0a"/><rect x="852.6" y="2091.3" width="15" height="19.6" fill="#b20000"/><rect x="867" y="2091.3" width="15" height="19.6" fill="#001a0a"/><rect x="881.4" y="2091.3" width="15" height="19.6" fill="#006629"/><rect x="895.7" y="2091.3" width="15" height="19.6" fill="#ff0000"/><rect x="795.1" y="2110.3" width="15" height="19.6" fill="#b20000"/><rect x="809.5" y="2110.3" width="15" height="19.6" fill="#008033"/><rect x="823.9" y="2110.3" width="15" height="19.6" fill="#004c1f"/><rect x="838.2" y="2110.3" width="15" height="19.6" fill="#004c1f"/><rect x="852.6" y="2110.3" width="15" height="19.6" fill="#990000"/><rect x="867" y="2110.3" width="15" height="19.6" fill="#1a0000"/><rect x="881.4" y="2110.3" width="15" height="19.6" fill="#00993d"/><rect x="895.7" y="2110.3" width="15" height="19.6" fill="#cc0000"/><rect x="795.1" y="2129.3" width="15" height="19.6" fill="#4c0000"/><rect x="809.5" y="2129.3" width="15" height="19.6" fill="#008033"/><rect x="823.9" y="2129.3" width="15" height="19.6" fill="#4c0000"/><rect x="838.2" y="2129.3" width="15" height="19.6" fill="#808080"/><rect x="852.6" y="2129.3" width="15" height="19.6" fill="#b20000"/><rect x="867" y="2129.3" width="15" height="19.6" fill="#808080"/><rect x="881.4" y="2129.3" width="15" height="19.6" fill="#004c1f"/><rect x="895.7" y="2129.3" width="15" height="19.6" fill="#cc0000"/><rect x="795.1" y="2148.3" width="15" height="19.6" fill="#003314"/><rect x="809.5" y="2148.3" width="15" height="19.6" fill="#4c0000"/><rect x="823.9" y="2148.3" width="15" height="19.6" fill="#1a0000"/><rect x="838.2" y="2148.3" width="15" height="19.6" fill="#00cc52"/><rect x="852.6" y="2148.3" width="15" height="19.6" fill="#808080"/><rect x="867" y="2148.3" width="15" height="19.6" fill="#b20000"/><rect x="881.4" y="2148.3" width="15" height="19.6" fill="#330000"/><rect x="895.7" y="2148.3" width="15" height="19.6" fill="#990000"/><rect x="795.1" y="2167.3" width="15" height="19.6" fill="#000000"/><rect x="809.5" y="2167.3" width="15" height="19.6" fill="#808080"/><rect x="823.9" y="2167.3" width="15" height="19.6" fill="#000000"/><rect x="838.2" y="2167.3" width="15" height="19.6" fill="#004c1f"/><rect x="852.6" y="2167.3" width="15" height="19.6" fill="#660000"/><rect x="867" y="2167.3" width="15" height="19.6" fill="#003314"/><rect x="881.4" y="2167.3" width="15" height="19.6" fill="#cc0000"/><rect x="895.7" y="2167.3" width="15" height="19.6" fill="#800000"/><rect x="795.1" y="2186.3" width="15" height="19.6" fill="#00cc52"/><rect x="809.5" y="2186.3" width="15" height="19.6" fill="#003314"/><rect x="823.9" y="2186.3" width="15" height="19.6" fill="#003314"/><rect x="838.2" y="2186.3" width="15" height="19.6" fill="#001a0a"/><rect x="852.6" y="2186.3" width="15" height="19.6" fill="#b20000"/><rect x="867" y="2186.3" width="15" height="19.6" fill="#ff0000"/><rect x="881.4" y="2186.3" width="15" height="19.6" fill="#1a0000"/><rect x="895.7" y="2186.3" width="15" height="19.6" fill="#000000"/><rect x="795.1" y="2205.3" width="15" height="19.6" fill="#808080"/><rect x="809.5" y="2205.3" width="15" height="19.6" fill="#004c1f"/><rect x="823.9" y="2205.3" width="15" height="19.6" fill="#003314"/><rect x="838.2" y="2205.3" width="15" height="19.6" fill="#003314"/><rect x="852.6" y="2205.3" width="15" height="19.6" fill="#800000"/><rect x="867" y="2205.3" width="15" height="19.6" fill="#660000"/><rect x="881.4" y="2205.3" width="15" height="19.6" fill="#e60000"/><rect x="895.7" y="2205.3" width="15" height="19.6" fill="#1a0000"/><rect x="795.1" y="2224.3" width="15" height="19.6" fill="#808080"/><rect x="809.5" y="2224.3" width="15" height="19.6" fill="#008033"/><rect x="823.9" y="2224.3" width="15" height="19.6" fill="#808080"/><rect x="838.2" y="2224.3" width="15" height="19.6" fill="#808080"/><rect x="852.6" y="2224.3" width="15" height="19.6" fill="#b20000"/><rect x="867" y="2224.3" width="15" height="19.6" fill="#b20000"/><rect x="881.4" y="2224.3" width="15" height="19.6" fill="#4c0000"/><rect x="895.7" y="2224.3" width="15" height="19.6" fill="#800000"/><rect x="795.1" y="2243.3" width="15" height="19.6" fill="#808080"/><rect x="809.5" y="2243.3" width="15" height="19.6" fill="#808080"/><rect x="823.9" y="2243.3" width="15" height="19.6" fill="#004c1f"/><rect x="838.2" y="2243.3" width="15" height="19.6" fill="#001a0a"/><rect x="852.6" y="2243.3" width="15" height="19.6" fill="#990000"/><rect x="867" y="2243.3" width="15" height="19.6" fill="#990000"/><rect x="881.4" y="2243.3" width="15" height="19.6" fill="#4c0000"/><rect x="895.7" y="2243.3" width="15" height="19.6" fill="#b20000"/><rect x="795.1" y="2262.3" width="15" height="19.6" fill="#808080"/><rect x="809.5" y="2262.3" width="15" height="19.6" fill="#003314"/><rect x="823.9" y="2262.3" width="15" height="19.6" fill="#808080"/><rect x="838.2" y="2262.3" width="15" height="19.6" fill="#808080"/><rect x="852.6" y="2262.3" width="15" height="19.6" fill="#990000"/><rect x="867" y="2262.3" width="15" height="19.6" fill="#b20000"/><rect x="881.4" y="2262.3" width="15" height="19.6" fill="#800000"/><rect x="895.7" y="2262.3" width="15" height="19.6" fill="#800000"/><rect x="795.1" y="2281.3" width="15" height="19.6" fill="#001a0a"/><rect x="809.5" y="2281.3" width="15" height="19.6" fill="#330000"/><rect x="823.9" y="2281.3" width="15" height="19.6" fill="#1a0000"/><rect x="838.2" y="2281.3" width="15" height="19.6" fill="#00ff66"/><rect x="852.6" y="2281.3" width="15" height="19.6" fill="#b20000"/><rect x="867" y="2281.3" width="15" height="19.6" fill="#003314"/><rect x="881.4" y="2281.3" width="15" height="19.6" fill="#800000"/><rect x="895.7" y="2281.3" width="15" height="19.6" fill="#660000"/><rect x="795.1" y="2300.3" width="15" height="19.6" fill="#001a0a"/><rect x="809.5" y="2300.3" width="15" height="19.6" fill="#003314"/><rect x="823.9" y="2300.3" width="15" height="19.6" fill="#003314"/><rect x="838.2" y="2300.3" width="15" height="19.6" fill="#00e65c"/><rect x="852.6" y="2300.3" width="15" height="19.6" fill="#800000"/><rect x="867" y="2300.3" width="15" height="19.6" fill="#660000"/><rect x="881.4" y="2300.3" width="15" height="19.6" fill="#4c0000"/><rect x="895.7" y="2300.3" width="15" height="19.6" fill="#cc0000"/><rect x="795.1" y="2319.3" width="15" height="19.6" fill="#000000"/><rect x="809.5" y="2319.3" width="15" height="19.6" fill="#006629"/><rect x="823.9" y="2319.3" width="15" height="19.6" fill="#00993d"/><rect x="838.2" y="2319.3" width="15" height="19.6" fill="#004c1f"/><rect x="852.6" y="2319.3" width="15" height="19.6" fill="#660000"/><rect x="867" y="2319.3" width="15" height="19.6" fill="#b20000"/><rect x="881.4" y="2319.3" width="15" height="19.6" fill="#004c1f"/><rect x="895.7" y="2319.3" width="15" height="19.6" fill="#cc0000"/><rect x="795.1" y="2338.3" width="15" height="19.6" fill="#000000"/><rect x="809.5" y="2338.3" width="15" height="19.6" fill="#003314"/><rect x="823.9" y="2338.3" width="15" height="19.6" fill="#008033"/><rect x="838.2" y="2338.3" width="15" height="19.6" fill="#006629"/><rect x="852.6" y="2338.3" width="15" height="19.6" fill="#808080"/><rect x="867" y="2338.3" width="15" height="19.6" fill="#660000"/><rect x="881.4" y="2338.3" width="15" height="19.6" fill="#4c0000"/><rect x="895.7" y="2338.3" width="15" height="19.6" fill="#ff0000"/></g>
<g stroke="#000" stroke-width="1.6"><line x1="673.2" y1="2031.9" x2="729.8" y2="2031.9"/><line x1="731.5" y1="2031.9" x2="787.2" y2="2031.9"/></g>
<text transform="translate(677,2021.3) scale(0.897,1)" font-size="16.4">healthy</text>
<text transform="translate(733.7,2009.5) scale(0.835,1)" font-size="16.4"><tspan x="0" y="0" font-style="italic">Listeria-</tspan></text>
<text transform="translate(731.1,2027.3) scale(0.939,1)" font-size="16.4">infected</text>
<text transform="translate(674.6,2046.9) scale(0.950,1)" font-size="11.4">h1</text>
<text transform="translate(689,2046.9) scale(0.950,1)" font-size="11.4">h2</text>
<text transform="translate(703.2,2046.9) scale(0.950,1)" font-size="11.4">h4</text>
<text transform="translate(717.7,2046.9) scale(0.950,1)" font-size="11.4">h3</text>
<text transform="translate(732.1,2046.9) scale(0.950,1)" font-size="11.4">L2</text>
<text transform="translate(746.5,2046.9) scale(0.950,1)" font-size="11.4">L3</text>
<text transform="translate(760.8,2046.9) scale(0.950,1)" font-size="11.4">L4</text>
<text transform="translate(775.3,2046.9) scale(0.950,1)" font-size="11.4">L1</text>
<g stroke="#000" stroke-width="1.6"><line x1="794.8" y1="2031.9" x2="851.4" y2="2031.9"/><line x1="853.1" y1="2031.9" x2="908.8" y2="2031.9"/></g>
<text transform="translate(798.6,2021.3) scale(0.897,1)" font-size="16.4">healthy</text>
<text transform="translate(855.3,2009.5) scale(0.835,1)" font-size="16.4"><tspan x="0" y="0" font-style="italic">Listeria-</tspan></text>
<text transform="translate(852.7,2027.3) scale(0.939,1)" font-size="16.4">infected</text>
<text transform="translate(796.2,2046.9) scale(0.950,1)" font-size="11.4">h1</text>
<text transform="translate(810.6,2046.9) scale(0.950,1)" font-size="11.4">h2</text>
<text transform="translate(824.8,2046.9) scale(0.950,1)" font-size="11.4">h4</text>
<text transform="translate(839.3,2046.9) scale(0.950,1)" font-size="11.4">h3</text>
<text transform="translate(853.7,2046.9) scale(0.950,1)" font-size="11.4">L2</text>
<text transform="translate(868.1,2046.9) scale(0.950,1)" font-size="11.4">L3</text>
<text transform="translate(882.4,2046.9) scale(0.950,1)" font-size="11.4">L4</text>
<text transform="translate(896.9,2046.9) scale(0.950,1)" font-size="11.4">L1</text>
<text transform="translate(696.3,2378.5) scale(0.929,1)" font-size="21">imputed</text>
<text transform="translate(808,2378.5) scale(0.916,1)" font-size="21">unimputed</text>
<defs><linearGradient id="g4" x1="0" x2="1" y1="0" y2="0"><stop offset="0" stop-color="#00ff66"/><stop offset="0.501" stop-color="#000"/><stop offset="1" stop-color="#ff0000"/></linearGradient></defs>
<rect x="933.1" y="1955" width="301.4" height="4.8" fill="url(#g4)"/>
<g stroke="#6a6a6a" stroke-width="1.2"><line x1="933.1" y1="1969" x2="1234.5" y2="1969"/><line x1="941.5" y1="1966.8" x2="941.5" y2="1969"/><line x1="978" y1="1966.8" x2="978" y2="1969"/><line x1="1016" y1="1966.8" x2="1016" y2="1969"/><line x1="1054" y1="1966.8" x2="1054" y2="1969"/><line x1="1091.2" y1="1966.8" x2="1091.2" y2="1969"/><line x1="1129.5" y1="1966.8" x2="1129.5" y2="1969"/><line x1="1166.7" y1="1966.8" x2="1166.7" y2="1969"/><line x1="1204.5" y1="1966.8" x2="1204.5" y2="1969"/></g>
<g stroke-width="1.6"><line x1="941.9" y1="1959.8" x2="941.9" y2="1969" stroke="#555"/><line x1="1084" y1="1959.8" x2="1084" y2="1969" stroke="#444"/><line x1="1225.7" y1="1959.8" x2="1225.7" y2="1969" stroke="#6b2a2a"/></g>
<text transform="translate(929.9,1990) scale(0.950,1)" font-size="19.5">-2</text>
<text transform="translate(958.3,1990) scale(0.950,1)" font-size="19.5">-1.5</text>
<text transform="translate(1004.2,1990) scale(0.950,1)" font-size="19.5">-1</text>
<text transform="translate(1036.4,1990) scale(0.950,1)" font-size="19.5">-0.5</text>
<text transform="translate(1086,1990) scale(0.950,1)" font-size="19.5">0</text>
<text transform="translate(1117.6,1990) scale(0.950,1)" font-size="19.5">0.5</text>
<text transform="translate(1161.3,1990) scale(0.950,1)" font-size="19.5">1</text>
<text transform="translate(1194.2,1990) scale(0.950,1)" font-size="19.5">1.5</text>
<text transform="translate(1004.2,1944.3) scale(0.945,1)" font-size="30">TMT-labeled</text>
<text transform="translate(1008.6,2011) scale(0.867,1)" font-size="20.5">z-scored intensities</text>
<text transform="translate(916.8,2044.5) scale(0.887,1)" font-size="19.5"><tspan x="0" y="0" font-weight="bold">Peptide sequence</tspan></text>
<text transform="translate(1078.3,2044.5) scale(0.887,1)" font-size="19.5"><tspan x="0" y="0" font-weight="bold">Gene names</tspan></text>
<text transform="translate(1196,2044.5) scale(0.887,1)" font-size="19.5"><tspan x="0" y="0" font-weight="bold">HLA allele</tspan></text>
<text transform="translate(925.4,2067.3) scale(0.940,1)" font-size="14.5">DALAAALGS</text>
<text transform="translate(1071.5,2067.3) scale(1.000,1)" font-size="14.5">fbaA</text>
<text transform="translate(1125.6,2067.3) scale(1.000,1)" font-size="14.5">LMON_2571</text>
<text transform="translate(1222.8,2067.3) scale(1.000,1)" font-size="14.5">B*18:01</text>
<text transform="translate(926.2,2086.4) scale(0.940,1)" font-size="14.5">YMSGNDFTLY*</text>
<text transform="translate(1074.3,2086.4) scale(1.000,1)" font-size="14.5">inlB</text>
<text transform="translate(1125.6,2086.4) scale(1.000,1)" font-size="14.5">LMON_0442</text>
<text transform="translate(1224,2086.4) scale(1.000,1)" font-size="14.5">A*01:01</text>
<text transform="translate(925.4,2105.5) scale(0.940,1)" font-size="14.5">LTDDVAIQPLY*</text>
<text transform="translate(1125.6,2105.5) scale(1.000,1)" font-size="14.5">LMON_2272</text>
<text transform="translate(1224,2105.5) scale(1.000,1)" font-size="14.5">A*01:01</text>
<text transform="translate(926.2,2124.6) scale(0.940,1)" font-size="14.5">TTELQTLIY*</text>
<text transform="translate(1076,2124.6) scale(1.000,1)" font-size="14.5">rex</text>
<text transform="translate(1125.6,2124.6) scale(1.000,1)" font-size="14.5">LMON_2142</text>
<text transform="translate(1224,2124.6) scale(1.000,1)" font-size="14.5">A*01:01</text>
<text transform="translate(926.5,2143.7) scale(0.940,1)" font-size="14.5">AEEDFTSFTA</text>
<text transform="translate(1125.6,2143.7) scale(1.000,1)" font-size="14.5">LMON_0149</text>
<text transform="translate(1222.8,2143.7) scale(1.000,1)" font-size="14.5">B*45:01</text>
<text transform="translate(926.5,2162.8) scale(0.940,1)" font-size="14.5">AIISETELF</text>
<text transform="translate(1074.4,2162.8) scale(1.000,1)" font-size="14.5">mfd</text>
<text transform="translate(1125.6,2162.8) scale(1.000,1)" font-size="14.5">LMON_0212</text>
<text transform="translate(1222.8,2162.8) scale(1.000,1)" font-size="14.5">B*15:01</text>
<text transform="translate(925.9,2181.9) scale(0.940,1)" font-size="14.5">SLSGVLETI</text>
<text transform="translate(1071.9,2181.9) scale(1.000,1)" font-size="14.5">plcA</text>
<text transform="translate(1125.6,2181.9) scale(1.000,1)" font-size="14.5">LMON_0199</text>
<text transform="translate(1224,2181.9) scale(1.000,1)" font-size="14.5">A*02:01</text>
<text transform="translate(926.5,2201) scale(0.940,1)" font-size="14.5">ATEIGSVLY</text>
<text transform="translate(1125.6,2201) scale(1.000,1)" font-size="14.5">LMON_2730</text>
<text transform="translate(1224,2201) scale(1.000,1)" font-size="14.5">A*01:01</text>
<text transform="translate(926.5,2220.1) scale(0.940,1)" font-size="14.5">ASDPETFGY</text>
<text transform="translate(1074.4,2220.1) scale(1.000,1)" font-size="14.5">gap</text>
<text transform="translate(1125.6,2220.1) scale(1.000,1)" font-size="14.5">LMON_2470</text>
<text transform="translate(1224,2220.1) scale(1.000,1)" font-size="14.5">A*01:01</text>
<text transform="translate(925.4,2239.2) scale(0.940,1)" font-size="14.5">DSELESLTY*</text>
<text transform="translate(1071.7,2239.2) scale(1.000,1)" font-size="14.5">actA</text>
<text transform="translate(1125.6,2239.2) scale(1.000,1)" font-size="14.5">LMON_0202</text>
<text transform="translate(1224,2239.2) scale(1.000,1)" font-size="14.5">A*01:01</text>
<text transform="translate(925.4,2258.3) scale(0.940,1)" font-size="14.5">LTYPGALVKA*</text>
<text transform="translate(1061.3,2258.3) scale(1.000,1)" font-size="14.5">hly/LLO</text>
<text transform="translate(1125.6,2258.3) scale(1.000,1)" font-size="14.5">LMON_0200</text>
<text transform="translate(1224,2258.3) scale(1.000,1)" font-size="14.5">A*01:01</text>
<text transform="translate(925.4,2277.4) scale(0.940,1)" font-size="14.5">NTDVNTHY</text>
<text transform="translate(1072.3,2277.4) scale(1.000,1)" font-size="14.5">plcB</text>
<text transform="translate(1125.6,2277.4) scale(1.000,1)" font-size="14.5">LMON_0203</text>
<text transform="translate(1223.3,2277.4) scale(1.000,1)" font-size="14.5">C*05:01</text>
<text transform="translate(926.4,2296.5) scale(0.940,1)" font-size="14.5">VEVVIPEEY</text>
<text transform="translate(1077,2296.5) scale(1.000,1)" font-size="14.5">fus</text>
<text transform="translate(1125.6,2296.5) scale(1.000,1)" font-size="14.5">LMON_2677</text>
<text transform="translate(1222.8,2296.5) scale(1.000,1)" font-size="14.5">B*18:01</text>
<text transform="translate(925.4,2315.6) scale(0.940,1)" font-size="14.5">EEDFTSFTA</text>
<text transform="translate(1125.6,2315.6) scale(1.000,1)" font-size="14.5">LMON_0149</text>
<text transform="translate(1222.8,2315.6) scale(1.000,1)" font-size="14.5">B*45:01</text>
<text transform="translate(925.4,2334.7) scale(0.940,1)" font-size="14.5">HLPEFTNEV</text>
<text transform="translate(1074.3,2334.7) scale(1.000,1)" font-size="14.5">inlB</text>
<text transform="translate(1125.6,2334.7) scale(1.000,1)" font-size="14.5">LMON_0442</text>
<text transform="translate(1224,2334.7) scale(1.000,1)" font-size="14.5">A*02:01</text>
<text transform="translate(926.2,2353.8) scale(0.940,1)" font-size="14.5">TIADDAVIYPI</text>
<text transform="translate(1125.6,2353.8) scale(1.000,1)" font-size="14.5">LMON_0134</text>
<text transform="translate(1223.3,2353.8) scale(1.000,1)" font-size="14.5">C*05:01</text>
<text transform="translate(1509.6,1545.4) scale(1.021,1)" font-size="27.5"><tspan x="0" y="0" font-style="italic">Listeria</tspan><tspan x="88.7" y="0"> epitopes</tspan></text>
<defs><clipPath id="vc1704"><ellipse cx="1529.8" cy="1704.2" rx="137.3" ry="141.8"/></clipPath></defs>
<ellipse cx="1529.8" cy="1704.2" rx="137.3" ry="141.8" fill="#cfe0f1"/>
<ellipse cx="1711" cy="1704.2" rx="137.3" ry="141.8" fill="#f9d8c3"/>
<ellipse cx="1711" cy="1704.2" rx="137.3" ry="141.8" fill="#d6c1b6" clip-path="url(#vc1704)"/>
<text transform="translate(1466.8,1716.2) scale(1.004,1)" font-size="29">36</text>
<text transform="translate(1741.2,1716.2) scale(0.929,1)" font-size="29">31</text>
<text transform="translate(1496.5,1822.3) scale(0.940,1)" font-size="28.7">HeLa</text>
<text transform="translate(1656.7,1822.3) scale(0.965,1)" font-size="28.7">HCT-116</text>
<text transform="translate(1571.7,1715.1) scale(0.952,1)" font-size="16.5">HLPEFTNEV</text>
<text transform="translate(1509.6,1936.4) scale(1.021,1)" font-size="27.5"><tspan x="0" y="0" font-style="italic">Listeria</tspan><tspan x="88.7" y="0"> antigens</tspan></text>
<defs><clipPath id="vc2091"><ellipse cx="1529.8" cy="2091.5" rx="137.3" ry="141.8"/></clipPath></defs>
<ellipse cx="1529.8" cy="2091.5" rx="137.3" ry="141.8" fill="#cfe0f1"/>
<ellipse cx="1711" cy="2091.5" rx="137.3" ry="141.8" fill="#f9d8c3"/>
<ellipse cx="1711" cy="2091.5" rx="137.3" ry="141.8" fill="#d6c1b6" clip-path="url(#vc2091)"/>
<text transform="translate(1466.5,2103.5) scale(1.026,1)" font-size="29">20</text>
<text transform="translate(1740.6,2103.5) scale(0.970,1)" font-size="29">15</text>
<text transform="translate(1496.5,2210.1) scale(0.940,1)" font-size="28.7">HeLa</text>
<text transform="translate(1656.7,2210.1) scale(0.965,1)" font-size="28.7">HCT-116</text>
<text transform="translate(1603,2029) scale(0.930,1)" font-size="19">LLO</text>
<text transform="translate(1605.2,2051.9) scale(0.930,1)" font-size="19">inlB</text>
<text transform="translate(1602,2074.8) scale(0.930,1)" font-size="19">actA</text>
<text transform="translate(1597,2097.7) scale(0.930,1)" font-size="19">OppA</text>
<text transform="translate(1595.7,2120.6) scale(0.930,1)" font-size="19">EF-Tu</text>
<text transform="translate(1605.3,2143.5) scale(0.930,1)" font-size="19">gap</text>
<text transform="translate(1605.8,2166.4) scale(0.930,1)" font-size="19">mpl</text>
</svg></body></html>
